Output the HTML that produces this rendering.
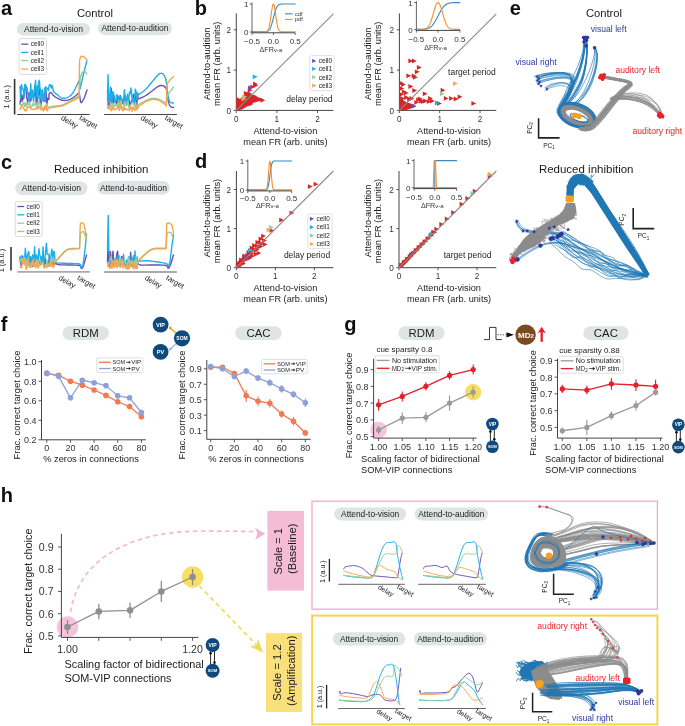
<!DOCTYPE html>
<html><head><meta charset="utf-8"><style>
html,body{margin:0;padding:0;background:#fff;}
svg{display:block;will-change:transform;font-family:"Liberation Sans", sans-serif;}
</style></head><body>
<svg width="685" height="726" viewBox="0 0 685 726">
<text x="0.9" y="14.7" font-size="20" text-anchor="start" fill="#111" font-weight="bold">a</text>
<text x="95" y="16.61" font-size="11.2" text-anchor="middle" fill="#1a1a1a">Control</text>
<rect x="17" y="23" width="73" height="12.4" rx="6.2" fill="#dfe4e4" stroke="none" stroke-width="1"/>
<text x="53.5" y="32.24" font-size="8.5" text-anchor="middle" fill="#222">Attend-to-vision</text>
<rect x="98" y="22.4" width="74" height="12.5" rx="6.25" fill="#dfe4e4" stroke="none" stroke-width="1"/>
<text x="135" y="31.14" font-size="8.5" text-anchor="middle" fill="#222">Attend-to-audition</text>
<rect x="19.2" y="38.6" width="27.3" height="35.8" rx="1.5" fill="white" stroke="#d8d8d8" stroke-width="0.9"/>
<line x1="21.2" y1="44.2" x2="28.3" y2="44.2" stroke="#6a4fb5" stroke-width="1.3"/>
<text x="30.8" y="46.49" font-size="6.4" text-anchor="start" fill="#222">cell0</text>
<line x1="21.2" y1="52.4" x2="28.3" y2="52.4" stroke="#1ab0ea" stroke-width="1.3"/>
<text x="30.8" y="54.69" font-size="6.4" text-anchor="start" fill="#222">cell1</text>
<line x1="21.2" y1="60.5" x2="28.3" y2="60.5" stroke="#90d0a0" stroke-width="1.3"/>
<text x="30.8" y="62.79" font-size="6.4" text-anchor="start" fill="#222">cell2</text>
<line x1="21.2" y1="69.1" x2="28.3" y2="69.1" stroke="#f8a54e" stroke-width="1.3"/>
<text x="30.8" y="71.39" font-size="6.4" text-anchor="start" fill="#222">cell3</text>
<line x1="14.6" y1="79" x2="14.6" y2="114.5" stroke="#333" stroke-width="1.6"/>
<text x="9.4" y="96.7" font-size="7.4" text-anchor="middle" fill="#1a1a1a" transform="rotate(-90 9.4 96.7)">1 (a.u.)</text>
<line x1="17.2" y1="114.5" x2="89.8" y2="114.5" stroke="#444" stroke-width="1"/>
<line x1="104.2" y1="114.5" x2="176.9" y2="114.5" stroke="#444" stroke-width="1"/>
<text x="60.4" y="119.3" font-size="7.6" text-anchor="start" fill="#1a1a1a" transform="rotate(30 60.4 119.3)">delay</text>
<text x="78.8" y="119.3" font-size="7.6" text-anchor="start" fill="#1a1a1a" transform="rotate(30 78.8 119.3)">target</text>
<text x="140" y="119.3" font-size="7.6" text-anchor="start" fill="#1a1a1a" transform="rotate(30 140 119.3)">delay</text>
<text x="164.3" y="119.3" font-size="7.6" text-anchor="start" fill="#1a1a1a" transform="rotate(30 164.3 119.3)">target</text>
<polyline points="20,104.25 20.97,94.21 22.12,101.56 23,94.94 23.64,98.79 24.72,86.5 25.68,85.39 26.56,96.68 27.77,102.36 28.98,92.94 29.68,92.53 30.43,101.33 31.4,98.92 32.6,94.44 33.26,93.43 34.21,96.3 35.16,85.51 36.42,105.1 37.07,101.73 37.64,86.91 38.42,94.65 39.67,88.14 40.24,103.61 40.89,105.66 42.12,94.53 43.03,98.51 44.02,93.81 45.08,101.82 45.99,90.05 46.95,104.45 47.54,98.28 48.33,99.65 48.91,99.23 49,94 49.26,93.72 49.63,93.29 50.07,92.85 50.54,92.54 51,92.5 51.44,92.81 51.87,93.38 52.33,94.08 52.86,94.83 53.5,95.5 54.25,96.12 55.08,96.75 56,97.37 56.97,97.96 58,98.5 59.1,99.02 60.29,99.53 61.53,99.98 62.78,100.32 64,100.5 65.22,100.49 66.45,100.34 67.67,100.06 68.86,99.71 70,99.3 71.08,98.83 72.11,98.27 73.11,97.64 74.07,96.98 75,96.3 75.96,95.53 76.94,94.66 77.86,93.78 78.64,93.03 79.2,92.5 80.5,101.5 80.61,101.72 80.76,102.07 80.94,102.41 81.19,102.6 81.5,102.5 81.9,102.09 82.37,101.48 82.89,100.66 83.44,99.67 84,98.5 84.62,96.95 85.31,95.02 85.99,93 86.58,91.23 87,90" fill="none" stroke="#6a4fb5" stroke-width="1.4" stroke-linejoin="round" stroke-linecap="round"/>
<polyline points="20,86.25 20.58,98.24 21.57,84.8 22.23,88.13 23.3,89.63 23.91,97.4 24.93,84.08 25.84,85.45 26.38,88.91 27.05,87.73 28.07,95.72 28.83,98.25 29.34,101.51 30.16,94.22 30.77,83.8 31.42,98.98 32.26,89.71 32.89,93.57 33.58,101.99 34.5,88.72 35.6,80.35 36.58,96.85 37.58,85.75 38.15,98.63 38.63,82.24 39.34,80.19 40.1,89.78 40.68,89.93 41.48,101.02 42.3,89.67 43.08,101.51 43.83,97.48 44.63,87.84 45.24,101.07 45.76,86.82 46.49,88.34 47.45,88.17 48.49,90.63 49,86 49.16,85.72 49.4,85.27 49.67,84.81 49.95,84.5 50.2,84.5 50.43,84.98 50.66,85.83 50.88,86.79 51.09,87.6 51.3,88 51.51,87.84 51.72,87.31 51.91,86.61 52.08,85.94 52.2,85.5 53.5,91.5 53.97,91.91 54.62,92.48 55.4,93.16 56.21,93.85 57,94.5 57.78,95.14 58.61,95.81 59.45,96.46 60.26,97.04 61,97.5 61.65,97.83 62.22,98.07 62.78,98.22 63.35,98.3 64,98.3 64.74,98.24 65.53,98.1 66.35,97.88 67.18,97.58 68,97.2 68.8,96.76 69.6,96.25 70.4,95.65 71.2,94.92 72,94 72.81,92.84 73.64,91.47 74.46,89.98 75.25,88.46 76,87 76.74,85.49 77.49,83.86 78.19,82.3 78.78,80.95 79.2,80 80.2,88.5 83,76 86.8,61" fill="none" stroke="#1ab0ea" stroke-width="1.4" stroke-linejoin="round" stroke-linecap="round"/>
<polyline points="20,104.47 20.6,103.57 21.36,105.41 22.02,105.97 23.27,103.36 24.01,102.29 24.78,106.81 25.72,102.89 26.36,105.7 27.03,102.93 28.22,105.05 29.47,102.33 30.52,106.51 31.73,106.71 32.9,103.38 34.11,105.72 34.88,103.83 35.61,102.12 36.66,105.8 37.63,107.15 38.84,100.77 39.9,102.79 40.48,106.18 41.65,106.79 42.37,107.8 43.43,108.96 44.45,109.33 45.52,107.05 46.17,108 46.74,104.25 47.53,106.76 48.31,107.18 49,107 49.8,106.86 50.92,106.67 52.24,106.45 53.64,106.22 55,106 56.32,105.85 57.68,105.74 59.08,105.62 60.52,105.39 62,105 63.52,104.41 65.08,103.66 66.68,102.82 68.32,101.91 70,101 71.88,99.98 73.96,98.83 76,97.69 77.76,96.7 79,96 80.2,78 80.43,77.27 80.76,76.22 81.14,75.02 81.57,73.89 82,73 82.46,72.33 82.96,71.74 83.48,71.3 84,71.03 84.5,71 85.01,71.33 85.54,71.98 86.06,72.78 86.49,73.51 86.8,74" fill="none" stroke="#90d0a0" stroke-width="1.4" stroke-linejoin="round" stroke-linecap="round"/>
<polyline points="20,109.42 20.72,108.53 21.83,104.55 22.68,105.87 23.74,108.86 24.3,109.14 25.12,111.07 25.82,109.82 26.52,110.41 27.08,106.79 27.75,107.12 28.53,106.71 29.38,107.68 30.34,106.86 31.3,109.49 32.14,109.49 33.17,109.37 34.27,108.82 34.83,109.01 35.8,109.32 37.04,106.63 37.75,108.63 38.62,108.6 39.17,106.49 40.24,107.16 41.09,110.03 41.77,109.23 42.56,108.44 43.43,111.04 44.39,106.26 45.52,109.35 46.12,104.82 46.84,110.52 47.43,110.86 48.16,108.3 49,108 49.8,107.86 50.92,107.67 52.24,107.45 53.64,107.22 55,107 56.32,106.85 57.68,106.74 59.08,106.62 60.52,106.39 62,106 63.52,105.4 65.08,104.64 66.68,103.78 68.32,102.88 70,102 71.88,101.06 73.96,100.02 76,99 77.76,98.12 79,97.5 79.6,60 79.76,59.46 79.98,58.66 80.26,57.78 80.6,57 81,56.5 81.5,56.3 82.09,56.29 82.74,56.43 83.39,56.68 84,57 84.62,57.49 85.27,58.16 85.89,58.9 86.42,59.55 86.8,60" fill="none" stroke="#f8a54e" stroke-width="1.4" stroke-linejoin="round" stroke-linecap="round"/>
<polyline points="107.5,90.14 108.09,102.71 109,106.66 109.6,103.71 110.3,99.47 111.13,88.27 111.88,93.22 113.01,103.73 113.81,95.46 114.5,99.8 115.46,100.72 116.51,103.75 117.68,96.44 118.3,103.67 119.19,103.88 120.15,95.33 121.11,99.04 122.33,103.42 123.38,98.23 124.12,104.51 125,95.47 126.09,105.02 127.26,104.61 128.43,97.89 129.27,101.04 129.92,105.38 130.81,102.27 131.65,100.95 132.69,100.49 133.27,94.22 134.38,104.12 135.38,94.12 136.04,96 136.68,106.62 137.85,93.73 138,99 138.95,98.62 140.3,98.11 141.86,97.49 143.49,96.78 145,96 146.42,95.12 147.85,94.12 149.27,93.06 150.66,92 152,91 153.3,90.01 154.57,89 155.79,88.02 156.94,87.17 158,86.5 158.94,86.04 159.79,85.73 160.57,85.55 161.3,85.48 162,85.5 162.68,85.62 163.33,85.85 163.93,86.17 164.49,86.56 165,87 165.47,87.55 165.89,88.24 166.27,88.94 166.57,89.57 166.8,90 168,100 168.25,100.89 168.58,102.18 169,103.64 169.47,104.99 170,106 170.66,106.61 171.46,107 172.28,107.22 173,107.37 173.5,107.5" fill="none" stroke="#6a4fb5" stroke-width="1.4" stroke-linejoin="round" stroke-linecap="round"/>
<polyline points="107.5,100 108,74.5 108.6,95 109.5,102.97 110.43,87.01 111.05,97.5 111.84,103.36 112.47,91.66 113.53,92.84 114.64,102.5 115.55,100.31 116.44,95.64 116.96,94.72 118.05,96.08 118.71,101.98 119.68,100.76 120.77,96.18 121.35,100.67 122.4,100.15 123.04,103.16 123.79,98.02 124.38,89.65 125.49,102.26 125.97,97.39 126.73,101.34 127.48,94.13 128.02,102.43 129.01,96.37 129.53,91.83 130.38,93.68 130.86,87.98 131.36,90.45 132.21,101.69 132.75,97.82 133.33,101.9 133.89,98.34 134.67,101.21 135.28,89.16 136.21,92.01 136.97,100.51 137.77,93.07 138,95 138.95,94.37 140.3,93.5 141.86,92.46 143.49,91.27 145,90 146.43,88.56 147.9,86.92 149.34,85.2 150.73,83.52 152,82 153.16,80.62 154.24,79.29 155.24,78.05 156.16,76.94 157,76 157.73,75.23 158.34,74.6 158.9,74.12 159.43,73.75 160,73.5 160.61,73.35 161.22,73.32 161.84,73.4 162.43,73.63 163,74 163.57,74.64 164.16,75.54 164.7,76.52 165.17,77.4 165.5,78 167,86 168,96 168.25,96.9 168.58,98.21 169,99.67 169.47,101.02 170,102 170.66,102.54 171.46,102.81 172.28,102.91 173,102.94 173.5,103" fill="none" stroke="#1ab0ea" stroke-width="1.4" stroke-linejoin="round" stroke-linecap="round"/>
<polyline points="107.5,104.44 108.23,108.09 109.32,107.6 110.43,104.73 111.46,106.71 112.2,103.29 112.98,106.97 113.84,107.48 114.59,104.07 115.6,105.75 116.51,104.5 117.75,107.68 118.51,100.51 119.43,108.39 120.11,103.38 121.27,100.95 121.83,106.74 122.59,108.02 123.85,107.21 124.67,101.5 125.86,105.4 126.99,104.46 128.04,101.08 128.77,107.33 129.33,108.23 130.05,107.27 130.89,104.44 131.77,102.66 132.53,103.83 133.77,103.09 134.54,105.92 135.76,102.35 136.34,109.14 137.39,105.91 137.98,107.29 138,105 138.95,104.43 140.3,103.62 141.86,102.68 143.49,101.77 145,101 146.42,100.36 147.85,99.75 149.27,99.21 150.66,98.78 152,98.5 153.28,98.38 154.52,98.39 155.72,98.51 156.88,98.72 158,99 159.09,99.38 160.15,99.88 161.17,100.44 162.12,101 163,101.5 163.82,101.96 164.6,102.43 165.3,102.87 165.88,103.24 166.3,103.5 167.5,95 167.82,94.62 168.27,94.11 168.81,93.49 169.4,92.78 170,92 170.69,91.05 171.5,89.9 172.3,88.74 173.01,87.71 173.5,87" fill="none" stroke="#90d0a0" stroke-width="1.4" stroke-linejoin="round" stroke-linecap="round"/>
<polyline points="107.5,107.58 108.72,108.88 109.59,105.49 110.22,108.91 111.17,110.8 112.37,106.82 113.01,109.59 114.18,108.71 115.34,109.58 116.37,109.45 117.61,107.15 118.27,106.36 119.24,110.65 120,107.72 120.89,104.08 121.45,108.85 122.55,110.65 123.13,110.74 124.21,106.97 125.01,109.76 126.09,108.54 127.31,109.88 128.51,109.4 129.27,110.65 129.92,108.82 130.5,106.45 131.21,108.57 132.05,111.38 132.95,106.56 134.17,109.26 135.02,110.57 135.89,104.94 136.76,108.99 137.5,109.59 138,107 138.95,106.28 140.3,105.24 141.86,104.06 143.49,102.92 145,102 146.42,101.29 147.85,100.68 149.27,100.16 150.66,99.77 152,99.5 153.28,99.37 154.52,99.36 155.72,99.48 156.88,99.69 158,100 159.09,100.44 160.15,101.02 161.17,101.68 162.12,102.36 163,103 163.82,103.65 164.6,104.34 165.3,105.02 165.88,105.59 166.3,106 167,84 167.4,83.45 167.96,82.66 168.62,81.76 169.32,80.83 170,80 170.72,79.21 171.53,78.4 172.33,77.62 173.02,76.97 173.5,76.5" fill="none" stroke="#f8a54e" stroke-width="1.4" stroke-linejoin="round" stroke-linecap="round"/>
<text x="0.95" y="168.5" font-size="20" text-anchor="start" fill="#111" font-weight="bold">c</text>
<text x="101.2" y="172.72" font-size="11.5" text-anchor="middle" fill="#1a1a1a">Reduced inhibition</text>
<rect x="15.3" y="181.6" width="72.1" height="13.3" rx="6.65" fill="#dfe4e4" stroke="none" stroke-width="1"/>
<text x="51.35" y="191.29" font-size="8.5" text-anchor="middle" fill="#222">Attend-to-vision</text>
<rect x="97.1" y="181" width="72.7" height="13.4" rx="6.7" fill="#dfe4e4" stroke="none" stroke-width="1"/>
<text x="133.45" y="190.74" font-size="8.5" text-anchor="middle" fill="#222">Attend-to-audition</text>
<rect x="15.3" y="201.6" width="26.9" height="34.9" rx="1.5" fill="white" stroke="#d8d8d8" stroke-width="0.9"/>
<line x1="17.4" y1="206.5" x2="24.2" y2="206.5" stroke="#6a4fb5" stroke-width="1.3"/>
<text x="26.6" y="208.79" font-size="6.4" text-anchor="start" fill="#222">cell0</text>
<line x1="17.4" y1="214.8" x2="24.2" y2="214.8" stroke="#1ab0ea" stroke-width="1.3"/>
<text x="26.6" y="217.09" font-size="6.4" text-anchor="start" fill="#222">cell1</text>
<line x1="17.4" y1="223.2" x2="24.2" y2="223.2" stroke="#90d0a0" stroke-width="1.3"/>
<text x="26.6" y="225.49" font-size="6.4" text-anchor="start" fill="#222">cell2</text>
<line x1="17.4" y1="231.5" x2="24.2" y2="231.5" stroke="#f8a54e" stroke-width="1.3"/>
<text x="26.6" y="233.79" font-size="6.4" text-anchor="start" fill="#222">cell3</text>
<line x1="11" y1="247" x2="11" y2="270.4" stroke="#333" stroke-width="1.6"/>
<text x="4.3" y="260.6" font-size="7.4" text-anchor="middle" fill="#1a1a1a" transform="rotate(-90 4.3 260.6)">1 (a.u.)</text>
<line x1="17.2" y1="271.9" x2="89.8" y2="271.9" stroke="#aaa" stroke-width="1.8"/>
<line x1="104.2" y1="272" x2="176.9" y2="272" stroke="#aaa" stroke-width="1.8"/>
<text x="58" y="279.3" font-size="7.6" text-anchor="start" fill="#1a1a1a" transform="rotate(30 58 279.3)">delay</text>
<text x="76.8" y="279.3" font-size="7.6" text-anchor="start" fill="#1a1a1a" transform="rotate(30 76.8 279.3)">target</text>
<text x="144.2" y="279.3" font-size="7.6" text-anchor="start" fill="#1a1a1a" transform="rotate(30 144.2 279.3)">delay</text>
<text x="165.6" y="279.3" font-size="7.6" text-anchor="start" fill="#1a1a1a" transform="rotate(30 165.6 279.3)">target</text>
<polyline points="20,258.01 20.6,262.32 21.23,265.83 22.1,255.7 22.94,263.47 23.53,260.19 24.51,257.9 25.32,263.13 25.92,263.06 26.78,258.81 27.56,259.18 28.17,265.24 29.3,264.92 30.06,261.44 30.67,259.67 31.39,262.51 32.61,266.42 33.45,264.92 34.69,260.33 35.94,259.57 36.75,257.12 37.43,259.95 38.05,256.67 39.17,263.5 40.03,263.27 41.22,260.99 42.35,262.62 43.19,260.63 44.32,265.8 45.27,258.78 45.86,263.45 46.81,262.7 47.35,265.07 48.51,265.92 49.38,255.76 50.26,261.39 51.18,265.71 52.35,259.02 53.38,262.84 54.17,264.92 54.99,263.79 55,262 55.26,262.37 55.55,262.92 56.01,263.52 56.78,264.09 58,264.5 59.86,264.73 62.27,264.84 64.95,264.9 67.62,264.93 70,265 72.19,265.07 74.36,265.1 76.4,265.16 78.15,265.27 79.5,265.5 80.3,265.93 80.65,266.52 80.75,267.16 80.8,267.69 81,268 81.34,268.2 81.69,268.38 82.07,268.36 82.5,267.96 83,267 83.66,265.11 84.46,262.42 85.28,259.46 86,256.81 86.5,255" fill="none" stroke="#6a4fb5" stroke-width="1.4" stroke-linejoin="round" stroke-linecap="round"/>
<polyline points="20,256.26 21.12,263.19 22.08,260.97 23.05,257.06 23.61,257.05 24.37,262.23 25.34,248.12 26.01,256.07 27.09,262.17 27.63,254.49 28.74,251.38 29.81,263.59 30.39,256.62 30.95,257.1 31.77,262.12 32.66,254.85 33.4,259.65 34,255.68 34.64,246.81 35.32,260.76 36.43,254.85 37.28,260.52 37.96,259.05 38.95,248.8 39.77,254.8 40.83,259.89 41.52,256.76 42.29,260.94 43.11,246.86 43.7,264.19 44.78,259.24 45.84,249.64 46.41,243.13 47.21,254.51 47.98,254.08 49,254.09 49.58,262.87 50.62,262.25 51.3,252.6 51.93,249.31 53.03,257.97 54,251.09 54.59,254.24 55,262 55.26,262.14 55.55,262.35 56.01,262.59 56.78,262.82 58,263 59.86,263.13 62.27,263.24 64.95,263.32 67.62,263.41 70,263.5 72.19,263.56 74.36,263.58 76.4,263.62 78.15,263.74 79.5,264 80.3,264.52 80.65,265.26 80.75,266.04 80.8,266.68 81,267 81.4,266.89 81.86,266.46 82.32,265.9 82.72,265.35 83,265 85,250 86.5,234" fill="none" stroke="#1ab0ea" stroke-width="1.4" stroke-linejoin="round" stroke-linecap="round"/>
<polyline points="20,261.83 21.26,258.73 22.05,260.1 22.82,263.26 24.02,257.59 24.99,257.74 25.95,259.66 26.89,263.82 28.12,264.2 29.13,265.73 29.81,267.85 31.01,264.74 32.03,261.62 32.99,265.5 33.84,264.52 35.1,265.63 36.31,261.2 36.92,259.24 37.71,266.41 38.27,263.83 38.96,259.92 40.09,260.16 40.99,262.88 42.07,264.24 42.86,262.07 44.08,266.09 44.87,266.34 45.6,266.91 46.23,264.88 46.9,259.62 47.59,264.13 48.73,265.42 49.29,266.38 50.37,263.69 51.08,258.65 51.73,262.81 52.63,259.54 53.19,258.82 54.44,261.76 55,262 55.39,261.56 55.94,260.94 56.58,260.21 57.29,259.41 58,258.6 58.74,257.74 59.53,256.8 60.35,255.83 61.18,254.88 62,254 62.8,253.17 63.6,252.35 64.4,251.59 65.2,250.89 66,250.3 66.71,249.83 67.34,249.45 68,249.15 68.85,248.91 70,248.7 71.7,248.54 73.86,248.43 76.12,248.37 78.12,248.34 79.5,248.3 80.5,233 80.7,232.84 80.97,232.6 81.29,232.34 81.64,232.12 82,232 82.36,231.89 82.74,231.76 83.14,231.72 83.56,231.93 84,232.5 84.51,233.67 85.08,235.36 85.66,237.2 86.15,238.87 86.5,240" fill="none" stroke="#90d0a0" stroke-width="1.4" stroke-linejoin="round" stroke-linecap="round"/>
<polyline points="20,267.73 20.88,267.01 21.79,267.78 22.6,259.11 23.31,258.01 24.38,264.57 25.16,258.26 25.96,269.29 27.17,267.11 28.06,258.72 28.77,262.66 29.95,264.05 31.02,267.29 31.7,262.96 32.51,265.17 33.32,259.52 34.58,266.2 35.66,267.74 36.65,261.52 37.85,267.87 38.47,267.58 39.28,263.71 40.51,265.55 41.47,263.46 42.19,263.03 43.31,263.11 43.89,267.99 44.55,267.21 45.8,265.11 47.03,267.56 47.72,262.38 48.69,265.77 49.46,265.27 50,266.32 50.97,264.98 51.7,265.73 52.33,263.26 53.19,267.75 53.83,266.07 54.52,261.36 55,262 55.39,261.62 55.94,261.09 56.58,260.45 57.29,259.74 58,259 58.74,258.18 59.53,257.27 60.35,256.31 61.18,255.37 62,254.5 62.8,253.68 63.6,252.86 64.4,252.09 65.2,251.39 66,250.8 66.71,250.33 67.34,249.95 68,249.65 68.85,249.41 70,249.2 71.7,249.04 73.86,248.93 76.12,248.87 78.12,248.84 79.5,248.8 80.3,223.5 80.53,223.37 80.84,223.18 81.22,222.98 81.61,222.83 82,222.8 82.41,222.94 82.87,223.2 83.33,223.52 83.72,223.81 84,224 86.5,237" fill="none" stroke="#f8a54e" stroke-width="1.4" stroke-linejoin="round" stroke-linecap="round"/>
<polyline points="107.5,262 108,245 109,261.18 109.68,267.87 110.49,251.73 111.38,267.14 111.98,259.31 112.99,251.21 114,266.89 115,263.05 115.83,264.75 116.92,253.37 117.66,251.26 118.21,260.63 119.05,265.05 119.84,266.53 120.64,265.05 121.73,256.36 122.31,257.04 123.25,262.15 124.16,264.14 125.26,263.09 125.8,268.01 126.78,267.53 127.65,266.47 128.73,263.81 129.87,264.69 130.66,252.2 131.41,266.11 132.02,264.6 132.92,264.97 133.77,265.08 134.42,261.13 135.61,266.82 136.21,266.02 137.03,268.3 137.5,263 137.81,263.3 138.14,263.75 138.68,264.25 139.57,264.7 141,265 143.18,265.12 145.99,265.12 149.11,265.06 152.22,265 155,265 157.54,265.04 160.05,265.07 162.39,265.13 164.42,265.26 166,265.5 166.98,265.94 167.45,266.57 167.63,267.23 167.74,267.76 168,268 168.38,268.03 168.73,267.96 169.09,267.66 169.5,267.05 170,266 170.66,264.2 171.46,261.72 172.28,259.04 173,256.64 173.5,255" fill="none" stroke="#6a4fb5" stroke-width="1.4" stroke-linejoin="round" stroke-linecap="round"/>
<polyline points="107.5,250 108.2,215.5 108.8,250 109.5,252.99 110.09,264.89 110.71,264.08 111.31,266.19 112.42,264.69 113.48,261.46 114.13,265.23 114.62,259.73 115.43,258.33 116.18,265.88 117.15,258.93 117.79,256.1 118.39,265.39 119.31,255.96 120.37,262.73 121.11,261.33 121.92,261.79 122.83,264.67 123.46,254.4 124.29,262.04 125.09,265.4 125.8,265.39 126.37,260.16 127.27,265.78 128.26,258.04 129.07,256.68 129.8,263.41 130.79,263.31 131.6,257.27 132.5,263.05 133.52,255.62 134.04,263.27 134.53,259.34 135.03,250.92 135.77,264.95 136.47,264.36 137.46,257.33 137.5,262 137.89,261.85 138.38,261.62 139.04,261.38 139.89,261.15 141,261 142.34,260.9 143.87,260.81 145.63,260.77 147.66,260.82 150,261 152.98,261.33 156.57,261.79 160.27,262.34 163.58,262.92 166,263.5 167.3,264.2 167.81,265.07 167.87,265.89 167.82,266.46 168,266.6 168.43,266.1 168.9,265.09 169.34,263.88 169.73,262.75 170,262 172,245 173.5,235" fill="none" stroke="#1ab0ea" stroke-width="1.4" stroke-linejoin="round" stroke-linecap="round"/>
<polyline points="107.5,263.24 108.47,265.64 109.04,262.5 110.27,259.01 111.38,256.34 112.08,265.23 113.3,266.6 114.54,266.7 115.11,266.31 116.24,260.36 116.93,259.79 117.74,266.13 118.34,265.37 119.17,263.68 119.77,257.17 120.99,264.09 121.6,260.68 122.83,264.5 123.93,261.25 124.81,261.16 125.76,263.8 126.89,263.54 127.45,267.11 128.3,260.87 129.28,257.72 130.12,266.51 131.34,263.51 131.95,260.84 132.59,263.91 133.72,262.31 134.78,260.62 135.5,266.61 136.19,256.46 137.25,265.55 137.5,262 137.95,261.47 138.58,260.74 139.32,259.86 140.15,258.93 141,258 141.9,257.04 142.89,256 143.93,254.94 144.98,253.92 146,253 147,252.17 148,251.38 149,250.66 150,250.03 151,249.5 151.92,249.1 152.76,248.8 153.64,248.59 154.68,248.43 156,248.3 157.84,248.21 160.12,248.18 162.48,248.18 164.56,248.2 166,248.2 167,232.6 167.26,232.54 167.63,232.43 168.07,232.33 168.54,232.27 169,232.3 169.48,232.36 169.99,232.42 170.51,232.57 171.02,232.9 171.5,233.5 171.96,234.56 172.43,236.03 172.87,237.61 173.24,239.03 173.5,240" fill="none" stroke="#90d0a0" stroke-width="1.4" stroke-linejoin="round" stroke-linecap="round"/>
<polyline points="107.5,266.08 108.19,264.57 109.42,267.98 110.38,267.27 111.29,262.96 111.96,268.41 113.2,260.25 114.04,260.91 114.63,266.99 115.8,258.99 116.5,267.02 117.4,267.62 118.53,261.2 119.65,265.42 120.35,266.75 120.98,267.21 122.07,258.27 122.88,267.77 123.81,266.66 124.68,265.36 125.93,268.55 127.05,264.37 127.75,269.21 128.37,265.18 129.28,268.82 130.5,261.19 131.74,261.41 132.47,267.77 133.17,264.77 133.83,268.92 134.49,263.24 135.53,268.21 136.65,266.55 137.39,268.24 137.5,262 137.95,261.55 138.58,260.92 139.32,260.18 140.15,259.35 141,258.5 141.9,257.57 142.89,256.54 143.93,255.46 144.98,254.43 146,253.5 147,252.67 148,251.88 149,251.16 150,250.53 151,250 151.92,249.6 152.76,249.3 153.64,249.09 154.68,248.93 156,248.8 157.84,248.71 160.12,248.68 162.48,248.68 164.56,248.7 166,248.7 166.8,223.3 167.09,223.22 167.48,223.09 167.96,222.97 168.47,222.92 169,223 169.6,223.28 170.29,223.73 170.98,224.23 171.58,224.69 172,225 173.5,233.5" fill="none" stroke="#f8a54e" stroke-width="1.4" stroke-linejoin="round" stroke-linecap="round"/>
<text x="194.8" y="14.7" font-size="20" text-anchor="start" fill="#111" font-weight="bold">b</text>
<line x1="236.3" y1="13.4" x2="236.3" y2="110.4" stroke="#444" stroke-width="1"/>
<line x1="236.3" y1="110.4" x2="333.4" y2="110.4" stroke="#444" stroke-width="1"/>
<line x1="233.7" y1="110.4" x2="236.3" y2="110.4" stroke="#444" stroke-width="0.9"/>
<text x="231" y="113.64" font-size="8.2" text-anchor="end" fill="#333">0</text>
<line x1="236.3" y1="110.4" x2="236.3" y2="113" stroke="#444" stroke-width="0.9"/>
<text x="236.3" y="122.04" font-size="8.2" text-anchor="middle" fill="#333">0</text>
<line x1="233.7" y1="70.1" x2="236.3" y2="70.1" stroke="#444" stroke-width="0.9"/>
<text x="231" y="73.34" font-size="8.2" text-anchor="end" fill="#333">1</text>
<line x1="276.9" y1="110.4" x2="276.9" y2="113" stroke="#444" stroke-width="0.9"/>
<text x="276.9" y="122.04" font-size="8.2" text-anchor="middle" fill="#333">1</text>
<line x1="233.7" y1="29.8" x2="236.3" y2="29.8" stroke="#444" stroke-width="0.9"/>
<text x="231" y="33.04" font-size="8.2" text-anchor="end" fill="#333">2</text>
<line x1="317.5" y1="110.4" x2="317.5" y2="113" stroke="#444" stroke-width="0.9"/>
<text x="317.5" y="122.04" font-size="8.2" text-anchor="middle" fill="#333">2</text>
<text x="285.4" y="134.29" font-size="9.2" text-anchor="middle" fill="#222">Attend-to-vision</text>
<text x="285.4" y="145.09" font-size="9.2" text-anchor="middle" fill="#222">mean FR (arb. units)</text>
<text x="209.8" y="63.8" font-size="9.2" text-anchor="middle" fill="#1a1a1a" transform="rotate(-90 209.8 63.8)">Attend-to-audition</text>
<text x="219.7" y="63.8" font-size="9.2" text-anchor="middle" fill="#1a1a1a" transform="rotate(-90 219.7 63.8)">mean FR (arb. units)</text>
<polyline points="252,31.8 252.36,31.8 252.72,31.8 253.08,31.8 253.44,31.8 253.8,31.8 254.16,31.8 254.52,31.8 254.88,31.8 255.24,31.8 255.6,31.8 255.96,31.8 256.32,31.8 256.68,31.8 257.04,31.8 257.4,31.8 257.76,31.8 258.12,31.8 258.48,31.8 258.84,31.8 259.2,31.8 259.56,31.8 259.92,31.8 260.28,31.8 260.64,31.8 261,31.8 261.36,31.8 261.72,31.8 262.08,31.8 262.44,31.8 262.8,31.8 263.16,31.8 263.52,31.79 263.88,31.79 264.24,31.79 264.6,31.78 264.96,31.76 265.32,31.75 265.68,31.72 266.04,31.68 266.4,31.63 266.76,31.55 267.12,31.45 267.48,31.32 267.84,31.15 268.2,30.92 268.56,30.63 268.92,30.28 269.28,29.84 269.64,29.31 270,28.68 270.36,27.94 270.72,27.09 271.08,26.14 271.44,25.07 271.8,23.91 272.16,22.66 272.52,21.33 272.88,19.95 273.24,18.53 273.6,17.11 273.96,15.7 274.32,14.32 274.68,13 275.04,11.76 275.4,10.6 275.76,9.55 276.12,8.61 276.48,7.77 276.84,7.05 277.2,6.43 277.56,5.91 277.92,5.48 278.28,5.13 278.64,4.85 279,4.63 279.36,4.46 279.72,4.33 280.08,4.24 280.44,4.17 280.8,4.11 281.16,4.08 281.52,4.05 281.88,4.03 282.24,4.02 282.6,4.01 282.96,4.01 283.32,4.01 283.68,4 284.04,4 284.4,4 284.76,4 285.12,4 285.48,4 285.84,4 286.2,4 286.56,4 286.92,4 287.28,4 287.64,4 288,4 288.36,4 288.72,4 289.08,4 289.44,4 289.8,4 290.16,4 290.52,4 290.88,4 291.24,4 291.6,4 291.96,4 292.32,4 292.68,4 293.04,4 293.4,4 293.76,4 294.12,4 294.48,4 294.84,4 295.2,4" fill="none" stroke="#3a87c4" stroke-width="1.1" stroke-linejoin="round" stroke-linecap="round"/>
<polyline points="252,31.8 252.36,31.8 252.72,31.8 253.08,31.8 253.44,31.8 253.8,31.8 254.16,31.8 254.52,31.8 254.88,31.8 255.24,31.8 255.6,31.8 255.96,31.8 256.32,31.8 256.68,31.8 257.04,31.8 257.4,31.8 257.76,31.8 258.12,31.8 258.48,31.8 258.84,31.8 259.2,31.8 259.56,31.8 259.92,31.8 260.28,31.8 260.64,31.8 261,31.8 261.36,31.8 261.72,31.8 262.08,31.8 262.44,31.8 262.8,31.8 263.16,31.8 263.52,31.8 263.88,31.79 264.24,31.79 264.6,31.78 264.96,31.77 265.32,31.74 265.68,31.7 266.04,31.63 266.4,31.53 266.76,31.37 267.12,31.13 267.48,30.79 267.84,30.3 268.2,29.64 268.56,28.76 268.92,27.63 269.28,26.21 269.64,24.49 270,22.48 270.36,20.19 270.72,17.7 271.08,15.09 271.44,12.46 271.8,9.97 272.16,7.76 272.52,5.96 272.88,4.7 273.24,4.07 273.6,4.1 273.96,4.81 274.32,6.14 274.68,7.99 275.04,10.24 275.4,12.75 275.76,15.38 276.12,17.99 276.48,20.46 276.84,22.72 277.2,24.7 277.56,26.38 277.92,27.77 278.28,28.87 278.64,29.73 279,30.37 279.36,30.83 279.72,31.16 280.08,31.39 280.44,31.54 280.8,31.64 281.16,31.71 281.52,31.75 281.88,31.77 282.24,31.78 282.6,31.79 282.96,31.8 283.32,31.8 283.68,31.8 284.04,31.8 284.4,31.8 284.76,31.8 285.12,31.8 285.48,31.8 285.84,31.8 286.2,31.8 286.56,31.8 286.92,31.8 287.28,31.8 287.64,31.8 288,31.8 288.36,31.8 288.72,31.8 289.08,31.8 289.44,31.8 289.8,31.8 290.16,31.8 290.52,31.8 290.88,31.8 291.24,31.8 291.6,31.8 291.96,31.8 292.32,31.8 292.68,31.8 293.04,31.8 293.4,31.8 293.76,31.8 294.12,31.8 294.48,31.8 294.84,31.8 295.2,31.8" fill="none" stroke="#f78d2c" stroke-width="1.1" stroke-linejoin="round" stroke-linecap="round"/>
<line x1="252" y1="2.5" x2="252" y2="32.8" stroke="#666" stroke-width="1"/>
<line x1="252" y1="32.8" x2="295.2" y2="32.8" stroke="#444" stroke-width="1"/>
<line x1="249.8" y1="4" x2="252" y2="4" stroke="#444" stroke-width="0.8"/>
<text x="248.4" y="7.16" font-size="8" text-anchor="end" fill="#333">1</text>
<line x1="249.8" y1="32" x2="252" y2="32" stroke="#444" stroke-width="0.8"/>
<text x="248.4" y="35.16" font-size="8" text-anchor="end" fill="#333">0</text>
<line x1="252" y1="32.8" x2="252" y2="35" stroke="#444" stroke-width="0.8"/>
<text x="252" y="44.26" font-size="8" text-anchor="middle" fill="#333">−0.5</text>
<line x1="273.4" y1="32.8" x2="273.4" y2="35" stroke="#444" stroke-width="0.8"/>
<text x="273.4" y="44.26" font-size="8" text-anchor="middle" fill="#333">0.0</text>
<line x1="295.2" y1="32.8" x2="295.2" y2="35" stroke="#444" stroke-width="0.8"/>
<text x="295.2" y="44.26" font-size="8" text-anchor="middle" fill="#333">0.5</text>
<text x="270.9" y="51.88" font-size="7.2" text-anchor="middle" fill="#333">ΔFR<tspan font-size="6">v-a</tspan></text>
<line x1="285" y1="13.8" x2="292.6" y2="13.8" stroke="#3a87c4" stroke-width="1.1"/>
<line x1="285" y1="19.4" x2="292.6" y2="19.4" stroke="#f78d2c" stroke-width="1.1"/>
<text x="294.9" y="15.68" font-size="5.8" text-anchor="start" fill="#333">cdf</text>
<text x="294.9" y="21.28" font-size="5.8" text-anchor="start" fill="#333">pdf</text>
<rect x="309.8" y="55.6" width="24.3" height="35" rx="1.5" fill="white" stroke="#dcdcdc" stroke-width="0.9"/>
<path d="M312.1 58.8L316.3 60.9L312.1 63Z" fill="#6a4fb5"/>
<text x="318.7" y="63.26" font-size="6.6" text-anchor="start" fill="#222">cell0</text>
<path d="M312.1 66.7L316.3 68.8L312.1 70.9Z" fill="#1ab0ea"/>
<text x="318.7" y="71.16" font-size="6.6" text-anchor="start" fill="#222">cell1</text>
<path d="M312.1 75.1L316.3 77.2L312.1 79.3Z" fill="#90d0a0"/>
<text x="318.7" y="79.56" font-size="6.6" text-anchor="start" fill="#222">cell2</text>
<path d="M312.1 83.5L316.3 85.6L312.1 87.7Z" fill="#f8a54e"/>
<text x="318.7" y="87.96" font-size="6.6" text-anchor="start" fill="#222">cell3</text>
<text x="332.6" y="101.64" font-size="8.5" text-anchor="end" fill="#222">delay period</text>
<path d="M236.3 110.4 L236.3 101.5 L240 99 L244.4 94.5 L245.5 92.2 L248.8 94 L252.4 94.5 L256.5 95.8 L257 97.4 L261.4 98.2 L264.2 100.2 L260 100.9 L254 102.6 L248.8 105.6 L242 109.4 Z" fill="#d62728" stroke="none" stroke-width="1"/>
<path d="M243.8 90.9L248.6 93.3L243.8 95.7Z" fill="#d62728"/>
<path d="M247.1 91.2L251.9 93.6L247.1 96Z" fill="#d62728"/>
<path d="M253.1 94.8L257.9 97.2L253.1 99.6Z" fill="#d62728"/>
<path d="M257.4 96.8L262.2 99.2L257.4 101.6Z" fill="#d62728"/>
<path d="M260.4 97.9L265.2 100.3L260.4 102.7Z" fill="#d62728"/>
<path d="M239.4 100L244.2 102.4L239.4 104.8Z" fill="#d62728"/>
<path d="M236.9 103.2L241.7 105.6L236.9 108Z" fill="#d62728"/>
<path d="M236.2 97L241 99.4L236.2 101.8Z" fill="#d62728"/>
<path d="M250.2 84.5L255 86.9L250.2 89.3Z" fill="#d62728"/>
<path d="M253.1 81.6L257.9 84L253.1 86.4Z" fill="#d62728"/>
<path d="M253.4 83.1L258.2 85.5L253.4 87.9Z" fill="#d62728"/>
<path d="M247.8 87.8L252.6 90.2L247.8 92.6Z" fill="#d62728"/>
<path d="M241.6 99L246.4 101.4L241.6 103.8Z" fill="#d62728"/>
<path d="M245.2 100.4L250 102.8L245.2 105.2Z" fill="#d62728"/>
<path d="M248.6 101.6L253.4 104L248.6 106.4Z" fill="#d62728"/>
<path d="M252.7 74.4L257.5 76.8L252.7 79.2Z" fill="#1ab0ea"/>
<path d="M248 85.5L252.8 87.9L248 90.3Z" fill="#6a4fb5"/>
<path d="M242.4 94.4L247.2 96.8L242.4 99.2Z" fill="#90d0a0"/>
<path d="M241.5 96.6L246.3 99L241.5 101.4Z" fill="#f8a54e"/>
<line x1="236.3" y1="110.4" x2="333.4" y2="13.8" stroke="#8a8a8a" stroke-width="1.1"/>
<line x1="399.4" y1="13.4" x2="399.4" y2="110.4" stroke="#444" stroke-width="1"/>
<line x1="399.4" y1="110.4" x2="496.3" y2="110.4" stroke="#444" stroke-width="1"/>
<line x1="396.8" y1="110.4" x2="399.4" y2="110.4" stroke="#444" stroke-width="0.9"/>
<text x="394.1" y="113.64" font-size="8.2" text-anchor="end" fill="#333">0</text>
<line x1="399.4" y1="110.4" x2="399.4" y2="113" stroke="#444" stroke-width="0.9"/>
<text x="399.4" y="122.04" font-size="8.2" text-anchor="middle" fill="#333">0</text>
<line x1="396.8" y1="70.1" x2="399.4" y2="70.1" stroke="#444" stroke-width="0.9"/>
<text x="394.1" y="73.34" font-size="8.2" text-anchor="end" fill="#333">1</text>
<line x1="439.7" y1="110.4" x2="439.7" y2="113" stroke="#444" stroke-width="0.9"/>
<text x="439.7" y="122.04" font-size="8.2" text-anchor="middle" fill="#333">1</text>
<line x1="396.8" y1="29.8" x2="399.4" y2="29.8" stroke="#444" stroke-width="0.9"/>
<text x="394.1" y="33.04" font-size="8.2" text-anchor="end" fill="#333">2</text>
<line x1="480" y1="110.4" x2="480" y2="113" stroke="#444" stroke-width="0.9"/>
<text x="480" y="122.04" font-size="8.2" text-anchor="middle" fill="#333">2</text>
<text x="449" y="134.29" font-size="9.2" text-anchor="middle" fill="#222">Attend-to-vision</text>
<text x="449" y="145.09" font-size="9.2" text-anchor="middle" fill="#222">mean FR (arb. units)</text>
<text x="370.8" y="63.8" font-size="9.2" text-anchor="middle" fill="#1a1a1a" transform="rotate(-90 370.8 63.8)">Attend-to-audition</text>
<text x="380.7" y="63.8" font-size="9.2" text-anchor="middle" fill="#1a1a1a" transform="rotate(-90 380.7 63.8)">mean FR (arb. units)</text>
<polyline points="416.4,29.4 416.76,29.4 417.12,29.4 417.49,29.4 417.85,29.4 418.21,29.4 418.57,29.39 418.94,29.39 419.3,29.39 419.66,29.39 420.02,29.39 420.39,29.38 420.75,29.38 421.11,29.37 421.47,29.36 421.84,29.36 422.2,29.35 422.56,29.33 422.92,29.32 423.29,29.3 423.65,29.28 424.01,29.25 424.38,29.22 424.74,29.19 425.1,29.15 425.46,29.1 425.82,29.04 426.19,28.97 426.55,28.9 426.91,28.81 427.27,28.71 427.64,28.6 428,28.47 428.36,28.33 428.72,28.17 429.09,27.99 429.45,27.79 429.81,27.57 430.17,27.33 430.54,27.06 430.9,26.76 431.26,26.44 431.62,26.1 431.99,25.72 432.35,25.32 432.71,24.89 433.07,24.43 433.44,23.95 433.8,23.44 434.16,22.9 434.52,22.33 434.89,21.74 435.25,21.13 435.61,20.5 435.97,19.85 436.34,19.18 436.7,18.5 437.06,17.81 437.42,17.12 437.79,16.41 438.15,15.71 438.51,15.01 438.88,14.31 439.24,13.61 439.6,12.93 439.96,12.26 440.32,11.61 440.69,10.98 441.05,10.36 441.41,9.77 441.77,9.2 442.14,8.66 442.5,8.14 442.86,7.65 443.22,7.18 443.59,6.75 443.95,6.34 444.31,5.96 444.67,5.61 445.04,5.29 445.4,4.99 445.76,4.72 446.12,4.47 446.49,4.25 446.85,4.04 447.21,3.86 447.57,3.69 447.94,3.55 448.3,3.42 448.66,3.3 449.02,3.2 449.39,3.11 449.75,3.04 450.11,2.97 450.47,2.91 450.84,2.86 451.2,2.82 451.56,2.78 451.92,2.75 452.29,2.73 452.65,2.7 453.01,2.68 453.38,2.67 453.74,2.66 454.1,2.65 454.46,2.64 454.82,2.63 455.19,2.62 455.55,2.62 455.91,2.62 456.27,2.61 456.64,2.61 457,2.61 457.36,2.61 457.72,2.6 458.09,2.6 458.45,2.6 458.81,2.6 459.17,2.6 459.54,2.6 459.9,2.6" fill="none" stroke="#3a87c4" stroke-width="1.1" stroke-linejoin="round" stroke-linecap="round"/>
<polyline points="416.4,29.4 416.76,29.4 417.12,29.4 417.49,29.4 417.85,29.4 418.21,29.4 418.57,29.4 418.94,29.39 419.3,29.39 419.66,29.39 420.02,29.39 420.39,29.38 420.75,29.38 421.11,29.37 421.47,29.36 421.84,29.34 422.2,29.33 422.56,29.3 422.92,29.28 423.29,29.24 423.65,29.19 424.01,29.14 424.38,29.07 424.74,28.98 425.1,28.87 425.46,28.75 425.82,28.59 426.19,28.41 426.55,28.19 426.91,27.93 427.27,27.63 427.64,27.28 428,26.88 428.36,26.41 428.72,25.89 429.09,25.3 429.45,24.64 429.81,23.9 430.17,23.09 430.54,22.21 430.9,21.26 431.26,20.23 431.62,19.14 431.99,17.99 432.35,16.8 432.71,15.56 433.07,14.29 433.44,13.01 433.8,11.74 434.16,10.48 434.52,9.25 434.89,8.08 435.25,6.99 435.61,5.98 435.97,5.07 436.34,4.29 436.7,3.65 437.06,3.15 437.42,2.81 437.79,2.63 438.15,2.61 438.51,2.77 438.88,3.08 439.24,3.55 439.6,4.17 439.96,4.93 440.32,5.81 440.69,6.8 441.05,7.89 441.41,9.05 441.77,10.26 442.14,11.52 442.5,12.79 442.86,14.07 443.22,15.34 443.59,16.58 443.95,17.79 444.31,18.95 444.67,20.05 445.04,21.08 445.4,22.05 445.76,22.95 446.12,23.77 446.49,24.51 446.85,25.19 447.21,25.79 447.57,26.33 447.94,26.8 448.3,27.22 448.66,27.57 449.02,27.88 449.39,28.15 449.75,28.37 450.11,28.56 450.47,28.72 450.84,28.85 451.2,28.96 451.56,29.05 451.92,29.13 452.29,29.18 452.65,29.23 453.01,29.27 453.38,29.3 453.74,29.32 454.1,29.34 454.46,29.36 454.82,29.37 455.19,29.38 455.55,29.38 455.91,29.39 456.27,29.39 456.64,29.39 457,29.39 457.36,29.4 457.72,29.4 458.09,29.4 458.45,29.4 458.81,29.4 459.17,29.4 459.54,29.4 459.9,29.4" fill="none" stroke="#f78d2c" stroke-width="1.1" stroke-linejoin="round" stroke-linecap="round"/>
<line x1="416.4" y1="1.1" x2="416.4" y2="30.4" stroke="#666" stroke-width="1"/>
<line x1="416.4" y1="30.4" x2="459.9" y2="30.4" stroke="#444" stroke-width="1"/>
<line x1="414.2" y1="2.6" x2="416.4" y2="2.6" stroke="#444" stroke-width="0.8"/>
<text x="412.8" y="5.76" font-size="8" text-anchor="end" fill="#333">1</text>
<line x1="414.2" y1="29.6" x2="416.4" y2="29.6" stroke="#444" stroke-width="0.8"/>
<text x="412.8" y="32.76" font-size="8" text-anchor="end" fill="#333">0</text>
<line x1="416.4" y1="30.4" x2="416.4" y2="32.6" stroke="#444" stroke-width="0.8"/>
<text x="416.4" y="42.06" font-size="8" text-anchor="middle" fill="#333">−0.5</text>
<line x1="438" y1="30.4" x2="438" y2="32.6" stroke="#444" stroke-width="0.8"/>
<text x="438" y="42.06" font-size="8" text-anchor="middle" fill="#333">0.0</text>
<line x1="459.9" y1="30.4" x2="459.9" y2="32.6" stroke="#444" stroke-width="0.8"/>
<text x="459.9" y="42.06" font-size="8" text-anchor="middle" fill="#333">0.5</text>
<text x="435.5" y="49.68" font-size="7.2" text-anchor="middle" fill="#333">ΔFR<tspan font-size="6">v-a</tspan></text>
<text x="495.8" y="75.04" font-size="8.5" text-anchor="end" fill="#222">target period</text>
<path d="M399.4 110.4 L399.4 99 L402 98 L404 101 L409 103 L414 104.5 L416 106.5 L411 108.6 L405 110.4 Z" fill="#d62728" stroke="none" stroke-width="1"/>
<path d="M408.4 58.5L413.2 60.9L408.4 63.3Z" fill="#d62728"/>
<path d="M412 58.5L416.8 60.9L412 63.3Z" fill="#d62728"/>
<path d="M416.9 65.1L421.7 67.5L416.9 69.9Z" fill="#d62728"/>
<path d="M414.9 69.4L419.7 71.8L414.9 74.2Z" fill="#d62728"/>
<path d="M406.4 73.4L411.2 75.8L406.4 78.2Z" fill="#d62728"/>
<path d="M411.6 73.4L416.4 75.8L411.6 78.2Z" fill="#d62728"/>
<path d="M413 74.9L417.8 77.3L413 79.7Z" fill="#d62728"/>
<path d="M399.2 80.8L404 83.2L399.2 85.6Z" fill="#d62728"/>
<path d="M401.1 82.2L405.9 84.6L401.1 87Z" fill="#d62728"/>
<path d="M408.4 84.1L413.2 86.5L408.4 88.9Z" fill="#d62728"/>
<path d="M412.3 88.1L417.1 90.5L412.3 92.9Z" fill="#d62728"/>
<path d="M401.8 89.4L406.6 91.8L401.8 94.2Z" fill="#d62728"/>
<path d="M403.8 90.7L408.6 93.1L403.8 95.5Z" fill="#d62728"/>
<path d="M399.2 92L404 94.4L399.2 96.8Z" fill="#d62728"/>
<path d="M422.8 91.4L427.6 93.8L422.8 96.2Z" fill="#d62728"/>
<path d="M440.6 87.8L445.4 90.2L440.6 92.6Z" fill="#d62728"/>
<path d="M443.8 96L448.6 98.4L443.8 100.8Z" fill="#d62728"/>
<path d="M449.1 96L453.9 98.4L449.1 100.8Z" fill="#d62728"/>
<path d="M453.7 96.6L458.5 99L453.7 101.4Z" fill="#d62728"/>
<path d="M457.6 94.4L462.4 96.8L457.6 99.2Z" fill="#d62728"/>
<path d="M471.4 101L476.2 103.4L471.4 105.8Z" fill="#d62728"/>
<path d="M437 101L441.8 103.4L437 105.8Z" fill="#d62728"/>
<path d="M428.1 96L432.9 98.4L428.1 100.8Z" fill="#d62728"/>
<path d="M430 98.6L434.8 101L430 103.4Z" fill="#d62728"/>
<path d="M426.8 99.2L431.6 101.6L426.8 104Z" fill="#d62728"/>
<path d="M416.2 97.3L421 99.7L416.2 102.1Z" fill="#d62728"/>
<path d="M418.9 98.6L423.7 101L418.9 103.4Z" fill="#d62728"/>
<path d="M420.8 99.2L425.6 101.6L420.8 104Z" fill="#d62728"/>
<path d="M414.3 99.9L419.1 102.3L414.3 104.7Z" fill="#d62728"/>
<path d="M399.4 86.1L404.2 88.5L399.4 90.9Z" fill="#d62728"/>
<path d="M400.1 96.1L404.9 98.5L400.1 100.9Z" fill="#d62728"/>
<path d="M404.1 95.1L408.9 97.5L404.1 99.9Z" fill="#d62728"/>
<path d="M407.1 96.6L411.9 99L407.1 101.4Z" fill="#d62728"/>
<path d="M409.6 96.1L414.4 98.5L409.6 100.9Z" fill="#d62728"/>
<path d="M418.1 96.6L422.9 99L418.1 101.4Z" fill="#d62728"/>
<path d="M423.1 98.6L427.9 101L423.1 103.4Z" fill="#d62728"/>
<path d="M400.6 100.6L405.4 103L400.6 105.4Z" fill="#d62728"/>
<path d="M405.6 102.1L410.4 104.5L405.6 106.9Z" fill="#d62728"/>
<path d="M453 81.2L457.8 83.6L453 86Z" fill="#f8a54e"/>
<path d="M439.9 91.4L444.7 93.8L439.9 96.2Z" fill="#90d0a0"/>
<path d="M434.9 100.6L439.7 103L434.9 105.4Z" fill="#1ab0ea"/>
<path d="M411.6 103.8L416.4 106.2L411.6 108.6Z" fill="#6a4fb5"/>
<line x1="399.4" y1="110.4" x2="496.3" y2="13.8" stroke="#8a8a8a" stroke-width="1.1"/>
<text x="194.9" y="168.4" font-size="20" text-anchor="start" fill="#111" font-weight="bold">d</text>
<line x1="236.4" y1="171" x2="236.4" y2="267.7" stroke="#444" stroke-width="1"/>
<line x1="236.4" y1="267.7" x2="333.4" y2="267.7" stroke="#444" stroke-width="1"/>
<line x1="233.8" y1="267.7" x2="236.4" y2="267.7" stroke="#444" stroke-width="0.9"/>
<text x="231.1" y="270.94" font-size="8.2" text-anchor="end" fill="#333">0</text>
<line x1="236.4" y1="267.7" x2="236.4" y2="270.3" stroke="#444" stroke-width="0.9"/>
<text x="236.4" y="279.34" font-size="8.2" text-anchor="middle" fill="#333">0</text>
<line x1="233.8" y1="228.6" x2="236.4" y2="228.6" stroke="#444" stroke-width="0.9"/>
<text x="231.1" y="231.84" font-size="8.2" text-anchor="end" fill="#333">1</text>
<line x1="275.4" y1="267.7" x2="275.4" y2="270.3" stroke="#444" stroke-width="0.9"/>
<text x="275.4" y="279.34" font-size="8.2" text-anchor="middle" fill="#333">1</text>
<line x1="233.8" y1="189.5" x2="236.4" y2="189.5" stroke="#444" stroke-width="0.9"/>
<text x="231.1" y="192.74" font-size="8.2" text-anchor="end" fill="#333">2</text>
<line x1="314.4" y1="267.7" x2="314.4" y2="270.3" stroke="#444" stroke-width="0.9"/>
<text x="314.4" y="279.34" font-size="8.2" text-anchor="middle" fill="#333">2</text>
<text x="285.4" y="290.79" font-size="9.2" text-anchor="middle" fill="#222">Attend-to-vision</text>
<text x="285.4" y="301.59" font-size="9.2" text-anchor="middle" fill="#222">mean FR (arb. units)</text>
<text x="209.8" y="221" font-size="9.2" text-anchor="middle" fill="#1a1a1a" transform="rotate(-90 209.8 221)">Attend-to-audition</text>
<text x="219.7" y="221" font-size="9.2" text-anchor="middle" fill="#1a1a1a" transform="rotate(-90 219.7 221)">mean FR (arb. units)</text>
<polyline points="247.8,189.9 248.17,189.9 248.53,189.9 248.9,189.9 249.26,189.9 249.63,189.9 250,189.9 250.36,189.9 250.73,189.9 251.09,189.9 251.46,189.9 251.82,189.9 252.19,189.9 252.56,189.9 252.92,189.9 253.29,189.9 253.65,189.9 254.02,189.9 254.39,189.9 254.75,189.9 255.12,189.9 255.48,189.9 255.85,189.9 256.21,189.9 256.58,189.9 256.95,189.9 257.31,189.9 257.68,189.9 258.04,189.9 258.41,189.9 258.77,189.9 259.14,189.9 259.51,189.9 259.87,189.9 260.24,189.9 260.6,189.9 260.97,189.9 261.34,189.9 261.7,189.9 262.07,189.9 262.43,189.9 262.8,189.9 263.17,189.9 263.53,189.9 263.9,189.9 264.26,189.9 264.63,189.89 264.99,189.88 265.36,189.86 265.73,189.82 266.09,189.74 266.46,189.59 266.82,189.32 267.19,188.88 267.56,188.2 267.92,187.2 268.29,185.82 268.65,184.04 269.02,181.86 269.38,179.34 269.75,176.6 270.12,173.8 270.48,171.09 270.85,168.62 271.21,166.51 271.58,164.8 271.94,163.5 272.31,162.56 272.68,161.93 273.04,161.52 273.41,161.28 273.77,161.14 274.14,161.07 274.51,161.03 274.87,161.01 275.24,161.01 275.6,161 275.97,161 276.33,161 276.7,161 277.07,161 277.43,161 277.8,161 278.16,161 278.53,161 278.9,161 279.26,161 279.63,161 279.99,161 280.36,161 280.73,161 281.09,161 281.46,161 281.82,161 282.19,161 282.55,161 282.92,161 283.29,161 283.65,161 284.02,161 284.38,161 284.75,161 285.12,161 285.48,161 285.85,161 286.21,161 286.58,161 286.94,161 287.31,161 287.68,161 288.04,161 288.41,161 288.77,161 289.14,161 289.5,161 289.87,161 290.24,161 290.6,161 290.97,161 291.33,161 291.7,161" fill="none" stroke="#3a87c4" stroke-width="1.1" stroke-linejoin="round" stroke-linecap="round"/>
<polyline points="247.8,189.9 248.17,189.9 248.53,189.9 248.9,189.9 249.26,189.9 249.63,189.9 250,189.9 250.36,189.9 250.73,189.9 251.09,189.9 251.46,189.9 251.82,189.9 252.19,189.9 252.56,189.9 252.92,189.9 253.29,189.9 253.65,189.9 254.02,189.9 254.39,189.9 254.75,189.9 255.12,189.9 255.48,189.9 255.85,189.9 256.21,189.9 256.58,189.9 256.95,189.9 257.31,189.9 257.68,189.9 258.04,189.9 258.41,189.9 258.77,189.9 259.14,189.9 259.51,189.9 259.87,189.9 260.24,189.9 260.6,189.9 260.97,189.9 261.34,189.9 261.7,189.9 262.07,189.9 262.43,189.9 262.8,189.9 263.17,189.9 263.53,189.9 263.9,189.9 264.26,189.9 264.63,189.89 264.99,189.88 265.36,189.84 265.73,189.73 266.09,189.5 266.46,189.03 266.82,188.14 267.19,186.61 267.56,184.22 267.92,180.83 268.29,176.52 268.65,171.66 269.02,166.94 269.38,163.19 269.75,161.19 270.12,161.4 270.48,163.75 270.85,167.74 271.21,172.55 271.58,177.35 271.94,181.51 272.31,184.72 272.68,186.95 273.04,188.34 273.41,189.14 273.77,189.56 274.14,189.76 274.51,189.85 274.87,189.88 275.24,189.89 275.6,189.9 275.97,189.9 276.33,189.9 276.7,189.9 277.07,189.9 277.43,189.9 277.8,189.9 278.16,189.9 278.53,189.9 278.9,189.9 279.26,189.9 279.63,189.9 279.99,189.9 280.36,189.9 280.73,189.9 281.09,189.9 281.46,189.9 281.82,189.9 282.19,189.9 282.55,189.9 282.92,189.9 283.29,189.9 283.65,189.9 284.02,189.9 284.38,189.9 284.75,189.9 285.12,189.9 285.48,189.9 285.85,189.9 286.21,189.9 286.58,189.9 286.94,189.9 287.31,189.9 287.68,189.9 288.04,189.9 288.41,189.9 288.77,189.9 289.14,189.9 289.5,189.9 289.87,189.9 290.24,189.9 290.6,189.9 290.97,189.9 291.33,189.9 291.7,189.9" fill="none" stroke="#f78d2c" stroke-width="1.1" stroke-linejoin="round" stroke-linecap="round"/>
<line x1="247.8" y1="159.5" x2="247.8" y2="190.9" stroke="#666" stroke-width="1"/>
<line x1="247.8" y1="190.9" x2="291.7" y2="190.9" stroke="#444" stroke-width="1"/>
<line x1="245.6" y1="161" x2="247.8" y2="161" stroke="#444" stroke-width="0.8"/>
<text x="244.2" y="164.16" font-size="8" text-anchor="end" fill="#333">1</text>
<line x1="245.6" y1="190.1" x2="247.8" y2="190.1" stroke="#444" stroke-width="0.8"/>
<text x="244.2" y="193.26" font-size="8" text-anchor="end" fill="#333">0</text>
<line x1="247.8" y1="190.9" x2="247.8" y2="193.1" stroke="#444" stroke-width="0.8"/>
<text x="247.8" y="201.16" font-size="8" text-anchor="middle" fill="#333">−0.5</text>
<line x1="269.9" y1="190.9" x2="269.9" y2="193.1" stroke="#444" stroke-width="0.8"/>
<text x="269.9" y="201.16" font-size="8" text-anchor="middle" fill="#333">0.0</text>
<line x1="291.7" y1="190.9" x2="291.7" y2="193.1" stroke="#444" stroke-width="0.8"/>
<text x="291.7" y="201.16" font-size="8" text-anchor="middle" fill="#333">0.5</text>
<text x="267.4" y="208.38" font-size="7.2" text-anchor="middle" fill="#333">ΔFR<tspan font-size="6">v-a</tspan></text>
<rect x="307.9" y="214" width="24.1" height="34.4" rx="1.5" fill="white" stroke="#dcdcdc" stroke-width="0.9"/>
<path d="M309.9 216.7L314.1 218.8L309.9 220.9Z" fill="#6a4fb5"/>
<text x="316.6" y="221.09" font-size="6.4" text-anchor="start" fill="#222">cell0</text>
<path d="M309.9 225.1L314.1 227.2L309.9 229.3Z" fill="#1ab0ea"/>
<text x="316.6" y="229.49" font-size="6.4" text-anchor="start" fill="#222">cell1</text>
<path d="M309.9 233.5L314.1 235.6L309.9 237.7Z" fill="#90d0a0"/>
<text x="316.6" y="237.89" font-size="6.4" text-anchor="start" fill="#222">cell2</text>
<path d="M309.9 241.9L314.1 244L309.9 246.1Z" fill="#f8a54e"/>
<text x="316.6" y="246.29" font-size="6.4" text-anchor="start" fill="#222">cell3</text>
<text x="330.2" y="258.44" font-size="8.5" text-anchor="end" fill="#222">delay period</text>
<path d="M236.4 267.7 L236.4 262.5 L246 254.5 L250 249.8 L253 250.5 L249 255.5 L246 259.5 L241 265 L238.5 267.7 Z" fill="#d62728" stroke="none" stroke-width="1"/>
<path d="M289.5 210.5L294.3 212.9L289.5 215.3Z" fill="#d62728"/>
<path d="M279.2 217.7L284 220.1L279.2 222.5Z" fill="#d62728"/>
<path d="M269.4 228L274.2 230.4L269.4 232.8Z" fill="#d62728"/>
<path d="M261.1 233.7L265.9 236.1L261.1 238.5Z" fill="#d62728"/>
<path d="M258.6 236.6L263.4 239L258.6 241.4Z" fill="#d62728"/>
<path d="M255.5 239.9L260.3 242.3L255.5 244.7Z" fill="#d62728"/>
<path d="M262.7 242L267.5 244.4L262.7 246.8Z" fill="#d62728"/>
<path d="M256.5 250.7L261.3 253.1L256.5 255.5Z" fill="#d62728"/>
<path d="M253.9 251.8L258.7 254.2L253.9 256.6Z" fill="#d62728"/>
<path d="M244.6 256.4L249.4 258.8L244.6 261.2Z" fill="#d62728"/>
<path d="M307.9 184.2L312.7 186.6L307.9 189Z" fill="#d62728"/>
<path d="M313.6 181.8L318.4 184.2L313.6 186.6Z" fill="#d62728"/>
<path d="M252.1 243.1L256.9 245.5L252.1 247.9Z" fill="#d62728"/>
<path d="M249.6 245.6L254.4 248L249.6 250.4Z" fill="#d62728"/>
<path d="M246.6 250.1L251.4 252.5L246.6 254.9Z" fill="#d62728"/>
<path d="M242.1 254.1L246.9 256.5L242.1 258.9Z" fill="#d62728"/>
<path d="M239.1 257.6L243.9 260L239.1 262.4Z" fill="#d62728"/>
<path d="M241.1 261.1L245.9 263.5L241.1 265.9Z" fill="#d62728"/>
<path d="M236.6 262.4L241.4 264.8L236.6 267.2Z" fill="#d62728"/>
<path d="M250.1 253.6L254.9 256L250.1 258.4Z" fill="#d62728"/>
<path d="M247.6 255.6L252.4 258L247.6 260.4Z" fill="#d62728"/>
<path d="M258.4 244.1L263.2 246.5L258.4 248.9Z" fill="#d62728"/>
<path d="M254.6 247.1L259.4 249.5L254.6 251.9Z" fill="#d62728"/>
<path d="M262.1 238.1L266.9 240.5L262.1 242.9Z" fill="#d62728"/>
<path d="M235.8 262.7L240.2 264.9L235.8 267.1Z" fill="#d62728"/>
<path d="M237.4 264.09L241.8 266.29L237.4 268.49Z" fill="#d62728"/>
<path d="M239 259.49L243.4 261.69L239 263.89Z" fill="#d62728"/>
<path d="M240.6 260.88L245 263.08L240.6 265.28Z" fill="#d62728"/>
<path d="M242.2 256.28L246.6 258.48L242.2 260.68Z" fill="#d62728"/>
<path d="M243.8 257.68L248.2 259.88L243.8 262.08Z" fill="#d62728"/>
<path d="M245.4 253.07L249.8 255.27L245.4 257.47Z" fill="#d62728"/>
<path d="M247 254.47L251.4 256.67L247 258.87Z" fill="#d62728"/>
<path d="M248.6 249.86L253 252.06L248.6 254.26Z" fill="#d62728"/>
<path d="M250.2 251.26L254.6 253.46L250.2 255.66Z" fill="#d62728"/>
<path d="M251.8 246.65L256.2 248.85L251.8 251.05Z" fill="#d62728"/>
<path d="M253.4 248.05L257.8 250.25L253.4 252.45Z" fill="#d62728"/>
<path d="M255 243.45L259.4 245.65L255 247.85Z" fill="#d62728"/>
<path d="M256.6 244.84L261 247.04L256.6 249.24Z" fill="#d62728"/>
<path d="M258.2 240.24L262.6 242.44L258.2 244.64Z" fill="#d62728"/>
<path d="M259.8 241.63L264.2 243.83L259.8 246.03Z" fill="#d62728"/>
<path d="M268.9 224.9L273.7 227.3L268.9 229.7Z" fill="#90d0a0"/>
<path d="M266.6 227.5L271.4 229.9L266.6 232.3Z" fill="#f8a54e"/>
<path d="M248 248L252.8 250.4L248 252.8Z" fill="#1ab0ea"/>
<path d="M243.1 253.8L247.9 256.2L243.1 258.6Z" fill="#6a4fb5"/>
<line x1="236.4" y1="267.7" x2="333.4" y2="171" stroke="#8a8a8a" stroke-width="1.1"/>
<line x1="399" y1="171" x2="399" y2="267.7" stroke="#444" stroke-width="1"/>
<line x1="399" y1="267.7" x2="496.3" y2="267.7" stroke="#444" stroke-width="1"/>
<line x1="396.4" y1="267.7" x2="399" y2="267.7" stroke="#444" stroke-width="0.9"/>
<text x="393.7" y="270.94" font-size="8.2" text-anchor="end" fill="#333">0</text>
<line x1="399" y1="267.7" x2="399" y2="270.3" stroke="#444" stroke-width="0.9"/>
<text x="399" y="279.34" font-size="8.2" text-anchor="middle" fill="#333">0</text>
<line x1="396.4" y1="228.6" x2="399" y2="228.6" stroke="#444" stroke-width="0.9"/>
<text x="393.7" y="231.84" font-size="8.2" text-anchor="end" fill="#333">1</text>
<line x1="438" y1="267.7" x2="438" y2="270.3" stroke="#444" stroke-width="0.9"/>
<text x="438" y="279.34" font-size="8.2" text-anchor="middle" fill="#333">1</text>
<line x1="396.4" y1="189.5" x2="399" y2="189.5" stroke="#444" stroke-width="0.9"/>
<text x="393.7" y="192.74" font-size="8.2" text-anchor="end" fill="#333">2</text>
<line x1="477" y1="267.7" x2="477" y2="270.3" stroke="#444" stroke-width="0.9"/>
<text x="477" y="279.34" font-size="8.2" text-anchor="middle" fill="#333">2</text>
<text x="449" y="290.79" font-size="9.2" text-anchor="middle" fill="#222">Attend-to-vision</text>
<text x="449" y="301.59" font-size="9.2" text-anchor="middle" fill="#222">mean FR (arb. units)</text>
<text x="370.8" y="221" font-size="9.2" text-anchor="middle" fill="#1a1a1a" transform="rotate(-90 370.8 221)">Attend-to-audition</text>
<text x="380.7" y="221" font-size="9.2" text-anchor="middle" fill="#1a1a1a" transform="rotate(-90 380.7 221)">mean FR (arb. units)</text>
<polyline points="414,187.6 434.8,187.6 434.8,160.6 456.6,160.6" fill="none" stroke="#3a87c4" stroke-width="1.1" stroke-linejoin="round" stroke-linecap="round"/>
<polyline points="414,187.6 433.2,187.6 434.2,160.6 435.4,160.6 436.4,187.6 456.6,187.6" fill="none" stroke="#f78d2c" stroke-width="1.1" stroke-linejoin="round" stroke-linecap="round"/>
<line x1="414" y1="159.1" x2="414" y2="188.6" stroke="#666" stroke-width="1"/>
<line x1="414" y1="188.6" x2="456.6" y2="188.6" stroke="#444" stroke-width="1"/>
<line x1="411.8" y1="160.6" x2="414" y2="160.6" stroke="#444" stroke-width="0.8"/>
<text x="410.4" y="163.76" font-size="8" text-anchor="end" fill="#333">1</text>
<line x1="411.8" y1="187.8" x2="414" y2="187.8" stroke="#444" stroke-width="0.8"/>
<text x="410.4" y="190.96" font-size="8" text-anchor="end" fill="#333">0</text>
<line x1="414" y1="188.6" x2="414" y2="190.8" stroke="#444" stroke-width="0.8"/>
<text x="414" y="200.46" font-size="8" text-anchor="middle" fill="#333">−0.5</text>
<line x1="434.8" y1="188.6" x2="434.8" y2="190.8" stroke="#444" stroke-width="0.8"/>
<text x="434.8" y="200.46" font-size="8" text-anchor="middle" fill="#333">0.0</text>
<line x1="456.6" y1="188.6" x2="456.6" y2="190.8" stroke="#444" stroke-width="0.8"/>
<text x="456.6" y="200.46" font-size="8" text-anchor="middle" fill="#333">0.5</text>
<text x="432.3" y="208.38" font-size="7.2" text-anchor="middle" fill="#333">ΔFR<tspan font-size="6">v-a</tspan></text>
<text x="491.4" y="257.94" font-size="8.5" text-anchor="end" fill="#222">target period</text>
<path d="M399 267.7 L399 265 L425 239.5 L427 241 L402 267.7 Z" fill="#d62728" stroke="none" stroke-width="1"/>
<path d="M472.8 188.66L477.6 191.06L472.8 193.46Z" fill="#d62728"/>
<path d="M465.4 196.01L470.2 198.41L465.4 200.81Z" fill="#d62728"/>
<path d="M459.6 201.78L464.4 204.18L459.6 206.58Z" fill="#d62728"/>
<path d="M451.2 210.13L456 212.53L451.2 214.93Z" fill="#d62728"/>
<path d="M444.8 216.49L449.6 218.89L444.8 221.29Z" fill="#d62728"/>
<path d="M439.3 221.96L444.1 224.36L439.3 226.76Z" fill="#d62728"/>
<path d="M434.4 226.83L439.2 229.23L434.4 231.63Z" fill="#d62728"/>
<path d="M431.4 229.81L436.2 232.21L431.4 234.61Z" fill="#d62728"/>
<path d="M487.7 173.85L492.5 176.25L487.7 178.65Z" fill="#d62728"/>
<path d="M398.9 262.71L403.1 264.81L398.9 266.91Z" fill="#d62728"/>
<path d="M400.38 262.74L404.58 264.84L400.38 266.94Z" fill="#d62728"/>
<path d="M401.86 259.77L406.06 261.87L401.86 263.97Z" fill="#d62728"/>
<path d="M403.33 259.8L407.53 261.9L403.33 264Z" fill="#d62728"/>
<path d="M404.81 256.83L409.01 258.93L404.81 261.03Z" fill="#d62728"/>
<path d="M406.29 256.87L410.49 258.97L406.29 261.07Z" fill="#d62728"/>
<path d="M407.77 253.9L411.97 256L407.77 258.1Z" fill="#d62728"/>
<path d="M409.25 253.93L413.45 256.03L409.25 258.13Z" fill="#d62728"/>
<path d="M410.73 250.96L414.93 253.06L410.73 255.16Z" fill="#d62728"/>
<path d="M412.2 250.99L416.4 253.09L412.2 255.19Z" fill="#d62728"/>
<path d="M413.68 248.02L417.88 250.12L413.68 252.22Z" fill="#d62728"/>
<path d="M415.16 248.05L419.36 250.15L415.16 252.25Z" fill="#d62728"/>
<path d="M416.64 245.08L420.84 247.18L416.64 249.28Z" fill="#d62728"/>
<path d="M418.12 245.11L422.32 247.21L418.12 249.31Z" fill="#d62728"/>
<path d="M419.6 242.14L423.8 244.24L419.6 246.34Z" fill="#d62728"/>
<path d="M421.07 242.17L425.27 244.27L421.07 246.37Z" fill="#d62728"/>
<path d="M422.55 239.2L426.75 241.3L422.55 243.4Z" fill="#d62728"/>
<path d="M424.03 239.23L428.23 241.33L424.03 243.43Z" fill="#d62728"/>
<path d="M425.51 236.26L429.71 238.36L425.51 240.46Z" fill="#d62728"/>
<path d="M426.99 236.29L431.19 238.39L426.99 240.49Z" fill="#d62728"/>
<path d="M428.47 233.32L432.67 235.42L428.47 237.52Z" fill="#d62728"/>
<path d="M429.94 233.35L434.14 235.45L429.94 237.55Z" fill="#d62728"/>
<path d="M431.42 230.39L435.62 232.49L431.42 234.59Z" fill="#d62728"/>
<path d="M432.9 230.42L437.1 232.52L432.9 234.62Z" fill="#d62728"/>
<path d="M487.7 171.8L492.5 174.2L487.7 176.6Z" fill="#f8a54e"/>
<path d="M470.4 191.1L475.2 193.5L470.4 195.9Z" fill="#90d0a0"/>
<path d="M429.4 231.8L434.2 234.2L429.4 236.6Z" fill="#1ab0ea"/>
<path d="M409.1 252.2L413.9 254.6L409.1 257Z" fill="#6a4fb5"/>
<line x1="399" y1="267.7" x2="496.3" y2="171" stroke="#8a8a8a" stroke-width="1.1"/>
<text x="509.7" y="14.8" font-size="20" text-anchor="start" fill="#111" font-weight="bold">e</text>
<text x="604" y="17.11" font-size="11.2" text-anchor="middle" fill="#1a1a1a">Control</text>
<text x="608.7" y="31.98" font-size="8.6" text-anchor="middle" fill="#2b3a9c">visual left</text>
<text x="536.1" y="64.78" font-size="8.6" text-anchor="middle" fill="#2b3a9c">visual right</text>
<text x="637.7" y="72.58" font-size="8.6" text-anchor="middle" fill="#e8222a">auditory left</text>
<text x="657.4" y="133.58" font-size="8.6" text-anchor="middle" fill="#e8222a">auditory right</text>
<path d="M538.6 118.2 L538.6 137.9 L559.6 137.9" fill="none" stroke="#222" stroke-width="1.6" stroke-linejoin="miter"/>
<text x="531.5" y="128" font-size="6.6" text-anchor="middle" fill="#222" transform="rotate(-90 531.5 128)">PC<tspan font-size="4.5" dy="1.5">2</tspan></text>
<text x="549" y="147.5" font-size="6.6" text-anchor="middle" fill="#222">PC<tspan font-size="4.5" dy="1.5">1</tspan></text>
<polyline points="584.4,39.04 584.35,40.41 584.3,42.28 584.23,44.51 584.12,46.94 583.94,49.4 583.67,51.74 583.32,53.98 582.91,56.24 582.43,58.55 581.88,60.9 581.26,63.31 580.57,65.78 579.8,68.36 578.95,71.05 578.02,73.8 577.04,76.55 576.02,79.24 574.98,81.82 573.87,84.33 572.67,86.83 571.43,89.26 570.21,91.6 569.04,93.8 567.98,95.82 567.02,97.65 566.13,99.32 565.29,100.84 564.51,102.25 563.77,103.56 563.07,104.78 562.4,105.94 561.74,107.01 561.13,107.99 560.59,108.84 560.14,109.55 559.81,110.08" fill="none" stroke="#1f77b4" stroke-width="0.65" stroke-linejoin="round" stroke-linecap="round"/>
<polyline points="584.69,39.34 584.65,40.72 584.63,42.62 584.59,44.89 584.51,47.35 584.37,49.85 584.14,52.23 583.84,54.51 583.47,56.82 583.04,59.18 582.54,61.58 581.97,64.04 581.33,66.56 580.61,69.2 579.81,71.95 578.93,74.75 578.01,77.55 577.03,80.29 576.02,82.9 574.93,85.43 573.74,87.94 572.51,90.38 571.28,92.71 570.1,94.9 569.02,96.9 568.03,98.69 567.09,100.31 566.2,101.79 565.36,103.14 564.57,104.39 563.83,105.56 563.11,106.68 562.42,107.72 561.78,108.66 561.2,109.48 560.73,110.16 560.37,110.67" fill="none" stroke="#1f77b4" stroke-width="0.65" stroke-linejoin="round" stroke-linecap="round"/>
<polyline points="584.66,37.88 584.62,39.16 584.6,40.93 584.55,43.03 584.47,45.31 584.33,47.62 584.09,49.8 583.78,51.87 583.41,53.95 582.97,56.05 582.47,58.2 581.9,60.4 581.25,62.68 580.52,65.05 579.72,67.52 578.84,70.05 577.9,72.59 576.92,75.1 575.91,77.56 574.81,79.98 573.63,82.43 572.39,84.85 571.16,87.21 569.99,89.46 568.91,91.56 567.92,93.51 566.99,95.37 566.11,97.11 565.27,98.75 564.49,100.27 563.75,101.68 563.04,102.99 562.35,104.23 561.71,105.35 561.14,106.33 560.67,107.14 560.31,107.76" fill="none" stroke="#1f77b4" stroke-width="0.65" stroke-linejoin="round" stroke-linecap="round"/>
<polyline points="586.49,38.51 586.58,39.84 586.72,41.67 586.88,43.84 587.03,46.19 587.13,48.58 587.15,50.85 587.11,53.01 587.03,55.19 586.91,57.41 586.72,59.67 586.47,61.98 586.14,64.36 585.74,66.85 585.28,69.44 584.76,72.09 584.15,74.74 583.45,77.35 582.63,79.87 581.67,82.35 580.56,84.82 579.35,87.25 578.09,89.6 576.84,91.82 575.63,93.87 574.44,95.76 573.21,97.51 571.99,99.14 570.8,100.65 569.67,102.05 568.64,103.36 567.67,104.59 566.74,105.74 565.87,106.79 565.1,107.7 564.46,108.45 563.98,109.02" fill="none" stroke="#1f77b4" stroke-width="0.65" stroke-linejoin="round" stroke-linecap="round"/>
<polyline points="585.12,37.82 585.12,39.1 585.14,40.86 585.15,42.95 585.12,45.23 585.04,47.52 584.87,49.69 584.63,51.75 584.33,53.82 583.97,55.92 583.55,58.06 583.06,60.25 582.5,62.51 581.85,64.87 581.14,67.33 580.35,69.85 579.5,72.38 578.59,74.88 577.62,77.33 576.56,79.75 575.39,82.2 574.17,84.62 572.93,86.97 571.73,89.23 570.62,91.33 569.58,93.29 568.58,95.16 567.61,96.91 566.68,98.56 565.81,100.09 565,101.51 564.22,102.84 563.47,104.08 562.77,105.21 562.15,106.2 561.63,107.01 561.25,107.63" fill="none" stroke="#1f77b4" stroke-width="0.65" stroke-linejoin="round" stroke-linecap="round"/>
<polyline points="586.31,38.12 586.39,39.42 586.52,41.21 586.66,43.34 586.78,45.65 586.86,47.98 586.85,50.2 586.78,52.3 586.68,54.42 586.52,56.57 586.31,58.76 586.03,61 585.66,63.32 585.23,65.73 584.74,68.25 584.18,70.82 583.54,73.4 582.81,75.96 581.98,78.44 581,80.88 579.88,83.34 578.67,85.76 577.42,88.12 576.17,90.35 574.98,92.44 573.8,94.37 572.61,96.18 571.42,97.88 570.26,99.47 569.17,100.95 568.16,102.32 567.22,103.6 566.31,104.8 565.47,105.89 564.72,106.85 564.09,107.64 563.62,108.24" fill="none" stroke="#1f77b4" stroke-width="0.65" stroke-linejoin="round" stroke-linecap="round"/>
<polyline points="586.43,38.06 586.51,39.35 586.65,41.14 586.8,43.26 586.94,45.56 587.03,47.89 587.05,50.09 586.99,52.19 586.91,54.3 586.77,56.43 586.58,58.61 586.32,60.85 585.97,63.15 585.56,65.56 585.09,68.06 584.56,70.62 583.94,73.19 583.22,75.73 582.4,78.21 581.43,80.65 580.32,83.1 579.11,85.52 577.86,87.88 576.6,90.12 575.4,92.21 574.22,94.14 573,95.97 571.79,97.68 570.61,99.28 569.49,100.77 568.47,102.15 567.52,103.44 566.59,104.65 565.73,105.75 564.97,106.71 564.33,107.51 563.85,108.11" fill="none" stroke="#1f77b4" stroke-width="0.65" stroke-linejoin="round" stroke-linecap="round"/>
<polyline points="584.08,37.19 584.01,38.43 583.93,40.13 583.83,42.16 583.67,44.35 583.45,46.56 583.14,48.65 582.74,50.61 582.28,52.58 581.74,54.57 581.14,56.6 580.47,58.68 579.72,60.84 578.9,63.09 577.98,65.43 576.99,67.82 575.95,70.24 574.89,72.65 573.81,75.03 572.68,77.41 571.47,79.82 570.22,82.24 569,84.6 567.85,86.88 566.81,89.03 565.89,91.06 565.04,93.02 564.27,94.9 563.55,96.67 562.87,98.32 562.22,99.84 561.59,101.25 560.98,102.58 560.41,103.78 559.9,104.84 559.48,105.72 559.17,106.38" fill="none" stroke="#1f77b4" stroke-width="0.65" stroke-linejoin="round" stroke-linecap="round"/>
<polyline points="584.33,38.37 584.27,39.69 584.21,41.51 584.14,43.66 584.01,46 583.82,48.38 583.55,50.62 583.19,52.76 582.76,54.92 582.27,57.12 581.71,59.35 581.08,61.64 580.38,64 579.59,66.46 578.72,69.03 577.78,71.65 576.79,74.28 575.76,76.87 574.7,79.37 573.59,81.84 572.39,84.3 571.15,86.73 569.93,89.08 568.76,91.31 567.7,93.37 566.76,95.28 565.87,97.05 565.05,98.7 564.29,100.24 563.56,101.67 562.88,103 562.21,104.25 561.56,105.42 560.96,106.48 560.43,107.4 559.99,108.17 559.66,108.75" fill="none" stroke="#1f77b4" stroke-width="0.65" stroke-linejoin="round" stroke-linecap="round"/>
<polyline points="584.33,39.2 584.27,40.58 584.21,42.47 584.13,44.71 584.01,47.15 583.82,49.64 583.54,52 583.18,54.26 582.76,56.55 582.26,58.89 581.7,61.27 581.07,63.7 580.37,66.2 579.58,68.81 578.71,71.53 577.77,74.31 576.78,77.09 575.75,79.8 574.7,82.4 573.58,84.92 572.38,87.42 571.14,89.86 569.92,92.2 568.75,94.39 567.7,96.4 566.75,98.21 565.87,99.85 565.05,101.35 564.28,102.72 563.56,104 562.87,105.2 562.2,106.33 561.56,107.39 560.96,108.35 560.43,109.18 559.98,109.87 559.65,110.4" fill="none" stroke="#1f77b4" stroke-width="0.65" stroke-linejoin="round" stroke-linecap="round"/>
<polyline points="586.39,38.05 586.48,39.35 586.61,41.13 586.76,43.25 586.89,45.55 586.98,47.88 586.99,50.08 586.93,52.18 586.84,54.28 586.7,56.42 586.5,58.6 586.23,60.83 585.88,63.13 585.47,65.54 584.99,68.04 584.45,70.6 583.82,73.17 583.1,75.71 582.28,78.18 581.3,80.62 580.19,83.08 578.98,85.5 577.73,87.85 576.48,90.1 575.28,92.18 574.09,94.12 572.89,95.95 571.68,97.66 570.51,99.26 569.4,100.75 568.38,102.13 567.43,103.43 566.51,104.64 565.65,105.74 564.89,106.7 564.26,107.5 563.79,108.1" fill="none" stroke="#1f77b4" stroke-width="0.65" stroke-linejoin="round" stroke-linecap="round"/>
<polyline points="586.23,37.75 586.3,39.03 586.42,40.78 586.55,42.87 586.67,45.13 586.73,47.42 586.72,49.58 586.64,51.63 586.52,53.69 586.35,55.77 586.12,57.9 585.83,60.08 585.45,62.33 585,64.68 584.5,67.13 583.92,69.63 583.27,72.14 582.53,74.64 581.68,77.08 580.7,79.5 579.58,81.94 578.37,84.36 577.12,86.72 575.87,88.97 574.68,91.08 573.52,93.05 572.34,94.92 571.16,96.69 570.02,98.35 568.94,99.9 567.95,101.33 567.02,102.67 566.12,103.92 565.29,105.05 564.54,106.05 563.93,106.87 563.46,107.5" fill="none" stroke="#1f77b4" stroke-width="0.65" stroke-linejoin="round" stroke-linecap="round"/>
<polyline points="584.62,38.52 584.58,39.85 584.55,41.68 584.5,43.85 584.42,46.21 584.27,48.6 584.03,50.87 583.71,53.03 583.33,55.22 582.89,57.43 582.38,59.69 581.8,62.01 581.15,64.39 580.41,66.88 579.6,69.48 578.71,72.12 577.77,74.78 576.78,77.39 575.76,79.92 574.67,82.39 573.48,84.86 572.25,87.29 571.02,89.64 569.84,91.86 568.76,93.92 567.78,95.8 566.85,97.55 565.98,99.18 565.16,100.68 564.38,102.09 563.65,103.39 562.94,104.62 562.26,105.77 561.62,106.81 561.06,107.72 560.59,108.47 560.23,109.04" fill="none" stroke="#1f77b4" stroke-width="0.65" stroke-linejoin="round" stroke-linecap="round"/>
<polyline points="585.02,37.14 585.01,38.37 585.01,40.07 585.01,42.09 584.97,44.28 584.88,46.49 584.7,48.57 584.44,50.52 584.12,52.48 583.75,54.47 583.31,56.48 582.8,58.56 582.21,60.7 581.55,62.95 580.81,65.27 580,67.66 579.13,70.07 578.21,72.47 577.23,74.84 576.16,77.22 574.99,79.64 573.76,82.05 572.53,84.41 571.33,86.69 570.23,88.84 569.2,90.88 568.21,92.85 567.26,94.74 566.36,96.52 565.51,98.18 564.71,99.7 563.95,101.12 563.21,102.46 562.53,103.67 561.92,104.73 561.41,105.61 561.03,106.28" fill="none" stroke="#1f77b4" stroke-width="0.65" stroke-linejoin="round" stroke-linecap="round"/>
<polyline points="586.28,38.3 586.35,39.62 586.48,41.42 586.61,43.57 586.73,45.9 586.8,48.26 586.8,50.5 586.72,52.63 586.61,54.78 586.45,56.96 586.23,59.18 585.94,61.46 585.57,63.8 585.14,66.25 584.64,68.8 584.07,71.41 583.43,74.02 582.69,76.6 581.85,79.1 580.87,81.56 579.75,84.02 578.54,86.45 577.29,88.8 576.04,91.03 574.85,93.1 573.68,95.01 572.49,96.8 571.31,98.46 570.16,100.02 569.07,101.46 568.07,102.8 567.14,104.06 566.23,105.24 565.39,106.31 564.64,107.24 564.02,108.02 563.55,108.6" fill="none" stroke="#1f77b4" stroke-width="0.65" stroke-linejoin="round" stroke-linecap="round"/>
<polyline points="586.36,38.99 586.45,40.35 586.58,42.22 586.72,44.44 586.85,46.86 586.94,49.31 586.94,51.64 586.88,53.87 586.78,56.13 586.64,58.43 586.43,60.77 586.16,63.17 585.8,65.63 585.38,68.2 584.9,70.88 584.35,73.62 583.72,76.36 583,79.04 582.17,81.61 581.2,84.12 580.08,86.61 578.87,89.05 577.62,91.39 576.37,93.59 575.17,95.61 573.99,97.45 572.79,99.12 571.59,100.66 570.42,102.08 569.32,103.4 568.3,104.63 567.36,105.79 566.44,106.88 565.59,107.86 564.83,108.72 564.2,109.43 563.73,109.97" fill="none" stroke="#1f77b4" stroke-width="0.65" stroke-linejoin="round" stroke-linecap="round"/>
<polyline points="595.51,48.7 595.75,49.51 596.11,50.58 596.52,51.88 596.9,53.36 597.2,55.01 597.32,56.79 597.3,58.74 597.19,60.9 596.99,63.22 596.68,65.65 596.27,68.16 595.74,70.69 595.07,73.33 594.29,76.12 593.39,78.99 592.4,81.85 591.33,84.59 590.19,87.13 588.96,89.53 587.61,91.85 586.17,94.06 584.7,96.12 583.21,98.01 581.74,99.69 580.17,101.15 578.47,102.43 576.75,103.52 575.15,104.45 573.8,105.2 572.82,105.79" fill="none" stroke="#1f77b4" stroke-width="0.65" stroke-linejoin="round" stroke-linecap="round"/>
<polyline points="595.05,48.79 595.23,49.61 595.52,50.7 595.85,52.01 596.15,53.52 596.35,55.18 596.39,56.98 596.29,58.95 596.1,61.12 595.81,63.46 595.42,65.91 594.94,68.43 594.34,70.97 593.62,73.62 592.78,76.43 591.84,79.31 590.81,82.17 589.71,84.92 588.56,87.46 587.33,89.85 586.01,92.17 584.62,94.37 583.19,96.43 581.75,98.31 580.34,99.97 578.85,101.42 577.23,102.68 575.6,103.76 574.09,104.66 572.81,105.4 571.89,105.98" fill="none" stroke="#1f77b4" stroke-width="0.65" stroke-linejoin="round" stroke-linecap="round"/>
<polyline points="594.07,46.85 594.15,47.46 594.29,48.25 594.45,49.22 594.56,50.35 594.57,51.65 594.44,53.1 594.17,54.73 593.81,56.55 593.35,58.54 592.79,60.65 592.15,62.87 591.42,65.14 590.58,67.55 589.62,70.14 588.58,72.82 587.47,75.52 586.32,78.16 585.15,80.67 583.95,83.1 582.67,85.52 581.36,87.88 580.03,90.14 578.71,92.24 577.42,94.14 576.07,95.88 574.63,97.5 573.2,98.96 571.87,100.24 570.75,101.29 569.94,102.1" fill="none" stroke="#1f77b4" stroke-width="0.65" stroke-linejoin="round" stroke-linecap="round"/>
<polyline points="594.31,48.76 594.41,49.58 594.59,50.66 594.79,51.97 594.94,53.47 595,55.13 594.92,56.92 594.69,58.89 594.36,61.05 593.94,63.38 593.43,65.83 592.82,68.35 592.12,70.89 591.31,73.53 590.39,76.34 589.37,79.22 588.28,82.07 587.14,84.82 585.98,87.37 584.76,89.76 583.48,92.07 582.15,94.28 580.79,96.34 579.44,98.22 578.12,99.89 576.74,101.34 575.26,102.6 573.78,103.69 572.41,104.6 571.25,105.34 570.42,105.92" fill="none" stroke="#1f77b4" stroke-width="0.65" stroke-linejoin="round" stroke-linecap="round"/>
<polyline points="595.4,47.72 595.62,48.43 595.97,49.35 596.36,50.48 596.72,51.78 596.99,53.24 597.1,54.84 597.06,56.63 596.93,58.61 596.7,60.75 596.38,63.02 595.95,65.37 595.4,67.77 594.72,70.28 593.92,72.97 593.02,75.74 592.02,78.51 590.94,81.2 589.8,83.73 588.56,86.14 587.22,88.51 585.8,90.8 584.33,92.97 582.85,94.97 581.4,96.77 579.85,98.37 578.17,99.83 576.47,101.12 574.89,102.23 573.56,103.14 572.6,103.84" fill="none" stroke="#1f77b4" stroke-width="0.65" stroke-linejoin="round" stroke-linecap="round"/>
<polyline points="595.51,48.21 595.75,48.97 596.11,49.97 596.52,51.18 596.91,52.58 597.2,54.13 597.33,55.82 597.31,57.69 597.2,59.76 597,61.99 596.69,64.34 596.28,66.77 595.74,69.24 595.08,71.82 594.3,74.56 593.4,77.38 592.41,80.19 591.34,82.91 590.2,85.44 588.97,87.85 587.62,90.19 586.18,92.44 584.71,94.56 583.21,96.5 581.74,98.24 580.18,99.77 578.48,101.14 576.76,102.33 575.16,103.35 573.8,104.18 572.83,104.82" fill="none" stroke="#1f77b4" stroke-width="0.65" stroke-linejoin="round" stroke-linecap="round"/>
<polyline points="535.9,80.35 536.72,80.08 537.82,79.69 539.14,79.23 540.63,78.75 542.23,78.27 543.9,77.85 545.72,77.46 547.75,77.05 549.89,76.65 552.07,76.29 554.19,76 556.17,75.81 558.05,75.7 559.92,75.65 561.73,75.66 563.45,75.76 565.03,75.96 566.43,76.27 567.68,76.65 568.82,77.1 569.83,77.65 570.66,78.33 571.29,79.17 571.69,80.22 571.81,81.54 571.68,83.11 571.35,84.84 570.87,86.66 570.3,88.48 569.69,90.22 569,91.92 568.17,93.64 567.25,95.37 566.28,97.07 565.33,98.71 564.43,100.27 563.52,101.81 562.56,103.38 561.6,104.89 560.71,106.27 559.97,107.42 559.43,108.27" fill="none" stroke="#1f77b4" stroke-width="0.55" stroke-linejoin="round" stroke-linecap="round"/>
<polyline points="538.19,81.93 539.01,81.66 540.11,81.27 541.44,80.82 542.93,80.34 544.53,79.86 546.19,79.43 547.97,79.01 549.96,78.57 552.05,78.14 554.17,77.74 556.24,77.41 558.16,77.19 560,77.05 561.82,76.96 563.59,76.94 565.26,77.01 566.79,77.17 568.14,77.45 569.34,77.8 570.43,78.21 571.38,78.72 572.16,79.36 572.75,80.18 573.12,81.21 573.22,82.51 573.08,84.07 572.74,85.8 572.26,87.62 571.7,89.45 571.12,91.21 570.46,92.93 569.68,94.69 568.81,96.45 567.91,98.19 567,99.87 566.14,101.45 565.25,103 564.29,104.58 563.33,106.09 562.44,107.46 561.68,108.6 561.14,109.45" fill="none" stroke="#1f77b4" stroke-width="0.55" stroke-linejoin="round" stroke-linecap="round"/>
<polyline points="541.03,76.78 541.86,76.5 542.97,76.1 544.3,75.63 545.8,75.14 547.4,74.67 549.03,74.28 550.78,73.93 552.71,73.59 554.74,73.27 556.79,73 558.79,72.79 560.65,72.68 562.43,72.65 564.19,72.67 565.9,72.76 567.51,72.93 568.98,73.2 570.27,73.58 571.41,74.05 572.43,74.59 573.31,75.22 574.03,75.98 574.57,76.89 574.89,77.99 574.97,79.33 574.82,80.92 574.47,82.66 574,84.48 573.46,86.28 572.89,87.99 572.28,89.63 571.56,91.28 570.77,92.91 569.94,94.52 569.1,96.08 568.27,97.58 567.4,99.1 566.45,100.67 565.48,102.18 564.58,103.57 563.82,104.73 563.27,105.58" fill="none" stroke="#1f77b4" stroke-width="0.55" stroke-linejoin="round" stroke-linecap="round"/>
<polyline points="539.37,77.3 540.2,77.02 541.3,76.63 542.63,76.16 544.12,75.67 545.72,75.2 547.37,74.8 549.14,74.45 551.1,74.1 553.17,73.76 555.26,73.48 557.3,73.26 559.2,73.14 561.01,73.1 562.81,73.11 564.55,73.19 566.2,73.35 567.7,73.61 569.03,73.98 570.2,74.43 571.26,74.96 572.18,75.57 572.94,76.32 573.5,77.22 573.86,78.32 573.95,79.66 573.8,81.24 573.46,82.98 572.99,84.8 572.43,86.6 571.86,88.32 571.22,89.96 570.46,91.62 569.63,93.27 568.75,94.89 567.88,96.47 567.03,97.98 566.15,99.5 565.19,101.06 564.23,102.58 563.33,103.97 562.57,105.13 562.03,105.98" fill="none" stroke="#1f77b4" stroke-width="0.55" stroke-linejoin="round" stroke-linecap="round"/>
<polyline points="536.35,82.15 537.17,81.88 538.27,81.49 539.59,81.04 541.08,80.56 542.68,80.08 544.35,79.65 546.17,79.23 548.18,78.78 550.32,78.35 552.48,77.94 554.59,77.61 556.56,77.38 558.43,77.23 560.29,77.14 562.1,77.12 563.81,77.18 565.37,77.34 566.76,77.61 568,77.96 569.14,78.37 570.13,78.87 570.95,79.51 571.58,80.32 571.97,81.34 572.09,82.64 571.96,84.2 571.62,85.94 571.14,87.76 570.57,89.59 569.97,91.34 569.28,93.07 568.46,94.83 567.55,96.6 566.6,98.35 565.66,100.03 564.76,101.61 563.86,103.17 562.9,104.74 561.94,106.25 561.05,107.62 560.3,108.77 559.76,109.61" fill="none" stroke="#1f77b4" stroke-width="0.55" stroke-linejoin="round" stroke-linecap="round"/>
<polyline points="538.88,77.25 539.71,76.97 540.81,76.57 542.14,76.1 543.63,75.61 545.23,75.15 546.88,74.75 548.66,74.4 550.63,74.04 552.71,73.71 554.81,73.43 556.86,73.21 558.77,73.09 560.6,73.05 562.4,73.06 564.16,73.14 565.81,73.3 567.33,73.57 568.66,73.94 569.85,74.39 570.92,74.92 571.85,75.54 572.62,76.28 573.19,77.19 573.55,78.28 573.65,79.62 573.5,81.21 573.16,82.95 572.69,84.76 572.13,86.57 571.55,88.28 570.91,89.93 570.14,91.59 569.3,93.23 568.41,94.85 567.52,96.43 566.66,97.94 565.78,99.46 564.82,101.02 563.86,102.54 562.96,103.92 562.21,105.09 561.66,105.94" fill="none" stroke="#1f77b4" stroke-width="0.55" stroke-linejoin="round" stroke-linecap="round"/>
<polyline points="535.9,78.41 536.72,78.13 537.82,77.73 539.13,77.27 540.62,76.78 542.23,76.31 543.9,75.91 545.72,75.54 547.75,75.16 549.89,74.81 552.07,74.5 554.19,74.26 556.16,74.11 558.05,74.04 559.92,74.03 561.73,74.08 563.45,74.22 565.03,74.46 566.43,74.81 567.68,75.24 568.82,75.73 569.82,76.32 570.66,77.05 571.29,77.93 571.69,79.01 571.81,80.34 571.68,81.92 571.35,83.66 570.87,85.47 570.29,87.28 569.69,89.01 569,90.67 568.17,92.35 567.24,94.03 566.28,95.68 565.33,97.28 564.43,98.81 563.52,100.34 562.55,101.9 561.6,103.42 560.71,104.8 559.97,105.96 559.43,106.81" fill="none" stroke="#1f77b4" stroke-width="0.55" stroke-linejoin="round" stroke-linecap="round"/>
<polyline points="534.18,76.48 535,76.2 536.09,75.8 537.4,75.33 538.88,74.84 540.49,74.38 542.18,73.98 544.02,73.64 546.08,73.3 548.26,72.99 550.48,72.72 552.64,72.53 554.66,72.42 556.58,72.4 558.48,72.42 560.33,72.52 562.08,72.7 563.7,72.98 565.13,73.36 566.42,73.84 567.61,74.38 568.65,75.02 569.52,75.78 570.19,76.7 570.61,77.8 570.75,79.15 570.63,80.74 570.3,82.48 569.81,84.3 569.23,86.1 568.61,87.8 567.89,89.44 567.02,91.08 566.06,92.71 565.05,94.31 564.06,95.87 563.13,97.36 562.21,98.88 561.25,100.44 560.29,101.96 559.41,103.35 558.67,104.51 558.13,105.36" fill="none" stroke="#1f77b4" stroke-width="0.55" stroke-linejoin="round" stroke-linecap="round"/>
<polyline points="536.48,77.78 537.3,77.5 538.4,77.1 539.72,76.64 541.21,76.15 542.81,75.68 544.48,75.28 546.29,74.92 548.31,74.56 550.44,74.21 552.6,73.92 554.71,73.69 556.67,73.56 558.54,73.5 560.4,73.5 562.2,73.57 563.91,73.72 565.47,73.97 566.86,74.34 568.1,74.78 569.23,75.29 570.22,75.9 571.04,76.63 571.66,77.53 572.05,78.61 572.17,79.95 572.03,81.53 571.7,83.27 571.22,85.09 570.65,86.9 570.05,88.61 569.37,90.27 568.55,91.94 567.64,93.6 566.69,95.23 565.75,96.82 564.86,98.34 563.96,99.86 562.99,101.43 562.04,102.94 561.15,104.32 560.4,105.48 559.86,106.34" fill="none" stroke="#1f77b4" stroke-width="0.55" stroke-linejoin="round" stroke-linecap="round"/>
<polyline points="535.8,76.97 536.62,76.69 537.72,76.29 539.03,75.82 540.52,75.33 542.13,74.86 543.8,74.47 545.62,74.12 547.65,73.77 549.8,73.45 551.97,73.17 554.1,72.96 556.08,72.85 557.96,72.81 559.83,72.82 561.65,72.91 563.37,73.08 564.95,73.35 566.35,73.73 567.6,74.19 568.75,74.72 569.75,75.34 570.59,76.1 571.22,77.01 571.63,78.1 571.75,79.45 571.62,81.04 571.28,82.78 570.8,84.59 570.23,86.39 569.63,88.1 568.93,89.75 568.1,91.4 567.18,93.04 566.21,94.65 565.25,96.22 564.35,97.73 563.44,99.25 562.48,100.81 561.52,102.33 560.64,103.71 559.89,104.87 559.35,105.73" fill="none" stroke="#1f77b4" stroke-width="0.55" stroke-linejoin="round" stroke-linecap="round"/>
<polyline points="537.36,79.28 538.18,79 539.28,78.61 540.6,78.15 542.09,77.66 543.7,77.19 545.36,76.78 547.16,76.39 549.16,76 551.27,75.63 553.41,75.3 555.49,75.03 557.44,74.87 559.29,74.78 561.13,74.75 562.92,74.79 564.6,74.91 566.15,75.13 567.52,75.46 568.74,75.87 569.84,76.34 570.81,76.91 571.62,77.62 572.22,78.48 572.6,79.55 572.71,80.87 572.57,82.45 572.23,84.18 571.76,86 571.19,87.82 570.6,89.55 569.93,91.23 569.13,92.93 568.25,94.63 567.32,96.3 566.4,97.92 565.52,99.46 564.62,100.99 563.66,102.56 562.7,104.08 561.81,105.45 561.06,106.61 560.52,107.46" fill="none" stroke="#1f77b4" stroke-width="0.55" stroke-linejoin="round" stroke-linecap="round"/>
<polyline points="535.82,76.54 536.64,76.26 537.74,75.86 539.05,75.39 540.54,74.9 542.15,74.44 543.82,74.04 545.64,73.7 547.67,73.36 549.81,73.05 551.99,72.78 554.11,72.58 556.09,72.48 557.98,72.45 559.85,72.47 561.67,72.57 563.39,72.75 564.97,73.02 566.36,73.41 567.62,73.88 568.76,74.42 569.77,75.06 570.6,75.82 571.24,76.74 571.64,77.84 571.76,79.19 571.63,80.78 571.3,82.52 570.82,84.33 570.24,86.13 569.64,87.84 568.94,89.48 568.11,91.12 567.19,92.75 566.22,94.35 565.27,95.91 564.36,97.41 563.46,98.93 562.49,100.49 561.54,102.01 560.65,103.39 559.91,104.56 559.36,105.41" fill="none" stroke="#1f77b4" stroke-width="0.55" stroke-linejoin="round" stroke-linecap="round"/>
<polyline points="537.31,83.51 538.13,83.24 539.23,82.86 540.55,82.41 542.04,81.93 543.65,81.45 545.31,81.01 547.11,80.57 549.11,80.1 551.22,79.63 553.36,79.2 555.45,78.83 557.4,78.57 559.25,78.4 561.09,78.28 562.88,78.23 564.56,78.26 566.11,78.39 567.48,78.63 568.7,78.95 569.81,79.32 570.78,79.79 571.58,80.4 572.19,81.19 572.57,82.2 572.68,83.48 572.54,85.04 572.2,86.77 571.73,88.59 571.16,90.43 570.57,92.2 569.9,93.94 569.1,95.73 568.21,97.54 567.29,99.32 566.36,101.03 565.48,102.63 564.59,104.2 563.62,105.78 562.66,107.29 561.78,108.65 561.03,109.79 560.48,110.63" fill="none" stroke="#1f77b4" stroke-width="0.55" stroke-linejoin="round" stroke-linecap="round"/>
<polyline points="539.03,82.9 539.85,82.63 540.96,82.25 542.29,81.8 543.78,81.32 545.38,80.84 547.03,80.4 548.81,79.97 550.77,79.51 552.85,79.05 554.95,78.64 556.99,78.29 558.9,78.04 560.72,77.88 562.52,77.77 564.27,77.73 565.93,77.78 567.44,77.92 568.77,78.18 569.95,78.51 571.02,78.89 571.95,79.38 572.71,80 573.29,80.8 573.64,81.81 573.74,83.11 573.59,84.66 573.25,86.39 572.78,88.22 572.22,90.05 571.64,91.81 571,93.55 570.24,95.33 569.39,97.12 568.51,98.88 567.62,100.58 566.77,102.18 565.89,103.74 564.93,105.31 563.97,106.82 563.07,108.19 562.32,109.33 561.77,110.18" fill="none" stroke="#1f77b4" stroke-width="0.55" stroke-linejoin="round" stroke-linecap="round"/>
<polyline points="544.94,87.41 545.55,87.07 546.35,86.6 547.32,86.04 548.43,85.45 549.64,84.89 550.94,84.41 552.4,83.96 554.06,83.49 555.82,83.04 557.61,82.67 559.35,82.45 560.94,82.41 562.52,82.53 564.17,82.75 565.76,83.1 567.17,83.63 568.27,84.39 568.94,85.41 569.1,86.82 568.83,88.6 568.26,90.6 567.5,92.67 566.69,94.66 565.94,96.41 565.17,98.01 564.24,99.6 563.26,101.1 562.31,102.45 561.51,103.58 560.94,104.41" fill="none" stroke="#1f77b4" stroke-width="0.55" stroke-linejoin="round" stroke-linecap="round"/>
<polyline points="544.86,90.71 545.46,90.37 546.27,89.9 547.23,89.33 548.34,88.75 549.56,88.19 550.86,87.71 552.32,87.26 553.97,86.78 555.73,86.33 557.52,85.97 559.26,85.74 560.86,85.71 562.43,85.83 564.08,86.04 565.67,86.4 567.08,86.93 568.18,87.69 568.86,88.71 569.02,90.11 568.75,91.9 568.17,93.9 567.41,95.97 566.6,97.96 565.86,99.71 565.08,101.31 564.15,102.9 563.17,104.4 562.23,105.75 561.42,106.87 560.86,107.71" fill="none" stroke="#1f77b4" stroke-width="0.55" stroke-linejoin="round" stroke-linecap="round"/>
<polyline points="546.02,87.71 546.63,87.37 547.43,86.9 548.4,86.34 549.51,85.75 550.72,85.19 552.02,84.71 553.48,84.26 555.13,83.79 556.9,83.34 558.69,82.97 560.43,82.74 562.02,82.71 563.6,82.83 565.25,83.04 566.84,83.4 568.25,83.93 569.35,84.69 570.02,85.71 570.18,87.12 569.91,88.9 569.34,90.9 568.58,92.97 567.77,94.96 567.02,96.71 566.25,98.31 565.32,99.9 564.34,101.4 563.39,102.75 562.59,103.88 562.02,104.71" fill="none" stroke="#1f77b4" stroke-width="0.55" stroke-linejoin="round" stroke-linecap="round"/>
<polyline points="546.4,88.72 547,88.39 547.8,87.91 548.77,87.35 549.88,86.76 551.09,86.2 552.4,85.72 553.85,85.28 555.51,84.8 557.27,84.35 559.06,83.98 560.8,83.76 562.4,83.72 563.97,83.84 565.62,84.06 567.21,84.41 568.62,84.95 569.72,85.7 570.4,86.72 570.56,88.13 570.28,89.91 569.71,91.91 568.95,93.98 568.14,95.97 567.4,97.72 566.62,99.32 565.69,100.91 564.71,102.41 563.77,103.76 562.96,104.89 562.4,105.72" fill="none" stroke="#1f77b4" stroke-width="0.55" stroke-linejoin="round" stroke-linecap="round"/>
<ellipse cx="576.6" cy="115.4" rx="19.2" ry="11.2" transform="rotate(20 576.6 115.4)" fill="none" stroke="#1f77b4" stroke-width="1.8"/>
<ellipse cx="577" cy="115.6" rx="15.2" ry="8.0" transform="rotate(20 577 115.6)" fill="none" stroke="#8c8c8c" stroke-width="6.8"/>
<ellipse cx="579" cy="118" rx="9.5" ry="3.2" transform="rotate(20 579 118)" fill="none" stroke="#1f77b4" stroke-width="1.0"/>
<ellipse cx="577.47" cy="114.86" rx="19.64" ry="11.4" transform="rotate(21.18 577 115.6)" fill="none" stroke="#1f77b4" stroke-width="0.6"/>
<ellipse cx="576.46" cy="114.99" rx="19.21" ry="10.71" transform="rotate(21.56 577 115.6)" fill="none" stroke="#1f77b4" stroke-width="0.6"/>
<ellipse cx="577.57" cy="115.69" rx="18.75" ry="9.91" transform="rotate(22.53 577 115.6)" fill="none" stroke="#1f77b4" stroke-width="0.6"/>
<ellipse cx="575.68" cy="115.71" rx="18.48" ry="10.21" transform="rotate(18.16 577 115.6)" fill="none" stroke="#1f77b4" stroke-width="0.6"/>
<ellipse cx="577.02" cy="116.21" rx="18.46" ry="10.74" transform="rotate(22.42 577 115.6)" fill="none" stroke="#1f77b4" stroke-width="0.6"/>
<ellipse cx="576.97" cy="115.09" rx="19.1" ry="11.3" transform="rotate(17.82 577 115.6)" fill="none" stroke="#1f77b4" stroke-width="0.6"/>
<ellipse cx="575.6" cy="116.39" rx="19.7" ry="9.94" transform="rotate(21.25 577 115.6)" fill="none" stroke="#1f77b4" stroke-width="0.6"/>
<ellipse cx="577" cy="114.51" rx="18.13" ry="10.46" transform="rotate(19.83 577 115.6)" fill="none" stroke="#1f77b4" stroke-width="0.6"/>
<circle cx="574.3" cy="115.4" r="2.8" fill="#f7a21b" stroke="none" stroke-width="1"/>
<circle cx="578.9" cy="116.3" r="2.8" fill="#f7a21b" stroke="none" stroke-width="1"/>
<polyline points="580.37,129.23 581.49,129.16 583.07,129.14 584.92,129.08 586.89,128.91 588.8,128.57 590.49,127.97 591.92,127.13 593.2,126.13 594.44,124.95 595.69,123.57 597.06,122 598.61,120.21 600.39,118.11 602.33,115.68 604.38,113.05 606.48,110.34 608.57,107.69 610.61,105.21 612.65,102.84 614.73,100.45 616.8,98.12 618.83,95.9 620.76,93.86 622.54,92.06 624.28,90.53 626.05,89.22 627.71,88.09 629.16,87.1 630.28,86.21 630.94,85.37 631.14,84.63 630.95,84.04 630.43,83.54 629.63,83.09 628.59,82.67 627.37,82.23 625.84,81.77 623.96,81.33 621.83,80.9 619.61,80.5 617.41,80.11 615.37,79.73 613.35,79.34 611.22,78.95 609.12,78.57 607.18,78.23 605.55,77.94 604.37,77.73" fill="none" stroke="#8c8c8c" stroke-width="0.6" stroke-linejoin="round" stroke-linecap="round"/>
<polyline points="580.8,127.48 581.94,127.35 583.53,127.24 585.41,127.08 587.41,126.8 589.35,126.34 591.06,125.64 592.51,124.7 593.83,123.59 595.09,122.29 596.37,120.81 597.76,119.15 599.33,117.3 601.11,115.16 603.06,112.71 605.11,110.08 607.2,107.38 609.29,104.75 611.33,102.3 613.35,99.96 615.42,97.63 617.48,95.35 619.49,93.2 621.4,91.23 623.17,89.5 624.89,88.04 626.64,86.81 628.28,85.76 629.71,84.85 630.81,84.04 631.46,83.27 631.63,82.61 631.43,82.08 630.89,81.64 630.08,81.26 629.03,80.89 627.8,80.48 626.27,80.04 624.38,79.61 622.26,79.18 620.03,78.76 617.84,78.36 615.8,77.98 613.78,77.59 611.65,77.2 609.55,76.82 607.61,76.48 605.98,76.19 604.8,75.98" fill="none" stroke="#8c8c8c" stroke-width="0.6" stroke-linejoin="round" stroke-linecap="round"/>
<polyline points="581.18,127.9 582.34,127.79 583.95,127.7 585.85,127.56 587.87,127.31 589.84,126.87 591.57,126.2 593.05,125.28 594.39,124.19 595.67,122.93 596.98,121.47 598.38,119.83 599.97,117.99 601.76,115.86 603.71,113.42 605.76,110.79 607.85,108.09 609.94,105.45 611.97,102.99 613.98,100.65 616.04,98.3 618.09,96.01 620.09,93.84 621.98,91.86 623.73,90.11 625.44,88.64 627.17,87.39 628.79,86.32 630.2,85.39 631.28,84.56 631.92,83.78 632.08,83.09 631.86,82.55 631.31,82.1 630.48,81.7 629.42,81.31 628.18,80.9 626.65,80.45 624.76,80.02 622.64,79.59 620.41,79.18 618.22,78.78 616.18,78.4 614.16,78.01 612.03,77.62 609.93,77.24 608,76.9 606.37,76.61 605.18,76.4" fill="none" stroke="#8c8c8c" stroke-width="0.6" stroke-linejoin="round" stroke-linecap="round"/>
<polyline points="580.75,129.53 581.89,129.48 583.48,129.48 585.36,129.44 587.35,129.29 589.29,128.96 591,128.38 592.45,127.56 593.76,126.58 595.01,125.42 596.3,124.06 597.68,122.5 599.25,120.72 601.03,118.63 602.98,116.2 605.02,113.57 607.12,110.86 609.21,108.21 611.25,105.72 613.27,103.35 615.34,100.95 617.41,98.61 619.42,96.38 621.33,94.33 623.1,92.52 624.83,90.97 626.57,89.65 628.22,88.5 629.65,87.5 630.75,86.59 631.4,85.74 631.58,84.99 631.38,84.38 630.84,83.87 630.03,83.42 628.98,82.99 627.75,82.53 626.22,82.07 624.33,81.63 622.21,81.21 619.98,80.8 617.79,80.41 615.75,80.03 613.73,79.65 611.6,79.26 609.5,78.88 607.56,78.53 605.93,78.25 604.75,78.03" fill="none" stroke="#8c8c8c" stroke-width="0.6" stroke-linejoin="round" stroke-linecap="round"/>
<polyline points="580.89,129.58 582.04,129.53 583.64,129.52 585.52,129.49 587.52,129.34 589.47,129.02 591.19,128.44 592.64,127.63 593.97,126.65 595.23,125.48 596.52,124.13 597.91,122.57 599.49,120.8 601.27,118.7 603.22,116.28 605.27,113.65 607.36,110.94 609.45,108.28 611.49,105.8 613.51,103.42 615.57,101.02 617.63,98.68 619.64,96.45 621.55,94.39 623.31,92.58 625.03,91.04 626.77,89.71 628.41,88.56 629.83,87.55 630.93,86.65 631.57,85.79 631.74,85.04 631.54,84.43 631,83.92 630.18,83.47 629.12,83.03 627.89,82.58 626.36,82.12 624.47,81.67 622.35,81.25 620.13,80.85 617.93,80.46 615.89,80.08 613.87,79.69 611.74,79.3 609.64,78.92 607.71,78.58 606.08,78.29 604.89,78.08" fill="none" stroke="#8c8c8c" stroke-width="0.6" stroke-linejoin="round" stroke-linecap="round"/>
<polyline points="581.46,128.6 582.62,128.52 584.25,128.46 586.17,128.37 588.21,128.16 590.19,127.77 591.95,127.13 593.44,126.26 594.79,125.22 596.1,124 597.42,122.58 598.84,120.98 600.43,119.17 602.23,117.05 604.18,114.62 606.23,111.98 608.33,109.28 610.41,106.63 612.43,104.17 614.44,101.81 616.49,99.44 618.53,97.13 620.52,94.93 622.4,92.92 624.14,91.15 625.84,89.64 627.55,88.36 629.17,87.26 630.56,86.3 631.63,85.43 632.25,84.62 632.4,83.91 632.17,83.33 631.61,82.86 630.77,82.44 629.7,82.03 628.46,81.6 626.92,81.15 625.03,80.71 622.91,80.29 620.69,79.88 618.5,79.48 616.46,79.1 614.44,78.72 612.31,78.32 610.21,77.94 608.27,77.6 606.65,77.31 605.46,77.1" fill="none" stroke="#8c8c8c" stroke-width="0.6" stroke-linejoin="round" stroke-linecap="round"/>
<polyline points="578.95,129.53 580.02,129.48 581.52,129.48 583.29,129.44 585.17,129.29 586.99,128.96 588.6,128.38 589.94,127.56 591.13,126.58 592.27,125.42 593.45,124.06 594.74,122.5 596.25,120.72 597.99,118.63 599.92,116.2 601.96,113.57 604.07,110.86 606.18,108.2 608.25,105.72 610.31,103.34 612.43,100.95 614.55,98.61 616.63,96.38 618.62,94.33 620.46,92.52 622.26,90.97 624.08,89.65 625.82,88.5 627.33,87.5 628.51,86.59 629.24,85.74 629.49,84.99 629.36,84.38 628.89,83.87 628.14,83.42 627.14,82.99 625.95,82.53 624.44,82.07 622.56,81.63 620.43,81.21 618.2,80.8 615.99,80.41 613.95,80.03 611.93,79.65 609.8,79.26 607.7,78.88 605.76,78.53 604.13,78.25 602.95,78.03" fill="none" stroke="#8c8c8c" stroke-width="0.6" stroke-linejoin="round" stroke-linecap="round"/>
<polyline points="578.77,127.82 579.83,127.7 581.33,127.61 583.09,127.47 584.95,127.21 586.76,126.77 588.36,126.09 589.69,125.17 590.87,124.08 592,122.8 593.16,121.35 594.45,119.7 595.95,117.86 597.69,115.73 599.61,113.28 601.65,110.65 603.76,107.95 605.88,105.32 607.95,102.86 610.01,100.52 612.14,98.17 614.27,95.89 616.35,93.72 618.35,91.74 620.19,90 622,88.53 623.84,87.28 625.58,86.21 627.1,85.29 628.29,84.46 629.02,83.68 629.28,83 629.16,82.46 628.7,82.01 627.95,81.62 626.96,81.23 625.77,80.82 624.26,80.37 622.38,79.94 620.25,79.51 618.02,79.1 615.81,78.7 613.77,78.32 611.75,77.93 609.62,77.54 607.52,77.16 605.58,76.82 603.95,76.53 602.77,76.32" fill="none" stroke="#8c8c8c" stroke-width="0.6" stroke-linejoin="round" stroke-linecap="round"/>
<polyline points="578.53,128.64 579.59,128.56 581.07,128.51 582.82,128.41 584.67,128.21 586.47,127.82 588.05,127.19 589.36,126.32 590.53,125.28 591.65,124.06 592.8,122.65 594.07,121.04 595.56,119.23 597.29,117.12 599.21,114.68 601.26,112.05 603.37,109.35 605.49,106.7 607.56,104.23 609.63,101.87 611.76,99.51 613.9,97.19 615.99,95 618,92.98 619.85,91.21 621.67,89.7 623.51,88.42 625.27,87.31 626.8,86.35 628,85.48 628.74,84.67 629.01,83.96 628.89,83.38 628.44,82.9 627.7,82.48 626.72,82.07 625.53,81.64 624.03,81.19 622.15,80.75 620.02,80.33 617.79,79.92 615.58,79.52 613.53,79.14 611.52,78.76 609.39,78.36 607.28,77.98 605.35,77.64 603.72,77.35 602.53,77.14" fill="none" stroke="#8c8c8c" stroke-width="0.6" stroke-linejoin="round" stroke-linecap="round"/>
<polyline points="579,129.51 580.07,129.46 581.58,129.45 583.35,129.41 585.23,129.26 587.06,128.93 588.66,128.35 590.01,127.53 591.21,126.55 592.35,125.38 593.53,124.02 594.83,122.46 596.33,120.68 598.08,118.59 600,116.16 602.05,113.53 604.16,110.82 606.27,108.16 608.33,105.68 610.39,103.3 612.51,100.91 614.63,98.57 616.71,96.34 618.69,94.29 620.53,92.48 622.33,90.94 624.15,89.62 625.88,88.47 627.4,87.47 628.58,86.56 629.3,85.71 629.55,84.96 629.41,84.35 628.95,83.84 628.19,83.39 627.19,82.96 626,82.51 624.49,82.05 622.61,81.61 620.48,81.18 618.25,80.78 616.04,80.39 614,80.01 611.98,79.62 609.85,79.23 607.75,78.85 605.81,78.51 604.18,78.22 603,78.01" fill="none" stroke="#8c8c8c" stroke-width="0.6" stroke-linejoin="round" stroke-linecap="round"/>
<polyline points="579.16,129.06 580.24,128.99 581.75,128.96 583.53,128.89 585.42,128.71 587.26,128.35 588.88,127.74 590.23,126.9 591.44,125.89 592.59,124.69 593.78,123.31 595.08,121.72 596.6,119.93 598.35,117.82 600.27,115.39 602.32,112.76 604.42,110.06 606.54,107.4 608.6,104.93 610.65,102.56 612.77,100.18 614.88,97.85 616.96,95.64 618.93,93.61 620.76,91.82 622.56,90.3 624.37,88.99 626.09,87.87 627.6,86.88 628.77,86 629.49,85.17 629.73,84.44 629.59,83.85 629.12,83.35 628.36,82.92 627.35,82.5 626.16,82.06 624.65,81.6 622.76,81.16 620.64,80.74 618.4,80.33 616.2,79.94 614.16,79.56 612.14,79.17 610.01,78.78 607.91,78.4 605.97,78.06 604.34,77.77 603.16,77.56" fill="none" stroke="#8c8c8c" stroke-width="0.6" stroke-linejoin="round" stroke-linecap="round"/>
<polyline points="579.34,128.23 580.42,128.13 581.94,128.06 583.74,127.94 585.64,127.71 587.49,127.3 589.11,126.64 590.48,125.75 591.7,124.68 592.86,123.43 594.06,122 595.38,120.37 596.89,118.55 598.65,116.43 600.58,113.99 602.62,111.35 604.73,108.65 606.84,106.01 608.89,103.55 610.95,101.2 613.06,98.84 615.17,96.54 617.23,94.36 619.2,92.36 621.03,90.6 622.81,89.12 624.62,87.85 626.33,86.77 627.83,85.82 628.99,84.97 629.7,84.18 629.94,83.48 629.79,82.92 629.31,82.46 628.54,82.05 627.54,81.66 626.34,81.23 624.82,80.78 622.94,80.35 620.81,79.92 618.58,79.51 616.38,79.11 614.34,78.73 612.32,78.34 610.19,77.95 608.09,77.57 606.15,77.23 604.52,76.94 603.34,76.73" fill="none" stroke="#8c8c8c" stroke-width="0.6" stroke-linejoin="round" stroke-linecap="round"/>
<polyline points="581.37,129.9 582.53,129.87 584.16,129.88 586.07,129.86 588.1,129.74 590.08,129.43 591.83,128.87 593.31,128.08 594.66,127.12 595.96,125.98 597.28,124.64 598.69,123.1 600.29,121.34 602.08,119.25 604.03,116.83 606.08,114.2 608.18,111.49 610.26,108.83 612.29,106.34 614.3,103.95 616.35,101.55 618.39,99.19 620.38,96.95 622.27,94.88 624.01,93.06 625.71,91.5 627.43,90.16 629.05,89 630.45,87.97 631.52,87.05 632.15,86.18 632.3,85.42 632.07,84.8 631.52,84.27 630.68,83.81 629.61,83.36 628.37,82.9 626.84,82.44 624.94,81.99 622.82,81.57 620.6,81.17 618.41,80.78 616.37,80.4 614.35,80.02 612.22,79.63 610.12,79.25 608.19,78.9 606.56,78.62 605.37,78.4" fill="none" stroke="#8c8c8c" stroke-width="0.6" stroke-linejoin="round" stroke-linecap="round"/>
<polyline points="580.29,127.78 581.41,127.67 582.98,127.57 584.83,127.42 586.79,127.17 588.7,126.73 590.38,126.04 591.8,125.12 593.09,124.02 594.31,122.75 595.57,121.29 596.93,119.64 598.48,117.8 600.25,115.67 602.19,113.22 604.24,110.59 606.34,107.89 608.44,105.25 610.48,102.8 612.51,100.46 614.59,98.11 616.67,95.83 618.7,93.66 620.64,91.68 622.42,89.94 624.17,88.47 625.93,87.23 627.6,86.16 629.05,85.24 630.18,84.41 630.84,83.64 631.04,82.96 630.86,82.41 630.34,81.97 629.54,81.58 628.51,81.19 627.29,80.78 625.76,80.34 623.88,79.9 621.75,79.48 619.53,79.06 617.33,78.66 615.29,78.28 613.27,77.89 611.14,77.5 609.04,77.12 607.1,76.78 605.47,76.49 604.29,76.28" fill="none" stroke="#8c8c8c" stroke-width="0.6" stroke-linejoin="round" stroke-linecap="round"/>
<polyline points="580.85,127.74 581.99,127.62 583.59,127.52 585.47,127.38 587.47,127.11 589.41,126.67 591.13,125.98 592.58,125.06 593.9,123.96 595.16,122.68 596.45,121.22 597.84,119.57 599.41,117.73 601.2,115.59 603.14,113.15 605.19,110.52 607.28,107.82 609.38,105.18 611.41,102.73 613.43,100.39 615.5,98.04 617.56,95.76 619.57,93.6 621.48,91.62 623.24,89.88 624.96,88.41 626.7,87.17 628.35,86.11 629.77,85.19 630.87,84.36 631.51,83.58 631.69,82.91 631.49,82.37 630.95,81.92 630.13,81.53 629.08,81.15 627.85,80.74 626.32,80.29 624.43,79.86 622.3,79.43 620.08,79.02 617.88,78.62 615.85,78.24 613.83,77.85 611.7,77.46 609.6,77.08 607.66,76.74 606.03,76.45 604.85,76.24" fill="none" stroke="#8c8c8c" stroke-width="0.6" stroke-linejoin="round" stroke-linecap="round"/>
<polyline points="580.74,128.77 581.87,128.69 583.47,128.65 585.34,128.56 587.33,128.37 589.27,127.99 590.98,127.36 592.43,126.5 593.74,125.47 594.99,124.26 596.27,122.86 597.66,121.26 599.23,119.45 601.01,117.34 602.95,114.91 605,112.28 607.1,109.57 609.19,106.92 611.23,104.45 613.25,102.09 615.32,99.72 617.38,97.4 619.4,95.2 621.31,93.18 623.08,91.4 624.81,89.89 626.55,88.6 628.2,87.49 629.63,86.52 630.73,85.64 631.38,84.83 631.56,84.11 631.36,83.53 630.83,83.05 630.01,82.62 628.96,82.21 627.74,81.77 626.21,81.32 624.32,80.88 622.19,80.46 619.97,80.05 617.77,79.65 615.74,79.27 613.72,78.89 611.59,78.49 609.49,78.12 607.55,77.77 605.92,77.48 604.74,77.27" fill="none" stroke="#8c8c8c" stroke-width="0.6" stroke-linejoin="round" stroke-linecap="round"/>
<polyline points="580.77,130.35 581.66,130.44 582.88,130.63 584.33,130.83 585.9,130.9 587.48,130.75 588.95,130.25 590.3,129.41 591.61,128.32 592.93,127 594.3,125.47 595.76,123.76 597.38,121.88 599.18,119.75 601.14,117.31 603.2,114.7 605.3,112.01 607.38,109.37 609.38,106.88 611.33,104.5 613.29,102.12 615.23,99.78 617.12,97.53 618.96,95.43 620.71,93.52 622.45,91.77 624.23,90.11 625.95,88.6 627.5,87.28 628.81,86.18 629.77,85.35" fill="none" stroke="#8c8c8c" stroke-width="0.9" stroke-linejoin="round" stroke-linecap="round"/>
<polyline points="582.66,128.79 583.69,128.75 585.11,128.79 586.79,128.78 588.61,128.66 590.42,128.31 592.1,127.64 593.62,126.66 595.11,125.42 596.59,123.96 598.11,122.31 599.7,120.5 601.4,118.54 603.26,116.36 605.25,113.91 607.31,111.29 609.39,108.61 611.44,105.99 613.4,103.54 615.31,101.2 617.22,98.85 619.1,96.56 620.91,94.39 622.63,92.38 624.23,90.6 625.75,89.03 627.23,87.62 628.62,86.39 629.86,85.33 630.89,84.46 631.66,83.79" fill="none" stroke="#8c8c8c" stroke-width="0.9" stroke-linejoin="round" stroke-linecap="round"/>
<polyline points="581.09,129.79 582,129.84 583.25,129.97 584.74,130.1 586.35,130.1 587.97,129.88 589.48,129.32 590.85,128.43 592.19,127.29 593.54,125.92 594.93,124.34 596.42,122.59 598.05,120.69 599.86,118.54 601.82,116.1 603.88,113.48 605.98,110.8 608.05,108.16 610.05,105.69 611.99,103.32 613.94,100.95 615.87,98.63 617.75,96.41 619.57,94.34 621.29,92.48 623,90.79 624.73,89.23 626.39,87.81 627.9,86.58 629.16,85.57 630.09,84.79" fill="none" stroke="#8c8c8c" stroke-width="0.9" stroke-linejoin="round" stroke-linecap="round"/>
<polyline points="581.82,128.41 582.79,128.34 584.12,128.34 585.7,128.29 587.41,128.11 589.12,127.71 590.7,127.01 592.15,125.98 593.56,124.71 594.96,123.22 596.42,121.54 597.95,119.7 599.62,117.73 601.45,115.54 603.42,113.08 605.48,110.45 607.57,107.78 609.64,105.17 611.62,102.73 613.55,100.39 615.48,98.06 617.38,95.78 619.23,93.62 621,91.64 622.67,89.89 624.29,88.37 625.9,87.02 627.43,85.84 628.81,84.85 629.97,84.04 630.82,83.41" fill="none" stroke="#8c8c8c" stroke-width="0.9" stroke-linejoin="round" stroke-linecap="round"/>
<polyline points="581.31,127.75 582.24,127.64 583.52,127.56 585.04,127.43 586.68,127.17 588.32,126.69 589.85,125.92 591.25,124.83 592.61,123.5 593.97,121.95 595.38,120.22 596.89,118.34 598.53,116.34 600.34,114.12 602.31,111.65 604.37,109.03 606.46,106.36 608.54,103.76 610.53,101.34 612.47,99.01 614.41,96.69 616.33,94.44 618.2,92.31 620.01,90.36 621.71,88.67 623.39,87.22 625.09,85.98 626.71,84.92 628.18,84.04 629.4,83.32 630.31,82.75" fill="none" stroke="#8c8c8c" stroke-width="0.9" stroke-linejoin="round" stroke-linecap="round"/>
<polyline points="582.9,129.68 583.94,129.72 585.39,129.84 587.11,129.95 588.95,129.94 590.79,129.7 592.5,129.13 594.05,128.23 595.55,127.08 597.05,125.7 598.59,124.12 600.2,122.36 601.91,120.45 603.78,118.3 605.77,115.85 607.83,113.23 609.91,110.55 611.96,107.92 613.91,105.45 615.82,103.09 617.72,100.72 619.59,98.4 621.4,96.18 623.1,94.12 624.67,92.27 626.17,90.59 627.61,89.05 628.96,87.65 630.16,86.44 631.15,85.44 631.9,84.68" fill="none" stroke="#8c8c8c" stroke-width="0.9" stroke-linejoin="round" stroke-linecap="round"/>
<polyline points="582.44,128.13 583.45,128.04 584.85,128.01 586.51,127.92 588.3,127.71 590.08,127.28 591.73,126.54 593.24,125.49 594.7,124.19 596.16,122.68 597.66,120.98 599.24,119.12 600.94,117.14 602.79,114.93 604.77,112.47 606.83,109.85 608.91,107.18 610.97,104.57 612.94,102.14 614.85,99.8 616.77,97.47 618.65,95.2 620.47,93.06 622.21,91.09 623.82,89.37 625.37,87.88 626.88,86.57 628.31,85.45 629.58,84.5 630.65,83.73 631.44,83.13" fill="none" stroke="#8c8c8c" stroke-width="0.9" stroke-linejoin="round" stroke-linecap="round"/>
<polyline points="581.94,129.43 582.91,129.44 584.26,129.54 585.86,129.62 587.58,129.58 589.3,129.31 590.9,128.71 592.36,127.79 593.78,126.61 595.2,125.21 596.66,123.6 598.2,121.83 599.87,119.91 601.71,117.75 603.68,115.3 605.74,112.68 607.83,110 609.89,107.37 611.87,104.91 613.8,102.55 615.73,100.19 617.63,97.88 619.47,95.67 621.24,93.63 622.89,91.8 624.5,90.15 626.09,88.64 627.6,87.29 628.96,86.13 630.1,85.16 630.94,84.43" fill="none" stroke="#8c8c8c" stroke-width="0.9" stroke-linejoin="round" stroke-linecap="round"/>
<polyline points="581.78,128.59 582.74,128.54 584.07,128.55 585.65,128.52 587.35,128.37 589.05,128 590.63,127.31 592.07,126.31 593.47,125.05 594.88,123.57 596.33,121.91 597.86,120.08 599.52,118.12 601.35,115.93 603.33,113.47 605.39,110.85 607.48,108.18 609.54,105.57 611.52,103.12 613.45,100.78 615.38,98.44 617.29,96.15 619.14,93.99 620.92,91.99 622.58,90.23 624.21,88.68 625.83,87.31 627.37,86.1 628.76,85.08 629.92,84.24 630.78,83.59" fill="none" stroke="#8c8c8c" stroke-width="0.9" stroke-linejoin="round" stroke-linecap="round"/>
<polyline points="582.46,129.96 583.48,130.01 584.88,130.17 586.54,130.31 588.33,130.34 590.12,130.14 591.77,129.6 593.28,128.72 594.75,127.59 596.22,126.24 597.72,124.68 599.3,122.94 600.99,121.05 602.84,118.9 604.83,116.46 606.89,113.84 608.97,111.16 611.02,108.52 612.99,106.05 614.91,103.67 616.82,101.3 618.7,98.97 620.53,96.74 622.26,94.67 623.87,92.79 625.41,91.08 626.92,89.49 628.35,88.05 629.62,86.79 630.68,85.75 631.46,84.96" fill="none" stroke="#8c8c8c" stroke-width="0.9" stroke-linejoin="round" stroke-linecap="round"/>
<polyline points="582.54,127.54 583.56,127.42 584.97,127.32 586.64,127.16 588.44,126.87 590.24,126.37 591.9,125.57 593.42,124.46 594.89,123.11 596.36,121.54 597.87,119.8 599.46,117.9 601.16,115.89 603.01,113.67 604.99,111.19 607.05,108.57 609.14,105.91 611.19,103.31 613.16,100.89 615.07,98.57 616.98,96.25 618.86,94 620.68,91.88 622.41,89.95 624.01,88.28 625.55,86.86 627.05,85.64 628.45,84.62 629.71,83.77 630.76,83.09 631.54,82.54" fill="none" stroke="#8c8c8c" stroke-width="0.9" stroke-linejoin="round" stroke-linecap="round"/>
<polyline points="580.69,128.92 581.57,128.9 582.78,128.95 584.23,128.96 585.78,128.85 587.35,128.52 588.81,127.87 590.15,126.9 591.46,125.67 592.76,124.23 594.13,122.59 595.59,120.78 597.2,118.84 599,116.66 600.96,114.2 603.02,111.58 605.11,108.91 607.2,106.29 609.2,103.84 611.16,101.49 613.11,99.14 615.05,96.84 616.95,94.66 618.79,92.65 620.55,90.86 622.31,89.27 624.1,87.84 625.83,86.58 627.4,85.5 628.72,84.61 629.69,83.92" fill="none" stroke="#8c8c8c" stroke-width="0.9" stroke-linejoin="round" stroke-linecap="round"/>
<polyline points="580.78,130.25 581.67,130.32 582.89,130.51 584.34,130.69 585.91,130.75 587.49,130.59 588.96,130.08 590.31,129.23 591.62,128.13 592.94,126.8 594.31,125.26 595.78,123.54 597.39,121.66 599.19,119.52 601.15,117.09 603.21,114.47 605.31,111.78 607.39,109.14 609.39,106.66 611.35,104.28 613.3,101.9 615.24,99.56 617.14,97.32 618.97,95.23 620.72,93.33 622.46,91.58 624.24,89.95 625.96,88.45 627.51,87.15 628.82,86.07 629.78,85.25" fill="none" stroke="#8c8c8c" stroke-width="0.9" stroke-linejoin="round" stroke-linecap="round"/>
<polyline points="582.19,129.96 583.19,130.01 584.56,130.17 586.19,130.31 587.94,130.33 589.7,130.13 591.32,129.59 592.81,128.72 594.25,127.59 595.69,126.23 597.17,124.67 598.73,122.93 600.41,121.04 602.26,118.89 604.24,116.45 606.3,113.83 608.38,111.15 610.44,108.51 612.41,106.04 614.33,103.67 616.25,101.29 618.15,98.96 619.98,96.74 621.73,94.66 623.36,92.78 624.94,91.07 626.49,89.48 627.96,88.04 629.28,86.78 630.38,85.74 631.19,84.96" fill="none" stroke="#8c8c8c" stroke-width="0.9" stroke-linejoin="round" stroke-linecap="round"/>
<polyline points="612.88,99.47 614.04,99.33 615.63,99.12 617.52,98.89 619.58,98.67 621.71,98.5 623.76,98.43 625.8,98.45 627.93,98.52 630.11,98.64 632.32,98.83 634.5,99.08 636.64,99.4 638.78,99.8 640.96,100.27 643.13,100.82 645.22,101.41 647.17,102.05 648.93,102.72 650.49,103.44 651.89,104.22 653.15,105.04 654.3,105.89 655.36,106.74 656.35,107.58 657.26,108.43 658.09,109.33 658.83,110.24 659.47,111.11 660.02,111.91 660.47,112.61 660.78,113.21 660.96,113.73 661.03,114.19 661.06,114.58 661.06,114.9 661.09,115.14" fill="none" stroke="#8c8c8c" stroke-width="0.7" stroke-linejoin="round" stroke-linecap="round"/>
<polyline points="611.08,98.66 612.04,98.44 613.36,98.11 614.93,97.73 616.65,97.35 618.42,97.03 620.16,96.82 621.88,96.7 623.68,96.62 625.53,96.6 627.42,96.64 629.33,96.77 631.24,96.98 633.19,97.3 635.2,97.7 637.24,98.18 639.24,98.74 641.15,99.36 642.93,100.04 644.57,100.79 646.13,101.64 647.6,102.56 648.99,103.51 650.3,104.48 651.54,105.43 652.73,106.41 653.85,107.43 654.89,108.48 655.85,109.49 656.71,110.43 657.46,111.27 658.1,112.01 658.62,112.69 659.05,113.3 659.39,113.83 659.66,114.27 659.89,114.61" fill="none" stroke="#8c8c8c" stroke-width="0.7" stroke-linejoin="round" stroke-linecap="round"/>
<polyline points="613.35,98.77 614.57,98.55 616.22,98.24 618.2,97.88 620.35,97.53 622.57,97.22 624.71,97.03 626.83,96.93 629.04,96.87 631.32,96.86 633.6,96.93 635.87,97.07 638.06,97.3 640.25,97.62 642.48,98.03 644.68,98.53 646.79,99.09 648.76,99.71 650.51,100.39 652.05,101.14 653.4,101.98 654.61,102.88 655.7,103.82 656.69,104.77 657.61,105.71 658.46,106.67 659.21,107.68 659.87,108.71 660.43,109.7 660.89,110.63 661.26,111.44 661.49,112.16 661.57,112.83 661.56,113.42 661.49,113.93 661.43,114.35 661.4,114.68" fill="none" stroke="#8c8c8c" stroke-width="0.7" stroke-linejoin="round" stroke-linecap="round"/>
<polyline points="612.27,97.27 613.36,96.89 614.86,96.36 616.63,95.73 618.58,95.09 620.59,94.5 622.53,94.04 624.47,93.67 626.48,93.34 628.55,93.06 630.65,92.86 632.75,92.77 634.8,92.81 636.88,92.97 639,93.25 641.12,93.63 643.18,94.12 645.13,94.71 646.89,95.4 648.48,96.22 649.93,97.19 651.26,98.27 652.49,99.41 653.64,100.57 654.71,101.72 655.72,102.9 656.65,104.15 657.49,105.43 658.24,106.69 658.9,107.88 659.45,108.95 659.87,109.94 660.16,110.89 660.36,111.77 660.49,112.55 660.58,113.19 660.68,113.68" fill="none" stroke="#8c8c8c" stroke-width="0.7" stroke-linejoin="round" stroke-linecap="round"/>
<polyline points="611.5,99.71 612.51,99.6 613.89,99.44 615.53,99.24 617.33,99.07 619.19,98.95 621,98.93 622.79,98.99 624.67,99.1 626.6,99.27 628.56,99.5 630.54,99.79 632.5,100.14 634.49,100.57 636.55,101.06 638.61,101.62 640.63,102.23 642.56,102.88 644.33,103.54 645.95,104.25 647.47,105.01 648.89,105.8 650.22,106.62 651.48,107.43 652.66,108.24 653.78,109.06 654.84,109.92 655.81,110.78 656.69,111.61 657.48,112.37 658.16,113.02 658.72,113.57 659.17,114.05 659.51,114.46 659.78,114.81 659.99,115.09 660.17,115.31" fill="none" stroke="#8c8c8c" stroke-width="0.7" stroke-linejoin="round" stroke-linecap="round"/>
<polyline points="612.51,99.67 613.63,99.55 615.16,99.38 616.98,99.18 618.98,99 621.03,98.87 623.02,98.84 624.99,98.89 627.06,99 629.17,99.16 631.31,99.38 633.44,99.66 635.53,100.01 637.63,100.43 639.78,100.92 641.92,101.48 643.99,102.08 645.94,102.73 647.7,103.4 649.28,104.1 650.71,104.87 652.01,105.67 653.21,106.48 654.32,107.31 655.36,108.12 656.33,108.94 657.22,109.81 658.02,110.68 658.73,111.52 659.34,112.29 659.85,112.95 660.23,113.51 660.48,114 660.63,114.42 660.71,114.77 660.77,115.05 660.84,115.28" fill="none" stroke="#8c8c8c" stroke-width="0.7" stroke-linejoin="round" stroke-linecap="round"/>
<polyline points="610.87,98.77 611.81,98.56 613.1,98.25 614.63,97.89 616.31,97.53 618.04,97.23 619.74,97.04 621.43,96.93 623.19,96.87 625,96.87 626.86,96.93 628.73,97.07 630.61,97.3 632.54,97.63 634.54,98.04 636.56,98.53 638.55,99.09 640.46,99.72 642.23,100.39 643.89,101.15 645.46,101.99 646.95,102.89 648.37,103.83 649.71,104.78 650.99,105.72 652.2,106.68 653.36,107.69 654.44,108.71 655.43,109.71 656.33,110.63 657.12,111.45 657.79,112.17 658.35,112.83 658.82,113.42 659.19,113.93 659.5,114.36 659.75,114.68" fill="none" stroke="#8c8c8c" stroke-width="0.7" stroke-linejoin="round" stroke-linecap="round"/>
<polyline points="612.91,97.97 614.08,97.67 615.67,97.24 617.56,96.74 619.64,96.23 621.77,95.78 623.83,95.44 625.87,95.2 628.01,94.99 630.2,94.84 632.41,94.76 634.6,94.78 636.74,94.91 638.89,95.15 641.07,95.49 643.24,95.92 645.33,96.44 647.29,97.05 649.05,97.73 650.6,98.53 652,99.44 653.26,100.43 654.4,101.47 655.45,102.54 656.44,103.59 657.35,104.67 658.17,105.81 658.91,106.97 659.54,108.1 660.08,109.17 660.52,110.12 660.83,110.98 661,111.79 661.07,112.54 661.09,113.19 661.09,113.74 661.11,114.15" fill="none" stroke="#8c8c8c" stroke-width="0.7" stroke-linejoin="round" stroke-linecap="round"/>
<polyline points="610.59,99.32 611.5,99.17 612.74,98.94 614.22,98.68 615.85,98.43 617.53,98.24 619.18,98.14 620.82,98.13 622.53,98.18 624.29,98.27 626.1,98.43 627.93,98.66 629.77,98.96 631.67,99.35 633.64,99.81 635.64,100.34 637.61,100.93 639.52,101.56 641.3,102.24 642.97,102.96 644.57,103.75 646.09,104.59 647.54,105.46 648.93,106.33 650.24,107.19 651.5,108.07 652.69,108.99 653.82,109.92 654.87,110.82 655.81,111.65 656.65,112.37 657.37,112.99 657.99,113.55 658.51,114.03 658.94,114.45 659.28,114.78 659.56,115.05" fill="none" stroke="#8c8c8c" stroke-width="0.7" stroke-linejoin="round" stroke-linecap="round"/>
<polyline points="610.8,98.09 611.73,97.8 613.01,97.39 614.53,96.9 616.19,96.42 617.92,95.99 619.6,95.67 621.28,95.45 623.02,95.26 624.83,95.14 626.67,95.08 628.53,95.11 630.4,95.26 632.32,95.51 634.31,95.86 636.33,96.3 638.31,96.83 640.22,97.44 642,98.12 643.66,98.91 645.24,99.81 646.74,100.79 648.16,101.82 649.52,102.86 650.8,103.9 652.03,104.96 653.19,106.08 654.28,107.22 655.29,108.33 656.2,109.38 657,110.31 657.68,111.15 658.26,111.94 658.74,112.67 659.13,113.3 659.45,113.83 659.7,114.22" fill="none" stroke="#8c8c8c" stroke-width="0.7" stroke-linejoin="round" stroke-linecap="round"/>
<polyline points="610.75,98.85 611.68,98.65 612.95,98.35 614.45,98.01 616.11,97.67 617.83,97.39 619.5,97.21 621.17,97.12 622.91,97.08 624.7,97.09 626.53,97.17 628.39,97.32 630.25,97.56 632.17,97.9 634.15,98.32 636.16,98.82 638.15,99.38 640.05,100.01 641.84,100.68 643.5,101.43 645.08,102.26 646.59,103.16 648.02,104.08 649.38,105.02 650.67,105.94 651.9,106.89 653.07,107.89 654.17,108.9 655.19,109.88 656.11,110.79 656.92,111.59 657.61,112.3 658.2,112.94 658.68,113.52 659.08,114.01 659.41,114.42 659.67,114.74" fill="none" stroke="#8c8c8c" stroke-width="0.7" stroke-linejoin="round" stroke-linecap="round"/>
<polyline points="610.69,99.4 611.61,99.26 612.87,99.04 614.37,98.79 616.01,98.56 617.72,98.38 619.38,98.3 621.04,98.31 622.77,98.36 624.55,98.48 626.37,98.65 628.22,98.89 630.07,99.2 631.98,99.59 633.96,100.06 635.97,100.6 637.95,101.19 639.86,101.83 641.64,102.5 643.3,103.22 644.89,104.01 646.4,104.84 647.84,105.69 649.21,106.55 650.51,107.4 651.75,108.27 652.93,109.18 654.04,110.1 655.07,110.98 656,111.79 656.82,112.5 657.52,113.11 658.12,113.65 658.62,114.12 659.03,114.52 659.36,114.85 659.63,115.1" fill="none" stroke="#8c8c8c" stroke-width="0.7" stroke-linejoin="round" stroke-linecap="round"/>
<polyline points="610.6,97.52 611.51,97.17 612.75,96.67 614.23,96.09 615.86,95.5 617.55,94.96 619.2,94.54 620.84,94.22 622.55,93.93 624.31,93.7 626.12,93.54 627.95,93.49 629.79,93.56 631.69,93.75 633.67,94.05 635.66,94.45 637.64,94.95 639.54,95.54 641.33,96.23 643,97.05 644.59,98 646.12,99.04 647.57,100.15 648.95,101.27 650.26,102.39 651.52,103.53 652.71,104.74 653.84,105.98 654.88,107.19 655.83,108.34 656.66,109.37 657.38,110.31 658,111.21 658.51,112.04 658.94,112.78 659.29,113.39 659.57,113.85" fill="none" stroke="#8c8c8c" stroke-width="0.7" stroke-linejoin="round" stroke-linecap="round"/>
<polyline points="610.72,98.56 611.65,98.33 612.91,97.98 614.41,97.59 616.07,97.19 617.77,96.85 619.44,96.62 621.11,96.48 622.84,96.38 624.63,96.34 626.45,96.37 628.31,96.48 630.17,96.68 632.08,96.99 634.06,97.38 636.07,97.86 638.05,98.41 639.96,99.02 641.74,99.7 643.4,100.47 644.99,101.32 646.5,102.25 647.93,103.22 649.3,104.2 650.59,105.16 651.83,106.15 653,107.2 654.11,108.26 655.13,109.29 656.06,110.25 656.87,111.1 657.57,111.86 658.16,112.56 658.65,113.19 659.06,113.74 659.39,114.2 659.65,114.54" fill="none" stroke="#8c8c8c" stroke-width="0.7" stroke-linejoin="round" stroke-linecap="round"/>
<polyline points="611.22,98.72 612.2,98.5 613.54,98.18 615.13,97.81 616.88,97.45 618.68,97.14 620.44,96.93 622.19,96.82 624.01,96.75 625.9,96.74 627.81,96.79 629.74,96.93 631.66,97.15 633.63,97.47 635.66,97.88 637.7,98.37 639.71,98.92 641.63,99.55 643.4,100.22 645.04,100.98 646.58,101.82 648.04,102.73 649.41,103.68 650.7,104.64 651.92,105.58 653.08,106.55 654.18,107.57 655.2,108.6 656.14,109.6 656.97,110.54 657.7,111.36 658.31,112.09 658.81,112.76 659.2,113.36 659.52,113.89 659.77,114.32 659.98,114.64" fill="none" stroke="#8c8c8c" stroke-width="0.7" stroke-linejoin="round" stroke-linecap="round"/>
<polyline points="612.5,99.92 613.62,99.83 615.15,99.69 616.97,99.54 618.96,99.4 621.01,99.32 623,99.34 624.97,99.43 627.03,99.58 629.15,99.79 631.28,100.05 633.41,100.37 635.5,100.75 637.6,101.2 639.75,101.72 641.88,102.29 643.96,102.91 645.9,103.56 647.67,104.23 649.24,104.92 650.67,105.66 651.98,106.43 653.18,107.22 654.29,108.01 655.33,108.78 656.31,109.57 657.2,110.4 658,111.23 658.71,112.02 659.32,112.74 659.83,113.36 660.21,113.88 660.46,114.32 660.61,114.69 660.7,115 660.76,115.25 660.83,115.45" fill="none" stroke="#8c8c8c" stroke-width="0.7" stroke-linejoin="round" stroke-linecap="round"/>
<circle cx="601" cy="75.5" r="2" fill="#e8222a" stroke="none" stroke-width="1"/>
<circle cx="603.5" cy="77.5" r="2" fill="#e8222a" stroke="none" stroke-width="1"/>
<circle cx="600" cy="77.5" r="2" fill="#e8222a" stroke="none" stroke-width="1"/>
<circle cx="604" cy="75" r="2" fill="#e8222a" stroke="none" stroke-width="1"/>
<circle cx="602.5" cy="79" r="2" fill="#e8222a" stroke="none" stroke-width="1"/>
<circle cx="659.5" cy="113.5" r="1.9" fill="#e8222a" stroke="none" stroke-width="1"/>
<circle cx="661.5" cy="115" r="1.9" fill="#e8222a" stroke="none" stroke-width="1"/>
<circle cx="660" cy="116.8" r="1.9" fill="#e8222a" stroke="none" stroke-width="1"/>
<circle cx="662.5" cy="116.5" r="1.9" fill="#e8222a" stroke="none" stroke-width="1"/>
<circle cx="658.7" cy="115.5" r="1.9" fill="#e8222a" stroke="none" stroke-width="1"/>
<circle cx="583.6" cy="37.5" r="1.8" fill="#2b3a9c" stroke="none" stroke-width="1"/>
<circle cx="585.6" cy="37.3" r="1.8" fill="#2b3a9c" stroke="none" stroke-width="1"/>
<circle cx="587.5" cy="37.6" r="1.8" fill="#2b3a9c" stroke="none" stroke-width="1"/>
<circle cx="584.8" cy="39.8" r="1.8" fill="#2b3a9c" stroke="none" stroke-width="1"/>
<circle cx="586.5" cy="40.2" r="1.8" fill="#2b3a9c" stroke="none" stroke-width="1"/>
<circle cx="584" cy="42" r="1.8" fill="#2b3a9c" stroke="none" stroke-width="1"/>
<circle cx="586.2" cy="45.9" r="1.8" fill="#2b3a9c" stroke="none" stroke-width="1"/>
<circle cx="594.6" cy="47.8" r="1.8" fill="#2b3a9c" stroke="none" stroke-width="1"/>
<polygon points="537.3,74.5 537.8,75.71 539.11,75.81 538.11,76.66 538.42,77.94 537.3,77.26 536.18,77.94 536.49,76.66 535.49,75.81 536.8,75.71" fill="#2b3a9c"/>
<polygon points="539,76.6 539.5,77.81 540.81,77.91 539.81,78.76 540.12,80.04 539,79.36 537.88,80.04 538.19,78.76 537.19,77.91 538.5,77.81" fill="#2b3a9c"/>
<polygon points="537.5,78.6 538,79.81 539.31,79.91 538.31,80.76 538.62,82.04 537.5,81.36 536.38,82.04 536.69,80.76 535.69,79.91 537,79.81" fill="#2b3a9c"/>
<polygon points="539.5,80.1 540,81.31 541.31,81.41 540.31,82.26 540.62,83.54 539.5,82.86 538.38,83.54 538.69,82.26 537.69,81.41 539,81.31" fill="#2b3a9c"/>
<polygon points="538.5,82.1 539,83.31 540.31,83.41 539.31,84.26 539.62,85.54 538.5,84.86 537.38,85.54 537.69,84.26 536.69,83.41 538,83.31" fill="#2b3a9c"/>
<polygon points="541,84.1 541.5,85.31 542.81,85.41 541.81,86.26 542.12,87.54 541,86.86 539.88,87.54 540.19,86.26 539.19,85.41 540.5,85.31" fill="#2b3a9c"/>
<polygon points="546.9,87.3 547.4,88.51 548.71,88.61 547.71,89.46 548.02,90.74 546.9,90.06 545.78,90.74 546.09,89.46 545.09,88.61 546.4,88.51" fill="#2b3a9c"/>
<text x="586.2" y="173.32" font-size="11.5" text-anchor="middle" fill="#1a1a1a">Reduced inhibition</text>
<path d="M633.2 208.1 L633.2 228.6 L654.2 228.6" fill="none" stroke="#222" stroke-width="1.6" stroke-linejoin="miter"/>
<text x="624.2" y="219.9" font-size="6.6" text-anchor="middle" fill="#222" transform="rotate(-90 624.2 219.9)">PC<tspan font-size="4.5" dy="1.5">2</tspan></text>
<text x="643.5" y="238.3" font-size="6.6" text-anchor="middle" fill="#222">PC<tspan font-size="4.5" dy="1.5">1</tspan></text>
<polyline points="570.2,199.15 570.13,198.18 570.02,196.83 569.9,195.23 569.8,193.52 569.76,191.84 569.82,190.31 569.92,188.88 570.06,187.42 570.24,185.99 570.53,184.63 570.94,183.38 571.51,182.31 572.29,181.39 573.26,180.59 574.36,179.91 575.52,179.35 576.7,178.91 577.82,178.59 578.89,178.34 579.97,178.15 581.06,178.08 582.15,178.19 583.26,178.54 584.39,179.2 585.47,180.16 586.5,181.37 587.54,182.83 588.66,184.51 589.94,186.42 591.43,188.55 593.16,190.89 595.06,193.46 597.11,196.26 599.3,199.27 601.58,202.49 603.95,205.9 606.44,209.59 609.1,213.59 611.87,217.79 614.68,222.1 617.47,226.41 620.2,230.61 622.9,234.79 625.65,239.03 628.38,243.27 631.05,247.44 633.58,251.49 635.93,255.33 638.19,259.16 640.4,263.08 642.49,266.86 644.36,270.29 645.92,273.17 647.08,275.29" fill="none" stroke="#1f77b4" stroke-width="0.8" stroke-linejoin="round" stroke-linecap="round"/>
<polyline points="569.84,197.47 569.8,196.45 569.72,195.03 569.64,193.35 569.59,191.56 569.61,189.8 569.74,188.21 569.95,186.75 570.2,185.28 570.53,183.85 570.94,182.48 571.46,181.21 572.09,180.07 572.88,179.04 573.82,178.07 574.85,177.2 575.95,176.46 577.08,175.87 578.19,175.47 579.3,175.22 580.45,175.09 581.62,175.12 582.81,175.34 584,175.78 585.17,176.49 586.27,177.43 587.28,178.57 588.3,179.94 589.39,181.56 590.64,183.44 592.11,185.62 593.82,188.14 595.71,190.99 597.76,194.11 599.93,197.44 602.19,200.91 604.52,204.46 606.97,208.15 609.57,212.04 612.26,216.07 614.99,220.18 617.72,224.32 620.39,228.4 623.05,232.51 625.75,236.7 628.45,240.91 631.09,245.07 633.61,249.13 635.97,253.02 638.25,256.95 640.51,261.01 642.66,264.97 644.6,268.58 646.22,271.61 647.42,273.83" fill="none" stroke="#1f77b4" stroke-width="0.8" stroke-linejoin="round" stroke-linecap="round"/>
<polyline points="571.08,198.61 571.1,197.66 571.13,196.34 571.16,194.78 571.22,193.1 571.3,191.43 571.43,189.88 571.55,188.38 571.64,186.83 571.77,185.27 571.98,183.79 572.35,182.43 572.93,181.27 573.78,180.29 574.85,179.44 576.08,178.73 577.39,178.14 578.69,177.69 579.93,177.38 581.11,177.16 582.31,177.03 583.52,177.03 584.71,177.21 585.87,177.62 586.98,178.32 587.97,179.29 588.83,180.48 589.65,181.91 590.55,183.57 591.63,185.47 592.99,187.61 594.65,190 596.54,192.67 598.61,195.57 600.81,198.67 603.08,201.95 605.39,205.38 607.77,209.01 610.24,212.89 612.8,216.95 615.41,221.11 618.07,225.31 620.73,229.47 623.51,233.68 626.43,238.01 629.38,242.38 632.27,246.7 634.99,250.87 637.44,254.81 639.67,258.7 641.8,262.67 643.76,266.49 645.48,269.95 646.92,272.86 647.99,275" fill="none" stroke="#1f77b4" stroke-width="0.8" stroke-linejoin="round" stroke-linecap="round"/>
<polyline points="569.04,197.42 568.95,196.41 568.82,194.99 568.66,193.32 568.53,191.54 568.45,189.78 568.45,188.2 568.51,186.73 568.59,185.25 568.72,183.8 568.94,182.41 569.27,181.13 569.76,179.98 570.42,178.96 571.24,178.01 572.18,177.17 573.2,176.45 574.25,175.87 575.31,175.47 576.39,175.2 577.52,175.04 578.69,175.02 579.88,175.2 581.09,175.61 582.3,176.3 583.46,177.25 584.56,178.43 585.67,179.84 586.87,181.5 588.21,183.42 589.78,185.62 591.57,188.12 593.56,190.95 595.69,194.03 597.93,197.32 600.26,200.76 602.62,204.31 605.06,208.02 607.61,211.96 610.24,216.06 612.91,220.23 615.59,224.42 618.25,228.55 620.93,232.67 623.66,236.85 626.41,241.05 629.11,245.2 631.72,249.25 634.17,253.15 636.59,257.12 639.03,261.24 641.38,265.26 643.5,268.94 645.28,272.03 646.59,274.29" fill="none" stroke="#1f77b4" stroke-width="0.8" stroke-linejoin="round" stroke-linecap="round"/>
<polyline points="568.57,200.27 568.56,199.35 568.54,198.06 568.52,196.53 568.51,194.9 568.54,193.28 568.62,191.82 568.71,190.44 568.78,189.02 568.89,187.63 569.08,186.31 569.38,185.12 569.84,184.11 570.48,183.27 571.28,182.58 572.19,182.01 573.18,181.56 574.22,181.23 575.27,181 576.36,180.85 577.51,180.76 578.71,180.79 579.93,180.98 581.17,181.37 582.4,182.02 583.56,182.88 584.68,183.92 585.8,185.17 587,186.65 588.34,188.38 589.9,190.41 591.68,192.75 593.63,195.39 595.73,198.29 597.95,201.41 600.25,204.71 602.61,208.14 605.07,211.79 607.67,215.69 610.35,219.78 613.07,223.95 615.79,228.14 618.46,232.25 621.12,236.35 623.82,240.51 626.52,244.69 629.16,248.81 631.72,252.83 634.15,256.68 636.56,260.57 639.01,264.58 641.37,268.48 643.51,272.04 645.31,275.03 646.63,277.22" fill="none" stroke="#1f77b4" stroke-width="0.8" stroke-linejoin="round" stroke-linecap="round"/>
<polyline points="569.44,198.42 569.33,197.4 569.15,195.98 568.95,194.31 568.79,192.51 568.7,190.74 568.76,189.12 568.93,187.6 569.19,186.06 569.53,184.54 569.95,183.08 570.46,181.73 571.05,180.53 571.76,179.45 572.57,178.44 573.47,177.53 574.43,176.77 575.43,176.19 576.43,175.82 577.47,175.65 578.54,175.64 579.65,175.8 580.79,176.16 581.96,176.72 583.13,177.51 584.27,178.49 585.37,179.65 586.49,181.02 587.69,182.62 589.02,184.48 590.54,186.61 592.24,189.07 594.09,191.83 596.06,194.84 598.16,198.06 600.38,201.43 602.7,204.89 605.2,208.51 607.88,212.33 610.67,216.3 613.51,220.37 616.34,224.49 619.08,228.59 621.77,232.78 624.5,237.1 627.2,241.47 629.84,245.79 632.37,249.98 634.74,253.94 637.05,257.86 639.35,261.86 641.55,265.73 643.53,269.24 645.18,272.19 646.4,274.35" fill="none" stroke="#1f77b4" stroke-width="0.8" stroke-linejoin="round" stroke-linecap="round"/>
<polyline points="570.27,199.88 570.29,198.92 570.31,197.58 570.34,196 570.38,194.32 570.46,192.66 570.57,191.17 570.68,189.8 570.75,188.42 570.86,187.07 571.05,185.79 571.38,184.61 571.91,183.58 572.68,182.66 573.66,181.84 574.77,181.12 575.96,180.52 577.16,180.06 578.31,179.76 579.42,179.59 580.53,179.54 581.65,179.62 582.79,179.87 583.93,180.33 585.1,181.01 586.23,181.89 587.31,182.93 588.41,184.17 589.58,185.64 590.88,187.4 592.35,189.47 594,191.9 595.78,194.67 597.68,197.71 599.7,200.97 601.86,204.38 604.15,207.86 606.63,211.49 609.32,215.32 612.14,219.29 615.01,223.36 617.86,227.46 620.62,231.54 623.35,235.68 626.11,239.95 628.85,244.25 631.51,248.5 634.05,252.61 636.39,256.48 638.63,260.29 640.82,264.16 642.88,267.89 644.72,271.27 646.25,274.1 647.39,276.19" fill="none" stroke="#1f77b4" stroke-width="0.8" stroke-linejoin="round" stroke-linecap="round"/>
<polyline points="568.71,200.6 568.57,199.62 568.34,198.26 568.08,196.64 567.85,194.93 567.7,193.25 567.69,191.75 567.79,190.37 567.97,188.99 568.23,187.65 568.58,186.38 569.02,185.23 569.58,184.24 570.25,183.39 571.06,182.66 571.96,182.04 572.93,181.54 573.94,181.14 574.96,180.86 576,180.64 577.08,180.47 578.2,180.41 579.36,180.53 580.55,180.87 581.77,181.5 582.98,182.4 584.19,183.52 585.43,184.87 586.75,186.46 588.18,188.29 589.78,190.37 591.53,192.72 593.41,195.35 595.41,198.22 597.52,201.3 599.74,204.56 602.07,207.97 604.55,211.59 607.21,215.46 609.98,219.52 612.79,223.67 615.59,227.85 618.31,231.97 620.99,236.11 623.69,240.35 626.37,244.62 629,248.83 631.54,252.91 633.95,256.79 636.35,260.66 638.79,264.62 641.14,268.46 643.27,271.95 645.06,274.88 646.37,277.03" fill="none" stroke="#1f77b4" stroke-width="0.8" stroke-linejoin="round" stroke-linecap="round"/>
<polyline points="570.04,199.93 569.99,198.95 569.89,197.58 569.79,195.97 569.71,194.25 569.69,192.57 569.77,191.07 569.92,189.69 570.1,188.32 570.35,186.98 570.68,185.72 571.1,184.56 571.65,183.54 572.34,182.65 573.14,181.85 574.04,181.15 575.03,180.58 576.08,180.14 577.17,179.85 578.34,179.69 579.61,179.63 580.95,179.7 582.3,179.94 583.63,180.38 584.9,181.05 586.03,181.91 587.06,182.93 588.06,184.16 589.13,185.61 590.33,187.34 591.77,189.36 593.43,191.73 595.26,194.41 597.24,197.37 599.34,200.54 601.54,203.88 603.82,207.34 606.24,210.99 608.82,214.89 611.49,218.95 614.22,223.11 616.95,227.3 619.62,231.43 622.29,235.6 625.02,239.86 627.74,244.15 630.41,248.38 632.96,252.48 635.34,256.36 637.63,260.22 639.92,264.16 642.09,267.97 644.04,271.42 645.67,274.32 646.88,276.45" fill="none" stroke="#1f77b4" stroke-width="0.8" stroke-linejoin="round" stroke-linecap="round"/>
<polyline points="570.1,198.19 570.07,197.22 570.01,195.88 569.95,194.29 569.92,192.57 569.93,190.85 570.02,189.26 570.14,187.7 570.29,186.07 570.48,184.43 570.76,182.87 571.16,181.46 571.71,180.26 572.45,179.28 573.36,178.46 574.39,177.79 575.49,177.25 576.62,176.84 577.73,176.52 578.82,176.27 579.94,176.06 581.09,175.98 582.26,176.09 583.45,176.44 584.65,177.12 585.83,178.1 586.98,179.34 588.14,180.84 589.38,182.58 590.72,184.56 592.23,186.78 593.89,189.27 595.65,192.04 597.53,195.06 599.52,198.28 601.64,201.65 603.87,205.13 606.28,208.78 608.86,212.66 611.56,216.69 614.32,220.81 617.08,224.95 619.79,229.05 622.48,233.18 625.23,237.39 627.98,241.63 630.67,245.83 633.26,249.93 635.68,253.87 638.05,257.85 640.42,261.97 642.68,265.99 644.72,269.67 646.43,272.76 647.69,275.02" fill="none" stroke="#1f77b4" stroke-width="0.8" stroke-linejoin="round" stroke-linecap="round"/>
<polyline points="571.21,198.51 571.18,197.52 571.11,196.14 571.03,194.51 571.01,192.77 571.06,191.07 571.23,189.53 571.51,188.12 571.87,186.7 572.31,185.31 572.84,183.99 573.45,182.77 574.17,181.7 575.02,180.76 576,179.91 577.08,179.17 578.21,178.54 579.34,178.04 580.45,177.67 581.54,177.37 582.64,177.14 583.75,177.03 584.86,177.1 585.98,177.42 587.1,178.04 588.17,178.96 589.17,180.12 590.17,181.53 591.25,183.18 592.46,185.09 593.86,187.24 595.46,189.68 597.2,192.42 599.06,195.4 601.06,198.59 603.19,201.95 605.44,205.42 607.88,209.08 610.51,212.98 613.27,217.03 616.09,221.19 618.9,225.38 621.62,229.53 624.32,233.74 627.06,238.06 629.78,242.41 632.44,246.71 634.99,250.87 637.37,254.81 639.69,258.72 641.99,262.7 644.18,266.54 646.16,270.03 647.81,272.96 649.03,275.12" fill="none" stroke="#1f77b4" stroke-width="0.8" stroke-linejoin="round" stroke-linecap="round"/>
<polyline points="569.02,197.23 568.94,196.23 568.81,194.85 568.67,193.22 568.54,191.48 568.46,189.75 568.47,188.18 568.52,186.72 568.6,185.24 568.72,183.78 568.93,182.38 569.25,181.07 569.72,179.89 570.35,178.8 571.12,177.76 572.01,176.82 572.98,176 574.01,175.35 575.06,174.9 576.17,174.61 577.35,174.44 578.59,174.44 579.86,174.64 581.14,175.08 582.41,175.81 583.63,176.81 584.81,178.06 586,179.55 587.25,181.28 588.61,183.25 590.14,185.45 591.8,187.9 593.56,190.63 595.44,193.58 597.43,196.75 599.56,200.09 601.84,203.58 604.33,207.28 607.02,211.25 609.85,215.39 612.74,219.63 615.62,223.89 618.4,228.08 621.15,232.29 623.92,236.57 626.68,240.87 629.38,245.13 631.97,249.28 634.4,253.25 636.78,257.26 639.16,261.4 641.44,265.43 643.49,269.11 645.2,272.2 646.47,274.46" fill="none" stroke="#1f77b4" stroke-width="0.8" stroke-linejoin="round" stroke-linecap="round"/>
<polyline points="570.53,197.84 570.48,196.85 570.38,195.47 570.27,193.84 570.2,192.09 570.21,190.36 570.35,188.78 570.6,187.27 570.93,185.73 571.34,184.2 571.84,182.74 572.42,181.4 573.09,180.24 573.87,179.23 574.75,178.33 575.72,177.55 576.76,176.91 577.83,176.41 578.92,176.07 580.07,175.86 581.28,175.75 582.54,175.79 583.81,176.02 585.06,176.48 586.26,177.21 587.37,178.21 588.37,179.43 589.37,180.89 590.42,182.58 591.61,184.52 593.01,186.7 594.63,189.17 596.38,191.93 598.27,194.93 600.3,198.12 602.45,201.47 604.73,204.91 607.19,208.5 609.84,212.29 612.63,216.23 615.47,220.27 618.3,224.37 621.06,228.47 623.81,232.66 626.62,237.01 629.43,241.41 632.15,245.76 634.73,249.99 637.08,253.98 639.3,257.93 641.43,261.96 643.42,265.86 645.19,269.41 646.66,272.38 647.76,274.56" fill="none" stroke="#1f77b4" stroke-width="0.8" stroke-linejoin="round" stroke-linecap="round"/>
<polyline points="570.28,200.28 570.32,199.36 570.35,198.08 570.41,196.57 570.49,194.95 570.62,193.34 570.81,191.88 571.03,190.49 571.27,189.07 571.56,187.66 571.92,186.32 572.39,185.09 572.98,184.02 573.74,183.09 574.63,182.26 575.62,181.54 576.69,180.95 577.78,180.5 578.87,180.22 579.99,180.08 581.15,180.07 582.35,180.2 583.55,180.5 584.76,181 585.93,181.71 587.02,182.62 588.04,183.68 589.05,184.94 590.13,186.43 591.33,188.18 592.74,190.22 594.34,192.59 596.06,195.27 597.92,198.21 599.92,201.37 602.05,204.68 604.32,208.12 606.81,211.75 609.51,215.61 612.35,219.64 615.25,223.76 618.12,227.91 620.89,232.02 623.6,236.16 626.33,240.41 629.04,244.68 631.68,248.9 634.19,252.99 636.53,256.87 638.79,260.74 641.01,264.69 643.11,268.52 644.99,272 646.57,274.92 647.73,277.06" fill="none" stroke="#1f77b4" stroke-width="0.8" stroke-linejoin="round" stroke-linecap="round"/>
<polyline points="570.73,198.5 570.79,197.53 570.86,196.19 570.95,194.6 571.08,192.89 571.24,191.18 571.46,189.61 571.71,188.09 571.96,186.51 572.25,184.94 572.62,183.43 573.12,182.05 573.77,180.87 574.62,179.85 575.64,178.96 576.78,178.19 577.99,177.56 579.21,177.07 580.38,176.74 581.53,176.52 582.71,176.4 583.9,176.43 585.08,176.64 586.25,177.09 587.37,177.83 588.4,178.85 589.32,180.12 590.22,181.62 591.19,183.35 592.3,185.31 593.65,187.47 595.22,189.86 596.96,192.49 598.84,195.33 600.87,198.38 603.02,201.63 605.28,205.05 607.71,208.73 610.32,212.69 613.07,216.85 615.88,221.11 618.69,225.38 621.44,229.57 624.2,233.76 627.03,238.03 629.87,242.31 632.64,246.54 635.28,250.64 637.7,254.55 639.99,258.46 642.23,262.47 644.33,266.35 646.2,269.89 647.76,272.86 648.92,275.04" fill="none" stroke="#1f77b4" stroke-width="0.8" stroke-linejoin="round" stroke-linecap="round"/>
<polyline points="571.12,197.78 571.15,196.76 571.17,195.36 571.21,193.69 571.28,191.9 571.41,190.14 571.63,188.53 571.91,187.01 572.23,185.46 572.61,183.93 573.08,182.47 573.65,181.13 574.36,179.95 575.23,178.91 576.27,177.98 577.42,177.17 578.62,176.48 579.82,175.94 580.97,175.56 582.06,175.3 583.15,175.13 584.23,175.1 585.32,175.28 586.43,175.7 587.54,176.42 588.63,177.44 589.68,178.72 590.74,180.25 591.87,182.02 593.11,184.02 594.52,186.25 596.09,188.73 597.76,191.49 599.54,194.48 601.46,197.66 603.52,201 605.74,204.46 608.19,208.1 610.86,211.97 613.68,216 616.56,220.12 619.42,224.27 622.17,228.36 624.88,232.48 627.63,236.68 630.35,240.91 633,245.09 635.52,249.18 637.86,253.1 640.09,257.08 642.28,261.21 644.35,265.23 646.19,268.91 647.73,272 648.88,274.26" fill="none" stroke="#1f77b4" stroke-width="0.8" stroke-linejoin="round" stroke-linecap="round"/>
<polyline points="570.69,197.6 570.62,196.58 570.5,195.18 570.38,193.52 570.28,191.74 570.25,189.97 570.34,188.35 570.52,186.82 570.75,185.26 571.05,183.71 571.44,182.23 571.94,180.85 572.58,179.63 573.37,178.53 574.33,177.51 575.39,176.6 576.52,175.83 577.66,175.22 578.78,174.82 579.89,174.58 581.01,174.48 582.16,174.54 583.32,174.81 584.49,175.32 585.66,176.1 586.8,177.15 587.89,178.46 589,180 590.16,181.77 591.44,183.77 592.89,185.98 594.5,188.43 596.21,191.13 598.05,194.05 600,197.17 602.07,200.46 604.28,203.9 606.65,207.55 609.2,211.45 611.88,215.51 614.62,219.68 617.39,223.89 620.12,228.06 622.9,232.27 625.79,236.61 628.69,240.97 631.53,245.29 634.22,249.47 636.67,253.43 638.97,257.37 641.2,261.39 643.27,265.27 645.11,268.8 646.65,271.76 647.8,273.94" fill="none" stroke="#1f77b4" stroke-width="0.8" stroke-linejoin="round" stroke-linecap="round"/>
<polyline points="569.41,199.06 569.35,198.07 569.24,196.69 569.13,195.06 569.02,193.32 568.97,191.62 568.99,190.09 569.04,188.69 569.09,187.28 569.19,185.91 569.38,184.61 569.71,183.42 570.21,182.37 570.94,181.45 571.86,180.63 572.91,179.91 574.04,179.32 575.19,178.86 576.3,178.57 577.38,178.39 578.48,178.32 579.6,178.39 580.74,178.63 581.88,179.09 583.03,179.8 584.14,180.75 585.19,181.9 586.25,183.26 587.38,184.85 588.66,186.68 590.14,188.77 591.83,191.16 593.68,193.82 595.67,196.73 597.79,199.84 600.02,203.12 602.34,206.53 604.81,210.12 607.45,213.93 610.2,217.91 613.01,222 615.82,226.12 618.57,230.23 621.32,234.4 624.14,238.7 626.96,243.03 629.72,247.33 632.35,251.48 634.79,255.42 637.14,259.33 639.45,263.32 641.65,267.18 643.61,270.68 645.26,273.62 646.47,275.78" fill="none" stroke="#1f77b4" stroke-width="0.8" stroke-linejoin="round" stroke-linecap="round"/>
<polyline points="569.85,198.08 569.87,197.05 569.88,195.6 569.9,193.89 569.95,192.07 570.06,190.28 570.23,188.66 570.44,187.18 570.68,185.68 570.97,184.23 571.34,182.83 571.82,181.54 572.43,180.39 573.2,179.33 574.12,178.35 575.15,177.46 576.24,176.71 577.36,176.12 578.46,175.74 579.56,175.55 580.69,175.5 581.85,175.63 583.02,175.94 584.2,176.46 585.37,177.21 586.49,178.15 587.56,179.27 588.63,180.6 589.77,182.17 591.03,184.01 592.47,186.15 594.08,188.64 595.82,191.46 597.67,194.54 599.65,197.84 601.76,201.29 603.98,204.84 606.37,208.55 608.94,212.49 611.62,216.59 614.38,220.76 617.15,224.93 619.89,229.04 622.68,233.12 625.56,237.24 628.47,241.37 631.31,245.46 633.99,249.47 636.43,253.35 638.7,257.32 640.9,261.46 642.94,265.52 644.75,269.25 646.25,272.38 647.38,274.66" fill="none" stroke="#1f77b4" stroke-width="0.8" stroke-linejoin="round" stroke-linecap="round"/>
<polyline points="569.54,197.73 569.49,196.66 569.41,195.17 569.32,193.41 569.24,191.53 569.22,189.71 569.27,188.09 569.37,186.63 569.48,185.2 569.64,183.81 569.88,182.49 570.23,181.26 570.72,180.13 571.37,179.08 572.16,178.07 573.07,177.14 574.05,176.35 575.1,175.74 576.17,175.34 577.31,175.15 578.53,175.13 579.81,175.28 581.12,175.62 582.43,176.16 583.7,176.91 584.9,177.84 586.04,178.93 587.17,180.22 588.37,181.75 589.68,183.55 591.17,185.68 592.84,188.16 594.62,190.99 596.52,194.1 598.54,197.42 600.68,200.88 602.95,204.43 605.38,208.14 608,212.06 610.74,216.13 613.54,220.27 616.33,224.43 619.04,228.54 621.73,232.64 624.47,236.81 627.19,240.99 629.85,245.13 632.4,249.17 634.79,253.04 637.11,256.98 639.41,261.05 641.61,265.01 643.59,268.64 645.24,271.69 646.46,273.92" fill="none" stroke="#1f77b4" stroke-width="0.8" stroke-linejoin="round" stroke-linecap="round"/>
<polyline points="570.21,198.76 570.15,197.77 570.04,196.39 569.92,194.75 569.84,193.02 569.84,191.32 569.95,189.82 570.18,188.47 570.47,187.15 570.84,185.88 571.3,184.66 571.86,183.52 572.53,182.47 573.34,181.46 574.3,180.47 575.36,179.55 576.47,178.76 577.58,178.15 578.65,177.77 579.68,177.59 580.7,177.59 581.73,177.76 582.78,178.12 583.85,178.68 584.96,179.45 586.06,180.41 587.14,181.54 588.25,182.86 589.43,184.42 590.74,186.21 592.23,188.29 593.89,190.66 595.68,193.31 597.6,196.22 599.65,199.33 601.81,202.62 604.09,206.04 606.53,209.67 609.15,213.54 611.89,217.59 614.69,221.73 617.48,225.9 620.22,230 622.95,234.11 625.75,238.3 628.54,242.51 631.27,246.68 633.87,250.75 636.29,254.67 638.6,258.64 640.89,262.76 643.06,266.79 645,270.47 646.61,273.56 647.82,275.82" fill="none" stroke="#1f77b4" stroke-width="0.8" stroke-linejoin="round" stroke-linecap="round"/>
<polyline points="569.24,198.79 569.12,197.77 568.94,196.35 568.74,194.68 568.56,192.89 568.46,191.13 568.48,189.55 568.6,188.07 568.78,186.57 569.03,185.1 569.37,183.71 569.83,182.46 570.42,181.38 571.17,180.49 572.08,179.73 573.1,179.1 574.19,178.6 575.31,178.22 576.4,177.97 577.49,177.79 578.61,177.7 579.75,177.73 580.91,177.93 582.08,178.34 583.25,179.01 584.38,179.91 585.46,180.99 586.55,182.29 587.71,183.82 589.01,185.61 590.51,187.69 592.2,190.09 594.04,192.8 596.02,195.77 598.12,198.96 600.35,202.32 602.68,205.8 605.18,209.48 607.88,213.4 610.69,217.49 613.55,221.68 616.38,225.9 619.11,230.06 621.78,234.25 624.45,238.53 627.09,242.84 629.67,247.1 632.16,251.22 634.53,255.14 636.89,259.06 639.29,263.06 641.6,266.93 643.69,270.46 645.45,273.41 646.74,275.58" fill="none" stroke="#1f77b4" stroke-width="0.8" stroke-linejoin="round" stroke-linecap="round"/>
<path d="M566.5 199 L566.5 186 L572 177 L581 174 L589 177.5 L597 189 L630 242 L649.5 274 L646 277 L625 246 L591 193 L584 185 L578 184.5 L574 189 L573.5 199 Z" fill="#1f77b4" stroke="none" stroke-width="1"/>
<polyline points="580.63,182.02 578.15,181.36 578.62,182.13" fill="none" stroke="#1f77b4" stroke-width="0.7" stroke-linejoin="round" stroke-linecap="round"/>
<polyline points="582.96,177.85 581.07,179.29 581.75,177.79" fill="none" stroke="#1f77b4" stroke-width="0.7" stroke-linejoin="round" stroke-linecap="round"/>
<polyline points="574.74,180.09 574.58,182.07 573.41,180.89" fill="none" stroke="#1f77b4" stroke-width="0.7" stroke-linejoin="round" stroke-linecap="round"/>
<polyline points="591.24,181.17 592.53,183.22 589.28,183.21" fill="none" stroke="#1f77b4" stroke-width="0.7" stroke-linejoin="round" stroke-linecap="round"/>
<polyline points="590.68,181.43 593,181.25 589.66,180.25" fill="none" stroke="#1f77b4" stroke-width="0.7" stroke-linejoin="round" stroke-linecap="round"/>
<polyline points="569.37,182.57 568.98,183.02 571.22,181.84" fill="none" stroke="#1f77b4" stroke-width="0.7" stroke-linejoin="round" stroke-linecap="round"/>
<polyline points="582.56,175.17 580.91,174.18 582.42,173.5" fill="none" stroke="#1f77b4" stroke-width="0.7" stroke-linejoin="round" stroke-linecap="round"/>
<polyline points="587.3,183.62 586.63,183.25 588.25,181.38" fill="none" stroke="#1f77b4" stroke-width="0.7" stroke-linejoin="round" stroke-linecap="round"/>
<polyline points="575.96,175.62 577.44,176.52 577.87,175.59" fill="none" stroke="#1f77b4" stroke-width="0.7" stroke-linejoin="round" stroke-linecap="round"/>
<polyline points="588,177.83 586.64,177.94 588.15,178.1" fill="none" stroke="#1f77b4" stroke-width="0.7" stroke-linejoin="round" stroke-linecap="round"/>
<polyline points="584.68,180.71 582.29,182.49 583.68,180.77" fill="none" stroke="#1f77b4" stroke-width="0.7" stroke-linejoin="round" stroke-linecap="round"/>
<polyline points="568.94,191.81 571.21,189.71 566.59,193.47" fill="none" stroke="#1f77b4" stroke-width="0.7" stroke-linejoin="round" stroke-linecap="round"/>
<polyline points="583.15,183.01 583.36,185.46 581.78,185.06" fill="none" stroke="#1f77b4" stroke-width="0.7" stroke-linejoin="round" stroke-linecap="round"/>
<polyline points="591.39,179.07 592.23,181.38 590.73,180.74" fill="none" stroke="#1f77b4" stroke-width="0.7" stroke-linejoin="round" stroke-linecap="round"/>
<polyline points="581.28,183.9 580.85,185.22 582.44,182.55" fill="none" stroke="#1f77b4" stroke-width="0.7" stroke-linejoin="round" stroke-linecap="round"/>
<polyline points="580.43,181.89 579.26,181.56 582.64,183.63" fill="none" stroke="#1f77b4" stroke-width="0.7" stroke-linejoin="round" stroke-linecap="round"/>
<polyline points="568.48,193.54 566.37,193.22 570.17,191.11" fill="none" stroke="#1f77b4" stroke-width="0.7" stroke-linejoin="round" stroke-linecap="round"/>
<polyline points="579.01,176.16 581.04,174.11 580.6,176.2" fill="none" stroke="#1f77b4" stroke-width="0.7" stroke-linejoin="round" stroke-linecap="round"/>
<polyline points="578.14,179.41 579.19,179.58 579.42,181" fill="none" stroke="#1f77b4" stroke-width="0.7" stroke-linejoin="round" stroke-linecap="round"/>
<polyline points="591.35,174.87 591.11,176.15 590.51,176.2" fill="none" stroke="#1f77b4" stroke-width="0.7" stroke-linejoin="round" stroke-linecap="round"/>
<polyline points="570.28,192.14 571.28,189.74 568.74,189.72" fill="none" stroke="#1f77b4" stroke-width="0.7" stroke-linejoin="round" stroke-linecap="round"/>
<polyline points="581.76,176.78 580.73,178.29 580.27,177.71" fill="none" stroke="#1f77b4" stroke-width="0.7" stroke-linejoin="round" stroke-linecap="round"/>
<polyline points="578.43,177.96 577.55,175.84 580.17,178.2" fill="none" stroke="#1f77b4" stroke-width="0.7" stroke-linejoin="round" stroke-linecap="round"/>
<polyline points="581.73,174.53 583.88,174.78 580.18,175.89" fill="none" stroke="#1f77b4" stroke-width="0.7" stroke-linejoin="round" stroke-linecap="round"/>
<polyline points="580.58,184.47 579.64,185.21 582.59,183.3" fill="none" stroke="#1f77b4" stroke-width="0.7" stroke-linejoin="round" stroke-linecap="round"/>
<polyline points="592.1,176.25 590.84,178.38 594.19,174.57" fill="none" stroke="#1f77b4" stroke-width="0.7" stroke-linejoin="round" stroke-linecap="round"/>
<polyline points="593.41,181.62 592.11,182.51 591.95,182.41" fill="none" stroke="#1f77b4" stroke-width="0.7" stroke-linejoin="round" stroke-linecap="round"/>
<polyline points="570.15,183.85 570.66,185.13 567.88,181.87" fill="none" stroke="#1f77b4" stroke-width="0.7" stroke-linejoin="round" stroke-linecap="round"/>
<polyline points="570.09,184.04 570.71,185.23 571.91,183.69" fill="none" stroke="#1f77b4" stroke-width="0.7" stroke-linejoin="round" stroke-linecap="round"/>
<polyline points="575.38,178.93 577.01,180.32 576.59,176.83" fill="none" stroke="#1f77b4" stroke-width="0.7" stroke-linejoin="round" stroke-linecap="round"/>
<polyline points="647.5,275.5 645.65,274.76 642.98,273.68 640.21,272.41 637.53,270.9 634.75,269.21 632,267.65 629.43,266.43 626.9,265.35 624.11,264.2 620.79,262.81 617.2,261.36 613.85,260.12 610.86,259.4 608.1,258.9 605.66,257.98 603.82,256.16 602.29,253.92 600.26,252.08 597.2,251.18 593.64,250.69 590.25,249.79 587.31,248 584.56,245.81 581.83,243.92 579.05,242.59 576.29,241.56 573.69,240.7 571.42,240.12 569.31,239.71 566.9,239.05 563.9,238 560.61,236.7 557.56,235.22 554.73,233.34 552.13,231.28 550.33,229.82" fill="none" stroke="#1f77b4" stroke-width="0.6" stroke-linejoin="round" stroke-linecap="round"/>
<polyline points="647.5,275.5 646.02,275.05 643.86,274.36 641.38,273.4 638.56,272.08 635.42,270.49 632.37,268.82 629.52,267 626.75,265.11 624.09,263.57 621.61,262.66 619.23,262.1 616.8,261.47 614.26,260.72 611.67,259.9 609.05,258.66 606.4,256.58 603.73,254.09 601.11,252.11 598.56,251.26 596.06,250.94 593.65,250.27 591.4,248.79 589.24,246.96 586.97,245.31 584.48,244.15 581.88,243.17 579.33,241.95 576.88,240.21 574.47,238.23 572.04,236.46 569.57,235.09 567.08,233.91 564.61,232.77 561.89,231.48 559.19,230.23 557.3,229.35" fill="none" stroke="#1f77b4" stroke-width="0.6" stroke-linejoin="round" stroke-linecap="round"/>
<polyline points="647.5,275.5 645.06,274.95 641.61,274.14 638.41,273.1 636.03,271.71 633.91,270.09 631.64,268.65 629.11,267.65 626.44,266.83 623.57,265.91 620.3,264.78 616.83,263.56 613.75,262.33 611.41,261.12 609.45,259.9 607.39,258.76 605.11,257.85 602.72,257.02 600.07,255.9 597.01,254.13 593.7,252.07 590.47,250.42 587.38,249.67 584.37,249.33 581.63,248.68 579.4,247.36 577.45,245.73 575.22,244.12 572.45,242.65 569.41,241.2 566.38,239.8 563.4,238.48 560.43,237.2 557.63,235.89 554.83,234.33 552.2,232.73 550.37,231.61" fill="none" stroke="#1f77b4" stroke-width="0.6" stroke-linejoin="round" stroke-linecap="round"/>
<polyline points="647.5,275.5 645.94,275.09 643.68,274.45 641.17,273.43 638.4,271.79 635.39,269.77 632.67,268.01 630.6,266.72 628.83,265.68 626.85,264.92 624.36,264.72 621.66,264.79 619.2,264.25 617.35,262.49 615.73,260.12 613.69,258.07 610.68,256.82 607.25,255.89 604.33,254.83 602.55,253.42 601.29,251.87 599.58,250.42 596.89,249.13 593.75,247.93 590.79,246.86 588.23,246.01 585.84,245.29 583.51,244.34 581.14,242.94 578.83,241.33 576.69,239.86 574.89,238.8 573.25,237.9 571.35,236.76 568.68,234.98 565.74,232.97 563.66,231.54" fill="none" stroke="#1f77b4" stroke-width="0.6" stroke-linejoin="round" stroke-linecap="round"/>
<polyline points="647.5,275.5 645.93,274.53 643.66,273.19 641.18,272.1 638.49,271.74 635.58,271.63 632.97,271.04 631.04,269.38 629.4,267.23 627.38,265.69 624.59,265.44 621.42,265.79 618.45,265.69 615.91,264.61 613.56,263.08 611.3,261.62 609.08,260.44 606.94,259.34 604.92,258.19 603.15,256.99 601.5,255.75 599.5,254.41 596.84,252.86 593.84,251.22 591.08,249.78 588.87,248.77 586.89,247.97 584.76,246.96 582.27,245.57 579.63,243.98 577.11,242.36 574.84,240.7 572.69,239 570.48,237.44 567.88,235.99 565.22,234.68 563.36,233.77" fill="none" stroke="#1f77b4" stroke-width="0.6" stroke-linejoin="round" stroke-linecap="round"/>
<polyline points="647.5,275.5 645.97,275.41 643.74,275.23 641.25,274.77 638.51,273.91 635.52,272.76 632.69,271.42 630.23,269.72 627.94,267.84 625.64,266.4 623.31,265.85 620.97,265.75 618.56,265.36 615.99,264.4 613.35,263.16 610.84,261.74 608.59,260.04 606.48,258.16 604.33,256.53 602.07,255.35 599.76,254.42 597.44,253.58 595.06,252.95 592.67,252.41 590.41,251.4 588.45,249.45 586.63,247.03 584.67,245 582.46,243.79 580.13,242.96 577.75,242.04 575.42,240.92 573.06,239.71 570.55,238.26 567.5,236.2 564.3,233.89 562.05,232.25" fill="none" stroke="#1f77b4" stroke-width="0.6" stroke-linejoin="round" stroke-linecap="round"/>
<polyline points="647.5,275.5 645.08,275.62 641.68,275.71 638.71,275.23 636.87,273.6 635.46,271.41 633.77,269.83 631.56,269.54 629.07,269.85 626.39,269.91 623.37,269.45 620.14,268.74 617.19,267.74 614.73,266.23 612.53,264.44 610.37,262.91 608.21,262.03 606.09,261.4 603.9,260.5 601.62,259.02 599.29,257.25 596.83,255.56 594.19,254.04 591.44,252.6 588.7,251.33 586.03,250.37 583.38,249.59 580.73,248.58 577.97,247.17 575.22,245.54 572.78,243.87 570.98,242.17 569.5,240.43 567.66,238.83 564.82,237.33 561.64,235.97 559.37,235.03" fill="none" stroke="#1f77b4" stroke-width="0.6" stroke-linejoin="round" stroke-linecap="round"/>
<polyline points="647.5,275.5 645.91,275.31 643.59,275 640.95,274.43 638.01,273.35 634.74,272 631.52,271.03 628.38,270.97 625.29,271.27 622.52,270.99 620.36,269.46 618.51,267.34 616.41,265.65 613.72,265.02 610.76,264.83 607.97,264.26 605.62,262.89 603.43,261.13 600.94,259.48 597.8,258.01 594.35,256.65 591.2,255.57 588.64,255.16 586.38,255.03 584.07,254.28 581.64,252.32 579.17,249.73 576.54,247.4 573.62,245.64 570.53,244.12 567.49,242.77 564.53,241.66 561.62,240.71 558.89,239.54 556.19,237.76 553.68,235.75 551.94,234.33" fill="none" stroke="#1f77b4" stroke-width="0.6" stroke-linejoin="round" stroke-linecap="round"/>
<polyline points="647.5,275.5 645.8,275.11 643.33,274.53 640.52,273.86 637.39,273.07 633.92,272.17 630.59,271.33 627.57,270.52 624.68,269.76 621.89,269.2 619.25,269.16 616.71,269.33 614.14,268.95 611.36,267.43 608.55,265.37 605.98,263.82 604.02,263.47 602.31,263.62 600.08,263.22 596.7,261.67 592.81,259.56 589.48,257.67 587.42,256.32 585.93,255.18 584.02,254.11 581.19,253.18 577.95,252.31 574.82,251.04 572.05,248.92 569.4,246.4 566.76,244.39 564.16,243.52 561.56,243.16 558.87,242.3 555.69,240.23 552.4,237.67 550.09,235.83" fill="none" stroke="#1f77b4" stroke-width="0.6" stroke-linejoin="round" stroke-linecap="round"/>
<polyline points="647.5,275.5 645.49,274.73 642.62,273.69 639.72,273.05 637.05,273.37 634.34,274.1 631.67,274.28 629.05,273.39 626.46,271.96 623.93,270.63 621.56,269.62 619.25,268.71 616.69,267.93 613.66,267.41 610.38,267.03 607.23,266.47 604.3,265.65 601.51,264.65 598.99,263.46 597,262.03 595.29,260.42 593.22,258.7 590.45,256.75 587.32,254.7 584.2,253.08 581.11,252.31 578.03,251.97 575.25,251.26 573.09,249.77 571.24,247.9 569,246.1 565.92,244.59 562.45,243.13 559.3,241.47 556.56,239.2 554.14,236.73 552.47,234.98" fill="none" stroke="#1f77b4" stroke-width="0.6" stroke-linejoin="round" stroke-linecap="round"/>
<polyline points="647.5,275.5 646,275.07 643.82,274.45 641.42,273.85 638.83,273.39 636.03,272.95 633.35,272.38 631,271.54 628.77,270.57 626.49,269.73 624.08,269.13 621.62,268.65 619.07,268.24 616.26,268.04 613.37,267.89 610.89,267.25 609.26,265.64 608.05,263.53 606.46,261.78 604.08,260.85 601.32,260.28 598.57,259.54 595.95,258.46 593.36,257.22 590.91,255.78 588.76,254.03 586.75,252.09 584.57,250.32 581.94,248.88 579.13,247.61 576.63,246.37 574.83,245.27 573.34,244.2 571.47,242.71 568.57,240.23 565.28,237.34 562.95,235.27" fill="none" stroke="#1f77b4" stroke-width="0.6" stroke-linejoin="round" stroke-linecap="round"/>
<polyline points="647.5,275.5 646.09,275.37 644.03,275.19 641.64,274.96 638.88,274.76 635.8,274.51 632.82,274 630.07,273.02 627.42,271.79 624.94,270.69 622.69,269.89 620.6,269.23 618.51,268.57 616.42,267.95 614.33,267.33 612.07,266.54 609.49,265.39 606.73,264.07 604.02,262.92 601.34,262.24 598.7,261.73 596.34,260.86 594.53,259.3 592.99,257.38 591.2,255.54 588.87,253.97 586.28,252.48 583.71,250.93 581.28,249.23 578.86,247.47 576.39,245.76 573.82,244.19 571.21,242.67 568.63,241.02 565.86,238.92 563.14,236.7 561.23,235.14" fill="none" stroke="#1f77b4" stroke-width="0.6" stroke-linejoin="round" stroke-linecap="round"/>
<polyline points="647.5,275.5 645.59,275.72 642.87,276.01 640.21,276.13 638.02,276.06 635.88,275.82 633.41,275.3 630.23,274.3 626.71,273.02 623.54,271.96 621.03,271.35 618.86,270.97 616.76,270.6 614.79,270.3 612.88,270 610.64,269.37 607.79,268.12 604.6,266.53 601.51,265.13 598.55,264.27 595.69,263.6 593.13,262.6 591.2,260.94 589.58,258.96 587.57,257.17 584.74,255.84 581.52,254.7 578.51,253.4 576.05,251.74 573.81,249.92 571.33,248.24 568.28,246.98 565,245.86 562.05,244.4 559.48,242.08 557.24,239.42 555.7,237.52" fill="none" stroke="#1f77b4" stroke-width="0.6" stroke-linejoin="round" stroke-linecap="round"/>
<polyline points="647.5,275.5 645.58,275.09 642.81,274.53 639.92,274.12 637.02,274 634,274.04 631.15,274.17 628.72,274.55 626.46,275.02 623.89,275.09 620.68,274.51 617.16,273.53 613.9,272.47 611.2,271.37 608.76,270.19 606.23,269.12 603.46,268.21 600.61,267.42 597.79,266.74 595.03,266.41 592.3,266.21 589.65,265.37 587.18,263.22 584.79,260.43 582.18,258.31 579.11,257.68 575.82,257.72 572.8,257.19 570.34,255.48 568.14,253.21 565.77,251.06 563.03,249.35 560.11,247.76 557.18,245.95 553.97,243.48 550.75,240.8 548.49,238.9" fill="none" stroke="#1f77b4" stroke-width="0.6" stroke-linejoin="round" stroke-linecap="round"/>
<polyline points="647.5,275.5 645.59,275.38 642.84,275.2 640.03,274.96 637.33,274.59 634.56,274.15 631.93,273.9 629.66,274.12 627.52,274.52 625.03,274.42 621.78,273.26 618.19,271.6 615,270.44 612.73,270.52 610.87,271.09 608.66,270.97 605.61,269.34 602.21,267.01 599.19,265.23 597.05,264.83 595.29,264.97 593.14,264.44 590.14,262.41 586.75,259.7 583.62,257.57 581.16,256.84 578.96,256.68 576.52,255.9 573.47,253.77 570.16,251.02 567.2,248.58 564.99,247.01 563.12,245.76 560.93,244.14 557.78,241.52 554.31,238.52 551.85,236.39" fill="none" stroke="#1f77b4" stroke-width="0.6" stroke-linejoin="round" stroke-linecap="round"/>
<polyline points="647.5,275.5 645.25,275.23 642.07,274.88 639.24,274.84 637.33,275.48 635.77,276.43 634.07,276.96 632.1,276.67 629.99,275.96 627.68,275.25 625.08,274.74 622.27,274.25 619.53,273.63 616.99,272.87 614.5,271.98 611.96,270.89 609.18,269.34 606.34,267.59 603.85,266.25 602.04,265.82 600.59,265.82 598.93,265.42 596.85,264.33 594.56,262.85 592.12,261.1 589.41,258.94 586.54,256.51 583.89,254.38 581.69,252.88 579.71,251.69 577.64,250.38 575.37,248.91 573.01,247.32 570.53,245.4 567.58,242.65 564.5,239.56 562.33,237.36" fill="none" stroke="#1f77b4" stroke-width="0.6" stroke-linejoin="round" stroke-linecap="round"/>
<polyline points="647.5,275.5 645.84,275.24 643.45,274.91 640.97,274.92 638.57,275.65 636.07,276.72 633.55,277.34 631.01,277.09 628.44,276.39 625.85,275.69 623.17,275.1 620.47,274.51 617.95,274.06 615.8,273.97 613.84,274.02 611.77,273.65 609.46,272.49 607.04,270.91 604.54,269.54 601.91,268.81 599.2,268.28 596.57,267.29 594.09,265.32 591.71,262.89 589.39,260.84 587.17,259.68 585.03,258.89 582.9,257.83 580.81,256.2 578.73,254.3 576.52,252.32 574.07,250.35 571.49,248.3 568.89,246.2 566.03,243.77 563.15,241.29 561.14,239.54" fill="none" stroke="#1f77b4" stroke-width="0.6" stroke-linejoin="round" stroke-linecap="round"/>
<polyline points="647.5,275.5 645.34,275.54 642.27,275.59 639.23,275.6 636.54,275.52 633.89,275.41 631.28,275.41 628.75,275.67 626.26,276.04 623.67,276.27 620.91,276.23 618.06,276.05 615.16,275.76 612.14,275.49 609.07,275.12 606.24,274.29 603.87,272.62 601.75,270.5 599.47,268.71 596.91,267.66 594.19,266.95 591.36,266.17 588.28,265.24 585.1,264.23 582.25,263 580.07,261.39 578.23,259.54 576.17,257.79 573.67,256.38 570.96,255.07 568.19,253.42 565.4,251.19 562.55,248.63 559.76,246.04 556.79,243.22 553.88,240.37 551.84,238.37" fill="none" stroke="#1f77b4" stroke-width="0.6" stroke-linejoin="round" stroke-linecap="round"/>
<polyline points="647.5,275.5 645.17,275.84 641.88,276.3 638.95,276.63 637,276.69 635.4,276.62 633.62,276.61 631.46,276.81 629.13,277.08 626.63,277.15 623.86,276.91 620.93,276.49 618.15,275.94 615.64,275.26 613.29,274.47 610.99,273.7 608.81,273.13 606.68,272.58 604.38,271.62 601.75,269.89 598.94,267.74 596.14,265.83 593.28,264.37 590.41,263.15 587.88,262.11 586.01,261.48 584.47,261.05 582.54,260.14 579.83,258.35 576.73,256.09 573.69,253.87 570.81,251.97 567.99,250.11 565.41,247.93 563.01,244.85 560.86,241.44 559.38,239.02" fill="none" stroke="#1f77b4" stroke-width="0.6" stroke-linejoin="round" stroke-linecap="round"/>
<polyline points="647.5,275.5 645.9,276.09 643.61,276.91 641.3,277.55 639.24,277.91 637.15,278.1 634.82,278.01 632.03,277.38 628.99,276.48 626.13,276.02 623.59,276.63 621.23,277.69 619.06,278.05 617.22,277.03 615.58,275.3 613.69,273.75 611.33,272.72 608.72,271.86 606.09,271 603.54,270.15 600.96,269.3 598.35,268.29 595.61,267.03 592.83,265.62 590.31,264.21 588.36,262.99 586.67,261.76 584.69,260.15 582.13,257.74 579.28,254.95 576.45,252.59 573.67,251.3 570.91,250.44 568.42,248.95 566.16,245.91 564.18,242.22 562.82,239.58" fill="none" stroke="#1f77b4" stroke-width="0.6" stroke-linejoin="round" stroke-linecap="round"/>
<polyline points="647.5,275.5 645.97,276.24 643.75,277.27 641.25,278.2 638.55,278.93 635.58,279.55 632.56,279.91 629.49,279.94 626.37,279.71 623.46,279.24 620.92,278.36 618.59,277.24 616.25,276.44 613.76,276.33 611.26,276.53 608.94,276.44 607.05,275.86 605.33,274.98 603.19,273.8 600.24,272.15 596.88,270.2 593.71,268.42 590.99,267.02 588.46,265.79 586.02,264.55 583.71,263.34 581.49,262.12 579.06,260.59 576.15,258.46 573.03,256.02 570.3,253.8 568.4,252.2 566.88,250.82 564.98,249 562,246.03 558.63,242.62 556.24,240.18" fill="none" stroke="#1f77b4" stroke-width="0.6" stroke-linejoin="round" stroke-linecap="round"/>
<polyline points="647.5,275.5 645.27,276.73 642.09,278.42 639.02,279.61 636.43,279.83 633.94,279.55 631.49,279.24 629.11,279.02 626.77,278.78 624.29,278.58 621.58,278.47 618.72,278.42 615.84,278.43 612.93,278.69 609.99,279.01 607.15,278.88 604.5,278.04 601.96,276.76 599.37,275.28 596.71,273.51 594.01,271.55 591.19,270.05 588.09,269.56 584.87,269.52 581.88,268.91 579.42,267.17 577.19,264.86 574.68,262.58 571.54,260.59 568.12,258.62 564.94,256.52 562.26,254.15 559.83,251.64 557.36,249.18 554.44,246.61 551.48,244.09 549.4,242.34" fill="none" stroke="#1f77b4" stroke-width="0.6" stroke-linejoin="round" stroke-linecap="round"/>
<polyline points="645.04,276.74 643.36,276.24 641.11,275.59 638.41,274.8 635.41,273.89 632.24,272.86 629.04,271.74 625.67,270.48 622,269.07 618.16,267.55 614.3,265.96 610.54,264.35 607.04,262.74 603.78,261.09 600.67,259.33 597.66,257.55 594.74,255.82 591.87,254.19 589.04,252.74 586.23,251.49 583.48,250.37 580.79,249.37 578.15,248.44 575.56,247.58 573.04,246.74 570.6,245.9 568.26,245.07 565.97,244.3 563.7,243.63 561.4,243.1 559.04,242.74 556.59,242.55 554.11,242.48 551.6,242.55 549.07,242.78 546.55,243.17 544.04,243.74 541.51,244.54 538.96,245.56 536.41,246.74 533.89,248.04 531.42,249.39 529.04,250.74 526.6,252.23 524.07,253.93 521.6,255.68 519.33,257.33 517.43,258.74 516.04,259.74" fill="none" stroke="#1f77b4" stroke-width="0.55" stroke-linejoin="round" stroke-linecap="round"/>
<polyline points="647.24,277.22 645.57,276.73 643.31,276.08 640.61,275.29 637.61,274.37 634.44,273.35 631.24,272.22 627.87,270.97 624.2,269.56 620.36,268.04 616.5,266.45 612.74,264.83 609.24,263.22 605.98,261.57 602.87,259.82 599.86,258.04 596.94,256.3 594.08,254.67 591.24,253.22 588.43,251.97 585.68,250.85 582.99,249.85 580.35,248.93 577.77,248.06 575.24,247.22 572.8,246.38 570.46,245.56 568.18,244.79 565.91,244.11 563.61,243.58 561.24,243.22 558.8,243.03 556.31,242.96 553.8,243.04 551.28,243.26 548.75,243.65 546.24,244.22 543.72,245.02 541.16,246.04 538.61,247.22 536.09,248.52 533.62,249.87 531.24,251.22 528.81,252.71 526.28,254.41 523.8,256.16 521.54,257.82 519.63,259.22 518.24,260.22" fill="none" stroke="#1f77b4" stroke-width="0.55" stroke-linejoin="round" stroke-linecap="round"/>
<polyline points="646.22,276.99 644.55,276.5 642.29,275.85 639.59,275.06 636.59,274.14 633.42,273.12 630.22,271.99 626.85,270.74 623.18,269.33 619.34,267.81 615.48,266.22 611.72,264.6 608.22,262.99 604.96,261.34 601.85,259.59 598.84,257.81 595.92,256.07 593.05,254.44 590.22,252.99 587.41,251.74 584.66,250.62 581.97,249.62 579.33,248.7 576.74,247.83 574.22,246.99 571.78,246.15 569.44,245.33 567.15,244.56 564.88,243.88 562.58,243.35 560.22,242.99 557.77,242.8 555.29,242.73 552.78,242.81 550.25,243.03 547.73,243.42 545.22,243.99 542.69,244.79 540.14,245.81 537.59,246.99 535.07,248.29 532.6,249.64 530.22,250.99 527.78,252.48 525.25,254.18 522.78,255.93 520.51,257.59 518.61,258.99 517.22,259.99" fill="none" stroke="#1f77b4" stroke-width="0.55" stroke-linejoin="round" stroke-linecap="round"/>
<polyline points="558.82,234.61 557.17,234.5 554.86,234.35 552.13,234.17 549.23,233.98 546.38,233.79 543.82,233.61 541.5,233.46 539.23,233.35 537.01,233.23 534.86,233.09 532.79,232.89 530.82,232.61 528.92,232.27 527.08,231.9 525.32,231.48 523.67,230.98 522.16,230.36 520.82,229.61 519.64,228.59 518.6,227.31 517.7,225.92 516.93,224.57 516.31,223.42 515.82,222.61" fill="none" stroke="#1f77b4" stroke-width="0.55" stroke-linejoin="round" stroke-linecap="round"/>
<polyline points="558.86,233.17 557.2,233.06 554.89,232.91 552.17,232.73 549.26,232.54 546.41,232.35 543.86,232.17 541.54,232.03 539.26,231.91 537.04,231.79 534.89,231.65 532.83,231.45 530.86,231.17 528.96,230.83 527.11,230.47 525.36,230.04 523.71,229.54 522.2,228.92 520.86,228.17 519.67,227.15 518.63,225.87 517.73,224.48 516.97,223.13 516.34,221.98 515.86,221.17" fill="none" stroke="#1f77b4" stroke-width="0.55" stroke-linejoin="round" stroke-linecap="round"/>
<polyline points="558.87,233.51 557.21,233.4 554.91,233.25 552.18,233.07 549.28,232.88 546.43,232.69 543.87,232.51 541.55,232.37 539.28,232.25 537.06,232.14 534.91,231.99 532.84,231.79 530.87,231.51 528.97,231.17 527.13,230.81 525.37,230.39 523.72,229.88 522.21,229.27 520.87,228.51 519.69,227.49 518.65,226.21 517.74,224.82 516.98,223.47 516.36,222.32 515.87,221.51" fill="none" stroke="#1f77b4" stroke-width="0.55" stroke-linejoin="round" stroke-linecap="round"/>
<polyline points="560.27,234.4 558.61,234.29 556.3,234.14 553.58,233.96 550.67,233.77 547.83,233.58 545.27,233.4 542.95,233.26 540.67,233.14 538.45,233.03 536.3,232.88 534.24,232.68 532.27,232.4 530.37,232.06 528.53,231.7 526.77,231.28 525.12,230.77 523.61,230.16 522.27,229.4 521.09,228.38 520.05,227.1 519.14,225.71 518.38,224.36 517.75,223.21 517.27,222.4" fill="none" stroke="#1f77b4" stroke-width="0.55" stroke-linejoin="round" stroke-linecap="round"/>
<polyline points="560.95,232.77 559.3,232.66 556.99,232.51 554.27,232.33 551.36,232.14 548.51,231.95 545.95,231.77 543.64,231.63 541.36,231.51 539.14,231.39 536.99,231.25 534.92,231.05 532.95,230.77 531.06,230.43 529.21,230.06 527.45,229.64 525.81,229.14 524.3,228.52 522.95,227.77 521.77,226.75 520.73,225.47 519.83,224.08 519.07,222.73 518.44,221.58 517.95,220.77" fill="none" stroke="#1f77b4" stroke-width="0.55" stroke-linejoin="round" stroke-linecap="round"/>
<path d="M566 203 L575 203 L576.5 212 L574 218 L567 222 L559 225 L551 229 L546 235 L541 242 L535 246.5 L528 249.5 L521 253 L516 258 L513 260.5 L510.5 257.5 L515 251 L520 244 L524 238.5 L530 233 L537 228.5 L544 224 L551 220 L558 215.5 L563 210.5 L565 206 Z" fill="#8c8c8c" stroke="none" stroke-width="1"/>
<polyline points="515.1,253.14 516.46,258.08 510.9,254.54 518.12,260.21 513.78,253.5 510.94,257.73" fill="none" stroke="#8c8c8c" stroke-width="0.55" stroke-linejoin="round" stroke-linecap="round"/>
<polyline points="564.31,215.35 559.09,223.21 560.25,223.76 561.55,222.31 569.87,218.41 561.08,214.51" fill="none" stroke="#8c8c8c" stroke-width="0.55" stroke-linejoin="round" stroke-linecap="round"/>
<polyline points="557.37,227.91 564.39,228.49 550.08,218.73 566.23,219.51 561.4,216.4 556.82,226.3" fill="none" stroke="#8c8c8c" stroke-width="0.55" stroke-linejoin="round" stroke-linecap="round"/>
<polyline points="517.77,246.61 518.3,249.28 523.37,251.35 521.51,247.69 520.69,247.36 521.27,248.53" fill="none" stroke="#8c8c8c" stroke-width="0.55" stroke-linejoin="round" stroke-linecap="round"/>
<polyline points="550.07,222.2 547.32,219.19 550.09,221.85 555.89,222.42 559.39,232.97 544.28,230.26" fill="none" stroke="#8c8c8c" stroke-width="0.55" stroke-linejoin="round" stroke-linecap="round"/>
<polyline points="534.9,244.59 530.54,242.07 531.22,235.65 531.12,242.8 532.14,241.92 526.59,242.52" fill="none" stroke="#8c8c8c" stroke-width="0.55" stroke-linejoin="round" stroke-linecap="round"/>
<polyline points="555.68,219.53 561.1,223.13 550.15,218.97 564.57,227.76 563.78,215.37 552.85,228.58" fill="none" stroke="#8c8c8c" stroke-width="0.55" stroke-linejoin="round" stroke-linecap="round"/>
<polyline points="522.36,246.38 530.72,239.76 527.79,242.7 527.9,241.07 530.37,246.97 522.42,246.94" fill="none" stroke="#8c8c8c" stroke-width="0.55" stroke-linejoin="round" stroke-linecap="round"/>
<polyline points="572.47,211.02 569.59,212.19 575.57,207.54 575.7,211.56 573.89,206.06 565.73,210.84" fill="none" stroke="#8c8c8c" stroke-width="0.55" stroke-linejoin="round" stroke-linecap="round"/>
<polyline points="515,248.73 518.05,250.29 518.36,249.09 522.41,254.72 516.36,251.1 518.66,247.67" fill="none" stroke="#8c8c8c" stroke-width="0.55" stroke-linejoin="round" stroke-linecap="round"/>
<polyline points="570.2,205.68 564.56,214.18 574.54,205.91 572.49,213.55 568.88,211.41 571.6,208.8" fill="none" stroke="#8c8c8c" stroke-width="0.55" stroke-linejoin="round" stroke-linecap="round"/>
<polyline points="561.92,220.32 555.17,228.78 552.31,221.64 552.74,218.56 557.39,215.37 555.82,225" fill="none" stroke="#8c8c8c" stroke-width="0.55" stroke-linejoin="round" stroke-linecap="round"/>
<polyline points="520.23,246.1 521.26,250.19 522.37,248.37 520.52,247.33 525.97,243.96 521.26,246.63" fill="none" stroke="#8c8c8c" stroke-width="0.55" stroke-linejoin="round" stroke-linecap="round"/>
<polyline points="541.88,228.39 543.78,231.91 542.22,234.03 535.03,230.2 538.65,238 547.16,230.88" fill="none" stroke="#8c8c8c" stroke-width="0.55" stroke-linejoin="round" stroke-linecap="round"/>
<polyline points="513.85,254.89 513.88,257.55 513.72,258.47 513.18,261.24 514.7,258.53 511.88,262.35" fill="none" stroke="#8c8c8c" stroke-width="0.55" stroke-linejoin="round" stroke-linecap="round"/>
<polyline points="552.53,227.16 543.98,232.06 553.83,229.62 545.83,229.97 543.96,231.16 541.52,231.66" fill="none" stroke="#8c8c8c" stroke-width="0.55" stroke-linejoin="round" stroke-linecap="round"/>
<polyline points="533.71,228.29 541.76,228.11 536.09,240.2 543.14,235.67 545.78,233.75 536.49,232.88" fill="none" stroke="#8c8c8c" stroke-width="0.55" stroke-linejoin="round" stroke-linecap="round"/>
<polyline points="509.18,260.37 517.1,258.64 518.36,257.28 510.26,253.79 517.25,256.12 513.68,252.55" fill="none" stroke="#8c8c8c" stroke-width="0.55" stroke-linejoin="round" stroke-linecap="round"/>
<polyline points="533.95,228.41 533.3,237.39 535.24,233.64 538.34,240.12 532.39,236.36 541.34,241.33" fill="none" stroke="#8c8c8c" stroke-width="0.55" stroke-linejoin="round" stroke-linecap="round"/>
<polyline points="518.19,251.05 521.03,252.44 515.39,255.19 513.01,254.11 515.33,248.08 520.61,253.12" fill="none" stroke="#8c8c8c" stroke-width="0.55" stroke-linejoin="round" stroke-linecap="round"/>
<polyline points="563.59,213.63 556.52,225.56 566.83,217.74 562.62,224.52 562.52,218.85 562.92,215.5" fill="none" stroke="#8c8c8c" stroke-width="0.55" stroke-linejoin="round" stroke-linecap="round"/>
<polyline points="569.61,207.24 571.99,210.67 571.63,210.13 570.28,207.28 575.51,206.92 572.58,206.7" fill="none" stroke="#8c8c8c" stroke-width="0.55" stroke-linejoin="round" stroke-linecap="round"/>
<polyline points="536.83,237.97 530.96,240.4 538.02,233.99 534.29,235.36 544.39,242.14 541.92,230.69" fill="none" stroke="#8c8c8c" stroke-width="0.55" stroke-linejoin="round" stroke-linecap="round"/>
<polyline points="515.64,256.62 513.98,259.59 516.36,259.61 518.51,260.54 516.28,253.54 509.45,258.95" fill="none" stroke="#8c8c8c" stroke-width="0.55" stroke-linejoin="round" stroke-linecap="round"/>
<polyline points="573.1,211.1 574.38,211.68 573.08,206.87 572.83,206.89 572.23,217.17 569.24,217.21" fill="none" stroke="#8c8c8c" stroke-width="0.55" stroke-linejoin="round" stroke-linecap="round"/>
<polyline points="549.25,232.05 553.48,222.51 543.5,219.21 549.17,223.61 549,227.41 550.87,226.73" fill="none" stroke="#8c8c8c" stroke-width="0.55" stroke-linejoin="round" stroke-linecap="round"/>
<polyline points="541.02,226.39 546.26,229.51 547.23,226.09 548.98,226.91 546.35,231.98 537.49,235.69" fill="none" stroke="#8c8c8c" stroke-width="0.55" stroke-linejoin="round" stroke-linecap="round"/>
<polyline points="528.42,241.32 532.28,236.73 539.38,244 535.69,236.15 536.05,237.05 538.7,243.2" fill="none" stroke="#8c8c8c" stroke-width="0.55" stroke-linejoin="round" stroke-linecap="round"/>
<polyline points="565.52,212.67 573.28,216.55 563.91,218.93 572.11,208.39 568.78,208.24 567.73,210.13" fill="none" stroke="#8c8c8c" stroke-width="0.55" stroke-linejoin="round" stroke-linecap="round"/>
<polyline points="570.82,216.66 564.47,211.87 565.61,208.82 568.65,213.37 570.7,219.26 570.4,211.4" fill="none" stroke="#8c8c8c" stroke-width="0.55" stroke-linejoin="round" stroke-linecap="round"/>
<polyline points="545.95,235.38 533.52,238.15 540.74,234.88 539.65,231.48 536.61,232.87 540.66,234.36" fill="none" stroke="#8c8c8c" stroke-width="0.55" stroke-linejoin="round" stroke-linecap="round"/>
<polyline points="547.81,224.02 550.28,225.64 546.48,221.48 546.71,227.19 556.47,230.96 556.61,226.58" fill="none" stroke="#8c8c8c" stroke-width="0.55" stroke-linejoin="round" stroke-linecap="round"/>
<polyline points="540.47,242.61 532.34,231.17 544.12,240.27 537.64,232.04 530.46,232.51 539.28,240.94" fill="none" stroke="#8c8c8c" stroke-width="0.55" stroke-linejoin="round" stroke-linecap="round"/>
<polyline points="557.77,216.93 553.71,224.73 561.57,215.82 553.2,226.52 555.49,222.31 565.69,229.28" fill="none" stroke="#8c8c8c" stroke-width="0.55" stroke-linejoin="round" stroke-linecap="round"/>
<polyline points="512.82,252.92 517.52,261.31 514.23,258.9 509.25,259.75 510.78,253.13 516.3,255.97" fill="none" stroke="#8c8c8c" stroke-width="0.55" stroke-linejoin="round" stroke-linecap="round"/>
<polyline points="515.09,257.6 515.54,251.36 517.92,256.51 518.69,251.94 511.83,257.47 515.28,255.5" fill="none" stroke="#8c8c8c" stroke-width="0.55" stroke-linejoin="round" stroke-linecap="round"/>
<polyline points="544.44,238.71 547.98,234.28 540.92,235.1 546.2,238.99 541.99,227.79 533.45,233.81" fill="none" stroke="#8c8c8c" stroke-width="0.55" stroke-linejoin="round" stroke-linecap="round"/>
<polyline points="568.04,211.75 565.55,215.22 567.42,213.62 576.85,218.88 570.05,218.42 570.17,212.79" fill="none" stroke="#8c8c8c" stroke-width="0.55" stroke-linejoin="round" stroke-linecap="round"/>
<polyline points="567.67,212.55 573.12,203.71 575.37,206.15 572.14,210.05 570.31,205.02 572.43,210.94" fill="none" stroke="#8c8c8c" stroke-width="0.55" stroke-linejoin="round" stroke-linecap="round"/>
<polyline points="569.92,205.32 565.47,210.5 572.25,208.66 567.06,205.77 567.63,205.21 576.73,214.47" fill="none" stroke="#8c8c8c" stroke-width="0.55" stroke-linejoin="round" stroke-linecap="round"/>
<polyline points="530.33,240.68 532.44,239.36 529.28,236.21 533.13,245.79 536.89,243.2 533.76,244.75" fill="none" stroke="#8c8c8c" stroke-width="0.55" stroke-linejoin="round" stroke-linecap="round"/>
<polyline points="535.61,234.8 532.26,234.6 535.54,241.32 536.03,235.69 529.49,238.1 531.46,243.34" fill="none" stroke="#8c8c8c" stroke-width="0.55" stroke-linejoin="round" stroke-linecap="round"/>
<polyline points="568.17,214.78 565.59,210.14 572.15,211.77 566.18,214.39 571.17,213.08 571.56,210.56" fill="none" stroke="#8c8c8c" stroke-width="0.55" stroke-linejoin="round" stroke-linecap="round"/>
<polyline points="524.72,248.5 521.25,244.98 525.68,242.62 522.71,248.74 527.25,240.89 521.13,243.22" fill="none" stroke="#8c8c8c" stroke-width="0.55" stroke-linejoin="round" stroke-linecap="round"/>
<polyline points="568.32,214.12 560.49,218.44 561.16,226.14 559.73,217.05 569.29,215.28 553.64,223.25" fill="none" stroke="#8c8c8c" stroke-width="0.55" stroke-linejoin="round" stroke-linecap="round"/>
<polyline points="534.99,236.62 545.86,232.7 542.35,230.09 538.98,239 540.99,240.21 536.94,230.99" fill="none" stroke="#8c8c8c" stroke-width="0.55" stroke-linejoin="round" stroke-linecap="round"/>
<polyline points="568.77,219.1 565.47,220.76 569.97,216.88 572.82,211.91 568.17,217.23 573.68,214.39" fill="none" stroke="#8c8c8c" stroke-width="0.55" stroke-linejoin="round" stroke-linecap="round"/>
<polyline points="519.03,245.61 523.72,246.71 525.61,245.98 526.09,250.82 520.79,251.15 525.95,245.11" fill="none" stroke="#8c8c8c" stroke-width="0.55" stroke-linejoin="round" stroke-linecap="round"/>
<polyline points="544.67,243.38 538.58,234.6 542.3,240.23 542.58,234.77 539.69,231.16 544.97,241.15" fill="none" stroke="#8c8c8c" stroke-width="0.55" stroke-linejoin="round" stroke-linecap="round"/>
<polyline points="545.51,227.84 540.98,229.22 550.8,239 534.67,233.96 536.87,227.59 539,233.53" fill="none" stroke="#8c8c8c" stroke-width="0.55" stroke-linejoin="round" stroke-linecap="round"/>
<polyline points="571.62,212.16 567.14,219.01 573.49,211.93 571.74,219.46 575.69,210.29 571.6,219.56" fill="none" stroke="#8c8c8c" stroke-width="0.55" stroke-linejoin="round" stroke-linecap="round"/>
<polyline points="533.36,238.16 526.22,240.36 531.53,245.82 524.31,245.08 524.97,244.38 532.52,239.23" fill="none" stroke="#8c8c8c" stroke-width="0.55" stroke-linejoin="round" stroke-linecap="round"/>
<polyline points="520.29,247.71 524.3,251.14 517.97,247.42 520.15,246.28 519.11,247.2 524.37,247.6" fill="none" stroke="#8c8c8c" stroke-width="0.55" stroke-linejoin="round" stroke-linecap="round"/>
<polyline points="527.6,243.98 529.59,240.11 529.36,243.26 528.14,248.44 528.77,246.76 526.93,242.73" fill="none" stroke="#8c8c8c" stroke-width="0.55" stroke-linejoin="round" stroke-linecap="round"/>
<polyline points="543.57,228.57 545.6,235.69 541.83,221.05 549,223.08 554.18,224.96 554.71,228.75" fill="none" stroke="#8c8c8c" stroke-width="0.55" stroke-linejoin="round" stroke-linecap="round"/>
<polyline points="544.76,231.37 556.33,224.78 559.02,219.75 548.02,222.51 549.53,231.82 558.3,218.9" fill="none" stroke="#8c8c8c" stroke-width="0.55" stroke-linejoin="round" stroke-linecap="round"/>
<polyline points="533.76,234.63 546.13,238.77 536.28,233.5 533.01,237.2 542.84,240.82 545.63,240.04" fill="none" stroke="#8c8c8c" stroke-width="0.55" stroke-linejoin="round" stroke-linecap="round"/>
<polyline points="537.46,229.46 548.14,234.91 545.2,230.32 548.31,235.32 548.22,232.48 546.65,228.58" fill="none" stroke="#8c8c8c" stroke-width="0.55" stroke-linejoin="round" stroke-linecap="round"/>
<polyline points="576.54,214.18 574.57,210.24 576.45,215.77 567.65,213.43 563.89,217.39 565.75,219.79" fill="none" stroke="#8c8c8c" stroke-width="0.55" stroke-linejoin="round" stroke-linecap="round"/>
<polyline points="555.42,228.7 558.15,230.94 550.88,225.78 550.92,221.14 558.25,224.58 552.26,230.3" fill="none" stroke="#8c8c8c" stroke-width="0.55" stroke-linejoin="round" stroke-linecap="round"/>
<rect x="565.5" y="195.5" width="8.5" height="7" rx="2" fill="#f7a21b" stroke="none" stroke-width="1"/>
<circle cx="511.8" cy="260.6" r="2" fill="#e8222a" stroke="none" stroke-width="1"/>
<circle cx="513.5" cy="258.5" r="2" fill="#e8222a" stroke="none" stroke-width="1"/>
<circle cx="514.5" cy="260.5" r="2" fill="#e8222a" stroke="none" stroke-width="1"/>
<circle cx="512.5" cy="262.3" r="2" fill="#e8222a" stroke="none" stroke-width="1"/>
<polygon points="516.8,219.1 517.38,220.5 518.89,220.62 517.74,221.61 518.09,223.08 516.8,222.29 515.51,223.08 515.86,221.61 514.71,220.62 516.22,220.5" fill="#2b3a9c"/>
<polygon points="523,228.8 523.58,230.2 525.09,230.32 523.94,231.31 524.29,232.78 523,231.99 521.71,232.78 522.06,231.31 520.91,230.32 522.42,230.2" fill="#2b3a9c"/>
<polygon points="527.2,228.8 527.78,230.2 529.29,230.32 528.14,231.31 528.49,232.78 527.2,231.99 525.91,232.78 526.26,231.31 525.11,230.32 526.62,230.2" fill="#2b3a9c"/>
<polygon points="534.1,229.5 534.68,230.9 536.19,231.02 535.04,232.01 535.39,233.48 534.1,232.69 532.81,233.48 533.16,232.01 532.01,231.02 533.52,230.9" fill="#2b3a9c"/>
<polygon points="549.4,226.1 549.98,227.5 551.49,227.62 550.34,228.61 550.69,230.08 549.4,229.29 548.11,230.08 548.46,228.61 547.31,227.62 548.82,227.5" fill="#2b3a9c"/>
<polygon points="554.2,224.7 554.78,226.1 556.29,226.22 555.14,227.21 555.49,228.68 554.2,227.89 552.91,228.68 553.26,227.21 552.11,226.22 553.62,226.1" fill="#2b3a9c"/>
<polygon points="568.1,227.4 568.68,228.8 570.19,228.92 569.04,229.91 569.39,231.38 568.1,230.59 566.81,231.38 567.16,229.91 566.01,228.92 567.52,228.8" fill="#2b3a9c"/>
<circle cx="540.4" cy="245.6" r="2.2" fill="#2b3a9c" stroke="none" stroke-width="1"/>
<circle cx="517.5" cy="259.5" r="2.2" fill="#2b3a9c" stroke="none" stroke-width="1"/>
<circle cx="550.8" cy="238.7" r="2.2" fill="#2b3a9c" stroke="none" stroke-width="1"/>
<circle cx="552.8" cy="238.2" r="2.2" fill="#2b3a9c" stroke="none" stroke-width="1"/>
<circle cx="559.8" cy="235.2" r="2.2" fill="#2b3a9c" stroke="none" stroke-width="1"/>
<circle cx="557.5" cy="236.8" r="2.2" fill="#2b3a9c" stroke="none" stroke-width="1"/>
<circle cx="561.5" cy="234" r="2.2" fill="#2b3a9c" stroke="none" stroke-width="1"/>
<text x="0.8" y="330.7" font-size="20" text-anchor="start" fill="#111" font-weight="bold">f</text>
<rect x="62.5" y="326.3" width="46.5" height="13.7" rx="6.85" fill="#dfe4e4" stroke="none" stroke-width="1"/>
<text x="85.75" y="337.23" font-size="11.4" text-anchor="middle" fill="#222">RDM</text>
<rect x="235.2" y="326.3" width="46.5" height="13.7" rx="6.85" fill="#dfe4e4" stroke="none" stroke-width="1"/>
<text x="258.45" y="337.23" font-size="11.4" text-anchor="middle" fill="#222">CAC</text>
<line x1="41.5" y1="360" x2="41.5" y2="439.8" stroke="#444" stroke-width="1"/>
<line x1="38.5" y1="361.7" x2="41.5" y2="361.7" stroke="#444" stroke-width="0.9"/>
<text x="36.4" y="365.12" font-size="9" text-anchor="end" fill="#333">1.0</text>
<line x1="38.5" y1="381.22" x2="41.5" y2="381.22" stroke="#444" stroke-width="0.9"/>
<text x="36.4" y="384.65" font-size="9" text-anchor="end" fill="#333">0.8</text>
<line x1="38.5" y1="400.75" x2="41.5" y2="400.75" stroke="#444" stroke-width="0.9"/>
<text x="36.4" y="404.17" font-size="9" text-anchor="end" fill="#333">0.6</text>
<line x1="38.5" y1="420.27" x2="41.5" y2="420.27" stroke="#444" stroke-width="0.9"/>
<text x="36.4" y="423.7" font-size="9" text-anchor="end" fill="#333">0.4</text>
<line x1="38.5" y1="439.8" x2="41.5" y2="439.8" stroke="#444" stroke-width="0.9"/>
<text x="36.4" y="443.22" font-size="9" text-anchor="end" fill="#333">0.2</text>
<line x1="41.5" y1="439.8" x2="145.8" y2="439.8" stroke="#444" stroke-width="1"/>
<line x1="46.8" y1="439.8" x2="46.8" y2="442.8" stroke="#444" stroke-width="0.9"/>
<text x="46.8" y="451.02" font-size="9" text-anchor="middle" fill="#333">0</text>
<line x1="70.45" y1="439.8" x2="70.45" y2="442.8" stroke="#444" stroke-width="0.9"/>
<text x="70.45" y="451.02" font-size="9" text-anchor="middle" fill="#333">20</text>
<line x1="94.1" y1="439.8" x2="94.1" y2="442.8" stroke="#444" stroke-width="0.9"/>
<text x="94.1" y="451.02" font-size="9" text-anchor="middle" fill="#333">40</text>
<line x1="117.75" y1="439.8" x2="117.75" y2="442.8" stroke="#444" stroke-width="0.9"/>
<text x="117.75" y="451.02" font-size="9" text-anchor="middle" fill="#333">60</text>
<line x1="141.4" y1="439.8" x2="141.4" y2="442.8" stroke="#444" stroke-width="0.9"/>
<text x="141.4" y="451.02" font-size="9" text-anchor="middle" fill="#333">80</text>
<text x="19.8" y="405" font-size="9.4" text-anchor="middle" fill="#1a1a1a" transform="rotate(-90 19.8 405)">Frac. correct target choice</text>
<text x="91" y="462.13" font-size="9.3" text-anchor="middle" fill="#1a1a1a">% zeros in connections</text>
<polyline points="46.8,373.42 58.62,375.37 70.45,381.22 82.28,385.13 94.1,390.01 105.92,395.38 117.75,401.73 129.57,406.61 141.4,416.86" fill="none" stroke="#f07a52" stroke-width="1.3" stroke-linejoin="round" stroke-linecap="round"/>
<circle cx="46.8" cy="373.42" r="2.8" fill="#f07a52" stroke="none" stroke-width="1"/>
<circle cx="58.62" cy="375.37" r="2.8" fill="#f07a52" stroke="none" stroke-width="1"/>
<circle cx="70.45" cy="381.22" r="2.8" fill="#f07a52" stroke="none" stroke-width="1"/>
<circle cx="82.28" cy="385.13" r="2.8" fill="#f07a52" stroke="none" stroke-width="1"/>
<circle cx="94.1" cy="390.01" r="2.8" fill="#f07a52" stroke="none" stroke-width="1"/>
<circle cx="105.92" cy="395.38" r="2.8" fill="#f07a52" stroke="none" stroke-width="1"/>
<circle cx="117.75" cy="401.73" r="2.8" fill="#f07a52" stroke="none" stroke-width="1"/>
<circle cx="129.57" cy="406.61" r="2.8" fill="#f07a52" stroke="none" stroke-width="1"/>
<circle cx="141.4" cy="416.86" r="2.8" fill="#f07a52" stroke="none" stroke-width="1"/>
<polyline points="46.8,372.93 58.62,376.34 70.45,397.82 82.28,380.25 94.1,382.69 105.92,385.62 117.75,395.87 129.57,397.82 141.4,412.47" fill="none" stroke="#8ea0d8" stroke-width="1.3" stroke-linejoin="round" stroke-linecap="round"/>
<circle cx="46.8" cy="372.93" r="2.8" fill="#8ea0d8" stroke="none" stroke-width="1"/>
<circle cx="58.62" cy="376.34" r="2.8" fill="#8ea0d8" stroke="none" stroke-width="1"/>
<circle cx="70.45" cy="397.82" r="2.8" fill="#8ea0d8" stroke="none" stroke-width="1"/>
<circle cx="82.28" cy="380.25" r="2.8" fill="#8ea0d8" stroke="none" stroke-width="1"/>
<circle cx="94.1" cy="382.69" r="2.8" fill="#8ea0d8" stroke="none" stroke-width="1"/>
<circle cx="105.92" cy="385.62" r="2.8" fill="#8ea0d8" stroke="none" stroke-width="1"/>
<circle cx="117.75" cy="395.87" r="2.8" fill="#8ea0d8" stroke="none" stroke-width="1"/>
<circle cx="129.57" cy="397.82" r="2.8" fill="#8ea0d8" stroke="none" stroke-width="1"/>
<circle cx="141.4" cy="412.47" r="2.8" fill="#8ea0d8" stroke="none" stroke-width="1"/>
<rect x="96.8" y="357.9" width="46" height="14.6" rx="1.2" fill="white" stroke="#d6d6d6" stroke-width="0.8"/>
<line x1="99" y1="362.3" x2="110.7" y2="362.3" stroke="#f07a52" stroke-width="1.3"/>
<line x1="99" y1="368.5" x2="110.7" y2="368.5" stroke="#8ea0d8" stroke-width="1.3"/>
<text x="112.6" y="364.34" font-size="5.7" fill="#222" textLength="12.6" lengthAdjust="spacingAndGlyphs">SOM</text>
<line x1="126.1" y1="362.3" x2="129.1" y2="362.3" stroke="#222" stroke-width="0.8"/>
<path d="M128.8 360.8 L130.8 362.3 L128.8 363.8 Z" fill="#222" stroke="none" stroke-width="1"/>
<text x="131.2" y="364.34" font-size="5.7" fill="#222" textLength="10" lengthAdjust="spacingAndGlyphs">VIP</text>
<text x="112.6" y="370.54" font-size="5.7" fill="#222" textLength="12.6" lengthAdjust="spacingAndGlyphs">SOM</text>
<line x1="126.1" y1="368.5" x2="129.1" y2="368.5" stroke="#222" stroke-width="0.8"/>
<path d="M128.8 367 L130.8 368.5 L128.8 370 Z" fill="#222" stroke="none" stroke-width="1"/>
<text x="131.2" y="370.54" font-size="5.7" fill="#222" textLength="8.6" lengthAdjust="spacingAndGlyphs">PV</text>
<line x1="182" y1="338.3" x2="170.2" y2="328" stroke="#f39a23" stroke-width="1.2"/>
<line x1="182" y1="338.3" x2="170.2" y2="349.2" stroke="#a5b6e2" stroke-width="1.2"/>
<circle cx="160.6" cy="324.7" r="7.9" fill="#0f4a7e" stroke="none" stroke-width="1"/>
<text x="160.6" y="326.7" font-size="5.6" text-anchor="middle" fill="white" font-weight="bold">VIP</text>
<circle cx="160.6" cy="351.9" r="7.9" fill="#0f4a7e" stroke="none" stroke-width="1"/>
<text x="160.6" y="353.9" font-size="5.6" text-anchor="middle" fill="white" font-weight="bold">PV</text>
<circle cx="182" cy="338.3" r="8.1" fill="#0f4a7e" stroke="none" stroke-width="1"/>
<text x="182" y="340.09" font-size="5" text-anchor="middle" fill="white" font-weight="bold">SOM</text>
<circle cx="170.2" cy="328" r="1.4" fill="#f39a23" stroke="none" stroke-width="1"/>
<circle cx="170.2" cy="349.2" r="1.4" fill="#a5b6e2" stroke="none" stroke-width="1"/>
<line x1="206.8" y1="360" x2="206.8" y2="439.3" stroke="#444" stroke-width="1"/>
<line x1="203.8" y1="368.8" x2="206.8" y2="368.8" stroke="#444" stroke-width="0.9"/>
<text x="201.7" y="372.22" font-size="9" text-anchor="end" fill="#333">0.9</text>
<line x1="203.8" y1="384.25" x2="206.8" y2="384.25" stroke="#444" stroke-width="0.9"/>
<text x="201.7" y="387.67" font-size="9" text-anchor="end" fill="#333">0.7</text>
<line x1="203.8" y1="399.7" x2="206.8" y2="399.7" stroke="#444" stroke-width="0.9"/>
<text x="201.7" y="403.12" font-size="9" text-anchor="end" fill="#333">0.5</text>
<line x1="203.8" y1="415.15" x2="206.8" y2="415.15" stroke="#444" stroke-width="0.9"/>
<text x="201.7" y="418.57" font-size="9" text-anchor="end" fill="#333">0.3</text>
<line x1="203.8" y1="430.6" x2="206.8" y2="430.6" stroke="#444" stroke-width="0.9"/>
<text x="201.7" y="434.02" font-size="9" text-anchor="end" fill="#333">0.1</text>
<line x1="206.8" y1="439.3" x2="310.6" y2="439.3" stroke="#444" stroke-width="1"/>
<line x1="210.7" y1="439.3" x2="210.7" y2="442.3" stroke="#444" stroke-width="0.9"/>
<text x="210.7" y="450.52" font-size="9" text-anchor="middle" fill="#333">0</text>
<line x1="234.35" y1="439.3" x2="234.35" y2="442.3" stroke="#444" stroke-width="0.9"/>
<text x="234.35" y="450.52" font-size="9" text-anchor="middle" fill="#333">20</text>
<line x1="258" y1="439.3" x2="258" y2="442.3" stroke="#444" stroke-width="0.9"/>
<text x="258" y="450.52" font-size="9" text-anchor="middle" fill="#333">40</text>
<line x1="281.65" y1="439.3" x2="281.65" y2="442.3" stroke="#444" stroke-width="0.9"/>
<text x="281.65" y="450.52" font-size="9" text-anchor="middle" fill="#333">60</text>
<line x1="305.3" y1="439.3" x2="305.3" y2="442.3" stroke="#444" stroke-width="0.9"/>
<text x="305.3" y="450.52" font-size="9" text-anchor="middle" fill="#333">80</text>
<text x="184.9" y="405" font-size="9.4" text-anchor="middle" fill="#1a1a1a" transform="rotate(-90 184.9 405)">Frac. correct target choice</text>
<text x="256" y="462.13" font-size="9.3" text-anchor="middle" fill="#1a1a1a">% zeros in connections</text>
<polyline points="210.7,367.25 222.52,367.25 234.35,373.44 246.18,395.84 258,401.25 269.82,403.18 281.65,413.99 293.48,421.33 305.3,432.92" fill="none" stroke="#f07a52" stroke-width="1.3" stroke-linejoin="round" stroke-linecap="round"/>
<line x1="210.7" y1="365.71" x2="210.7" y2="368.8" stroke="#f07a52" stroke-width="1.1"/>
<circle cx="210.7" cy="367.25" r="2.8" fill="#f07a52" stroke="none" stroke-width="1"/>
<line x1="222.52" y1="365.71" x2="222.52" y2="368.8" stroke="#f07a52" stroke-width="1.1"/>
<circle cx="222.52" cy="367.25" r="2.8" fill="#f07a52" stroke="none" stroke-width="1"/>
<line x1="234.35" y1="370.73" x2="234.35" y2="376.14" stroke="#f07a52" stroke-width="1.1"/>
<circle cx="234.35" cy="373.44" r="2.8" fill="#f07a52" stroke="none" stroke-width="1"/>
<line x1="246.18" y1="389.66" x2="246.18" y2="402.02" stroke="#f07a52" stroke-width="1.1"/>
<circle cx="246.18" cy="395.84" r="2.8" fill="#f07a52" stroke="none" stroke-width="1"/>
<line x1="258" y1="396.61" x2="258" y2="405.88" stroke="#f07a52" stroke-width="1.1"/>
<circle cx="258" cy="401.25" r="2.8" fill="#f07a52" stroke="none" stroke-width="1"/>
<line x1="269.82" y1="398.93" x2="269.82" y2="407.43" stroke="#f07a52" stroke-width="1.1"/>
<circle cx="269.82" cy="403.18" r="2.8" fill="#f07a52" stroke="none" stroke-width="1"/>
<line x1="281.65" y1="410.13" x2="281.65" y2="417.85" stroke="#f07a52" stroke-width="1.1"/>
<circle cx="281.65" cy="413.99" r="2.8" fill="#f07a52" stroke="none" stroke-width="1"/>
<line x1="293.48" y1="417.08" x2="293.48" y2="425.58" stroke="#f07a52" stroke-width="1.1"/>
<circle cx="293.48" cy="421.33" r="2.8" fill="#f07a52" stroke="none" stroke-width="1"/>
<line x1="305.3" y1="430.6" x2="305.3" y2="435.24" stroke="#f07a52" stroke-width="1.1"/>
<circle cx="305.3" cy="432.92" r="2.8" fill="#f07a52" stroke="none" stroke-width="1"/>
<polyline points="210.7,366.48 222.52,368.8 234.35,376.53 246.18,371.12 258,378.07 269.82,382.71 281.65,388.88 293.48,394.29 305.3,402.79" fill="none" stroke="#8ea0d8" stroke-width="1.3" stroke-linejoin="round" stroke-linecap="round"/>
<line x1="210.7" y1="364.94" x2="210.7" y2="368.03" stroke="#8ea0d8" stroke-width="1.1"/>
<circle cx="210.7" cy="366.48" r="2.8" fill="#8ea0d8" stroke="none" stroke-width="1"/>
<line x1="222.52" y1="366.48" x2="222.52" y2="371.12" stroke="#8ea0d8" stroke-width="1.1"/>
<circle cx="222.52" cy="368.8" r="2.8" fill="#8ea0d8" stroke="none" stroke-width="1"/>
<line x1="234.35" y1="374.21" x2="234.35" y2="378.84" stroke="#8ea0d8" stroke-width="1.1"/>
<circle cx="234.35" cy="376.53" r="2.8" fill="#8ea0d8" stroke="none" stroke-width="1"/>
<line x1="246.18" y1="368.03" x2="246.18" y2="374.21" stroke="#8ea0d8" stroke-width="1.1"/>
<circle cx="246.18" cy="371.12" r="2.8" fill="#8ea0d8" stroke="none" stroke-width="1"/>
<line x1="258" y1="374.98" x2="258" y2="381.16" stroke="#8ea0d8" stroke-width="1.1"/>
<circle cx="258" cy="378.07" r="2.8" fill="#8ea0d8" stroke="none" stroke-width="1"/>
<line x1="269.82" y1="379.23" x2="269.82" y2="386.18" stroke="#8ea0d8" stroke-width="1.1"/>
<circle cx="269.82" cy="382.71" r="2.8" fill="#8ea0d8" stroke="none" stroke-width="1"/>
<line x1="281.65" y1="385.02" x2="281.65" y2="392.75" stroke="#8ea0d8" stroke-width="1.1"/>
<circle cx="281.65" cy="388.88" r="2.8" fill="#8ea0d8" stroke="none" stroke-width="1"/>
<line x1="293.48" y1="390.82" x2="293.48" y2="397.77" stroke="#8ea0d8" stroke-width="1.1"/>
<circle cx="293.48" cy="394.29" r="2.8" fill="#8ea0d8" stroke="none" stroke-width="1"/>
<line x1="305.3" y1="398.54" x2="305.3" y2="407.04" stroke="#8ea0d8" stroke-width="1.1"/>
<circle cx="305.3" cy="402.79" r="2.8" fill="#8ea0d8" stroke="none" stroke-width="1"/>
<rect x="261.4" y="359.6" width="45.8" height="14.2" rx="1.2" fill="white" stroke="#d6d6d6" stroke-width="0.8"/>
<line x1="263.6" y1="363.8" x2="275.3" y2="363.8" stroke="#f07a52" stroke-width="1.3"/>
<line x1="263.6" y1="370" x2="275.3" y2="370" stroke="#8ea0d8" stroke-width="1.3"/>
<text x="277.2" y="365.84" font-size="5.7" fill="#222" textLength="12.6" lengthAdjust="spacingAndGlyphs">SOM</text>
<line x1="290.7" y1="363.8" x2="293.7" y2="363.8" stroke="#222" stroke-width="0.8"/>
<path d="M293.4 362.3 L295.4 363.8 L293.4 365.3 Z" fill="#222" stroke="none" stroke-width="1"/>
<text x="295.8" y="365.84" font-size="5.7" fill="#222" textLength="10" lengthAdjust="spacingAndGlyphs">VIP</text>
<text x="277.2" y="372.04" font-size="5.7" fill="#222" textLength="12.6" lengthAdjust="spacingAndGlyphs">SOM</text>
<line x1="290.7" y1="370" x2="293.7" y2="370" stroke="#222" stroke-width="0.8"/>
<path d="M293.4 368.5 L295.4 370 L293.4 371.5 Z" fill="#222" stroke="none" stroke-width="1"/>
<text x="295.8" y="372.04" font-size="5.7" fill="#222" textLength="8.6" lengthAdjust="spacingAndGlyphs">PV</text>
<text x="344.2" y="330.5" font-size="20" text-anchor="start" fill="#111" font-weight="bold">g</text>
<rect x="398.3" y="326.3" width="46.3" height="13.7" rx="6.85" fill="#dfe4e4" stroke="none" stroke-width="1"/>
<text x="421.45" y="337.23" font-size="11.4" text-anchor="middle" fill="#222">RDM</text>
<rect x="583.3" y="326.3" width="45.2" height="13.7" rx="6.85" fill="#dfe4e4" stroke="none" stroke-width="1"/>
<text x="605.9" y="337.23" font-size="11.4" text-anchor="middle" fill="#222">CAC</text>
<text x="404.4" y="351.96" font-size="8" text-anchor="middle" fill="#1a1a1a">cue sparsity 0.8</text>
<text x="589.4" y="352.86" font-size="8" text-anchor="middle" fill="#1a1a1a">cue sparsity 0.88</text>
<path d="M484 339.6 L489.5 339.6 L489.5 327.4 L496 327.4 L496 339.6 L501.8 339.6" fill="none" stroke="#222" stroke-width="0.9" stroke-linejoin="miter"/>
<line x1="497.5" y1="334.8" x2="507" y2="334.8" stroke="#555" stroke-width="1" stroke-dasharray="1.3 1.3"/>
<path d="M506.5 332.2 L514 334.8 L506.5 337.4 Z" fill="#111" stroke="none" stroke-width="1"/>
<circle cx="525.6" cy="334.8" r="10.2" fill="#7a4a1f" stroke="none" stroke-width="1"/>
<text x="526.0" y="337.66" font-size="8.0" font-weight="bold" text-anchor="middle" fill="white">MD<tspan font-size="6" dy="0.6">2</tspan></text>
<line x1="541.7" y1="341.8" x2="541.7" y2="331" stroke="#e8202a" stroke-width="2.3"/>
<path d="M537.6 333.2 L541.7 326.8 L545.8 333.2 L541.7 331.6 Z" fill="#e8202a" stroke="none" stroke-width="1"/>
<circle cx="378.6" cy="429.9" r="8.2" fill="#f6c2dc" stroke="none" stroke-width="1"/>
<circle cx="473.2" cy="392.21" r="8.2" fill="#f6de66" stroke="none" stroke-width="1"/>
<line x1="373.6" y1="358.8" x2="373.6" y2="438.1" stroke="#444" stroke-width="1"/>
<line x1="370.6" y1="369.6" x2="373.6" y2="369.6" stroke="#444" stroke-width="0.9"/>
<text x="368.5" y="373.02" font-size="9" text-anchor="end" fill="#333">0.9</text>
<line x1="370.6" y1="386.35" x2="373.6" y2="386.35" stroke="#444" stroke-width="0.9"/>
<text x="368.5" y="389.77" font-size="9" text-anchor="end" fill="#333">0.8</text>
<line x1="370.6" y1="403.1" x2="373.6" y2="403.1" stroke="#444" stroke-width="0.9"/>
<text x="368.5" y="406.52" font-size="9" text-anchor="end" fill="#333">0.7</text>
<line x1="370.6" y1="419.85" x2="373.6" y2="419.85" stroke="#444" stroke-width="0.9"/>
<text x="368.5" y="423.27" font-size="9" text-anchor="end" fill="#333">0.6</text>
<line x1="370.6" y1="436.6" x2="373.6" y2="436.6" stroke="#444" stroke-width="0.9"/>
<text x="368.5" y="440.02" font-size="9" text-anchor="end" fill="#333">0.5</text>
<line x1="373.6" y1="438.1" x2="476.6" y2="438.1" stroke="#444" stroke-width="1"/>
<line x1="378.6" y1="438.1" x2="378.6" y2="441.1" stroke="#444" stroke-width="0.9"/>
<text x="378.6" y="450.32" font-size="9" text-anchor="middle" fill="#333">1.00</text>
<line x1="402.25" y1="438.1" x2="402.25" y2="441.1" stroke="#444" stroke-width="0.9"/>
<text x="402.25" y="450.32" font-size="9" text-anchor="middle" fill="#333">1.05</text>
<line x1="425.9" y1="438.1" x2="425.9" y2="441.1" stroke="#444" stroke-width="0.9"/>
<text x="425.9" y="450.32" font-size="9" text-anchor="middle" fill="#333">1.10</text>
<line x1="449.55" y1="438.1" x2="449.55" y2="441.1" stroke="#444" stroke-width="0.9"/>
<text x="449.55" y="450.32" font-size="9" text-anchor="middle" fill="#333">1.15</text>
<line x1="473.2" y1="438.1" x2="473.2" y2="441.1" stroke="#444" stroke-width="0.9"/>
<text x="473.2" y="450.32" font-size="9" text-anchor="middle" fill="#333">1.20</text>
<text x="352.2" y="405.4" font-size="9.1" text-anchor="middle" fill="#1a1a1a" transform="rotate(-90 352.2 405.4)">Frac. correct target choice</text>
<text x="361" y="461.63" font-size="9.3" text-anchor="start" fill="#1a1a1a">Scaling factor of bidirectional</text>
<text x="361" y="472.93" font-size="9.3" text-anchor="start" fill="#1a1a1a">SOM-VIP connections</text>
<polyline points="378.6,404.78 402.25,396.4 425.9,386.35 449.55,375.46 473.2,369.6" fill="none" stroke="#e3202b" stroke-width="1.3" stroke-linejoin="round" stroke-linecap="round"/>
<line x1="378.6" y1="398.91" x2="378.6" y2="410.64" stroke="#e3202b" stroke-width="1.1"/>
<circle cx="378.6" cy="404.78" r="2.6" fill="#e3202b" stroke="none" stroke-width="1"/>
<line x1="402.25" y1="391.38" x2="402.25" y2="401.43" stroke="#e3202b" stroke-width="1.1"/>
<circle cx="402.25" cy="396.4" r="2.6" fill="#e3202b" stroke="none" stroke-width="1"/>
<line x1="425.9" y1="382.16" x2="425.9" y2="390.54" stroke="#e3202b" stroke-width="1.1"/>
<circle cx="425.9" cy="386.35" r="2.6" fill="#e3202b" stroke="none" stroke-width="1"/>
<line x1="449.55" y1="371.28" x2="449.55" y2="379.65" stroke="#e3202b" stroke-width="1.1"/>
<circle cx="449.55" cy="375.46" r="2.6" fill="#e3202b" stroke="none" stroke-width="1"/>
<line x1="473.2" y1="364.58" x2="473.2" y2="374.62" stroke="#e3202b" stroke-width="1.1"/>
<circle cx="473.2" cy="369.6" r="2.6" fill="#e3202b" stroke="none" stroke-width="1"/>
<polyline points="378.6,429.9 402.25,418.18 425.9,417.34 449.55,403.1 473.2,392.21" fill="none" stroke="#9a9a9a" stroke-width="1.3" stroke-linejoin="round" stroke-linecap="round"/>
<line x1="378.6" y1="425.71" x2="378.6" y2="434.09" stroke="#9a9a9a" stroke-width="1.1"/>
<circle cx="378.6" cy="429.9" r="2.6" fill="#9a9a9a" stroke="none" stroke-width="1"/>
<line x1="402.25" y1="412.31" x2="402.25" y2="424.04" stroke="#9a9a9a" stroke-width="1.1"/>
<circle cx="402.25" cy="418.18" r="2.6" fill="#9a9a9a" stroke="none" stroke-width="1"/>
<line x1="425.9" y1="412.31" x2="425.9" y2="422.36" stroke="#9a9a9a" stroke-width="1.1"/>
<circle cx="425.9" cy="417.34" r="2.6" fill="#9a9a9a" stroke="none" stroke-width="1"/>
<line x1="449.55" y1="395.56" x2="449.55" y2="410.64" stroke="#9a9a9a" stroke-width="1.1"/>
<circle cx="449.55" cy="403.1" r="2.6" fill="#9a9a9a" stroke="none" stroke-width="1"/>
<line x1="473.2" y1="386.35" x2="473.2" y2="398.08" stroke="#9a9a9a" stroke-width="1.1"/>
<circle cx="473.2" cy="392.21" r="2.6" fill="#9a9a9a" stroke="none" stroke-width="1"/>
<rect x="375" y="355.7" width="64.3" height="17.1" rx="1.2" fill="white" stroke="#d6d6d6" stroke-width="0.8"/>
<line x1="376.8" y1="360.4" x2="389.5" y2="360.4" stroke="#9a9a9a" stroke-width="1.3"/>
<line x1="376.8" y1="368.3" x2="389.5" y2="368.3" stroke="#e3202b" stroke-width="1.3"/>
<text x="391.9" y="362.91" font-size="7" fill="#222" textLength="45" lengthAdjust="spacingAndGlyphs">No stimulation</text>
<text x="391.9" y="370.81" font-size="7" fill="#222" textLength="9.2" lengthAdjust="spacingAndGlyphs">MD</text>
<text x="401.4" y="371.41" font-size="4.6" fill="#222">2</text>
<line x1="405.2" y1="368.3" x2="409.2" y2="368.3" stroke="#222" stroke-width="0.8"/>
<path d="M408.9 366.5 L411.3 368.3 L408.9 370.1 Z" fill="#222" stroke="none" stroke-width="1"/>
<text x="411.6" y="370.81" font-size="7" fill="#222" textLength="25.8" lengthAdjust="spacingAndGlyphs">VIP stim.</text>
<line x1="490.4" y1="429.3" x2="490.4" y2="441.5" stroke="#111" stroke-width="0.9"/>
<line x1="494.3" y1="429.3" x2="494.3" y2="441.5" stroke="#111" stroke-width="0.9"/>
<circle cx="490.4" cy="431.5" r="1.3" fill="#111" stroke="none" stroke-width="1"/>
<circle cx="494.3" cy="439.3" r="1.3" fill="#111" stroke="none" stroke-width="1"/>
<circle cx="492.4" cy="424" r="6.3" fill="#0f4a7e" stroke="none" stroke-width="1"/>
<text x="492.4" y="425.65" font-size="4.6" text-anchor="middle" fill="white" font-weight="bold">VIP</text>
<circle cx="492.4" cy="446.8" r="6.3" fill="#0f4a7e" stroke="none" stroke-width="1"/>
<text x="492.4" y="448.2" font-size="3.9" text-anchor="middle" fill="white" font-weight="bold">SOM</text>
<line x1="557.5" y1="358.8" x2="557.5" y2="438.1" stroke="#444" stroke-width="1"/>
<line x1="554.5" y1="360.4" x2="557.5" y2="360.4" stroke="#444" stroke-width="0.9"/>
<text x="552.4" y="363.82" font-size="9" text-anchor="end" fill="#333">0.9</text>
<line x1="554.5" y1="377.15" x2="557.5" y2="377.15" stroke="#444" stroke-width="0.9"/>
<text x="552.4" y="380.57" font-size="9" text-anchor="end" fill="#333">0.8</text>
<line x1="554.5" y1="393.9" x2="557.5" y2="393.9" stroke="#444" stroke-width="0.9"/>
<text x="552.4" y="397.32" font-size="9" text-anchor="end" fill="#333">0.7</text>
<line x1="554.5" y1="410.65" x2="557.5" y2="410.65" stroke="#444" stroke-width="0.9"/>
<text x="552.4" y="414.07" font-size="9" text-anchor="end" fill="#333">0.6</text>
<line x1="554.5" y1="427.4" x2="557.5" y2="427.4" stroke="#444" stroke-width="0.9"/>
<text x="552.4" y="430.82" font-size="9" text-anchor="end" fill="#333">0.5</text>
<line x1="557.5" y1="438.1" x2="662.5" y2="438.1" stroke="#444" stroke-width="1"/>
<line x1="562.3" y1="438.1" x2="562.3" y2="441.1" stroke="#444" stroke-width="0.9"/>
<text x="562.3" y="450.32" font-size="9" text-anchor="middle" fill="#333">1.00</text>
<line x1="586.85" y1="438.1" x2="586.85" y2="441.1" stroke="#444" stroke-width="0.9"/>
<text x="586.85" y="450.32" font-size="9" text-anchor="middle" fill="#333">1.05</text>
<line x1="611.4" y1="438.1" x2="611.4" y2="441.1" stroke="#444" stroke-width="0.9"/>
<text x="611.4" y="450.32" font-size="9" text-anchor="middle" fill="#333">1.10</text>
<line x1="635.95" y1="438.1" x2="635.95" y2="441.1" stroke="#444" stroke-width="0.9"/>
<text x="635.95" y="450.32" font-size="9" text-anchor="middle" fill="#333">1.15</text>
<line x1="660.5" y1="438.1" x2="660.5" y2="441.1" stroke="#444" stroke-width="0.9"/>
<text x="660.5" y="450.32" font-size="9" text-anchor="middle" fill="#333">1.20</text>
<text x="536.1" y="402.9" font-size="9.1" text-anchor="middle" fill="#1a1a1a" transform="rotate(-90 536.1 402.9)">Frac. correct target choice</text>
<text x="545" y="461.63" font-size="9.3" text-anchor="start" fill="#1a1a1a">Scaling factor of bidirectional</text>
<text x="545" y="472.93" font-size="9.3" text-anchor="start" fill="#1a1a1a">SOM-VIP connections</text>
<polyline points="562.3,388.88 586.85,390.05 611.4,383.85 635.95,385.02 655.59,386.36" fill="none" stroke="#e3202b" stroke-width="1.3" stroke-linejoin="round" stroke-linecap="round"/>
<line x1="562.3" y1="384.69" x2="562.3" y2="393.06" stroke="#e3202b" stroke-width="1.1"/>
<circle cx="562.3" cy="388.88" r="2.6" fill="#e3202b" stroke="none" stroke-width="1"/>
<line x1="586.85" y1="385.86" x2="586.85" y2="394.24" stroke="#e3202b" stroke-width="1.1"/>
<circle cx="586.85" cy="390.05" r="2.6" fill="#e3202b" stroke="none" stroke-width="1"/>
<line x1="611.4" y1="377.99" x2="611.4" y2="389.71" stroke="#e3202b" stroke-width="1.1"/>
<circle cx="611.4" cy="383.85" r="2.6" fill="#e3202b" stroke="none" stroke-width="1"/>
<line x1="635.95" y1="379.16" x2="635.95" y2="390.88" stroke="#e3202b" stroke-width="1.1"/>
<circle cx="635.95" cy="385.02" r="2.6" fill="#e3202b" stroke="none" stroke-width="1"/>
<line x1="655.59" y1="379.66" x2="655.59" y2="393.06" stroke="#e3202b" stroke-width="1.1"/>
<circle cx="655.59" cy="386.36" r="2.6" fill="#e3202b" stroke="none" stroke-width="1"/>
<polyline points="562.3,430.75 586.85,427.4 611.4,415.68 635.95,405.62 655.59,392.22" fill="none" stroke="#9a9a9a" stroke-width="1.3" stroke-linejoin="round" stroke-linecap="round"/>
<line x1="562.3" y1="427.4" x2="562.3" y2="434.1" stroke="#9a9a9a" stroke-width="1.1"/>
<circle cx="562.3" cy="430.75" r="2.6" fill="#9a9a9a" stroke="none" stroke-width="1"/>
<line x1="586.85" y1="419.86" x2="586.85" y2="434.94" stroke="#9a9a9a" stroke-width="1.1"/>
<circle cx="586.85" cy="427.4" r="2.6" fill="#9a9a9a" stroke="none" stroke-width="1"/>
<line x1="611.4" y1="411.49" x2="611.4" y2="419.86" stroke="#9a9a9a" stroke-width="1.1"/>
<circle cx="611.4" cy="415.68" r="2.6" fill="#9a9a9a" stroke="none" stroke-width="1"/>
<line x1="635.95" y1="400.6" x2="635.95" y2="410.65" stroke="#9a9a9a" stroke-width="1.1"/>
<circle cx="635.95" cy="405.62" r="2.6" fill="#9a9a9a" stroke="none" stroke-width="1"/>
<line x1="655.59" y1="388.87" x2="655.59" y2="395.57" stroke="#9a9a9a" stroke-width="1.1"/>
<circle cx="655.59" cy="392.22" r="2.6" fill="#9a9a9a" stroke="none" stroke-width="1"/>
<rect x="558.9" y="356.3" width="64.3" height="16.8" rx="1.2" fill="white" stroke="#d6d6d6" stroke-width="0.8"/>
<line x1="560.7" y1="360.8" x2="573.4" y2="360.8" stroke="#9a9a9a" stroke-width="1.3"/>
<line x1="560.7" y1="368.6" x2="573.4" y2="368.6" stroke="#e3202b" stroke-width="1.3"/>
<text x="575.8" y="363.31" font-size="7" fill="#222" textLength="45" lengthAdjust="spacingAndGlyphs">No stimulation</text>
<text x="575.8" y="371.11" font-size="7" fill="#222" textLength="9.2" lengthAdjust="spacingAndGlyphs">MD</text>
<text x="585.3" y="371.71" font-size="4.6" fill="#222">2</text>
<line x1="589.1" y1="368.6" x2="593.1" y2="368.6" stroke="#222" stroke-width="0.8"/>
<path d="M592.8 366.8 L595.2 368.6 L592.8 370.4 Z" fill="#222" stroke="none" stroke-width="1"/>
<text x="595.5" y="371.11" font-size="7" fill="#222" textLength="25.8" lengthAdjust="spacingAndGlyphs">VIP stim.</text>
<line x1="676.4" y1="430.1" x2="676.4" y2="441.8" stroke="#111" stroke-width="0.9"/>
<line x1="680.3" y1="430.1" x2="680.3" y2="441.8" stroke="#111" stroke-width="0.9"/>
<circle cx="676.4" cy="432.3" r="1.3" fill="#111" stroke="none" stroke-width="1"/>
<circle cx="680.3" cy="439.6" r="1.3" fill="#111" stroke="none" stroke-width="1"/>
<circle cx="678.4" cy="424.8" r="6.3" fill="#0f4a7e" stroke="none" stroke-width="1"/>
<text x="678.4" y="426.45" font-size="4.6" text-anchor="middle" fill="white" font-weight="bold">VIP</text>
<circle cx="678.4" cy="447.1" r="6.3" fill="#0f4a7e" stroke="none" stroke-width="1"/>
<text x="678.4" y="448.5" font-size="3.9" text-anchor="middle" fill="white" font-weight="bold">SOM</text>
<text x="0.8" y="501.7" font-size="20" text-anchor="start" fill="#111" font-weight="bold">h</text>
<path d="M70.6 612 C 78 565, 120 532, 200 531 L 257 531.5" fill="none" stroke="#f4b3d0" stroke-width="1.6" stroke-dasharray="4.5 3.5"/>
<path d="M255 527.8 L265.2 533.8 L255 539.8 L257.5 533.8 Z" fill="#f4b3d0" stroke="none" stroke-width="1"/>
<line x1="199.3" y1="585.9" x2="258" y2="646.5" stroke="#f3d95a" stroke-width="1.6" stroke-dasharray="4.5 3.5"/>
<path d="M250 646.6 L263.1 652.5 L257.8 638.7 L256.6 645.2 Z" fill="#f3d95a" stroke="none" stroke-width="1"/>
<circle cx="67.5" cy="627.01" r="10.7" fill="#f6c3dc" stroke="none" stroke-width="1"/>
<circle cx="192.6" cy="577" r="10.7" fill="#f7de64" stroke="none" stroke-width="1"/>
<line x1="61.4" y1="533.8" x2="61.4" y2="637.4" stroke="#444" stroke-width="1"/>
<line x1="58" y1="547" x2="61.4" y2="547" stroke="#444" stroke-width="0.9"/>
<text x="53.6" y="550.99" font-size="10.6" text-anchor="end" fill="#333">0.9</text>
<line x1="58" y1="569.23" x2="61.4" y2="569.23" stroke="#444" stroke-width="0.9"/>
<text x="53.6" y="573.22" font-size="10.6" text-anchor="end" fill="#333">0.8</text>
<line x1="58" y1="591.45" x2="61.4" y2="591.45" stroke="#444" stroke-width="0.9"/>
<text x="53.6" y="595.44" font-size="10.6" text-anchor="end" fill="#333">0.7</text>
<line x1="58" y1="613.67" x2="61.4" y2="613.67" stroke="#444" stroke-width="0.9"/>
<text x="53.6" y="617.67" font-size="10.6" text-anchor="end" fill="#333">0.6</text>
<line x1="58" y1="635.9" x2="61.4" y2="635.9" stroke="#444" stroke-width="0.9"/>
<text x="53.6" y="639.89" font-size="10.6" text-anchor="end" fill="#333">0.5</text>
<line x1="61.4" y1="637.4" x2="198.4" y2="637.4" stroke="#444" stroke-width="1"/>
<line x1="98.78" y1="637.4" x2="98.78" y2="640.8" stroke="#444" stroke-width="0.9"/>
<line x1="130.05" y1="637.4" x2="130.05" y2="640.8" stroke="#444" stroke-width="0.9"/>
<line x1="161.32" y1="637.4" x2="161.32" y2="640.8" stroke="#444" stroke-width="0.9"/>
<line x1="67.5" y1="637.4" x2="67.5" y2="640.8" stroke="#444" stroke-width="0.9"/>
<text x="67.5" y="653.19" font-size="10.6" text-anchor="middle" fill="#333">1.00</text>
<line x1="192.6" y1="637.4" x2="192.6" y2="640.8" stroke="#444" stroke-width="0.9"/>
<text x="192.6" y="653.19" font-size="10.6" text-anchor="middle" fill="#333">1.20</text>
<text x="31.9" y="591.3" font-size="10.8" text-anchor="middle" fill="#1a1a1a" transform="rotate(-90 31.9 591.3)">Frac. correct target choice</text>
<text x="64.5" y="668" font-size="10.9" text-anchor="start" fill="#1a1a1a">Scaling factor of bidirectional</text>
<text x="64.5" y="681.8" font-size="10.9" text-anchor="start" fill="#1a1a1a">SOM-VIP connections</text>
<polyline points="67.5,627.01 98.78,611.45 130.05,610.34 161.32,591.45 192.6,577" fill="none" stroke="#8f8f8f" stroke-width="1.3" stroke-linejoin="round" stroke-linecap="round"/>
<line x1="67.5" y1="619.9" x2="67.5" y2="634.12" stroke="#8f8f8f" stroke-width="1.3"/>
<circle cx="67.5" cy="627.01" r="3.3" fill="#8f8f8f" stroke="none" stroke-width="1"/>
<line x1="98.78" y1="603.67" x2="98.78" y2="619.23" stroke="#8f8f8f" stroke-width="1.3"/>
<circle cx="98.78" cy="611.45" r="3.3" fill="#8f8f8f" stroke="none" stroke-width="1"/>
<line x1="130.05" y1="602.56" x2="130.05" y2="618.12" stroke="#8f8f8f" stroke-width="1.3"/>
<circle cx="130.05" cy="610.34" r="3.3" fill="#8f8f8f" stroke="none" stroke-width="1"/>
<line x1="161.32" y1="580.78" x2="161.32" y2="602.12" stroke="#8f8f8f" stroke-width="1.3"/>
<circle cx="161.32" cy="591.45" r="3.3" fill="#8f8f8f" stroke="none" stroke-width="1"/>
<line x1="192.6" y1="569" x2="192.6" y2="585" stroke="#8f8f8f" stroke-width="1.3"/>
<circle cx="192.6" cy="577" r="3.3" fill="#8f8f8f" stroke="none" stroke-width="1"/>
<line x1="210.6" y1="651" x2="210.6" y2="664.7" stroke="#111" stroke-width="0.9"/>
<line x1="214.5" y1="651" x2="214.5" y2="664.7" stroke="#111" stroke-width="0.9"/>
<circle cx="210.6" cy="653.2" r="1.3" fill="#111" stroke="none" stroke-width="1"/>
<circle cx="214.5" cy="662.5" r="1.3" fill="#111" stroke="none" stroke-width="1"/>
<circle cx="212.6" cy="645" r="7" fill="#0f4a7e" stroke="none" stroke-width="1"/>
<text x="212.6" y="646.79" font-size="5" text-anchor="middle" fill="white" font-weight="bold">VIP</text>
<circle cx="212.6" cy="670.7" r="7" fill="#0f4a7e" stroke="none" stroke-width="1"/>
<text x="212.6" y="672.2" font-size="4.2" text-anchor="middle" fill="white" font-weight="bold">SOM</text>
<rect x="267.4" y="510.9" width="36.6" height="79.7" rx="0" fill="#f5bcd8" stroke="none" stroke-width="1"/>
<text x="282.3" y="551.3" font-size="11" text-anchor="middle" fill="#1a1a1a" transform="rotate(-90 282.3 551.3)">Scale = 1</text>
<text x="296.3" y="548.8" font-size="11.2" text-anchor="middle" fill="#1a1a1a" transform="rotate(-90 296.3 548.8)">(Baseline)</text>
<rect x="266" y="633.1" width="36.1" height="78.9" rx="0" fill="#f9e07a" stroke="none" stroke-width="1"/>
<text x="281.1" y="672.5" font-size="11.2" text-anchor="middle" fill="#1a1a1a" transform="rotate(-90 281.1 672.5)">Scale = 1.2</text>
<text x="295.1" y="670.8" font-size="11.1" text-anchor="middle" fill="#1a1a1a" transform="rotate(-90 295.1 670.8)">(Amplification)</text>
<rect x="312" y="501.2" width="345.4" height="108" rx="0" fill="none" stroke="#f2aacb" stroke-width="1.3"/>
<rect x="312.2" y="615.6" width="345.2" height="108.8" rx="0" fill="none" stroke="#f5d54e" stroke-width="2"/>
<rect x="334.1" y="507.5" width="72.1" height="13" rx="6.5" fill="#dfe4e4" stroke="none" stroke-width="1"/>
<text x="370.15" y="517.01" font-size="8.4" text-anchor="middle" fill="#222">Attend-to-vision</text>
<rect x="414.6" y="507.5" width="73.5" height="13" rx="6.5" fill="#dfe4e4" stroke="none" stroke-width="1"/>
<text x="451.35" y="517.01" font-size="8.4" text-anchor="middle" fill="#222">Attend-to-audition</text>
<line x1="329.4" y1="558.8" x2="329.4" y2="581.5" stroke="#222" stroke-width="1.3"/>
<text x="325.2" y="571.6" font-size="7.2" text-anchor="middle" fill="#1a1a1a" transform="rotate(-90 325.2 571.6)">1 (a.u.)</text>
<line x1="338.3" y1="584.3" x2="404.9" y2="584.3" stroke="#555" stroke-width="0.9"/>
<line x1="418.2" y1="584.3" x2="485.9" y2="584.3" stroke="#555" stroke-width="0.9"/>
<text x="377.5" y="588.5" font-size="7" text-anchor="start" fill="#1a1a1a" transform="rotate(30 377.5 588.5)">delay</text>
<text x="396.5" y="588" font-size="7" text-anchor="start" fill="#1a1a1a" transform="rotate(30 396.5 588)">target</text>
<text x="457.5" y="588.5" font-size="7" text-anchor="start" fill="#1a1a1a" transform="rotate(30 457.5 588.5)">delay</text>
<text x="476.5" y="588" font-size="7" text-anchor="start" fill="#1a1a1a" transform="rotate(30 476.5 588)">target</text>
<polyline points="343.8,569 343.93,568.62 344.09,568.06 344.4,567.48 345,567 345.98,566.66 347.26,566.39 348.66,566.18 350,566 351.2,565.81 352.38,565.64 353.61,565.58 355,565.7 356.63,566.03 358.44,566.52 360.27,567.17 362,568 363.62,569.12 365.19,570.49 366.66,571.87 368,573 368.93,573.81 369.56,574.43 370.41,574.93 372,575.4 374.65,575.83 378.03,576.19 381.64,576.51 385,576.8 388.21,577.14 391.47,577.51 394.36,577.74 396.5,577.7 397.55,577.57 397.81,577.34 397.79,576.62 398,575 398.58,571.92 399.25,567.75 399.92,563.45 400.5,560 400.98,557.58 401.41,555.71 401.75,554.31 402,553.3" fill="none" stroke="#6a4fb5" stroke-width="0.95" stroke-linejoin="round" stroke-linecap="round"/>
<polyline points="343.8,575.4 344.82,575.6 346.28,575.89 348.04,576.21 350,576.5 352.2,576.78 354.66,577.07 357.3,577.32 360,577.5 362.96,577.79 366.15,578.16 369.17,578.19 371.6,577.5 373.19,575.95 374.21,573.75 375.03,571.05 376,568 377.22,564.28 378.5,559.94 379.78,555.62 381,552 382.14,549.17 383.23,546.81 384.3,544.92 385.4,543.5 386.51,542.69 387.63,542.46 388.78,542.49 390,542.5 391.41,542.25 392.94,541.96 394.39,541.98 395.5,542.7 396.12,544.23 396.41,546.36 396.61,548.99 397,552 397.65,555.65 398.43,559.89 399.24,564.19 400,568 400.74,571.36 401.49,574.5 402.14,577.14 402.6,579" fill="none" stroke="#1ab0ea" stroke-width="0.95" stroke-linejoin="round" stroke-linecap="round"/>
<polyline points="343.8,575.4 344.82,575.5 346.28,575.64 348.04,575.81 350,576 352.2,576.22 354.66,576.48 357.3,576.74 360,577 362.96,577.44 366.15,578 369.17,578.31 371.6,578 373.19,576.91 374.21,575.25 375.03,573.22 376,571 377.22,568.41 378.5,565.44 379.78,562.49 381,560 382,558.01 382.85,556.32 383.88,554.98 385.4,554 387.83,553.72 390.88,554.01 393.84,554.25 396,553.8 396.99,552.18 397.26,549.82 397.27,547.51 397.5,546 398.05,545.51 398.68,545.64 399.34,546.19 400,547 400.7,548.29 401.46,550.06 402.13,551.8 402.6,553" fill="none" stroke="#90d0a0" stroke-width="0.95" stroke-linejoin="round" stroke-linecap="round"/>
<polyline points="343.8,571 344.82,571.35 346.28,571.84 348.04,572.42 350,573 352.2,573.62 354.66,574.29 357.3,574.95 360,575.5 362.96,576.1 366.15,576.73 369.17,577.07 371.6,576.8 373.24,575.63 374.34,573.79 375.17,571.76 376,570 376.85,568.47 377.59,566.98 378.28,565.75 379,565 379.68,564.88 380.31,565.25 381.04,565.87 382,566.5 383.27,567.16 384.75,567.94 386.36,568.75 388,569.5 389.77,570.1 391.69,570.62 393.51,571.21 395,572 395.99,573.12 396.65,574.47 397.23,575.83 398,577 399.15,577.96 400.49,578.81 401.74,579.51 402.6,580" fill="none" stroke="#f8a54e" stroke-width="0.95" stroke-linejoin="round" stroke-linecap="round"/>
<polyline points="423.5,568.5 423.69,568.11 423.94,567.53 424.34,566.94 425,566.5 425.98,566.27 427.22,566.16 428.6,566.09 430,566 431.43,565.82 432.94,565.59 434.48,565.45 436,565.5 437.52,565.91 439.06,566.56 440.57,567.19 442,567.5 443.37,567.22 444.69,566.56 445.91,566 447,566 447.84,566.84 448.5,568.22 449.16,569.74 450,571 450.99,571.91 452.06,572.69 453.35,573.37 455,574 457.12,574.58 459.62,575.08 462.31,575.54 465,576 467.89,576.55 471,577.14 473.86,577.59 476,577.7 477.12,577.62 477.53,577.39 477.68,576.64 478,575 478.61,571.92 479.28,567.75 479.93,563.45 480.5,560 480.98,557.58 481.41,555.71 481.75,554.31 482,553.3" fill="none" stroke="#6a4fb5" stroke-width="0.95" stroke-linejoin="round" stroke-linecap="round"/>
<polyline points="423.5,575.4 424.59,575.6 426.12,575.89 427.98,576.21 430,576.5 432.23,576.79 434.72,577.08 437.35,577.34 440,577.5 442.82,577.75 445.81,578.04 448.65,578.02 451,577.3 452.67,575.77 453.88,573.64 454.89,571.01 456,568 457.27,564.3 458.56,559.95 459.82,555.63 461,552 462.05,549.17 463,546.81 463.95,544.92 465,543.5 466.17,542.69 467.41,542.46 468.69,542.49 470,542.5 471.43,542.25 472.97,541.96 474.39,541.98 475.5,542.7 476.12,544.23 476.41,546.36 476.61,548.99 477,552 477.65,555.65 478.43,559.89 479.24,564.19 480,568 480.74,571.36 481.49,574.5 482.14,577.14 482.6,579" fill="none" stroke="#1ab0ea" stroke-width="0.95" stroke-linejoin="round" stroke-linecap="round"/>
<polyline points="423.5,575.4 424.59,575.5 426.12,575.64 427.98,575.81 430,576 432.23,576.23 434.72,576.51 437.35,576.78 440,577 442.82,577.32 445.81,577.72 448.65,577.88 451,577.5 452.67,576.47 453.88,574.97 454.89,573.11 456,571 457.27,568.45 458.56,565.47 459.82,562.5 461,560 461.91,558.01 462.62,556.32 463.53,554.98 465,554 467.48,553.72 470.66,554.01 473.75,554.25 476,553.8 477.02,552.18 477.28,549.82 477.28,547.51 477.5,546 478.05,545.51 478.68,545.64 479.34,546.19 480,547 480.7,548.29 481.46,550.06 482.13,551.8 482.6,553" fill="none" stroke="#90d0a0" stroke-width="0.95" stroke-linejoin="round" stroke-linecap="round"/>
<polyline points="423.5,571 424.59,571.35 426.12,571.84 427.98,572.42 430,573 432.23,573.63 434.72,574.33 437.35,574.99 440,575.5 442.82,575.94 445.81,576.33 448.65,576.48 451,576.2 452.7,575.28 453.94,573.86 454.96,572.32 456,571 457.02,569.89 457.94,568.83 458.88,567.98 460,567.5 461.36,567.51 462.88,567.91 464.45,568.47 466,569 467.55,569.46 469.12,569.97 470.64,570.49 472,571 473.16,571.45 474.19,571.88 475.12,572.36 476,573 476.81,573.88 477.53,574.94 478.23,576.02 479,577 479.94,577.89 480.99,578.75 481.94,579.48 482.6,580" fill="none" stroke="#f8a54e" stroke-width="0.95" stroke-linejoin="round" stroke-linecap="round"/>
<rect x="332.7" y="632.2" width="72.7" height="13.3" rx="6.65" fill="#dfe4e4" stroke="none" stroke-width="1"/>
<text x="369.05" y="641.86" font-size="8.4" text-anchor="middle" fill="#222">Attend-to-vision</text>
<rect x="413.7" y="632.2" width="73" height="13.3" rx="6.65" fill="#dfe4e4" stroke="none" stroke-width="1"/>
<text x="450.2" y="641.86" font-size="8.4" text-anchor="middle" fill="#222">Attend-to-audition</text>
<line x1="326.6" y1="684.9" x2="326.6" y2="708.5" stroke="#222" stroke-width="1.3"/>
<text x="322.4" y="696.9" font-size="7.2" text-anchor="middle" fill="#1a1a1a" transform="rotate(-90 322.4 696.9)">1 (a.u.)</text>
<line x1="338.3" y1="708.5" x2="404.9" y2="708.5" stroke="#555" stroke-width="0.9"/>
<line x1="418.2" y1="708.5" x2="485.9" y2="708.5" stroke="#555" stroke-width="0.9"/>
<text x="376" y="712.8" font-size="7" text-anchor="start" fill="#1a1a1a" transform="rotate(30 376 712.8)">delay</text>
<text x="394.5" y="712.3" font-size="7" text-anchor="start" fill="#1a1a1a" transform="rotate(30 394.5 712.3)">target</text>
<text x="456.5" y="712.8" font-size="7" text-anchor="start" fill="#1a1a1a" transform="rotate(30 456.5 712.8)">delay</text>
<text x="475" y="712.3" font-size="7" text-anchor="start" fill="#1a1a1a" transform="rotate(30 475 712.3)">target</text>
<polyline points="339.3,693 339.42,692.52 339.59,691.81 339.79,691.2 340,691 340.16,691.5 340.29,692.46 340.53,693.44 341,694 341.65,693.92 342.44,693.46 343.51,692.94 345,692.7 347.02,692.81 349.47,693.11 352.19,693.53 355,694 358.11,694.63 361.54,695.42 364.79,696.13 367.4,696.5 369.05,696.38 370.07,695.94 370.9,695.4 372,695 373.56,694.75 375.32,694.53 377.04,694.43 378.5,694.5 379.59,694.78 380.44,695.24 381.2,695.82 382,696.5 382.71,697.4 383.31,698.49 384.1,699.51 385.4,700.2 387.56,700.65 390.34,700.96 393.09,700.83 395.2,700 396.39,698.46 397.04,696.34 397.47,693.55 398,690 398.75,684.89 399.52,678.52 400.22,672.47 400.7,668.3" fill="none" stroke="#6a4fb5" stroke-width="0.95" stroke-linejoin="round" stroke-linecap="round"/>
<polyline points="339.3,700 340.22,700.19 341.53,700.47 343.14,700.76 345,701 347.15,701.18 349.61,701.34 352.26,701.46 355,701.5 357.98,701.6 361.19,701.72 364.3,701.61 367,701 369.12,699.96 370.88,698.59 372.44,696.68 374,694 375.58,690.09 377.1,685.19 378.57,680.2 380,676 381.41,672.73 382.79,669.94 384.12,667.68 385.4,666 386.64,665.1 387.84,664.88 388.97,664.98 390,665 390.91,664.6 391.71,664.07 392.46,663.98 393.2,664.9 393.92,666.94 394.59,669.8 395.27,673.49 396,678 396.87,684.26 397.82,691.97 398.7,699.26 399.3,704.3" fill="none" stroke="#1ab0ea" stroke-width="0.95" stroke-linejoin="round" stroke-linecap="round"/>
<polyline points="339.3,700 340.22,700.09 341.53,700.22 343.14,700.36 345,700.5 347.15,700.64 349.61,700.78 352.26,700.91 355,701 357.98,701.13 361.19,701.28 364.3,701.29 367,701 369.12,700.47 370.88,699.75 372.44,698.66 374,697 375.58,694.49 377.1,691.29 378.57,687.96 380,685 381.34,682.4 382.59,679.92 383.9,677.81 385.4,676.3 387.35,675.86 389.59,676.23 391.69,676.56 393.2,676 393.82,673.9 393.84,670.86 393.74,667.88 394,666 394.78,665.52 395.8,665.88 396.93,666.8 398,668 399.09,669.77 400.25,672.12 401.28,674.42 402,676" fill="none" stroke="#90d0a0" stroke-width="0.95" stroke-linejoin="round" stroke-linecap="round"/>
<polyline points="339.3,695 340.22,695.28 341.53,695.69 343.14,696.12 345,696.5 347.15,696.8 349.61,697.06 352.26,697.3 355,697.5 358.07,697.81 361.44,698.19 364.59,698.34 367,698 368.36,697.02 369,695.56 369.39,693.83 370,692 370.96,689.9 372.03,687.49 373.07,685.22 374,683.5 374.75,682.46 375.4,681.87 376,681.62 376.6,681.6 377.18,681.72 377.71,682.06 378.29,682.76 379,684 379.93,686.1 381,688.89 382.07,691.73 383,694 383.54,695.51 383.85,696.61 384.33,697.45 385.4,698.2 387.4,698.74 390.04,699.05 392.75,699.38 395,700 396.69,701.14 398.1,702.61 399.21,704.03 400,705" fill="none" stroke="#f8a54e" stroke-width="0.95" stroke-linejoin="round" stroke-linecap="round"/>
<polyline points="419.3,692 419.42,691.5 419.59,690.75 419.79,690.12 420,690 420.16,690.7 420.29,691.94 420.53,693.21 421,694 421.65,694.08 422.44,693.75 423.51,693.3 425,693 427.01,692.95 429.44,693 432.16,693.05 435,693 438.23,692.89 441.82,692.75 445.23,692.48 447.9,692 449.54,691.16 450.49,690.06 451.17,688.93 452,688 453.01,687.48 453.99,687.19 455.04,686.8 456.2,686 457.52,684.57 458.94,682.74 460.45,680.78 462,679 463.67,677.22 465.44,675.36 467.17,673.88 468.7,673.2 469.95,673.44 471.02,674.38 472,675.92 473,678 474.04,681.23 475.08,685.44 476.08,689.38 477,691.8 477.83,692.12 478.59,691.09 479.31,689.47 480,688 480.72,686.66 481.44,685.11 482.06,683.69 482.5,682.7" fill="none" stroke="#6a4fb5" stroke-width="0.95" stroke-linejoin="round" stroke-linecap="round"/>
<polyline points="419.3,700 421.02,700.11 423.45,700.28 426.48,700.43 430,700.5 434.52,700.55 439.91,700.59 445.14,700.46 449.2,700 451.54,699.25 452.79,698.27 453.7,696.91 455,695 456.94,691.96 459.11,688.06 461.25,684.4 463.1,682.1 464.52,681.66 465.67,682.41 466.76,683.73 468,685 469.51,686.12 471.17,687.41 472.79,688.84 474.2,690.4 475.3,692.16 476.21,694.1 477.06,696.09 478,698 479.18,699.96 480.49,701.98 481.68,703.76 482.5,705" fill="none" stroke="#1ab0ea" stroke-width="0.95" stroke-linejoin="round" stroke-linecap="round"/>
<polyline points="419.3,700 421.02,700.11 423.45,700.28 426.48,700.43 430,700.5 434.52,700.6 439.91,700.72 445.14,700.61 449.2,700 451.54,698.89 452.79,697.41 453.7,695.46 455,693 456.94,689.44 459.11,685 461.25,680.81 463.1,678 464.45,677.01 465.49,677.19 466.56,678.03 468,679 470.04,680.34 472.46,682.19 474.9,683.93 477,684.9 478.75,684.73 480.31,683.82 481.59,682.73 482.5,682" fill="none" stroke="#90d0a0" stroke-width="0.95" stroke-linejoin="round" stroke-linecap="round"/>
<polyline points="419.3,694 421.05,694.14 423.53,694.34 426.57,694.5 430,694.5 434.29,694.37 439.36,694.16 444.23,693.74 447.9,693 449.89,691.72 450.81,690.04 451.29,688.33 452,687 452.98,686.09 453.93,685.4 454.96,684.99 456.2,684.9 457.78,685.17 459.61,685.78 461.45,686.64 463.1,687.7 464.44,689.03 465.59,690.64 466.73,692.35 468,694 469.41,695.75 470.89,697.63 472.47,699.24 474.2,700.2 476.32,700.19 478.74,699.49 480.96,698.59 482.5,698" fill="none" stroke="#f8a54e" stroke-width="0.95" stroke-linejoin="round" stroke-linecap="round"/>
<path d="M553.6 573.8 L553.6 594.3 L573.8 594.3" fill="none" stroke="#222" stroke-width="1.5" stroke-linejoin="miter"/>
<text x="547" y="586.8" font-size="6.6" text-anchor="middle" fill="#222" transform="rotate(-90 547 586.8)">PC<tspan font-size="4.5" dy="1.5">2</tspan></text>
<text x="564.5" y="603" font-size="6.6" text-anchor="middle" fill="#222">PC<tspan font-size="4.5" dy="1.5">1</tspan></text>
<polyline points="549.07,537.67 550.54,537.09 552.53,536.3 554.91,535.36 557.55,534.31 560.33,533.22 563.12,532.12 565.99,530.93 569.04,529.57 572.22,528.16 575.51,526.82 578.85,525.66 582.2,524.8 585.58,524.22 589.03,523.82 592.53,523.61 596.07,523.57 599.64,523.71 603.22,524.02 606.88,524.56 610.64,525.32 614.42,526.27 618.16,527.33 621.77,528.45 625.17,529.57 628.43,530.77 631.63,532.1 634.69,533.49 637.58,534.87 640.23,536.16 642.59,537.29 644.67,538.28 646.53,539.21 648.15,540.04 649.53,540.77 650.66,541.38 651.54,541.84" fill="none" stroke="#8c8c8c" stroke-width="0.7" stroke-linejoin="round" stroke-linecap="round"/>
<polyline points="549.56,537.12 551.06,536.5 553.09,535.66 555.52,534.66 558.22,533.54 561.07,532.37 563.93,531.2 566.87,529.92 570.01,528.47 573.28,526.95 576.66,525.51 580.08,524.26 583.49,523.33 586.92,522.69 590.41,522.24 593.95,521.98 597.52,521.92 601.1,522.05 604.68,522.37 608.31,522.93 612.03,523.74 615.76,524.74 619.43,525.88 622.97,527.08 626.3,528.29 629.48,529.58 632.58,531.02 635.54,532.53 638.32,534.02 640.87,535.42 643.15,536.64 645.17,537.72 646.96,538.72 648.52,539.62 649.85,540.41 650.94,541.07 651.78,541.56" fill="none" stroke="#8c8c8c" stroke-width="0.7" stroke-linejoin="round" stroke-linecap="round"/>
<polyline points="554.02,542.93 555.83,542.71 558.27,542.4 561.19,542.04 564.45,541.65 567.89,541.26 571.36,540.89 575,540.51 578.93,540.09 583.04,539.67 587.23,539.29 591.38,538.99 595.38,538.82 599.29,538.8 603.19,538.88 607.05,539.06 610.85,539.28 614.52,539.54 618.06,539.8 621.48,540.09 624.83,540.42 628.07,540.79 631.16,541.16 634.05,541.52 636.71,541.85 639.13,542.14 641.33,542.43 643.34,542.7 645.18,542.95 646.84,543.2 648.35,543.42 649.71,543.64 650.89,543.85 651.91,544.04 652.77,544.22 653.46,544.36 654.01,544.47" fill="none" stroke="#8c8c8c" stroke-width="0.7" stroke-linejoin="round" stroke-linecap="round"/>
<polyline points="552.88,542.02 554.61,541.73 556.95,541.34 559.74,540.88 562.86,540.37 566.15,539.85 569.47,539.36 572.92,538.84 576.65,538.26 580.55,537.66 584.53,537.11 588.5,536.67 592.35,536.38 596.13,536.26 599.93,536.26 603.71,536.36 607.45,536.54 611.1,536.78 614.64,537.05 618.12,537.38 621.56,537.79 624.93,538.26 628.17,538.75 631.23,539.24 634.05,539.71 636.67,540.16 639.1,540.63 641.35,541.09 643.43,541.54 645.32,541.97 647.03,542.35 648.55,542.71 649.89,543.04 651.04,543.35 652.02,543.62 652.82,543.84 653.44,544.01" fill="none" stroke="#8c8c8c" stroke-width="0.7" stroke-linejoin="round" stroke-linecap="round"/>
<polyline points="549.57,539.4 551.08,538.93 553.11,538.3 555.54,537.54 558.25,536.71 561.09,535.85 563.96,534.99 566.9,534.06 570.04,533.01 573.32,531.93 576.69,530.9 580.11,530.02 583.53,529.39 586.96,528.99 590.46,528.75 594,528.66 597.57,528.71 601.15,528.89 604.72,529.19 608.36,529.64 612.07,530.26 615.8,531.02 619.47,531.85 623.01,532.73 626.34,533.59 629.52,534.49 632.61,535.48 635.57,536.5 638.35,537.51 640.9,538.46 643.17,539.29 645.18,540.03 646.97,540.73 648.53,541.35 649.86,541.9 650.94,542.35 651.79,542.7" fill="none" stroke="#8c8c8c" stroke-width="0.7" stroke-linejoin="round" stroke-linecap="round"/>
<polyline points="551.01,541.28 552.61,540.95 554.78,540.49 557.37,539.94 560.25,539.34 563.29,538.73 566.35,538.13 569.52,537.5 572.91,536.78 576.46,536.05 580.1,535.37 583.76,534.8 587.36,534.42 590.95,534.22 594.58,534.15 598.22,534.2 601.86,534.34 605.47,534.57 609.03,534.84 612.6,535.21 616.2,535.68 619.77,536.22 623.25,536.81 626.58,537.41 629.69,537.99 632.62,538.57 635.43,539.18 638.08,539.8 640.55,540.41 642.82,540.98 644.85,541.49 646.65,541.96 648.24,542.39 649.62,542.79 650.8,543.13 651.76,543.42 652.51,543.64" fill="none" stroke="#8c8c8c" stroke-width="0.7" stroke-linejoin="round" stroke-linecap="round"/>
<polyline points="553.61,538.53 555.39,538 557.79,537.29 560.67,536.44 563.87,535.5 567.25,534.52 570.68,533.55 574.24,532.49 578.1,531.28 582.14,530.03 586.25,528.85 590.33,527.83 594.28,527.08 598.14,526.58 602.01,526.27 605.84,526.12 609.61,526.12 613.28,526.28 616.82,526.59 620.26,527.08 623.64,527.78 626.93,528.63 630.07,529.58 633.03,530.57 635.75,531.57 638.23,532.62 640.52,533.78 642.62,534.99 644.54,536.18 646.29,537.3 647.87,538.28 649.29,539.15 650.53,539.96 651.6,540.69 652.49,541.33 653.23,541.86 653.8,542.26" fill="none" stroke="#8c8c8c" stroke-width="0.7" stroke-linejoin="round" stroke-linecap="round"/>
<polyline points="553.92,538.79 555.73,538.29 558.16,537.6 561.07,536.78 564.31,535.87 567.74,534.92 571.21,533.99 574.83,532.97 578.74,531.81 582.83,530.61 587.01,529.47 591.14,528.49 595.13,527.78 599.02,527.32 602.92,527.02 606.78,526.89 610.56,526.91 614.24,527.08 617.77,527.38 621.2,527.86 624.56,528.53 627.81,529.35 630.91,530.27 633.82,531.23 636.49,532.18 638.92,533.19 641.15,534.3 643.18,535.45 645.03,536.59 646.72,537.66 648.25,538.59 649.61,539.42 650.81,540.19 651.84,540.89 652.7,541.51 653.41,542.01 653.96,542.4" fill="none" stroke="#8c8c8c" stroke-width="0.7" stroke-linejoin="round" stroke-linecap="round"/>
<polyline points="553.47,542.66 555.24,542.42 557.63,542.08 560.49,541.69 563.68,541.26 567.05,540.83 570.45,540.43 574,540.01 577.83,539.54 581.84,539.06 585.93,538.63 589.99,538.29 593.92,538.08 597.76,538.03 601.62,538.09 605.44,538.24 609.2,538.46 612.87,538.71 616.41,538.97 619.86,539.27 623.25,539.63 626.56,540.02 629.71,540.43 632.69,540.83 635.43,541.2 637.94,541.54 640.25,541.88 642.38,542.21 644.33,542.53 646.11,542.83 647.71,543.1 649.15,543.36 650.41,543.6 651.49,543.83 652.41,544.03 653.15,544.2 653.73,544.33" fill="none" stroke="#8c8c8c" stroke-width="0.7" stroke-linejoin="round" stroke-linecap="round"/>
<polyline points="553.41,541.96 555.18,541.67 557.56,541.28 560.42,540.81 563.6,540.29 566.96,539.77 570.35,539.27 573.89,538.74 577.71,538.15 581.71,537.54 585.79,536.99 589.84,536.53 593.76,536.24 597.6,536.11 601.45,536.1 605.27,536.2 609.03,536.38 612.7,536.62 616.23,536.89 619.68,537.22 623.09,537.64 626.39,538.11 629.56,538.61 632.54,539.11 635.29,539.58 637.81,540.04 640.14,540.52 642.28,541 644.24,541.46 646.03,541.9 647.65,542.29 649.09,542.65 650.36,542.99 651.45,543.31 652.37,543.58 653.12,543.81 653.71,543.98" fill="none" stroke="#8c8c8c" stroke-width="0.7" stroke-linejoin="round" stroke-linecap="round"/>
<polyline points="551.21,541.63 552.83,541.31 555.01,540.89 557.62,540.38 560.53,539.82 563.59,539.26 566.68,538.71 569.88,538.13 573.31,537.47 576.9,536.81 580.57,536.19 584.26,535.68 587.89,535.34 591.5,535.17 595.14,535.14 598.8,535.21 602.45,535.38 606.07,535.61 609.63,535.88 613.18,536.23 616.77,536.67 620.32,537.18 623.77,537.72 627.07,538.27 630.16,538.79 633.05,539.31 635.82,539.86 638.43,540.41 640.86,540.94 643.08,541.45 645.08,541.9 646.85,542.31 648.41,542.69 649.77,543.05 650.93,543.36 651.87,543.62 652.6,543.81" fill="none" stroke="#8c8c8c" stroke-width="0.7" stroke-linejoin="round" stroke-linecap="round"/>
<polyline points="551.28,541.55 552.9,541.23 555.09,540.79 557.71,540.28 560.62,539.71 563.7,539.13 566.8,538.58 570,537.98 573.45,537.31 577.05,536.63 580.73,536 584.43,535.47 588.07,535.12 591.69,534.95 595.34,534.91 599,534.98 602.66,535.14 606.28,535.36 609.83,535.64 613.39,535.99 616.96,536.44 620.51,536.95 623.95,537.51 627.24,538.07 630.32,538.61 633.2,539.14 635.95,539.7 638.55,540.27 640.96,540.82 643.18,541.34 645.16,541.8 646.92,542.23 648.47,542.62 649.83,542.99 650.97,543.31 651.91,543.57 652.64,543.77" fill="none" stroke="#8c8c8c" stroke-width="0.7" stroke-linejoin="round" stroke-linecap="round"/>
<polyline points="552.25,542.65 553.94,542.4 556.22,542.07 558.95,541.68 561.98,541.25 565.19,540.82 568.42,540.41 571.78,539.99 575.4,539.52 579.18,539.04 583.05,538.61 586.91,538.26 590.68,538.06 594.4,538 598.14,538.06 601.87,538.21 605.58,538.43 609.22,538.68 612.76,538.94 616.27,539.24 619.77,539.6 623.2,539.99 626.52,540.4 629.67,540.81 632.59,541.18 635.31,541.52 637.87,541.86 640.26,542.19 642.47,542.51 644.48,542.81 646.3,543.09 647.91,543.35 649.34,543.6 650.57,543.83 651.61,544.03 652.46,544.2 653.13,544.32" fill="none" stroke="#8c8c8c" stroke-width="0.7" stroke-linejoin="round" stroke-linecap="round"/>
<polyline points="553.1,538.94 554.85,538.45 557.21,537.77 560.03,536.97 563.17,536.08 566.49,535.15 569.84,534.24 573.33,533.24 577.1,532.11 581.04,530.94 585.06,529.83 589.06,528.87 592.95,528.18 596.75,527.73 600.57,527.45 604.37,527.33 608.11,527.36 611.77,527.53 615.31,527.83 618.78,528.3 622.21,528.96 625.55,529.77 628.76,530.66 631.78,531.6 634.58,532.53 637.15,533.51 639.54,534.59 641.75,535.71 643.77,536.82 645.62,537.86 647.29,538.77 648.78,539.57 650.09,540.33 651.21,541.01 652.17,541.6 652.95,542.1 653.55,542.47" fill="none" stroke="#8c8c8c" stroke-width="0.7" stroke-linejoin="round" stroke-linecap="round"/>
<polyline points="549.14,541.82 550.61,541.52 552.61,541.11 554.99,540.62 557.64,540.09 560.43,539.55 563.23,539.03 566.11,538.48 569.17,537.86 572.37,537.23 575.66,536.64 579.01,536.16 582.37,535.85 585.76,535.7 589.21,535.69 592.72,535.78 596.27,535.95 599.84,536.18 603.42,536.45 607.07,536.79 610.82,537.22 614.6,537.7 618.33,538.22 621.93,538.74 625.32,539.24 628.58,539.73 631.75,540.23 634.81,540.74 637.68,541.24 640.31,541.7 642.66,542.12 644.74,542.5 646.59,542.86 648.2,543.19 649.57,543.49 650.7,543.73 651.57,543.91" fill="none" stroke="#8c8c8c" stroke-width="0.7" stroke-linejoin="round" stroke-linecap="round"/>
<polyline points="550.93,539.33 552.53,538.87 554.69,538.23 557.27,537.47 560.14,536.63 563.17,535.75 566.22,534.89 569.38,533.95 572.76,532.89 576.29,531.8 579.92,530.76 583.56,529.87 587.16,529.23 590.73,528.82 594.35,528.58 597.99,528.48 601.63,528.53 605.24,528.71 608.8,529 612.37,529.46 615.98,530.09 619.56,530.85 623.05,531.7 626.39,532.58 629.51,533.45 632.46,534.36 635.28,535.36 637.95,536.4 640.43,537.42 642.71,538.38 644.76,539.22 646.57,539.97 648.17,540.67 649.56,541.31 650.75,541.86 651.72,542.32 652.47,542.67" fill="none" stroke="#8c8c8c" stroke-width="0.7" stroke-linejoin="round" stroke-linecap="round"/>
<polyline points="552.34,541.71 554.03,541.4 556.32,540.98 559.05,540.48 562.1,539.94 565.32,539.38 568.56,538.85 571.93,538.28 575.56,537.64 579.36,536.99 583.24,536.38 587.12,535.89 590.9,535.56 594.62,535.4 598.37,535.38 602.11,535.46 605.82,535.62 609.46,535.85 613.01,536.13 616.51,536.47 620,536.9 623.43,537.4 626.74,537.94 629.87,538.47 632.79,538.99 635.49,539.49 638.03,540.02 640.4,540.55 642.59,541.07 644.59,541.56 646.39,541.99 648,542.39 649.41,542.77 650.63,543.11 651.66,543.41 652.51,543.67 653.17,543.85" fill="none" stroke="#8c8c8c" stroke-width="0.7" stroke-linejoin="round" stroke-linecap="round"/>
<polyline points="553.02,539.06 554.76,538.57 557.11,537.9 559.92,537.11 563.05,536.24 566.36,535.33 569.7,534.43 573.17,533.45 576.93,532.33 580.85,531.18 584.86,530.09 588.84,529.16 592.72,528.48 596.51,528.05 600.32,527.78 604.12,527.66 607.86,527.7 611.51,527.87 615.05,528.17 618.52,528.63 621.96,529.29 625.31,530.08 628.53,530.96 631.57,531.88 634.38,532.8 636.96,533.76 639.37,534.81 641.59,535.91 643.64,536.99 645.5,538.01 647.19,538.9 648.69,539.69 650.01,540.43 651.15,541.09 652.11,541.68 652.9,542.16 653.51,542.53" fill="none" stroke="#8c8c8c" stroke-width="0.7" stroke-linejoin="round" stroke-linecap="round"/>
<polyline points="552.25,539.92 553.94,539.49 556.22,538.9 558.94,538.21 561.98,537.44 565.19,536.64 568.42,535.86 571.78,535.01 575.39,534.05 579.18,533.07 583.04,532.13 586.9,531.34 590.67,530.78 594.39,530.43 598.13,530.24 601.86,530.19 605.57,530.27 609.21,530.46 612.76,530.75 616.26,531.18 619.76,531.76 623.2,532.46 626.51,533.22 629.66,534.02 632.59,534.8 635.31,535.62 637.86,536.5 640.25,537.42 642.46,538.32 644.48,539.16 646.29,539.9 647.91,540.56 649.33,541.19 650.57,541.75 651.61,542.24 652.46,542.65 653.13,542.96" fill="none" stroke="#8c8c8c" stroke-width="0.7" stroke-linejoin="round" stroke-linecap="round"/>
<polyline points="552.31,540.55 554,540.17 556.28,539.64 559.02,539.01 562.06,538.33 565.27,537.62 568.51,536.92 571.88,536.17 575.51,535.33 579.3,534.46 583.18,533.64 587.05,532.96 590.82,532.47 594.55,532.2 598.29,532.06 602.03,532.06 605.74,532.17 609.38,532.37 612.93,532.66 616.43,533.06 619.92,533.59 623.35,534.21 626.66,534.9 629.8,535.6 632.72,536.29 635.43,536.99 637.98,537.75 640.35,538.53 642.55,539.29 644.55,540.01 646.36,540.64 647.97,541.21 649.38,541.75 650.61,542.23 651.65,542.66 652.49,543.01 653.15,543.28" fill="none" stroke="#8c8c8c" stroke-width="0.7" stroke-linejoin="round" stroke-linecap="round"/>
<polyline points="552.2,541.9 553.89,541.61 556.16,541.21 558.89,540.73 561.92,540.21 565.11,539.68 568.34,539.17 571.69,538.64 575.3,538.03 579.07,537.42 582.93,536.85 586.78,536.38 590.55,536.08 594.26,535.94 597.99,535.94 601.73,536.03 605.43,536.21 609.07,536.44 612.61,536.71 616.12,537.05 619.62,537.47 623.07,537.94 626.39,538.45 629.55,538.96 632.48,539.44 635.2,539.92 637.77,540.4 640.17,540.89 642.39,541.37 644.42,541.82 646.24,542.22 647.86,542.59 649.29,542.94 650.53,543.26 651.58,543.54 652.44,543.78 653.1,543.95" fill="none" stroke="#8c8c8c" stroke-width="0.7" stroke-linejoin="round" stroke-linecap="round"/>
<polyline points="550.13,537.82 551.67,537.24 553.75,536.47 556.24,535.54 559.02,534.51 561.94,533.43 564.88,532.36 567.91,531.19 571.14,529.86 574.53,528.47 578,527.16 581.52,526.02 585.01,525.18 588.5,524.61 592.04,524.23 595.62,524.03 599.22,524 602.81,524.14 606.38,524.45 609.99,524.98 613.66,525.73 617.33,526.66 620.93,527.7 624.38,528.8 627.63,529.91 630.71,531.08 633.69,532.38 636.53,533.74 639.2,535.09 641.64,536.35 643.81,537.45 645.74,538.43 647.46,539.33 648.95,540.15 650.22,540.87 651.26,541.46 652.06,541.91" fill="none" stroke="#8c8c8c" stroke-width="0.7" stroke-linejoin="round" stroke-linecap="round"/>
<polyline points="553.87,542.09 555.67,541.81 558.09,541.42 561,540.97 564.24,540.47 567.66,539.96 571.11,539.48 574.72,538.97 578.63,538.4 582.71,537.82 586.87,537.28 591,536.85 594.98,536.57 598.87,536.45 602.76,536.46 606.61,536.57 610.4,536.75 614.07,536.99 617.6,537.26 621.03,537.59 624.4,537.99 627.66,538.45 630.76,538.93 633.68,539.42 636.36,539.87 638.8,540.31 641.04,540.76 643.08,541.22 644.95,541.65 646.64,542.06 648.18,542.44 649.56,542.78 650.76,543.1 651.8,543.4 652.67,543.66 653.38,543.88 653.93,544.04" fill="none" stroke="#8c8c8c" stroke-width="0.7" stroke-linejoin="round" stroke-linecap="round"/>
<polyline points="549.86,542.85 551.39,542.62 553.45,542.3 555.91,541.93 558.65,541.53 561.53,541.12 564.44,540.74 567.43,540.35 570.61,539.92 573.95,539.48 577.38,539.08 580.85,538.77 584.3,538.59 587.77,538.56 591.29,538.63 594.85,538.8 598.43,539.02 602.02,539.28 605.59,539.54 609.21,539.83 612.9,540.17 616.6,540.55 620.23,540.93 623.73,541.3 627.01,541.64 630.14,541.95 633.18,542.25 636.07,542.54 638.79,542.82 641.28,543.08 643.51,543.32 645.48,543.55 647.22,543.77 648.75,543.98 650.05,544.16 651.11,544.31 651.93,544.42" fill="none" stroke="#8c8c8c" stroke-width="0.7" stroke-linejoin="round" stroke-linecap="round"/>
<polyline points="549.08,540.36 550.55,539.96 552.54,539.42 554.92,538.77 557.56,538.05 560.34,537.32 563.14,536.6 566,535.82 569.05,534.94 572.24,534.03 575.53,533.18 578.87,532.46 582.22,531.95 585.6,531.66 589.05,531.51 592.55,531.49 596.1,531.59 599.67,531.79 603.25,532.07 606.9,532.48 610.66,533.03 614.45,533.67 618.18,534.38 621.79,535.12 625.19,535.83 628.45,536.57 631.64,537.37 634.71,538.19 637.59,538.99 640.24,539.75 642.6,540.42 644.68,541.01 646.54,541.57 648.16,542.08 649.54,542.53 650.67,542.9 651.54,543.18" fill="none" stroke="#8c8c8c" stroke-width="0.7" stroke-linejoin="round" stroke-linecap="round"/>
<polyline points="552.88,540.97 554.61,540.61 556.95,540.13 559.74,539.55 562.86,538.91 566.14,538.25 569.46,537.62 572.92,536.94 576.65,536.16 580.55,535.37 584.53,534.63 588.49,534.02 592.34,533.59 596.12,533.36 599.92,533.26 603.71,533.29 607.44,533.42 611.09,533.63 614.64,533.91 618.11,534.29 621.56,534.79 624.92,535.37 628.16,536 631.22,536.64 634.05,537.27 636.66,537.9 639.09,538.57 641.35,539.26 643.42,539.94 645.32,540.57 647.02,541.13 648.55,541.64 649.89,542.12 651.04,542.55 652.02,542.93 652.82,543.25 653.44,543.49" fill="none" stroke="#8c8c8c" stroke-width="0.7" stroke-linejoin="round" stroke-linecap="round"/>
<polyline points="556.62,549.71 558.44,549.11 560.92,548.3 563.87,547.33 567.12,546.27 570.49,545.19 573.77,544.14 577.01,543.03 580.36,541.79 583.81,540.53 587.38,539.34 591.09,538.31 594.93,537.56 599.01,537.1 603.35,536.85 607.82,536.77 612.29,536.82 616.65,536.96 620.77,537.14 624.77,537.4 628.76,537.79 632.63,538.27 636.28,538.79 639.59,539.31 642.46,539.78 644.89,540.25 646.94,540.76 648.67,541.27 650.09,541.74 651.24,542.14 652.15,542.43" fill="none" stroke="#8c8c8c" stroke-width="0.7" stroke-linejoin="round" stroke-linecap="round"/>
<polyline points="562.04,549.01 564.01,548.4 566.69,547.56 569.89,546.56 573.4,545.47 577.02,544.35 580.55,543.26 584.05,542.12 587.69,540.85 591.43,539.55 595.26,538.32 599.15,537.28 603.06,536.52 607.09,536.06 611.28,535.83 615.53,535.78 619.72,535.87 623.77,536.04 627.55,536.26 631.17,536.58 634.73,537.02 638.14,537.56 641.3,538.14 644.13,538.72 646.53,539.26 648.47,539.79 650.01,540.37 651.21,540.94 652.15,541.48 652.89,541.93 653.51,542.25" fill="none" stroke="#8c8c8c" stroke-width="0.7" stroke-linejoin="round" stroke-linecap="round"/>
<polyline points="556.39,548.31 558.21,547.67 560.68,546.81 563.63,545.78 566.86,544.65 570.21,543.5 573.49,542.38 576.72,541.21 580.05,539.9 583.49,538.56 587.06,537.3 590.75,536.23 594.59,535.46 598.68,535.01 603.02,534.8 607.5,534.78 611.99,534.9 616.36,535.12 620.49,535.38 624.5,535.74 628.51,536.24 632.4,536.84 636.07,537.49 639.4,538.13 642.3,538.73 644.74,539.33 646.82,539.97 648.56,540.61 650,541.21 651.17,541.71 652.1,542.08" fill="none" stroke="#8c8c8c" stroke-width="0.7" stroke-linejoin="round" stroke-linecap="round"/>
<polyline points="558.64,549.95 560.51,549.36 563.07,548.56 566.11,547.6 569.46,546.56 572.92,545.48 576.29,544.44 579.63,543.34 583.08,542.12 586.64,540.87 590.31,539.69 594.08,538.68 597.95,537.93 602.02,537.46 606.3,537.21 610.69,537.12 615.06,537.16 619.3,537.28 623.29,537.44 627.15,537.69 630.98,538.06 634.68,538.51 638.14,539.01 641.28,539.51 643.98,539.96 646.22,540.41 648.08,540.9 649.61,541.38 650.85,541.83 651.85,542.21 652.66,542.49" fill="none" stroke="#8c8c8c" stroke-width="0.7" stroke-linejoin="round" stroke-linecap="round"/>
<polyline points="558.42,551.08 560.29,550.52 562.83,549.76 565.87,548.85 569.2,547.86 572.65,546.84 576.02,545.85 579.35,544.8 582.78,543.64 586.34,542.45 589.99,541.32 593.76,540.35 597.62,539.62 601.69,539.14 605.98,538.85 610.37,538.72 614.76,538.7 619.01,538.75 623.02,538.85 626.89,539.02 630.74,539.3 634.45,539.66 637.94,540.05 641.09,540.45 643.81,540.81 646.07,541.16 647.96,541.53 649.51,541.91 650.77,542.26 651.79,542.56 652.6,542.77" fill="none" stroke="#8c8c8c" stroke-width="0.7" stroke-linejoin="round" stroke-linecap="round"/>
<polyline points="557.8,551.01 559.66,550.45 562.18,549.69 565.19,548.78 568.5,547.78 571.91,546.76 575.25,545.76 578.55,544.72 581.96,543.55 585.47,542.36 589.1,541.23 592.85,540.25 596.71,539.51 600.78,539.04 605.08,538.75 609.5,538.62 613.92,538.61 618.21,538.66 622.25,538.76 626.17,538.94 630.06,539.22 633.83,539.59 637.37,539.99 640.58,540.39 643.35,540.76 645.67,541.11 647.61,541.5 649.22,541.88 650.54,542.24 651.6,542.54 652.45,542.75" fill="none" stroke="#8c8c8c" stroke-width="0.7" stroke-linejoin="round" stroke-linecap="round"/>
<polyline points="560.74,555.75 562.68,555.32 565.31,554.73 568.45,554.04 571.9,553.27 575.46,552.47 578.93,551.69 582.37,550.87 585.93,549.96 589.61,549.02 593.38,548.12 597.22,547.3 601.12,546.63 605.16,546.1 609.38,545.69 613.68,545.36 617.95,545.1 622.06,544.88 625.93,544.69 629.64,544.53 633.3,544.45 636.82,544.4 640.1,544.38 643.04,544.36 645.56,544.31 647.61,544.25 649.27,544.17 650.6,544.1 651.65,544.03 652.49,543.98 653.19,543.94" fill="none" stroke="#8c8c8c" stroke-width="0.7" stroke-linejoin="round" stroke-linecap="round"/>
<polyline points="557.69,554.24 559.54,553.77 562.05,553.13 565.06,552.36 568.36,551.52 571.77,550.65 575.11,549.8 578.4,548.91 581.8,547.92 585.31,546.9 588.93,545.92 592.67,545.05 596.53,544.36 600.6,543.85 604.91,543.48 609.33,543.22 613.76,543.03 618.05,542.9 622.11,542.8 626.03,542.75 629.93,542.78 633.71,542.87 637.26,542.98 640.48,543.09 643.26,543.18 645.59,543.25 647.54,543.32 649.17,543.39 650.49,543.46 651.56,543.52 652.42,543.56" fill="none" stroke="#8c8c8c" stroke-width="0.7" stroke-linejoin="round" stroke-linecap="round"/>
<polyline points="562.13,551.02 564.1,550.46 566.78,549.7 569.99,548.79 573.5,547.79 577.12,546.77 580.66,545.77 584.16,544.73 587.8,543.56 591.55,542.37 595.39,541.24 599.28,540.26 603.19,539.53 607.22,539.05 611.41,538.77 615.65,538.64 619.84,538.62 623.88,538.68 627.66,538.77 631.27,538.95 634.83,539.23 638.22,539.6 641.38,540 644.2,540.4 646.6,540.76 648.53,541.12 650.05,541.5 651.25,541.88 652.18,542.24 652.92,542.54 653.53,542.75" fill="none" stroke="#8c8c8c" stroke-width="0.7" stroke-linejoin="round" stroke-linecap="round"/>
<polyline points="557.03,548.67 558.86,548.05 561.36,547.2 564.33,546.18 567.6,545.07 570.98,543.94 574.29,542.84 577.55,541.68 580.91,540.39 584.39,539.07 587.98,537.83 591.7,536.77 595.55,536.01 599.63,535.56 603.96,535.34 608.41,535.3 612.86,535.4 617.2,535.6 621.29,535.84 625.26,536.18 629.21,536.65 633.05,537.21 636.66,537.83 639.94,538.44 642.77,539 645.16,539.57 647.18,540.18 648.86,540.78 650.24,541.35 651.37,541.82 652.26,542.17" fill="none" stroke="#8c8c8c" stroke-width="0.7" stroke-linejoin="round" stroke-linecap="round"/>
<polyline points="563.81,549.98 565.83,549.39 568.58,548.59 571.86,547.63 575.45,546.58 579.16,545.51 582.77,544.47 586.35,543.37 590.08,542.15 593.93,540.9 597.84,539.72 601.79,538.71 605.72,537.96 609.74,537.5 613.88,537.24 618.05,537.15 622.15,537.19 626.09,537.31 629.77,537.47 633.27,537.72 636.68,538.09 639.94,538.54 642.94,539.03 645.61,539.53 647.86,539.98 649.64,540.43 651.01,540.91 652.04,541.4 652.82,541.84 653.43,542.22 653.95,542.49" fill="none" stroke="#8c8c8c" stroke-width="0.7" stroke-linejoin="round" stroke-linecap="round"/>
<polyline points="561.79,555.36 563.75,554.92 566.43,554.32 569.61,553.61 573.11,552.82 576.72,552 580.24,551.2 583.73,550.36 587.35,549.44 591.08,548.48 594.9,547.56 598.78,546.72 602.69,546.04 606.72,545.53 610.92,545.12 615.17,544.81 619.38,544.57 623.44,544.38 627.24,544.2 630.88,544.08 634.46,544.02 637.88,544.01 641.07,544.02 643.92,544.03 646.34,544.02 648.31,543.99 649.86,543.96 651.09,543.92 652.05,543.89 652.81,543.86 653.45,543.84" fill="none" stroke="#8c8c8c" stroke-width="0.7" stroke-linejoin="round" stroke-linecap="round"/>
<polyline points="558.58,555.71 560.45,555.27 563,554.69 566.05,553.99 569.39,553.21 572.84,552.42 576.22,551.63 579.55,550.81 583,549.9 586.56,548.96 590.23,548.05 594,547.23 597.86,546.56 601.93,546.04 606.21,545.62 610.6,545.3 614.97,545.04 619.22,544.83 623.22,544.63 627.08,544.48 630.91,544.4 634.62,544.36 638.09,544.34 641.23,544.32 643.93,544.28 646.18,544.22 648.05,544.15 649.58,544.08 650.83,544.02 651.84,543.96 652.64,543.93" fill="none" stroke="#8c8c8c" stroke-width="0.7" stroke-linejoin="round" stroke-linecap="round"/>
<polyline points="558.37,555.96 560.24,555.54 562.78,554.96 565.82,554.27 569.15,553.51 572.59,552.73 575.96,551.95 579.28,551.14 582.72,550.25 586.27,549.32 589.92,548.43 593.69,547.62 597.55,546.94 601.62,546.42 605.91,546 610.31,545.67 614.69,545.39 618.95,545.16 622.96,544.95 626.83,544.79 630.68,544.68 634.41,544.62 637.9,544.58 641.05,544.53 643.78,544.47 646.04,544.39 647.93,544.29 649.49,544.2 650.75,544.12 651.77,544.04 652.59,543.99" fill="none" stroke="#8c8c8c" stroke-width="0.7" stroke-linejoin="round" stroke-linecap="round"/>
<polyline points="566,549 567.6,547.51 569.83,545.4 572.46,542.94 575.26,540.39 578,538 580.8,535.54 583.82,532.82 586.87,530.22 589.76,528.1 592.3,526.8 594.31,526.56 595.93,527.13 597.41,528.18 599.01,529.38 601,530.4 603.36,531.27 605.93,532.2 608.71,533.16 611.73,534.1 615,535 618.7,535.85 622.81,536.67 627.07,537.46 631.22,538.24 635,539 638.56,539.79 642.08,540.6 645.32,541.38 648.04,542.03 650,542.5" fill="none" stroke="#1f77b4" stroke-width="0.7" stroke-linejoin="round" stroke-linecap="round"/>
<polyline points="562.17,562.51 564.65,561.86 568.06,560.96 572.11,559.89 576.51,558.74 580.96,557.58 585.17,556.51 589.26,555.49 593.47,554.44 597.74,553.39 601.99,552.37 606.16,551.4 610.17,550.51 614.08,549.71 617.95,548.98 621.74,548.3 625.4,547.66 628.89,547.07 632.17,546.51 635.37,545.98 638.54,545.48 641.55,545.01 644.25,544.61 646.5,544.27 648.17,544.01" fill="none" stroke="#1f77b4" stroke-width="0.55" stroke-linejoin="round" stroke-linecap="round"/>
<polyline points="560.65,562.66 563.12,562.01 566.53,561.11 570.58,560.04 574.98,558.89 579.43,557.73 583.65,556.66 587.73,555.64 591.94,554.59 596.21,553.54 600.46,552.52 604.63,551.55 608.65,550.66 612.56,549.86 616.42,549.13 620.21,548.44 623.87,547.81 627.36,547.22 630.65,546.66 633.84,546.13 637.02,545.63 640.02,545.16 642.72,544.76 644.97,544.42 646.65,544.16" fill="none" stroke="#1f77b4" stroke-width="0.55" stroke-linejoin="round" stroke-linecap="round"/>
<polyline points="562.82,560.75 565.3,560.1 568.71,559.2 572.76,558.13 577.15,556.97 581.6,555.82 585.82,554.75 589.91,553.73 594.12,552.68 598.38,551.63 602.63,550.6 606.8,549.64 610.82,548.75 614.73,547.95 618.6,547.21 622.38,546.53 626.04,545.9 629.54,545.31 632.82,544.75 636.02,544.22 639.19,543.71 642.2,543.25 644.89,542.84 647.15,542.51 648.82,542.25" fill="none" stroke="#1f77b4" stroke-width="0.55" stroke-linejoin="round" stroke-linecap="round"/>
<polyline points="563.49,563.87 565.97,563.22 569.38,562.31 573.43,561.24 577.83,560.09 582.28,558.94 586.49,557.87 590.58,556.85 594.79,555.8 599.05,554.74 603.31,553.72 607.48,552.75 611.49,551.87 615.4,551.07 619.27,550.33 623.05,549.65 626.71,549.02 630.21,548.43 633.49,547.87 636.69,547.34 639.86,546.83 642.87,546.37 645.57,545.96 647.82,545.62 649.49,545.37" fill="none" stroke="#1f77b4" stroke-width="0.55" stroke-linejoin="round" stroke-linecap="round"/>
<polyline points="563.45,564.88 565.92,564.23 569.33,563.33 573.38,562.26 577.78,561.1 582.23,559.95 586.45,558.88 590.53,557.86 594.74,556.81 599.01,555.76 603.26,554.73 607.43,553.77 611.45,552.88 615.36,552.08 619.22,551.35 623.01,550.66 626.67,550.03 630.16,549.44 633.45,548.88 636.64,548.35 639.82,547.85 642.82,547.38 645.52,546.97 647.77,546.64 649.45,546.38" fill="none" stroke="#1f77b4" stroke-width="0.55" stroke-linejoin="round" stroke-linecap="round"/>
<polyline points="561.44,560.36 563.92,559.71 567.33,558.81 571.38,557.74 575.77,556.59 580.22,555.43 584.44,554.36 588.52,553.34 592.73,552.29 597,551.24 601.25,550.22 605.42,549.25 609.44,548.36 613.35,547.56 617.22,546.83 621,546.15 624.66,545.51 628.15,544.92 631.44,544.36 634.64,543.83 637.81,543.33 640.81,542.86 643.51,542.46 645.77,542.12 647.44,541.86" fill="none" stroke="#1f77b4" stroke-width="0.55" stroke-linejoin="round" stroke-linecap="round"/>
<polyline points="561.02,560.93 563.5,560.27 566.91,559.37 570.95,558.3 575.35,557.15 579.8,555.99 584.02,554.93 588.1,553.9 592.31,552.85 596.58,551.8 600.83,550.78 605,549.81 609.02,548.93 612.93,548.13 616.79,547.39 620.58,546.71 624.24,546.07 627.73,545.48 631.02,544.93 634.22,544.39 637.39,543.89 640.39,543.43 643.09,543.02 645.35,542.68 647.02,542.43" fill="none" stroke="#1f77b4" stroke-width="0.55" stroke-linejoin="round" stroke-linecap="round"/>
<polyline points="560.62,562.01 563.1,561.36 566.51,560.45 570.55,559.38 574.95,558.23 579.4,557.08 583.62,556.01 587.7,554.99 591.91,553.93 596.18,552.88 600.43,551.86 604.6,550.89 608.62,550.01 612.53,549.21 616.4,548.47 620.18,547.79 623.84,547.16 627.33,546.57 630.62,546.01 633.82,545.48 636.99,544.97 639.99,544.51 642.69,544.1 644.95,543.76 646.62,543.51" fill="none" stroke="#1f77b4" stroke-width="0.55" stroke-linejoin="round" stroke-linecap="round"/>
<polyline points="555.29,568.5 557.18,568.57 559.79,568.63 562.88,568.72 566.2,568.88 569.49,569.12 572.49,569.51 575.32,570.03 578.2,570.67 581.05,571.41 583.79,572.23 586.33,573.1 588.58,574.01 590.57,574.94 592.34,575.91 593.92,576.94 595.3,578.04 596.49,579.23 597.49,580.51 598.29,581.93 598.9,583.5 599.32,585.15 599.54,586.82 599.56,588.46 599.39,590 598.88,591.55 598.01,593.15 596.94,594.72 595.84,596.16 594.88,597.37 594.24,598.25" fill="none" stroke="#1f77b4" stroke-width="0.6" stroke-linejoin="round" stroke-linecap="round"/>
<polyline points="556.5,566.19 558.48,566.08 561.22,565.89 564.47,565.68 567.95,565.53 571.38,565.49 574.5,565.64 577.43,565.98 580.41,566.44 583.35,567.02 586.15,567.71 588.73,568.5 591,569.37 592.97,570.34 594.69,571.42 596.19,572.6 597.49,573.87 598.58,575.22 599.5,576.64 600.24,578.19 600.79,579.88 601.14,581.65 601.3,583.44 601.25,585.22 601,586.91 600.4,588.64 599.41,590.46 598.22,592.26 597.01,593.91 595.96,595.31 595.25,596.32" fill="none" stroke="#1f77b4" stroke-width="0.6" stroke-linejoin="round" stroke-linecap="round"/>
<polyline points="557.08,564.5 559.1,564.26 561.91,563.89 565.23,563.47 568.78,563.09 572.28,562.85 575.46,562.83 578.44,563.02 581.46,563.36 584.44,563.82 587.27,564.42 589.88,565.14 592.15,566 594.1,567 595.8,568.15 597.27,569.43 598.52,570.82 599.58,572.3 600.46,573.83 601.17,575.47 601.69,577.24 602.01,579.1 602.14,580.99 602.06,582.86 601.77,584.66 601.12,586.53 600.08,588.5 598.83,590.47 597.57,592.28 596.47,593.81 595.73,594.92" fill="none" stroke="#1f77b4" stroke-width="0.6" stroke-linejoin="round" stroke-linecap="round"/>
<polyline points="555.02,568.54 556.88,568.61 559.47,568.68 562.53,568.77 565.81,568.93 569.06,569.18 572.03,569.57 574.84,570.09 577.7,570.74 580.54,571.48 583.26,572.3 585.79,573.17 588.04,574.08 590.03,575.01 591.82,575.98 593.41,577.01 594.81,578.11 596.02,579.29 597.03,580.57 597.85,581.99 598.48,583.55 598.91,585.2 599.14,586.87 599.18,588.51 599.03,590.05 598.54,591.59 597.69,593.19 596.65,594.76 595.58,596.2 594.64,597.4 594.02,598.28" fill="none" stroke="#1f77b4" stroke-width="0.6" stroke-linejoin="round" stroke-linecap="round"/>
<polyline points="556.72,568.88 558.71,568.98 561.48,569.08 564.75,569.22 568.26,569.42 571.72,569.72 574.86,570.13 577.81,570.69 580.8,571.36 583.75,572.13 586.57,572.96 589.16,573.85 591.43,574.76 593.39,575.69 595.1,576.65 596.59,577.65 597.87,578.72 598.95,579.88 599.86,581.13 600.59,582.54 601.12,584.09 601.47,585.72 601.61,587.37 601.55,588.99 601.29,590.51 600.66,592.02 599.66,593.59 598.45,595.12 597.22,596.53 596.15,597.71 595.43,598.57" fill="none" stroke="#1f77b4" stroke-width="0.6" stroke-linejoin="round" stroke-linecap="round"/>
<polyline points="556.52,565.75 558.49,565.61 561.24,565.37 564.49,565.11 567.97,564.9 571.4,564.81 574.53,564.92 577.46,565.22 580.44,565.65 583.37,566.2 586.18,566.86 588.76,567.64 591.03,568.51 592.99,569.49 594.72,570.58 596.22,571.79 597.51,573.09 598.61,574.47 599.53,575.92 600.26,577.49 600.81,579.2 601.16,580.99 601.32,582.81 601.27,584.61 601.02,586.34 600.41,588.1 599.43,589.96 598.24,591.8 597.02,593.5 595.97,594.92 595.26,595.96" fill="none" stroke="#1f77b4" stroke-width="0.6" stroke-linejoin="round" stroke-linecap="round"/>
<polyline points="556.66,564.51 558.65,564.28 561.41,563.9 564.68,563.49 568.18,563.11 571.63,562.87 574.77,562.85 577.71,563.05 580.7,563.38 583.65,563.85 586.46,564.44 589.05,565.17 591.32,566.02 593.28,567.03 594.99,568.18 596.49,569.46 597.77,570.85 598.86,572.32 599.77,573.85 600.5,575.49 601.04,577.26 601.38,579.12 601.53,581.01 601.47,582.88 601.21,584.68 600.59,586.54 599.59,588.52 598.39,590.48 597.16,592.29 596.1,593.82 595.38,594.93" fill="none" stroke="#1f77b4" stroke-width="0.6" stroke-linejoin="round" stroke-linecap="round"/>
<polyline points="557.27,564.97 559.3,564.77 562.13,564.45 565.48,564.09 569.06,563.78 572.58,563.59 575.78,563.62 578.78,563.85 581.81,564.22 584.8,564.72 587.65,565.34 590.26,566.09 592.54,566.95 594.49,567.94 596.18,569.07 597.63,570.32 598.87,571.68 599.91,573.12 600.78,574.62 601.48,576.23 601.99,577.98 602.3,579.81 602.42,581.68 602.33,583.52 602.03,585.3 601.36,587.12 600.3,589.05 599.04,590.97 597.76,592.74 596.64,594.23 595.89,595.31" fill="none" stroke="#1f77b4" stroke-width="0.6" stroke-linejoin="round" stroke-linecap="round"/>
<polyline points="554.96,568.79 556.82,568.88 559.4,568.98 562.45,569.1 565.72,569.29 568.97,569.58 571.93,569.99 574.74,570.53 577.59,571.2 580.42,571.96 583.14,572.79 585.67,573.67 587.92,574.58 589.91,575.51 591.7,576.47 593.3,577.48 594.71,578.56 595.92,579.72 596.93,580.99 597.76,582.39 598.38,583.95 598.82,585.58 599.05,587.24 599.1,588.86 598.95,590.39 598.46,591.91 597.62,593.49 596.58,595.03 595.52,596.44 594.59,597.63 593.97,598.49" fill="none" stroke="#1f77b4" stroke-width="0.6" stroke-linejoin="round" stroke-linecap="round"/>
<polyline points="553.38,567.26 555.11,567.24 557.52,567.16 560.37,567.1 563.43,567.08 566.48,567.18 569.29,567.44 571.97,567.86 574.7,568.41 577.42,569.06 580.06,569.81 582.52,570.64 584.75,571.53 586.77,572.48 588.63,573.51 590.33,574.62 591.85,575.81 593.18,577.08 594.29,578.44 595.2,579.93 595.91,581.56 596.42,583.27 596.75,585.01 596.88,586.72 596.84,588.35 596.48,589.99 595.78,591.71 594.9,593.4 593.98,594.96 593.18,596.27 592.65,597.22" fill="none" stroke="#1f77b4" stroke-width="0.6" stroke-linejoin="round" stroke-linecap="round"/>
<polyline points="554.52,567.43 556.34,567.42 558.87,567.36 561.87,567.31 565.08,567.32 568.27,567.44 571.2,567.72 573.96,568.15 576.79,568.71 579.59,569.38 582.28,570.13 584.79,570.97 587.04,571.86 589.03,572.81 590.85,573.83 592.47,574.93 593.91,576.11 595.15,577.37 596.2,578.72 597.04,580.2 597.69,581.82 598.15,583.52 598.41,585.26 598.48,586.96 598.36,588.57 597.91,590.2 597.11,591.91 596.11,593.58 595.09,595.12 594.2,596.41 593.6,597.36" fill="none" stroke="#1f77b4" stroke-width="0.6" stroke-linejoin="round" stroke-linecap="round"/>
<polyline points="555.71,569.08 557.62,569.2 560.28,569.32 563.43,569.49 566.8,569.71 570.14,570.03 573.18,570.47 576.04,571.05 578.96,571.73 581.84,572.51 584.6,573.36 587.16,574.25 589.41,575.17 591.39,576.09 593.15,577.04 594.7,578.03 596.05,579.09 597.21,580.23 598.18,581.47 598.96,582.87 599.55,584.4 599.94,586.02 600.14,587.67 600.14,589.27 599.94,590.78 599.4,592.27 598.49,593.83 597.38,595.34 596.24,596.72 595.25,597.89 594.59,598.74" fill="none" stroke="#1f77b4" stroke-width="0.6" stroke-linejoin="round" stroke-linecap="round"/>
<polyline points="552.54,566.1 554.21,565.98 556.53,565.78 559.27,565.57 562.22,565.4 565.17,565.35 567.9,565.5 570.5,565.82 573.17,566.28 575.83,566.85 578.42,567.54 580.86,568.32 583.07,569.2 585.1,570.17 587,571.25 588.76,572.43 590.34,573.71 591.73,575.06 592.9,576.5 593.85,578.05 594.6,579.74 595.16,581.51 595.52,583.31 595.71,585.09 595.72,586.8 595.43,588.53 594.81,590.36 594.01,592.17 593.17,593.83 592.43,595.23 591.95,596.25" fill="none" stroke="#1f77b4" stroke-width="0.6" stroke-linejoin="round" stroke-linecap="round"/>
<polyline points="554.17,564.27 555.97,564.02 558.46,563.62 561.41,563.17 564.58,562.76 567.73,562.49 570.62,562.45 573.36,562.63 576.16,562.94 578.93,563.39 581.61,563.97 584.11,564.69 586.35,565.54 588.35,566.55 590.17,567.71 591.82,569.01 593.29,570.41 594.56,571.9 595.62,573.45 596.49,575.1 597.15,576.89 597.63,578.75 597.91,580.65 598,582.54 597.9,584.36 597.48,586.24 596.71,588.24 595.75,590.23 594.75,592.06 593.89,593.6 593.31,594.73" fill="none" stroke="#1f77b4" stroke-width="0.6" stroke-linejoin="round" stroke-linecap="round"/>
<polyline points="554.64,564.43 556.48,564.18 559.02,563.8 562.03,563.37 565.26,562.99 568.47,562.74 571.41,562.71 574.18,562.9 577.02,563.22 579.83,563.68 582.53,564.28 585.04,565 587.29,565.85 589.28,566.86 591.09,568.01 592.71,569.3 594.14,570.7 595.37,572.17 596.41,573.71 597.25,575.35 597.89,577.13 598.34,578.99 598.59,580.88 598.66,582.76 598.53,584.57 598.07,586.44 597.25,588.42 596.25,590.39 595.21,592.21 594.31,593.74 593.7,594.86" fill="none" stroke="#1f77b4" stroke-width="0.6" stroke-linejoin="round" stroke-linecap="round"/>
<polyline points="553.11,569.57 554.83,569.72 557.2,569.9 560.02,570.12 563.05,570.42 566.07,570.8 568.85,571.28 571.5,571.9 574.21,572.62 576.92,573.44 579.54,574.31 582,575.22 584.22,576.14 586.24,577.06 588.11,577.98 589.83,578.94 591.37,579.97 592.72,581.07 593.85,582.28 594.77,583.65 595.49,585.16 596.02,586.76 596.36,588.37 596.51,589.95 596.48,591.43 596.14,592.89 595.47,594.39 594.62,595.86 593.72,597.19 592.94,598.32 592.43,599.14" fill="none" stroke="#1f77b4" stroke-width="0.6" stroke-linejoin="round" stroke-linecap="round"/>
<polyline points="554.23,569.15 556.03,569.27 558.53,569.4 561.48,569.57 564.66,569.81 567.82,570.14 570.71,570.59 573.45,571.17 576.25,571.86 579.03,572.64 581.71,573.49 584.21,574.39 586.45,575.3 588.45,576.23 590.28,577.17 591.92,578.16 593.38,579.21 594.65,580.35 595.71,581.59 596.57,582.98 597.24,584.51 597.71,586.13 597.98,587.76 598.07,589.37 597.97,590.87 597.54,592.36 596.77,593.91 595.8,595.41 594.81,596.79 593.94,597.95 593.36,598.79" fill="none" stroke="#1f77b4" stroke-width="0.6" stroke-linejoin="round" stroke-linecap="round"/>
<polyline points="554.71,564.83 556.55,564.61 559.1,564.28 562.12,563.9 565.36,563.56 568.58,563.36 571.52,563.38 574.3,563.6 577.14,563.95 579.96,564.44 582.66,565.06 585.18,565.79 587.43,566.65 589.42,567.65 591.22,568.79 592.84,570.05 594.26,571.42 595.49,572.86 596.52,574.38 597.36,576 598,577.75 598.44,579.59 598.69,581.46 598.75,583.32 598.62,585.1 598.15,586.94 597.33,588.88 596.32,590.82 595.28,592.6 594.37,594.1 593.76,595.19" fill="none" stroke="#1f77b4" stroke-width="0.6" stroke-linejoin="round" stroke-linecap="round"/>
<polyline points="551.5,533.79 549.23,533.64 545.96,533.38 542.41,533.47 539.31,534.41 536.73,536.52 534.32,539.47 532.18,542.79 530.42,545.99 529.02,549.14 527.94,552.43 527.24,555.58 526.98,558.32 527.14,560.57 527.7,562.47 528.71,564.12 530.21,565.63 532.31,567.09 534.93,568.43 537.93,569.49 541.14,570.12 544.75,570.21 548.75,569.85 552.74,569.24 556.3,568.56 559.48,567.69 562.46,566.6 564.96,565.56 566.73,564.84" fill="none" stroke="#1f77b4" stroke-width="0.75" stroke-linejoin="round" stroke-linecap="round"/>
<polyline points="551.69,535.33 549.06,535.21 545.26,534.97 541.2,535.12 537.77,536.17 535.15,538.48 532.87,541.71 530.92,545.29 529.3,548.65 527.97,551.81 526.95,555.01 526.3,558.03 526.09,560.64 526.29,562.73 526.88,564.45 527.94,565.93 529.55,567.31 531.82,568.7 534.7,570.01 537.93,571.04 541.28,571.62 544.92,571.58 548.89,571.07 552.8,570.33 556.25,569.59 559.26,568.82 562.01,567.91 564.3,567.06 565.91,566.47" fill="none" stroke="#1f77b4" stroke-width="0.75" stroke-linejoin="round" stroke-linecap="round"/>
<polyline points="553.48,534.58 550.81,534.24 546.95,533.68 542.83,533.52 539.4,534.38 536.81,536.68 534.6,540 532.74,543.7 531.23,547.12 530.04,550.24 529.17,553.34 528.69,556.27 528.64,558.86 529.02,561.06 529.82,562.95 531.03,564.59 532.65,566 534.74,567.2 537.29,568.18 540.14,568.91 543.15,569.36 546.43,569.5 550,569.35 553.6,568.99 556.95,568.52 560.2,567.83 563.42,566.91 566.21,566.02 568.16,565.4" fill="none" stroke="#1f77b4" stroke-width="0.75" stroke-linejoin="round" stroke-linecap="round"/>
<polyline points="550.11,536.7 547.82,536.27 544.53,535.59 540.95,535.3 537.81,536.02 535.16,538.16 532.66,541.3 530.44,544.86 528.62,548.24 527.19,551.51 526.09,554.91 525.41,558.12 525.25,560.87 525.65,563.01 526.57,564.72 527.91,566.17 529.62,567.52 531.73,568.88 534.25,570.14 537.1,571.14 540.17,571.7 543.64,571.69 547.51,571.23 551.35,570.52 554.75,569.8 557.74,568.98 560.49,567.98 562.8,567.04 564.42,566.4" fill="none" stroke="#1f77b4" stroke-width="0.75" stroke-linejoin="round" stroke-linecap="round"/>
<polyline points="551.47,534.2 548.72,534.1 544.74,533.89 540.51,534.04 536.97,535.05 534.33,537.23 532.08,540.27 530.19,543.66 528.59,546.92 527.25,550.08 526.19,553.37 525.51,556.5 525.27,559.19 525.44,561.35 525.99,563.14 527.04,564.64 528.68,565.94 531.12,567.08 534.25,568.01 537.69,568.69 541.09,569.12 544.5,569.25 548.06,569.11 551.54,568.76 554.73,568.28 557.71,567.53 560.57,566.53 563,565.55 564.71,564.88" fill="none" stroke="#1f77b4" stroke-width="0.75" stroke-linejoin="round" stroke-linecap="round"/>
<polyline points="551.26,534.35 548.55,534.36 544.63,534.31 540.46,534.6 537.02,535.64 534.52,537.68 532.45,540.45 530.71,543.58 529.23,546.7 527.93,549.89 526.86,553.31 526.16,556.62 525.95,559.51 526.25,561.9 526.99,563.96 528.2,565.72 529.87,567.22 532.12,568.46 534.91,569.42 538.02,570.1 541.27,570.49 544.82,570.54 548.7,570.25 552.5,569.76 555.81,569.19 558.63,568.42 561.14,567.45 563.21,566.52 564.66,565.88" fill="none" stroke="#1f77b4" stroke-width="0.75" stroke-linejoin="round" stroke-linecap="round"/>
<polyline points="551.29,535 548.75,534.81 545.07,534.47 541.14,534.51 537.82,535.43 535.27,537.63 533.03,540.73 531.13,544.17 529.6,547.35 528.4,550.24 527.56,553.12 527.09,555.85 527.04,558.33 527.41,560.55 528.18,562.56 529.37,564.34 531,565.87 533.16,567.12 535.81,568.11 538.79,568.87 541.93,569.39 545.41,569.69 549.24,569.76 553.02,569.59 556.37,569.2 559.33,568.4 562.06,567.25 564.34,566.11 565.95,565.33" fill="none" stroke="#1f77b4" stroke-width="0.75" stroke-linejoin="round" stroke-linecap="round"/>
<polyline points="552.72,533.93 550.09,533.57 546.29,532.97 542.23,532.78 538.8,533.63 536.16,535.98 533.86,539.38 531.89,543.15 530.23,546.6 528.84,549.67 527.72,552.68 526.99,555.54 526.75,558.15 526.97,560.54 527.64,562.73 528.78,564.67 530.44,566.31 532.77,567.64 535.68,568.7 538.94,569.47 542.31,569.93 545.91,570.06 549.81,569.87 553.65,569.42 557.07,568.74 560.12,567.62 562.96,566.13 565.33,564.67 567,563.67" fill="none" stroke="#1f77b4" stroke-width="0.75" stroke-linejoin="round" stroke-linecap="round"/>
<polyline points="550.83,536.38 548.24,536.07 544.48,535.54 540.49,535.42 537.19,536.3 534.77,538.62 532.76,541.97 531.08,545.68 529.64,549.06 528.41,552.06 527.43,554.99 526.77,557.77 526.48,560.29 526.53,562.58 526.89,564.68 527.68,566.51 529.04,568 531.08,569.09 533.71,569.83 536.72,570.33 539.9,570.69 543.41,570.96 547.29,571.08 551.17,570.98 554.66,570.6 557.87,569.73 560.93,568.48 563.53,567.22 565.36,566.36" fill="none" stroke="#1f77b4" stroke-width="0.75" stroke-linejoin="round" stroke-linecap="round"/>
<polyline points="550.21,533.63 547.64,533.41 543.94,533.02 539.99,533 536.72,533.87 534.32,535.95 532.33,538.91 530.63,542.26 529.11,545.5 527.62,548.69 526.26,552.04 525.29,555.24 524.98,557.99 525.46,560.19 526.56,562.01 528.12,563.54 529.95,564.85 532.05,565.96 534.5,566.81 537.25,567.45 540.26,567.89 543.76,568.15 547.7,568.21 551.59,568.06 554.97,567.69 557.82,566.91 560.37,565.8 562.45,564.69 563.93,563.93" fill="none" stroke="#1f77b4" stroke-width="0.75" stroke-linejoin="round" stroke-linecap="round"/>
<polyline points="551.77,533.23 549.34,533.24 545.82,533.2 542.03,533.53 538.79,534.66 536.22,536.9 533.9,539.97 531.89,543.35 530.19,546.53 528.77,549.49 527.61,552.47 526.87,555.33 526.66,557.94 527.06,560.35 528,562.58 529.36,564.55 531.04,566.12 533.06,567.26 535.45,568.02 538.15,568.49 541.11,568.75 544.5,568.8 548.3,568.6 552.12,568.19 555.58,567.61 558.79,566.7 561.88,565.5 564.52,564.33 566.38,563.53" fill="none" stroke="#1f77b4" stroke-width="0.75" stroke-linejoin="round" stroke-linecap="round"/>
<polyline points="552.27,533.67 550.04,533.38 546.82,532.91 543.31,532.82 540.21,533.72 537.59,536.01 535.11,539.3 532.89,542.95 531.05,546.32 529.55,549.39 528.37,552.43 527.6,555.34 527.32,557.99 527.57,560.38 528.29,562.58 529.48,564.53 531.15,566.16 533.42,567.48 536.23,568.52 539.38,569.24 542.65,569.64 546.19,569.62 550.04,569.23 553.86,568.61 557.28,567.93 560.39,567.09 563.32,566.06 565.79,565.07 567.52,564.39" fill="none" stroke="#1f77b4" stroke-width="0.75" stroke-linejoin="round" stroke-linecap="round"/>
<path d="M530 558 C530 545, 538 536, 548 536 C560 537, 567 548, 566 558 C565 566, 556 568, 544 568 C535 568, 530 564, 530 558 Z" fill="#8c8c8c" stroke="none" stroke-width="1"/>
<path d="M540 552 C540.5 548, 544 546.5, 548 547 C552.5 548.5, 554 552, 552.5 555.5 C550 558, 545 558, 542 556.5 C540.5 555.5, 540 554, 540 552 Z" fill="white" stroke="none" stroke-width="1"/>
<polyline points="539.52,553.06 539.96,552.08 540.57,550.65 541.4,549.19 542.47,548.1 543.94,547.48 545.73,547.1 547.6,546.95 549.29,547 550.86,547.23 552.41,547.65 553.73,548.3 554.61,549.2 554.97,550.52 554.91,552.18 554.57,553.88 554.04,555.32 553.32,556.49 552.37,557.53 551.23,558.33 549.96,558.78 548.43,558.78 546.66,558.43 544.9,557.84 543.39,557.14 542.15,556.2 541.05,555 540.16,553.85 539.52,553.06" fill="none" stroke="#8c8c8c" stroke-width="0.7" stroke-linejoin="round" stroke-linecap="round"/>
<polyline points="540.14,553.34 540.51,552.35 541.03,550.91 541.73,549.44 542.65,548.38 543.9,547.84 545.4,547.59 547.02,547.54 548.58,547.62 550.18,547.77 551.85,548.05 553.37,548.53 554.5,549.31 555.25,550.55 555.74,552.15 555.83,553.81 555.43,555.24 554.3,556.44 552.57,557.54 550.65,558.43 548.93,558.99 547.47,559.19 546.08,559.1 544.77,558.73 543.6,558.13 542.52,557.1 541.54,555.68 540.72,554.29 540.14,553.34" fill="none" stroke="#8c8c8c" stroke-width="0.7" stroke-linejoin="round" stroke-linecap="round"/>
<polyline points="540.21,552.47 540.68,551.39 541.33,549.81 542.19,548.24 543.27,547.17 544.7,546.77 546.44,546.76 548.22,546.99 549.78,547.31 551.09,547.71 552.27,548.25 553.29,548.93 554.1,549.75 554.76,550.77 555.27,551.98 555.49,553.23 555.28,554.4 554.5,555.56 553.25,556.74 551.77,557.74 550.3,558.38 548.81,558.59 547.19,558.48 545.6,558.09 544.2,557.46 542.96,556.38 541.82,554.91 540.88,553.46 540.21,552.47" fill="none" stroke="#8c8c8c" stroke-width="0.7" stroke-linejoin="round" stroke-linecap="round"/>
<polyline points="539.96,553.5 540.39,552.3 540.98,550.53 541.77,548.76 542.81,547.56 544.24,547.11 545.98,547.09 547.78,547.32 549.4,547.65 550.86,548.03 552.25,548.55 553.46,549.22 554.36,550.03 554.95,551.04 555.3,552.23 555.33,553.48 554.95,554.68 554.03,555.93 552.64,557.25 551.05,558.4 549.48,559.15 547.9,559.45 546.21,559.42 544.59,559.1 543.21,558.51 542.11,557.45 541.2,555.97 540.47,554.51 539.96,553.5" fill="none" stroke="#8c8c8c" stroke-width="0.7" stroke-linejoin="round" stroke-linecap="round"/>
<polyline points="539.23,553 539.75,551.97 540.49,550.48 541.39,548.99 542.41,547.99 543.58,547.65 544.91,547.7 546.31,547.96 547.7,548.25 549.19,548.53 550.79,548.88 552.23,549.35 553.25,550 553.81,550.89 554.02,551.97 553.92,553.14 553.52,554.25 552.75,555.42 551.62,556.68 550.28,557.75 548.9,558.4 547.39,558.5 545.7,558.22 544.05,557.67 542.65,557.01 541.52,556.1 540.55,554.92 539.78,553.78 539.23,553" fill="none" stroke="#8c8c8c" stroke-width="0.7" stroke-linejoin="round" stroke-linecap="round"/>
<polyline points="539.61,554.22 540.04,553.14 540.65,551.58 541.42,549.98 542.36,548.82 543.51,548.21 544.86,547.89 546.31,547.81 547.75,547.92 549.32,548.2 551.03,548.68 552.56,549.36 553.62,550.22 554.15,551.36 554.29,552.76 554.08,554.21 553.55,555.5 552.57,556.69 551.17,557.83 549.61,558.79 548.14,559.39 546.74,559.59 545.31,559.47 543.96,559.09 542.77,558.52 541.75,557.59 540.86,556.31 540.13,555.07 539.61,554.22" fill="none" stroke="#8c8c8c" stroke-width="0.7" stroke-linejoin="round" stroke-linecap="round"/>
<polyline points="534.18,554.61 535.06,552.63 536.3,549.74 537.84,546.8 539.6,544.69 541.69,543.6 544.1,543.08 546.6,543.02 548.96,543.3 551.26,543.96 553.58,545.04 555.65,546.43 557.22,548.01 558.29,549.88 558.99,552.06 559.19,554.32 558.77,556.43 557.59,558.49 555.75,560.58 553.51,562.39 551.1,563.62 548.35,564.23 545.19,564.37 542.11,564.02 539.57,563.15 537.66,561.38 536.15,558.85 535,556.33 534.18,554.61" fill="none" stroke="#1f77b4" stroke-width="0.5" stroke-linejoin="round" stroke-linecap="round"/>
<polyline points="534.06,551.67 534.92,550.03 536.14,547.65 537.62,545.2 539.28,543.34 541.14,542.18 543.24,541.37 545.49,540.96 547.81,540.99 550.47,541.5 553.41,542.46 556.08,543.79 557.94,545.44 558.81,547.56 558.99,550.15 558.66,552.81 557.97,555.18 556.92,557.31 555.44,559.36 553.6,561.06 551.47,562.13 548.8,562.5 545.65,562.32 542.52,561.64 539.92,560.53 537.92,558.62 536.27,556 534.98,553.43 534.06,551.67" fill="none" stroke="#1f77b4" stroke-width="0.5" stroke-linejoin="round" stroke-linecap="round"/>
<polyline points="535.08,553.05 535.89,551.15 537.04,548.37 538.45,545.58 540.08,543.61 541.98,542.7 544.15,542.38 546.47,542.51 548.79,542.93 551.31,543.64 554.02,544.73 556.49,546.1 558.27,547.7 559.28,549.66 559.73,551.96 559.68,554.31 559.18,556.4 558.19,558.29 556.7,560.09 554.79,561.6 552.55,562.59 549.68,563.05 546.25,563.09 542.87,562.66 540.15,561.73 538.25,559.91 536.84,557.34 535.82,554.79 535.08,553.05" fill="none" stroke="#1f77b4" stroke-width="0.5" stroke-linejoin="round" stroke-linecap="round"/>
<polyline points="535.07,553.38 535.83,551.45 536.91,548.64 538.26,545.78 539.85,543.72 541.76,542.63 543.99,542.09 546.33,542.01 548.58,542.3 550.84,542.99 553.19,544.13 555.32,545.59 556.95,547.28 558.11,549.36 558.89,551.82 559.21,554.3 558.96,556.45 558.01,558.28 556.46,559.95 554.49,561.3 552.3,562.17 549.67,562.51 546.6,562.42 543.55,561.92 541,561.01 539,559.38 537.33,557.12 536.01,554.9 535.07,553.38" fill="none" stroke="#1f77b4" stroke-width="0.5" stroke-linejoin="round" stroke-linecap="round"/>
<circle cx="548.9" cy="555.7" r="3.2" fill="#f7a21b" stroke="none" stroke-width="1"/>
<polyline points="545,535 556,532 564,530 571,525 573.5,518.1 570,515 563.4,513 555,510 547.5,507.2 539.5,506.5" fill="none" stroke="#8c8c8c" stroke-width="0.8" stroke-linejoin="round" stroke-linecap="round"/>
<polyline points="548,535.5 560,533 568,528 572,521 571,516 562,512.5 549,508" fill="none" stroke="#8c8c8c" stroke-width="0.6" stroke-linejoin="round" stroke-linecap="round"/>
<polygon points="539.6,504.5 540.13,505.77 541.5,505.88 540.46,506.78 540.78,508.12 539.6,507.4 538.42,508.12 538.74,506.78 537.7,505.88 539.07,505.77" fill="#e8222a"/>
<polygon points="546.8,505.2 547.33,506.47 548.7,506.58 547.66,507.48 547.98,508.82 546.8,508.1 545.62,508.82 545.94,507.48 544.9,506.58 546.27,506.47" fill="#e8222a"/>
<polygon points="611,536.1 611.5,537.31 612.81,537.41 611.81,538.26 612.12,539.54 611,538.86 609.88,539.54 610.19,538.26 609.19,537.41 610.5,537.31" fill="#e8222a"/>
<polygon points="620,535.6 620.5,536.81 621.81,536.91 620.81,537.76 621.12,539.04 620,538.36 618.88,539.04 619.19,537.76 618.19,536.91 619.5,536.81" fill="#e8222a"/>
<polygon points="628,537.6 628.5,538.81 629.81,538.91 628.81,539.76 629.12,541.04 628,540.36 626.88,541.04 627.19,539.76 626.19,538.91 627.5,538.81" fill="#e8222a"/>
<polygon points="636,537.1 636.5,538.31 637.81,538.41 636.81,539.26 637.12,540.54 636,539.86 634.88,540.54 635.19,539.26 634.19,538.41 635.5,538.31" fill="#e8222a"/>
<polygon points="642,539.1 642.5,540.31 643.81,540.41 642.81,541.26 643.12,542.54 642,541.86 640.88,542.54 641.19,541.26 640.19,540.41 641.5,540.31" fill="#e8222a"/>
<polygon points="650,539.6 650.5,540.81 651.81,540.91 650.81,541.76 651.12,543.04 650,542.36 648.88,543.04 649.19,541.76 648.19,540.91 649.5,540.81" fill="#e8222a"/>
<polygon points="621,538.6 621.5,539.81 622.81,539.91 621.81,540.76 622.12,542.04 621,541.36 619.88,542.04 620.19,540.76 619.19,539.91 620.5,539.81" fill="#e8222a"/>
<polygon points="631,534.1 631.5,535.31 632.81,535.41 631.81,536.26 632.12,537.54 631,536.86 629.88,537.54 630.19,536.26 629.19,535.41 630.5,535.31" fill="#e8222a"/>
<polygon points="645,536.1 645.5,537.31 646.81,537.41 645.81,538.26 646.12,539.54 645,538.86 643.88,539.54 644.19,538.26 643.19,537.41 644.5,537.31" fill="#e8222a"/>
<circle cx="603" cy="537" r="1.8" fill="#2b3a9c" stroke="none" stroke-width="1"/>
<circle cx="637" cy="542.5" r="1.8" fill="#2b3a9c" stroke="none" stroke-width="1"/>
<circle cx="645" cy="543" r="1.8" fill="#2b3a9c" stroke="none" stroke-width="1"/>
<circle cx="651" cy="543.5" r="1.8" fill="#2b3a9c" stroke="none" stroke-width="1"/>
<circle cx="654" cy="543" r="1.8" fill="#2b3a9c" stroke="none" stroke-width="1"/>
<circle cx="643" cy="544.5" r="1.8" fill="#2b3a9c" stroke="none" stroke-width="1"/>
<circle cx="596.5" cy="554" r="1.8" fill="#2b3a9c" stroke="none" stroke-width="1"/>
<polygon points="591,597.2 591.48,598.34 592.71,598.44 591.77,599.25 592.06,600.46 591,599.81 589.94,600.46 590.23,599.25 589.29,598.44 590.52,598.34" fill="#2b3a9c"/>
<polygon points="593.8,596.2 594.28,597.34 595.51,597.44 594.57,598.25 594.86,599.46 593.8,598.81 592.74,599.46 593.03,598.25 592.09,597.44 593.32,597.34" fill="#2b3a9c"/>
<polygon points="596.5,595.7 596.98,596.84 598.21,596.94 597.27,597.75 597.56,598.96 596.5,598.31 595.44,598.96 595.73,597.75 594.79,596.94 596.02,596.84" fill="#2b3a9c"/>
<polygon points="595,589.7 595.48,590.84 596.71,590.94 595.77,591.75 596.06,592.96 595,592.31 593.94,592.96 594.23,591.75 593.29,590.94 594.52,590.84" fill="#2b3a9c"/>
<polygon points="598,585.7 598.48,586.84 599.71,586.94 598.77,587.75 599.06,588.96 598,588.31 596.94,588.96 597.23,587.75 596.29,586.94 597.52,586.84" fill="#2b3a9c"/>
<text x="562.2" y="628.88" font-size="8.6" text-anchor="middle" fill="#e8222a">auditory right</text>
<text x="597.7" y="681.38" font-size="8.6" text-anchor="middle" fill="#e8222a">auditory left</text>
<text x="636.2" y="705.08" font-size="8.6" text-anchor="middle" fill="#2b3a9c">visual left</text>
<text x="592.5" y="721.28" font-size="8.6" text-anchor="middle" fill="#2b3a9c">visual right</text>
<path d="M532.6 692.8 L532.6 711.8 L552.3 711.8" fill="none" stroke="#222" stroke-width="1.5" stroke-linejoin="miter"/>
<text x="525.5" y="703.3" font-size="6.6" text-anchor="middle" fill="#222" transform="rotate(-90 525.5 703.3)">PC<tspan font-size="4.5" dy="1.5">2</tspan></text>
<text x="543.5" y="721" font-size="6.6" text-anchor="middle" fill="#222">PC<tspan font-size="4.5" dy="1.5">1</tspan></text>
<polyline points="521.7,676.67 523.28,677.38 525.04,677.56 526.75,676.64 529.14,674.42 530.84,675.94 532.48,678.03 533.78,676.14 535.44,674.89 536.82,677.91 538.57,678.04 540.33,675.69 541.81,674.67 543.02,677.42 545.55,678.12 547.84,677.88" fill="none" stroke="#1f77b4" stroke-width="0.8" stroke-linejoin="round" stroke-linecap="round"/>
<polyline points="519.77,672.47 522.18,672.86 523.93,674.38 525.66,675.3 527.54,673 528.77,674.54 530.3,673.34 532.51,673.38 535.14,673.09 536.87,671.92 538.12,671.98 540.17,671.97 542.12,672.11 544.51,671.65 546.88,675.25" fill="none" stroke="#1f77b4" stroke-width="0.8" stroke-linejoin="round" stroke-linecap="round"/>
<polyline points="517.01,670.51 519.42,671.89 520.88,672.64 523.37,669.26 525.53,670.62 526.85,670.38 529.02,669.53 530.7,671.85 532.25,672.6 534.31,671.62 535.57,669.38 537.69,669.79 539.67,672.69 541.76,670.87 543.11,669.6 544.68,672.92 547.02,669.78" fill="none" stroke="#1f77b4" stroke-width="0.8" stroke-linejoin="round" stroke-linecap="round"/>
<polyline points="518.12,663.85 519.79,666.65 521.02,666.23 523.27,663.19 524.52,665.31 527.07,664.76 529.36,666.41 532.04,665.65 533.8,666.09 535.9,664.97 538.35,664.76 540.52,665.92 543.03,663.62 545.47,666.73 546.79,663.96" fill="none" stroke="#1f77b4" stroke-width="0.8" stroke-linejoin="round" stroke-linecap="round"/>
<polyline points="519.43,671.56 521.75,669.1 523.18,671.32 525.41,670.79 528.08,670.52 529.73,669.65 530.98,671.56 532.79,670.39 534.21,672.02 536.04,668.56 538.33,671.38 539.65,671.02 541.1,669.17 543.68,672.1 544.99,668.73 546.79,669.02" fill="none" stroke="#1f77b4" stroke-width="0.8" stroke-linejoin="round" stroke-linecap="round"/>
<polyline points="521.07,663.81 523.32,663.87 525.71,665.27 527,666.53 529.47,664.31 531.47,665.58 533.79,666.06 536.44,666.42 538.02,662.77 539.64,663.55 541.98,665.78 544.65,666.12 547.01,666.66" fill="none" stroke="#1f77b4" stroke-width="0.8" stroke-linejoin="round" stroke-linecap="round"/>
<polyline points="518.94,675.17 520.76,674.71 522.32,675.73 524.57,676.81 526.41,677.46 527.82,677.62 530.22,677.06 531.61,676.12 533.89,677.06 536.22,673.75 538.3,674.08 540.83,676.87 542.72,677.28 544.07,675.62 545.44,676.7 547.94,675.72" fill="none" stroke="#1f77b4" stroke-width="0.8" stroke-linejoin="round" stroke-linecap="round"/>
<polyline points="519.71,672.46 521.63,669.65 523.37,672.43 525.55,672.23 527.31,671.47 529.9,669.17 532.31,672.3 534.96,669.23 536.45,672.34 538.26,669.8 540.45,669.99 542.19,670.24 543.71,672.02 545.94,669.21 547.41,668.78" fill="none" stroke="#1f77b4" stroke-width="0.8" stroke-linejoin="round" stroke-linecap="round"/>
<polyline points="519.98,671.73 521.33,671.22 522.65,672.3 524.41,673.42 526.45,672.69 528.18,672.03 530.69,671.24 533.2,673.57 534.89,672.63 536.34,673.54 538.69,669.82 540.87,670.62 543.26,671.96 545.28,670.96 546.88,672.45" fill="none" stroke="#1f77b4" stroke-width="0.8" stroke-linejoin="round" stroke-linecap="round"/>
<polyline points="521.5,673.53 522.94,673.22 525.02,674.93 527.26,675.33 528.92,673.92 531.46,675.06 532.69,673.94 534.23,674.38 535.84,672.81 537.28,674.68 539.23,674.5 541.17,675.16 543.51,676.68 545.02,674.9 546.47,672.87 547.93,673.94" fill="none" stroke="#1f77b4" stroke-width="0.8" stroke-linejoin="round" stroke-linecap="round"/>
<polyline points="519.31,675.38 521.12,675.45 522.55,675.76 525.1,674.86 527.14,672.95 529.42,675.82 532.09,674 533.65,675.54 535.62,674.07 537.7,672.7 540.09,675.74 541.9,674.49 544.1,675.45 546.63,674.9" fill="none" stroke="#1f77b4" stroke-width="0.8" stroke-linejoin="round" stroke-linecap="round"/>
<polyline points="516.73,662.93 519.05,662.8 520.66,665.33 522.05,664.19 524.47,663.17 525.79,662.25 528.2,663.6 529.55,662.09 532.07,665.04 534.75,664.41 537.14,664.35 538.91,662.3 540.21,662.25 541.84,663.5 543.41,664.16 545.4,664.82" fill="none" stroke="#1f77b4" stroke-width="0.8" stroke-linejoin="round" stroke-linecap="round"/>
<polyline points="518.64,661.66 520.45,664.05 522.26,661.02 523.82,660.36 526.15,662.34 527.96,662.43 530.23,663.92 531.83,663.69 533.17,663.75 535.37,660.43 536.67,661.17 538.94,662.14 540.88,662.74 542.12,663.69 544.58,663.43 546.46,663.36" fill="none" stroke="#1f77b4" stroke-width="0.8" stroke-linejoin="round" stroke-linecap="round"/>
<polyline points="516.79,662.77 518.99,662.66 520.62,664.13 521.82,663.13 524.18,663.06 526.79,662.49 528.76,664.14 530.5,663.66 532.71,660.88 533.99,660.56 535.52,660.55 537.08,662.65 539.08,663.13 540.49,663.71 542.28,662.19 543.85,664.07 545.63,663.62 546.86,661.88" fill="none" stroke="#1f77b4" stroke-width="0.8" stroke-linejoin="round" stroke-linecap="round"/>
<polyline points="519.79,667.28 521.61,669.03 523.46,668.73 525.13,667.74 527.61,666.49 529.82,666.9 532.27,667.91 534.04,667.26 535.85,668 538.43,670.38 540.68,668.52 543.2,667.16 544.77,668.34 547.44,667.18" fill="none" stroke="#1f77b4" stroke-width="0.8" stroke-linejoin="round" stroke-linecap="round"/>
<polyline points="521.74,666.64 523.08,666.7 524.98,664.06 527.37,666.34 528.64,663.63 530.19,664.29 532.1,665.68 534.26,666.91 536.08,663.88 538.52,666.9 540.47,665.65 543.17,664.07 545.56,665.52 546.91,665.14" fill="none" stroke="#1f77b4" stroke-width="0.8" stroke-linejoin="round" stroke-linecap="round"/>
<polyline points="521.1,676.83 523.45,678.34 525.61,674.73 527.34,675.77 529.84,677.91 531.8,676.74 533.4,677.64 535.04,675.22 536.46,678.26 538.29,678.23 540.6,675.88 541.93,676.63 544.23,678.44 546.76,674.73" fill="none" stroke="#1f77b4" stroke-width="0.8" stroke-linejoin="round" stroke-linecap="round"/>
<polyline points="521.76,678.56 523.57,675.41 525.41,675.31 527.87,675.84 529.26,675.22 531.79,676.24 534.23,678.3 536.79,675.88 539.39,677.21 541.9,677.16 544.08,677.41 545.65,674.69 547.84,678.08" fill="none" stroke="#1f77b4" stroke-width="0.8" stroke-linejoin="round" stroke-linecap="round"/>
<polyline points="520.95,678.99 522.53,677.93 524.92,680.49 527.21,680.1 529.62,676.97 531.49,680.69 533.21,677.45 534.69,679.05 536.55,679.93 538.7,680.81 540.09,677.67 542.01,677.55 544.28,680.38 545.66,680.65 547.11,678.48" fill="none" stroke="#1f77b4" stroke-width="0.8" stroke-linejoin="round" stroke-linecap="round"/>
<polyline points="516.17,672.18 517.56,674.74 519.6,673.28 521.72,673.46 523.14,673.83 525.6,670.94 528.13,672.5 529.79,673.12 532.03,674.57 533.38,672.41 535.07,671.93 536.83,672.08 538.24,672.07 540.29,672.49 541.93,674.2 543.55,671.21 544.95,673.48 546.22,672.89 547.65,672.75" fill="none" stroke="#1f77b4" stroke-width="0.8" stroke-linejoin="round" stroke-linecap="round"/>
<polyline points="516.36,681.14 518.17,678.23 520.02,680.72 522.55,678.67 524.37,680.09 527.05,681.62 528.42,678.99 529.94,679.21 531.42,679.68 534.04,680.39 535.41,680.47 537.77,678.72 540.25,681.61 541.66,679.36 544.08,680.45 546.76,680.22" fill="none" stroke="#1f77b4" stroke-width="0.8" stroke-linejoin="round" stroke-linecap="round"/>
<polyline points="521.15,662.8 523.54,664.89 526.21,665.04 528.71,665.68 531.15,663.08 532.82,662.31 534.65,662.49 536.85,662.11 538.64,664.95 540.94,661.81 542.26,663.15 543.55,664.01 544.82,664.13 547.25,665.15" fill="none" stroke="#1f77b4" stroke-width="0.8" stroke-linejoin="round" stroke-linecap="round"/>
<polyline points="518.32,664.8 520.43,661.46 522.73,663.51 525.23,664.62 526.71,661.93 527.98,663.51 529.84,663.67 531.79,665.24 533.36,664.19 535.27,661.42 537.08,664.49 538.98,663.2 540.4,662.94 542.61,665.24 544.84,664.96 546.59,663.38 547.83,664.42" fill="none" stroke="#1f77b4" stroke-width="0.8" stroke-linejoin="round" stroke-linecap="round"/>
<polyline points="520.09,678.73 522.08,678.21 523.53,680.87 525.59,679.73 526.81,680.52 529.36,680.67 531.11,681.01 533.02,679.59 535.43,678.59 537.68,678.4 540.07,678.62 541.51,678.77 543.03,678.57 545.13,681.29 547.39,680.03" fill="none" stroke="#1f77b4" stroke-width="0.8" stroke-linejoin="round" stroke-linecap="round"/>
<polyline points="516.07,665.14 517.77,667.92 519.43,664.71 520.76,667.2 522.07,667.58 523.64,667.14 525.69,664.06 527.34,668.04 528.73,665.75 530.7,666.32 532.16,666.42 534.25,666.19 536.28,664.33 538.05,665.47 540.61,666.64 542.56,664.91 543.96,664.84 545.24,665.38 546.7,665.36" fill="none" stroke="#1f77b4" stroke-width="0.8" stroke-linejoin="round" stroke-linecap="round"/>
<polyline points="521.84,676.78 524.25,677.6 526.35,675.46 527.97,676.64 529.98,675.02 531.5,678.31 533.86,678.63 535.34,676.66 536.73,675.98 538.78,674.91 540.83,678.52 543.13,675.24 544.78,677.13 547.26,678.57" fill="none" stroke="#1f77b4" stroke-width="0.8" stroke-linejoin="round" stroke-linecap="round"/>
<path d="M521 668 L530 662 L542 661 L548 666 L546 678 L536 681 L524 679 L519 673 Z" fill="#1f77b4" stroke="none" stroke-width="1"/>
<path d="M531 671 L538 667 L546 668 L552 676 L558 686 L562.5 697 L559 700 L550 699 L542 694 L536 687 L533 679 Z" fill="#8c8c8c" stroke="none" stroke-width="1"/>
<polyline points="536.76,673.44 546.76,689.66 561.72,695.34" fill="none" stroke="#8c8c8c" stroke-width="0.8" stroke-linejoin="round" stroke-linecap="round"/>
<polyline points="533.77,675.67 547.94,682.87 560.92,695.99" fill="none" stroke="#8c8c8c" stroke-width="0.8" stroke-linejoin="round" stroke-linecap="round"/>
<polyline points="534.61,673.35 547.94,685.7 560.41,695.28" fill="none" stroke="#8c8c8c" stroke-width="0.8" stroke-linejoin="round" stroke-linecap="round"/>
<polyline points="533.66,675.69 546.78,686.62 560.08,693.29" fill="none" stroke="#8c8c8c" stroke-width="0.8" stroke-linejoin="round" stroke-linecap="round"/>
<polyline points="533.26,679.11 548.08,684.94 560.75,696.44" fill="none" stroke="#8c8c8c" stroke-width="0.8" stroke-linejoin="round" stroke-linecap="round"/>
<polyline points="533.69,675.74 546.74,685.96 558.24,694.44" fill="none" stroke="#8c8c8c" stroke-width="0.8" stroke-linejoin="round" stroke-linecap="round"/>
<polyline points="535.94,670.56 547.67,687.28 558.53,695.85" fill="none" stroke="#8c8c8c" stroke-width="0.8" stroke-linejoin="round" stroke-linecap="round"/>
<polyline points="535.79,679.78 545.44,684.51 561.6,697.74" fill="none" stroke="#8c8c8c" stroke-width="0.8" stroke-linejoin="round" stroke-linecap="round"/>
<polyline points="533.53,678.85 547.83,685.88 561.68,698.58" fill="none" stroke="#8c8c8c" stroke-width="0.8" stroke-linejoin="round" stroke-linecap="round"/>
<polyline points="535.52,673.09 545.7,687.18 558.93,694.01" fill="none" stroke="#8c8c8c" stroke-width="0.8" stroke-linejoin="round" stroke-linecap="round"/>
<polyline points="536.57,666.77 538.27,666.2 540.53,665.39 543.26,664.45 546.33,663.45 549.65,662.5 553.1,661.69 556.8,660.99 560.85,660.32 565.16,659.7 569.58,659.14 574.01,658.64 578.33,658.23 582.71,657.9 587.26,657.64 591.82,657.46 596.22,657.34 600.27,657.29 603.81,657.31 606.81,657.37 609.39,657.49 611.63,657.67 613.61,657.95 615.39,658.33 617.05,658.85 618.54,659.5 619.79,660.28 620.85,661.18 621.76,662.17 622.56,663.24 623.29,664.38 623.92,665.66 624.41,667.09 624.79,668.61 625.08,670.13 625.32,671.6 625.52,672.92 625.67,674.17 625.73,675.41 625.72,676.59 625.69,677.65 625.65,678.54 625.64,679.19" fill="none" stroke="#8c8c8c" stroke-width="0.7" stroke-linejoin="round" stroke-linecap="round"/>
<polyline points="539.86,671.45 541.69,671.08 544.16,670.56 547.12,669.96 550.43,669.29 553.92,668.6 557.47,667.93 561.18,667.25 565.19,666.51 569.4,665.75 573.7,665 577.99,664.3 582.17,663.69 586.38,663.14 590.75,662.61 595.11,662.14 599.3,661.73 603.16,661.41 606.55,661.21 609.42,661.1 611.9,661.07 614.06,661.13 615.96,661.3 617.66,661.57 619.24,661.97 620.64,662.49 621.8,663.14 622.77,663.91 623.59,664.77 624.29,665.71 624.93,666.72 625.46,667.87 625.86,669.16 626.14,670.53 626.34,671.93 626.49,673.26 626.62,674.48 626.7,675.64 626.7,676.8 626.65,677.91 626.57,678.91 626.5,679.74 626.46,680.36" fill="none" stroke="#8c8c8c" stroke-width="0.7" stroke-linejoin="round" stroke-linecap="round"/>
<polyline points="539.44,671.3 541.26,670.92 543.7,670.4 546.63,669.78 549.91,669.1 553.38,668.4 556.92,667.73 560.63,667.05 564.64,666.31 568.86,665.55 573.17,664.81 577.48,664.12 581.68,663.51 585.92,662.97 590.31,662.45 594.69,661.99 598.91,661.59 602.8,661.28 606.2,661.08 609.09,660.98 611.58,660.96 613.75,661.02 615.66,661.19 617.37,661.47 618.96,661.87 620.37,662.4 621.55,663.05 622.53,663.82 623.35,664.68 624.07,665.63 624.72,666.65 625.27,667.79 625.67,669.09 625.97,670.47 626.18,671.87 626.34,673.21 626.48,674.43 626.57,675.59 626.57,676.76 626.53,677.87 626.46,678.87 626.39,679.71 626.36,680.32" fill="none" stroke="#8c8c8c" stroke-width="0.7" stroke-linejoin="round" stroke-linecap="round"/>
<polyline points="538.48,674.56 540.25,674.32 542.64,674.01 545.5,673.62 548.71,673.17 552.13,672.66 555.64,672.09 559.34,671.41 563.37,670.62 567.62,669.77 571.97,668.9 576.32,668.07 580.56,667.32 584.84,666.62 589.28,665.92 593.73,665.25 598,664.65 601.95,664.16 605.4,663.8 608.32,663.58 610.85,663.46 613.04,663.44 614.97,663.53 616.71,663.73 618.32,664.04 619.76,664.48 620.96,665.05 621.97,665.72 622.82,666.5 623.56,667.36 624.24,668.28 624.81,669.33 625.25,670.53 625.57,671.82 625.81,673.12 626,674.37 626.16,675.52 626.27,676.62 626.29,677.72 626.26,678.78 626.2,679.74 626.15,680.55 626.12,681.14" fill="none" stroke="#8c8c8c" stroke-width="0.7" stroke-linejoin="round" stroke-linecap="round"/>
<polyline points="542.18,675.54 544.11,675.34 546.73,675.08 549.86,674.77 553.32,674.39 556.95,673.93 560.57,673.39 564.29,672.71 568.26,671.91 572.4,671.03 576.61,670.13 580.8,669.25 584.88,668.46 588.98,667.71 593.22,666.96 597.43,666.23 601.48,665.57 605.21,665.02 608.48,664.62 611.27,664.36 613.68,664.2 615.78,664.16 617.62,664.23 619.27,664.4 620.79,664.69 622.12,665.11 623.22,665.64 624.13,666.29 624.88,667.04 625.52,667.87 626.09,668.77 626.56,669.79 626.88,670.96 627.1,672.22 627.23,673.49 627.32,674.72 627.39,675.85 627.43,676.92 627.39,678.01 627.3,679.06 627.2,680.01 627.1,680.8 627.05,681.39" fill="none" stroke="#8c8c8c" stroke-width="0.7" stroke-linejoin="round" stroke-linecap="round"/>
<polyline points="541.01,672.78 542.9,672.47 545.44,672.04 548.48,671.53 551.87,670.95 555.43,670.34 559.02,669.71 562.73,669.03 566.72,668.27 570.89,667.47 575.15,666.67 579.39,665.92 583.52,665.25 587.68,664.63 591.98,664.03 596.26,663.47 600.38,662.98 604.18,662.59 607.51,662.32 610.34,662.16 612.79,662.09 614.92,662.12 616.79,662.25 618.46,662.5 620.01,662.86 621.38,663.35 622.51,663.96 623.45,664.69 624.23,665.51 624.9,666.42 625.51,667.39 626.01,668.49 626.37,669.75 626.61,671.08 626.78,672.44 626.9,673.74 627,674.93 627.06,676.06 627.04,677.2 626.97,678.28 626.88,679.27 626.8,680.09 626.75,680.7" fill="none" stroke="#8c8c8c" stroke-width="0.7" stroke-linejoin="round" stroke-linecap="round"/>
<polyline points="538.63,669.97 540.41,669.54 542.81,668.93 545.68,668.22 548.9,667.45 552.33,666.68 555.84,665.97 559.55,665.28 563.57,664.56 567.81,663.84 572.16,663.15 576.5,662.52 580.74,661.97 585.01,661.49 589.45,661.05 593.88,660.66 598.15,660.35 602.08,660.11 605.53,659.98 608.44,659.93 610.96,659.94 613.15,660.04 615.08,660.24 616.81,660.55 618.42,660.98 619.85,661.55 621.05,662.24 622.06,663.05 622.91,663.95 623.65,664.93 624.32,665.99 624.89,667.17 625.32,668.51 625.63,669.93 625.87,671.36 626.05,672.74 626.21,673.99 626.31,675.18 626.34,676.36 626.3,677.49 626.24,678.51 626.19,679.36 626.16,679.99" fill="none" stroke="#8c8c8c" stroke-width="0.7" stroke-linejoin="round" stroke-linecap="round"/>
<polyline points="540.18,675.06 542.03,674.84 544.52,674.56 547.5,674.21 550.83,673.79 554.35,673.31 557.91,672.75 561.62,672.08 565.62,671.28 569.82,670.41 574.1,669.53 578.38,668.68 582.54,667.91 586.75,667.18 591.09,666.45 595.43,665.75 599.6,665.12 603.45,664.6 606.82,664.22 609.68,663.98 612.15,663.84 614.3,663.81 616.19,663.88 617.89,664.07 619.45,664.38 620.84,664.8 622,665.35 622.96,666.02 623.77,666.78 624.46,667.62 625.09,668.53 625.62,669.57 626,670.75 626.27,672.02 626.46,673.31 626.61,674.55 626.73,675.69 626.8,676.77 626.79,677.87 626.74,678.92 626.66,679.88 626.59,680.68 626.55,681.27" fill="none" stroke="#8c8c8c" stroke-width="0.7" stroke-linejoin="round" stroke-linecap="round"/>
<polyline points="534.19,669.69 535.79,669.24 537.9,668.62 540.45,667.89 543.36,667.1 546.54,666.31 549.92,665.59 553.61,664.9 557.71,664.18 562.08,663.48 566.6,662.8 571.13,662.18 575.55,661.64 580.04,661.17 584.73,660.75 589.44,660.38 593.98,660.08 598.17,659.86 601.82,659.74 604.91,659.7 607.57,659.73 609.87,659.83 611.9,660.04 613.74,660.35 615.46,660.79 617.02,661.37 618.34,662.07 619.46,662.88 620.44,663.79 621.3,664.78 622.09,665.85 622.79,667.04 623.36,668.38 623.81,669.81 624.17,671.25 624.47,672.64 624.73,673.9 624.92,675.09 625.02,676.28 625.05,677.41 625.05,678.44 625.04,679.29 625.05,679.92" fill="none" stroke="#8c8c8c" stroke-width="0.7" stroke-linejoin="round" stroke-linecap="round"/>
<polyline points="534.66,674.47 536.28,674.23 538.42,673.91 541.01,673.52 543.95,673.06 547.16,672.54 550.55,671.97 554.24,671.29 558.33,670.5 562.69,669.65 567.19,668.79 571.7,667.96 576.11,667.22 580.57,666.52 585.23,665.82 589.91,665.16 594.42,664.57 598.59,664.08 602.22,663.73 605.29,663.51 607.93,663.39 610.22,663.37 612.24,663.46 614.07,663.67 615.77,663.98 617.32,664.43 618.63,664.99 619.74,665.67 620.7,666.45 621.55,667.31 622.33,668.24 623.01,669.29 623.56,670.49 624,671.78 624.35,673.08 624.64,674.34 624.89,675.49 625.07,676.59 625.16,677.7 625.19,678.76 625.18,679.72 625.16,680.53 625.17,681.12" fill="none" stroke="#8c8c8c" stroke-width="0.7" stroke-linejoin="round" stroke-linecap="round"/>
<polyline points="538.81,672.65 540.61,672.33 543.01,671.89 545.9,671.37 549.13,670.79 552.57,670.16 556.09,669.53 559.79,668.85 563.82,668.09 568.05,667.3 572.39,666.51 576.73,665.76 580.95,665.09 585.22,664.48 589.64,663.89 594.06,663.34 598.32,662.86 602.25,662.47 605.68,662.21 608.59,662.06 611.1,661.99 613.29,662.02 615.21,662.16 616.94,662.4 618.54,662.77 619.97,663.26 621.16,663.88 622.16,664.61 623.01,665.43 623.74,666.35 624.41,667.32 624.97,668.43 625.4,669.69 625.71,671.03 625.94,672.38 626.12,673.69 626.27,674.88 626.37,676.02 626.39,677.16 626.35,678.25 626.29,679.23 626.23,680.05 626.2,680.66" fill="none" stroke="#8c8c8c" stroke-width="0.7" stroke-linejoin="round" stroke-linecap="round"/>
<polyline points="541.54,665.02 543.44,664.38 546.02,663.46 549.1,662.39 552.52,661.27 556.12,660.23 559.72,659.36 563.43,658.66 567.42,658.01 571.57,657.44 575.8,656.95 580.02,656.53 584.13,656.19 588.27,655.94 592.54,655.79 596.79,655.71 600.88,655.7 604.65,655.75 607.95,655.85 610.76,655.98 613.19,656.15 615.3,656.38 617.16,656.69 618.83,657.12 620.36,657.68 621.71,658.39 622.83,659.22 623.75,660.16 624.52,661.2 625.18,662.32 625.77,663.51 626.26,664.84 626.6,666.32 626.83,667.89 626.98,669.46 627.09,670.97 627.18,672.34 627.23,673.62 627.2,674.89 627.12,676.1 627.02,677.18 626.94,678.09 626.88,678.76" fill="none" stroke="#8c8c8c" stroke-width="0.7" stroke-linejoin="round" stroke-linecap="round"/>
<polyline points="542.76,674.97 544.71,674.75 547.37,674.46 550.54,674.1 554.04,673.68 557.7,673.19 561.34,672.63 565.06,671.95 569.02,671.16 573.14,670.3 577.33,669.42 581.5,668.57 585.55,667.8 589.63,667.08 593.83,666.35 598.01,665.66 602.02,665.04 605.72,664.52 608.96,664.14 611.73,663.9 614.12,663.77 616.21,663.74 618.04,663.82 619.67,664.01 621.17,664.31 622.49,664.74 623.57,665.3 624.46,665.96 625.2,666.73 625.82,667.57 626.38,668.49 626.83,669.53 627.14,670.71 627.33,671.98 627.45,673.27 627.52,674.52 627.59,675.66 627.61,676.74 627.56,677.84 627.46,678.9 627.35,679.85 627.25,680.65 627.19,681.24" fill="none" stroke="#8c8c8c" stroke-width="0.7" stroke-linejoin="round" stroke-linecap="round"/>
<polyline points="542.85,666.95 544.81,666.39 547.47,665.59 550.64,664.66 554.16,663.68 557.82,662.74 561.46,661.94 565.18,661.24 569.15,660.57 573.26,659.94 577.45,659.37 581.61,658.86 585.66,658.44 589.73,658.11 593.93,657.84 598.1,657.64 602.1,657.51 605.8,657.45 609.04,657.46 611.8,657.52 614.19,657.63 616.27,657.81 618.1,658.08 619.73,658.46 621.23,658.97 622.55,659.62 623.63,660.4 624.52,661.28 625.25,662.27 625.87,663.34 626.42,664.48 626.87,665.75 627.18,667.17 627.37,668.68 627.49,670.2 627.56,671.66 627.62,672.98 627.64,674.23 627.58,675.47 627.49,676.64 627.38,677.7 627.27,678.58 627.21,679.24" fill="none" stroke="#8c8c8c" stroke-width="0.7" stroke-linejoin="round" stroke-linecap="round"/>
<polyline points="532.15,671.78 533.66,671.41 535.64,670.92 538.05,670.34 540.81,669.7 543.88,669.03 547.2,668.37 550.88,667.68 555.01,666.94 559.44,666.17 564.04,665.41 568.66,664.7 573.17,664.07 577.76,663.5 582.56,662.96 587.4,662.46 592.06,662.04 596.37,661.7 600.12,661.48 603.28,661.36 606,661.32 608.36,661.38 610.44,661.53 612.32,661.8 614.1,662.18 615.71,662.7 617.09,663.34 618.27,664.1 619.3,664.95 620.22,665.88 621.07,666.89 621.83,668.02 622.45,669.3 622.97,670.67 623.39,672.05 623.74,673.38 624.05,674.59 624.28,675.74 624.41,676.9 624.48,678 624.5,679 624.51,679.83 624.54,680.44" fill="none" stroke="#8c8c8c" stroke-width="0.7" stroke-linejoin="round" stroke-linecap="round"/>
<polyline points="539.46,675.78 541.28,675.59 543.73,675.35 546.66,675.05 549.94,674.69 553.41,674.24 556.95,673.71 560.66,673.04 564.67,672.23 568.89,671.34 573.2,670.43 577.51,669.55 581.71,668.74 585.94,667.98 590.33,667.21 594.71,666.47 598.93,665.79 602.82,665.23 606.22,664.82 609.11,664.55 611.6,664.39 613.77,664.34 615.68,664.4 617.39,664.57 618.98,664.85 620.39,665.26 621.56,665.79 622.54,666.43 623.37,667.17 624.08,668 624.73,668.89 625.28,669.91 625.68,671.07 625.98,672.32 626.19,673.58 626.35,674.81 626.49,675.93 626.57,677 626.58,678.08 626.54,679.13 626.47,680.07 626.4,680.86 626.37,681.45" fill="none" stroke="#8c8c8c" stroke-width="0.7" stroke-linejoin="round" stroke-linecap="round"/>
<polyline points="537.17,667.25 538.89,666.69 541.2,665.92 543.96,665.01 547.08,664.05 550.43,663.12 553.9,662.33 557.6,661.63 561.65,660.95 565.93,660.32 570.33,659.73 574.74,659.22 579.03,658.79 583.38,658.43 587.9,658.15 592.42,657.93 596.78,657.79 600.8,657.71 604.31,657.7 607.28,657.75 609.85,657.85 612.08,658.02 614.04,658.29 615.8,658.66 617.45,659.16 618.92,659.81 620.16,660.58 621.2,661.46 622.1,662.43 622.88,663.49 623.59,664.62 624.2,665.88 624.67,667.3 625.03,668.8 625.31,670.32 625.53,671.77 625.72,673.08 625.86,674.32 625.9,675.55 625.89,676.73 625.85,677.78 625.81,678.66 625.79,679.31" fill="none" stroke="#8c8c8c" stroke-width="0.7" stroke-linejoin="round" stroke-linecap="round"/>
<polyline points="540.25,667.47 542.1,666.93 544.59,666.17 547.58,665.27 550.91,664.33 554.43,663.42 557.99,662.63 561.7,661.93 565.71,661.25 569.9,660.61 574.18,660.02 578.46,659.49 582.62,659.05 586.82,658.69 591.16,658.39 595.5,658.16 599.66,658 603.51,657.91 606.87,657.89 609.73,657.93 612.2,658.03 614.35,658.19 616.24,658.45 617.93,658.82 619.5,659.31 620.89,659.95 622.04,660.71 623,661.59 623.8,662.56 624.5,663.61 625.12,664.74 625.65,665.99 626.03,667.4 626.3,668.9 626.49,670.4 626.63,671.85 626.75,673.16 626.82,674.39 626.81,675.62 626.76,676.79 626.68,677.84 626.6,678.72 626.56,679.37" fill="none" stroke="#8c8c8c" stroke-width="0.7" stroke-linejoin="round" stroke-linecap="round"/>
<polyline points="543.82,665.78 545.82,665.16 548.54,664.3 551.78,663.28 555.36,662.21 559.08,661.21 562.75,660.37 566.48,659.67 570.42,659.01 574.51,658.42 578.66,657.89 582.78,657.44 586.79,657.07 590.81,656.79 594.95,656.59 599.07,656.46 603.01,656.41 606.65,656.41 609.85,656.48 612.57,656.58 614.93,656.73 616.99,656.94 618.79,657.23 620.41,657.64 621.88,658.18 623.17,658.87 624.22,659.68 625.08,660.6 625.79,661.62 626.38,662.72 626.91,663.89 627.33,665.19 627.6,666.65 627.77,668.2 627.86,669.75 627.9,671.24 627.94,672.59 627.94,673.86 627.87,675.12 627.76,676.31 627.64,677.38 627.52,678.28 627.45,678.94" fill="none" stroke="#8c8c8c" stroke-width="0.7" stroke-linejoin="round" stroke-linecap="round"/>
<polyline points="534.24,669.49 535.83,669.03 537.95,668.4 540.51,667.65 543.42,666.85 546.6,666.05 549.98,665.32 553.67,664.63 557.77,663.92 562.14,663.22 566.65,662.55 571.19,661.94 575.61,661.41 580.09,660.95 584.78,660.53 589.49,660.18 594.02,659.89 598.21,659.69 601.86,659.58 604.95,659.54 607.6,659.57 609.9,659.69 611.93,659.89 613.77,660.21 615.49,660.66 617.05,661.24 618.37,661.95 619.49,662.77 620.46,663.68 621.33,664.68 622.12,665.75 622.81,666.94 623.38,668.29 623.83,669.73 624.19,671.18 624.49,672.57 624.75,673.83 624.94,675.03 625.03,676.22 625.07,677.36 625.06,678.38 625.05,679.24 625.06,679.87" fill="none" stroke="#8c8c8c" stroke-width="0.7" stroke-linejoin="round" stroke-linecap="round"/>
<polyline points="540.8,672.68 544.23,671.38 549.15,669.5 554.69,667.46 560,665.69 564.96,664.25 569.98,662.94 575.02,661.74 580,660.62 585.16,659.82 590.45,659.28 595.38,658.5 599.45,657.02 602.69,654.62 605.3,651.58 607.08,648.17 607.82,644.66 607.06,640.77 605.05,636.47 602.62,632.43 600.59,629.32 599.01,627.42 597.5,626.36 596.22,625.77 595.32,625.32" fill="none" stroke="#8c8c8c" stroke-width="0.6" stroke-linejoin="round" stroke-linecap="round"/>
<polyline points="538.44,670.4 542.35,669.03 547.97,667.04 554.22,664.99 560,663.45 564.99,662.62 569.79,662.17 574.69,661.91 580,661.67 586.31,661.73 593.3,662.09 599.88,662.07 604.99,660.99 608.12,657.99 609.91,653.67 611.04,649.51 612.14,646.99 613.46,646.99 614.62,648.57 615.39,650.45 615.55,651.39 614.75,650.89 613.2,649.67 611.55,648.31 610.43,647.39" fill="none" stroke="#8c8c8c" stroke-width="0.6" stroke-linejoin="round" stroke-linecap="round"/>
<polyline points="538.54,673.14 542.43,671.98 548.02,670.31 554.24,668.52 560,667 564.86,665.86 569.45,664.89 574.31,664.01 580,663.14 587.35,662.5 595.83,662.04 603.97,661.31 610.27,659.83 614.22,656.89 616.65,652.93 618.11,649.22 619.15,647.06 619.78,647.28 619.77,649.02 619.24,651.05 618.35,652.08 616.78,651.62 614.58,650.4 612.39,649.01 610.9,648.08" fill="none" stroke="#8c8c8c" stroke-width="0.6" stroke-linejoin="round" stroke-linecap="round"/>
<polyline points="541.89,667.99 545.1,666.94 549.69,665.41 554.91,663.8 560,662.47 564.9,661.49 569.96,660.67 575.04,660.01 580,659.52 585.07,659.57 590.23,660.06 594.98,660.17 598.79,659.11 601.58,656.5 603.61,652.83 604.88,648.58 605.36,644.2 604.8,639.33 603.28,633.87 601.33,628.76 599.48,624.9 597.6,622.74 595.52,621.7 593.62,621.27 592.3,620.9" fill="none" stroke="#8c8c8c" stroke-width="0.6" stroke-linejoin="round" stroke-linecap="round"/>
<polyline points="540.96,668.44 544.36,667.62 549.23,666.42 554.73,665.2 560,664.3 564.87,663.96 569.77,663.94 574.79,663.88 580,663.44 585.82,662.59 592.07,661.5 597.96,660.09 602.71,658.3 605.89,655.54 607.98,652.03 609.59,648.93 611.3,647.36 613.48,648.23 615.73,650.73 617.54,653.44 618.39,654.95 617.77,654.68 616.07,653.43 614.15,651.94 612.86,650.95" fill="none" stroke="#8c8c8c" stroke-width="0.6" stroke-linejoin="round" stroke-linecap="round"/>
<polyline points="539.23,669.45 542.98,668.31 548.37,666.62 554.38,664.95 560,663.8 565.14,663.52 570.29,663.74 575.29,664.01 580,663.88 584.49,663.37 588.81,662.68 592.76,661.59 596.14,659.88 598.59,656.87 600.31,652.9 601.99,649.23 604.28,647.12 607.98,647.44 612.52,649.33 616.57,651.5 618.8,652.64 618.29,652.22 615.95,650.99 613.15,649.58 611.28,648.64" fill="none" stroke="#8c8c8c" stroke-width="0.6" stroke-linejoin="round" stroke-linecap="round"/>
<polyline points="539.06,671.34 542.84,670.13 548.28,668.38 554.34,666.53 560,665.01 564.79,664.01 569.31,663.26 574.18,662.57 580,661.76 587.72,660.92 596.76,660.11 605.4,659.05 611.92,657.49 615.76,654.95 617.87,651.71 618.8,648.61 619.12,646.5 618.63,645.87 617.15,646.18 615.25,646.71 613.5,646.74 611.84,645.94 610.02,644.75 608.38,643.55 607.24,642.74" fill="none" stroke="#8c8c8c" stroke-width="0.6" stroke-linejoin="round" stroke-linecap="round"/>
<polyline points="539.34,671.99 543.07,670.66 548.42,668.74 554.4,666.65 560,664.78 564.87,663.07 569.58,661.35 574.5,659.91 580,659.01 586.8,659.3 594.5,660.44 601.79,661.25 607.39,660.54 611.12,657.78 613.63,653.68 614.79,648.89 614.5,644.07 612.02,638.86 607.65,633.09 602.82,627.71 598.97,623.67 596.35,621.42 594.24,620.4 592.62,620 591.46,619.67" fill="none" stroke="#8c8c8c" stroke-width="0.6" stroke-linejoin="round" stroke-linecap="round"/>
<polyline points="541.33,671.16 544.65,669.72 549.41,667.64 554.8,665.46 560,663.75 564.64,662.62 569.22,661.8 574.18,661.2 580,660.76 587.57,660.92 596.38,661.55 604.8,661.77 611.19,660.68 615.31,657.78 617.97,653.63 619.09,648.96 618.58,644.5 615.55,640.05 610.32,635.35 604.68,631.04 600.37,627.73 597.85,625.74 596.17,624.68 595.06,624.15 594.23,623.73" fill="none" stroke="#8c8c8c" stroke-width="0.6" stroke-linejoin="round" stroke-linecap="round"/>
<polyline points="538.99,667.38 542.79,666.94 548.25,666.3 554.33,665.61 560,664.98 565.05,664.54 570.01,664.19 574.96,663.73 580,662.96 585.45,661.87 591.17,660.56 596.52,658.96 600.84,657.04 603.87,654.47 605.97,651.39 607.51,648.41 608.83,646.14 610.09,644.89 611.09,644.29 611.62,643.9 611.51,643.3 610.36,642.29 608.37,641.12 606.3,640.04 604.89,639.3" fill="none" stroke="#8c8c8c" stroke-width="0.6" stroke-linejoin="round" stroke-linecap="round"/>
<polyline points="540.77,669.52 544.2,668.74 549.13,667.64 554.69,666.39 560,665.19 564.81,663.99 569.58,662.72 574.56,661.55 580,660.65 586.53,660.43 593.83,660.69 600.72,660.65 606.01,659.55 609.36,656.81 611.42,652.97 612.45,648.91 612.73,645.52 611.94,642.99 610.06,640.87 607.82,639.05 605.93,637.46 604.43,636.08 602.99,634.96 601.76,634.09 600.9,633.46" fill="none" stroke="#8c8c8c" stroke-width="0.6" stroke-linejoin="round" stroke-linecap="round"/>
<polyline points="539.7,667.81 543.35,667.8 548.6,667.81 554.47,667.61 560,666.95 564.95,665.55 569.83,663.6 574.79,661.62 580,660.11 585.92,659.49 592.31,659.4 598.32,659.15 603.07,658.08 606.13,655.58 608.02,652.15 609.33,648.78 610.63,646.46 612.2,645.72 613.71,645.93 614.74,646.39 614.87,646.36 613.56,645.54 611.19,644.35 608.68,643.17 606.98,642.36" fill="none" stroke="#8c8c8c" stroke-width="0.6" stroke-linejoin="round" stroke-linecap="round"/>
<polyline points="538.34,669.41 542.27,668.02 547.92,665.99 554.19,663.91 560,662.34 565,661.48 569.79,661.01 574.69,660.74 580,660.48 586.34,660.55 593.37,660.94 599.96,660.93 604.99,659.8 608.15,657.04 610.03,653.14 610.91,648.9 611.08,645.17 610.24,641.98 608.36,638.96 606.12,636.27 604.18,634.08 602.55,632.49 600.95,631.38 599.55,630.63 598.58,630.08" fill="none" stroke="#8c8c8c" stroke-width="0.6" stroke-linejoin="round" stroke-linecap="round"/>
<polyline points="539.92,669.22 543.53,667.81 548.71,665.73 554.51,663.69 560,662.38 564.98,662.27 569.94,662.88 574.92,663.55 580,663.62 585.54,663.03 591.4,662.09 596.84,660.71 601.11,658.76 603.9,655.92 605.63,652.34 606.72,648.67 607.58,645.56 608.32,643.15 608.72,641.12 608.69,639.37 608.17,637.82 606.78,636.47 604.69,635.34 602.58,634.45 601.14,633.82" fill="none" stroke="#8c8c8c" stroke-width="0.6" stroke-linejoin="round" stroke-linecap="round"/>
<polyline points="539.28,668.44 543.02,668.18 548.39,667.82 554.39,667.35 560,666.78 565.11,666.05 570.22,665.17 575.21,664.26 580,663.45 584.74,663.03 589.43,662.86 593.71,662.36 597.26,660.96 599.66,657.84 601.21,653.54 602.59,649.48 604.48,647.09 607.51,647.29 611.16,649.13 614.42,651.27 616.28,652.39 616.06,651.95 614.43,650.72 612.44,649.33 611.11,648.39" fill="none" stroke="#8c8c8c" stroke-width="0.6" stroke-linejoin="round" stroke-linecap="round"/>
<polyline points="541.14,666.73 544.5,666.62 549.32,666.49 554.76,666.21 560,665.65 564.95,664.6 570.01,663.18 575.07,661.78 580,660.77 585.02,660.64 590.1,661.07 594.81,661.2 598.69,660.2 601.5,657.37 603.53,653.31 605.11,649.16 606.55,646.05 608.08,644.43 609.47,643.64 610.41,643.17 610.61,642.5 609.63,641.44 607.73,640.28 605.71,639.23 604.34,638.5" fill="none" stroke="#8c8c8c" stroke-width="0.6" stroke-linejoin="round" stroke-linecap="round"/>
<polyline points="539,673.07 542.8,672.08 548.25,670.65 554.33,669.04 560,667.48 564.85,665.9 569.48,664.24 574.37,662.68 580,661.45 587.2,660.96 595.47,660.99 603.34,660.74 609.35,659.43 613.25,656.65 615.77,652.88 616.91,648.69 616.69,644.65 614.41,640.57 610.3,636.26 605.75,632.29 602.13,629.22 599.71,627.32 597.78,626.25 596.31,625.67 595.25,625.22" fill="none" stroke="#8c8c8c" stroke-width="0.6" stroke-linejoin="round" stroke-linecap="round"/>
<polyline points="541.08,667.83 544.45,667.35 549.29,666.68 554.75,665.86 560,664.95 564.95,663.86 570.01,662.61 575.06,661.35 580,660.24 585.01,659.55 590.07,659.12 594.79,658.46 598.76,657.07 602.01,654.69 604.72,651.62 606.68,648.25 607.68,644.95 607.34,641.57 605.89,637.99 604,634.67 602.34,632.05 600.92,630.33 599.43,629.24 598.11,628.56 597.19,628.05" fill="none" stroke="#8c8c8c" stroke-width="0.6" stroke-linejoin="round" stroke-linecap="round"/>
<polyline points="540.46,692.35 542.88,692.3 546.15,692.23 550.07,692.14 554.41,692.03 558.97,691.9 563.54,691.75 568.32,691.57 573.53,691.36 578.95,691.12 584.39,690.88 589.63,690.62 594.46,690.35 598.96,690.05 603.31,689.68 607.45,689.3 611.36,688.96 614.99,688.7 618.31,688.57 621.27,688.58 623.92,688.7 626.29,688.9 628.42,689.17 630.36,689.47 632.15,689.78 633.79,690.17 635.23,690.65 636.48,691.16 637.54,691.66 638.4,692.09 639.08,692.39" fill="none" stroke="#1f77b4" stroke-width="0.75" stroke-linejoin="round" stroke-linecap="round"/>
<polyline points="545.21,686.11 547.73,685.92 551.16,685.64 555.26,685.31 559.77,684.98 564.46,684.69 569.08,684.47 573.83,684.33 578.95,684.23 584.24,684.17 589.52,684.14 594.57,684.12 599.21,684.11 603.49,684.09 607.58,684.05 611.46,684.03 615.08,684.06 618.43,684.18 621.47,684.41 624.17,684.78 626.53,685.27 628.61,685.85 630.47,686.47 632.16,687.1 633.74,687.7 635.18,688.33 636.46,689.03 637.57,689.73 638.51,690.39 639.27,690.95 639.87,691.35" fill="none" stroke="#1f77b4" stroke-width="0.75" stroke-linejoin="round" stroke-linecap="round"/>
<polyline points="540.73,695.3 543.16,695.31 546.44,695.34 550.37,695.36 554.72,695.36 559.29,695.31 563.86,695.19 568.64,694.99 573.84,694.72 579.26,694.41 584.68,694.06 589.91,693.69 594.73,693.3 599.22,692.86 603.55,692.33 607.68,691.79 611.58,691.27 615.19,690.83 618.49,690.54 621.44,690.38 624.07,690.32 626.42,690.35 628.54,690.44 630.47,690.59 632.24,690.77 633.87,691.04 635.3,691.41 636.54,691.84 637.59,692.27 638.45,692.63 639.12,692.88" fill="none" stroke="#1f77b4" stroke-width="0.75" stroke-linejoin="round" stroke-linecap="round"/>
<polyline points="550.79,687.98 553.43,687.82 557.05,687.6 561.36,687.35 566.07,687.08 570.91,686.84 575.58,686.64 580.3,686.48 585.32,686.35 590.46,686.24 595.54,686.15 600.38,686.06 604.79,685.98 608.81,685.87 612.61,685.73 616.16,685.6 619.46,685.52 622.47,685.53 625.19,685.65 627.56,685.91 629.59,686.3 631.34,686.76 632.88,687.27 634.28,687.81 635.6,688.33 636.82,688.88 637.91,689.51 638.85,690.16 639.64,690.77 640.29,691.29 640.8,691.66" fill="none" stroke="#1f77b4" stroke-width="0.75" stroke-linejoin="round" stroke-linecap="round"/>
<polyline points="541.36,689.94 543.8,689.83 547.1,689.68 551.05,689.5 555.42,689.3 560.01,689.11 564.59,688.93 569.36,688.76 574.55,688.6 579.95,688.43 585.36,688.27 590.56,688.1 595.36,687.94 599.82,687.74 604.11,687.5 608.21,687.26 612.07,687.06 615.64,686.95 618.91,686.96 621.82,687.11 624.41,687.37 626.73,687.72 628.81,688.12 630.7,688.55 632.45,688.98 634.05,689.46 635.46,690.02 636.69,690.61 637.72,691.17 638.57,691.65 639.23,691.99" fill="none" stroke="#1f77b4" stroke-width="0.75" stroke-linejoin="round" stroke-linecap="round"/>
<polyline points="541.31,690.42 543.75,690.32 547.05,690.19 550.99,690.02 555.37,689.85 559.95,689.67 564.53,689.49 569.3,689.32 574.49,689.15 579.89,688.97 585.3,688.79 590.51,688.61 595.31,688.42 599.77,688.2 604.07,687.94 608.17,687.67 612.02,687.44 615.61,687.3 618.87,687.28 621.79,687.41 624.38,687.64 626.7,687.96 628.79,688.33 630.68,688.73 632.44,689.14 634.04,689.6 635.45,690.15 636.67,690.72 637.71,691.27 638.56,691.74 639.22,692.07" fill="none" stroke="#1f77b4" stroke-width="0.75" stroke-linejoin="round" stroke-linecap="round"/>
<polyline points="545.98,695.25 548.52,695.25 551.98,695.28 556.1,695.3 560.64,695.3 565.35,695.25 569.97,695.12 574.72,694.92 579.83,694.66 585.1,694.35 590.35,694 595.37,693.63 599.98,693.25 604.22,692.81 608.28,692.29 612.11,691.74 615.69,691.23 618.99,690.79 621.98,690.5 624.63,690.35 626.95,690.29 628.99,690.32 630.81,690.42 632.45,690.56 633.99,690.75 635.41,691.02 636.66,691.4 637.74,691.83 638.66,692.25 639.41,692.62 640,692.87" fill="none" stroke="#1f77b4" stroke-width="0.75" stroke-linejoin="round" stroke-linecap="round"/>
<polyline points="547.04,694.95 549.6,694.95 553.09,694.97 557.26,694.98 561.84,694.96 566.57,694.9 571.21,694.77 575.95,694.58 581.03,694.32 586.28,694.02 591.49,693.68 596.47,693.32 601.04,692.95 605.23,692.52 609.23,692.02 613,691.49 616.52,690.99 619.75,690.58 622.69,690.3 625.28,690.16 627.53,690.13 629.51,690.17 631.26,690.29 632.86,690.45 634.35,690.65 635.72,690.93 636.94,691.32 637.99,691.76 638.88,692.19 639.61,692.57 640.17,692.82" fill="none" stroke="#1f77b4" stroke-width="0.75" stroke-linejoin="round" stroke-linecap="round"/>
<polyline points="544.61,695.88 547.12,695.9 550.53,695.94 554.6,695.99 559.09,696.01 563.76,695.97 568.37,695.85 573.13,695.65 578.26,695.38 583.57,695.05 588.86,694.68 593.94,694.28 598.61,693.88 602.91,693.4 607.04,692.85 610.95,692.27 614.61,691.72 617.99,691.25 621.07,690.92 623.8,690.73 626.2,690.64 628.32,690.63 630.21,690.69 631.93,690.8 633.54,690.96 635.01,691.2 636.31,691.56 637.43,691.97 638.38,692.38 639.16,692.74 639.77,692.98" fill="none" stroke="#1f77b4" stroke-width="0.75" stroke-linejoin="round" stroke-linecap="round"/>
<polyline points="541.56,693.17 544,693.13 547.31,693.09 551.27,693.03 555.65,692.95 560.24,692.84 564.82,692.7 569.59,692.51 574.78,692.29 580.18,692.03 585.57,691.76 590.77,691.47 595.56,691.17 600.01,690.82 604.29,690.41 608.38,689.99 612.22,689.6 615.79,689.29 619.04,689.11 621.94,689.08 624.52,689.15 626.83,689.3 628.9,689.52 630.78,689.78 632.52,690.06 634.11,690.41 635.52,690.86 636.73,691.35 637.76,691.83 638.6,692.24 639.26,692.53" fill="none" stroke="#1f77b4" stroke-width="0.75" stroke-linejoin="round" stroke-linecap="round"/>
<polyline points="546.91,692.31 549.47,692.25 552.96,692.18 557.12,692.09 561.69,691.98 566.42,691.85 571.06,691.7 575.8,691.51 580.89,691.31 586.14,691.08 591.35,690.83 596.34,690.57 600.91,690.31 605.11,690 609.11,689.64 612.89,689.26 616.42,688.92 619.66,688.67 622.61,688.54 625.2,688.56 627.46,688.68 629.44,688.88 631.21,689.15 632.81,689.45 634.3,689.77 635.68,690.16 636.9,690.64 637.96,691.15 638.85,691.66 639.58,692.08 640.15,692.39" fill="none" stroke="#1f77b4" stroke-width="0.75" stroke-linejoin="round" stroke-linecap="round"/>
<polyline points="547.68,687.43 550.26,687.27 553.78,687.03 557.97,686.75 562.57,686.47 567.32,686.21 571.97,686 576.7,685.86 581.78,685.74 587,685.64 592.19,685.56 597.15,685.49 601.68,685.43 605.85,685.35 609.81,685.24 613.55,685.15 617.02,685.1 620.22,685.13 623.12,685.29 625.67,685.58 627.89,686 629.82,686.49 631.54,687.04 633.1,687.6 634.56,688.14 635.91,688.72 637.1,689.37 638.14,690.04 639.01,690.66 639.72,691.19 640.28,691.57" fill="none" stroke="#1f77b4" stroke-width="0.75" stroke-linejoin="round" stroke-linecap="round"/>
<polyline points="542.56,695.17 545.03,695.17 548.37,695.2 552.37,695.22 556.79,695.21 561.4,695.15 565.99,695.03 570.76,694.83 575.93,694.57 581.3,694.26 586.66,693.92 591.82,693.55 596.56,693.17 600.97,692.73 605.2,692.21 609.23,691.67 613.01,691.16 616.52,690.74 619.71,690.45 622.56,690.3 625.08,690.25 627.32,690.28 629.33,690.38 631.16,690.53 632.85,690.72 634.41,691 635.78,691.38 636.96,691.81 637.97,692.24 638.79,692.61 639.43,692.86" fill="none" stroke="#1f77b4" stroke-width="0.75" stroke-linejoin="round" stroke-linecap="round"/>
<polyline points="548.76,690.2 551.36,690.09 554.91,689.95 559.14,689.78 563.78,689.6 568.57,689.41 573.22,689.23 577.95,689.06 583,688.89 588.2,688.72 593.35,688.55 598.27,688.37 602.76,688.2 606.88,687.99 610.78,687.73 614.45,687.48 617.87,687.27 621,687.14 623.84,687.13 626.33,687.27 628.48,687.52 630.35,687.85 632.01,688.23 633.51,688.65 634.92,689.07 636.23,689.54 637.38,690.09 638.38,690.67 639.23,691.23 639.92,691.7 640.46,692.03" fill="none" stroke="#1f77b4" stroke-width="0.75" stroke-linejoin="round" stroke-linecap="round"/>
<polyline points="548.38,689.37 550.97,689.25 554.51,689.08 558.73,688.87 563.35,688.66 568.13,688.45 572.78,688.26 577.51,688.1 582.57,687.95 587.78,687.8 592.94,687.65 597.87,687.51 602.38,687.37 606.52,687.2 610.44,686.99 614.13,686.78 617.57,686.62 620.73,686.54 623.59,686.58 626.1,686.76 628.27,687.06 630.16,687.44 631.84,687.88 633.37,688.34 634.79,688.79 636.12,689.29 637.28,689.87 638.3,690.48 639.15,691.06 639.85,691.55 640.4,691.89" fill="none" stroke="#1f77b4" stroke-width="0.75" stroke-linejoin="round" stroke-linecap="round"/>
<polyline points="549.46,686.56 552.08,686.38 555.66,686.11 559.91,685.8 564.58,685.49 569.38,685.2 574.04,684.99 578.76,684.85 583.81,684.74 588.99,684.67 594.11,684.62 599,684.59 603.46,684.56 607.55,684.52 611.42,684.46 615.05,684.41 618.42,684.42 621.51,684.5 624.31,684.71 626.76,685.05 628.87,685.52 630.7,686.07 632.31,686.66 633.78,687.27 635.15,687.85 636.44,688.47 637.56,689.15 638.54,689.84 639.37,690.48 640.05,691.03 640.58,691.43" fill="none" stroke="#1f77b4" stroke-width="0.75" stroke-linejoin="round" stroke-linecap="round"/>
<polyline points="546.18,685.6 548.73,685.4 552.2,685.1 556.33,684.76 560.88,684.41 565.59,684.1 570.22,683.87 574.96,683.73 580.06,683.65 585.33,683.6 590.57,683.59 595.59,683.59 600.18,683.6 604.42,683.61 608.46,683.59 612.28,683.6 615.85,683.67 619.14,683.81 622.12,684.07 624.76,684.47 627.06,684.99 629.09,685.6 630.89,686.25 632.53,686.91 634.06,687.53 635.47,688.18 636.71,688.9 637.79,689.62 638.7,690.29 639.45,690.86 640.03,691.27" fill="none" stroke="#1f77b4" stroke-width="0.75" stroke-linejoin="round" stroke-linecap="round"/>
<polyline points="541.28,692.1 543.72,692.04 547.02,691.96 550.96,691.86 555.33,691.75 559.92,691.61 564.49,691.45 569.27,691.27 574.46,691.07 579.86,690.85 585.27,690.61 590.48,690.36 595.28,690.1 599.74,689.81 604.04,689.45 608.14,689.09 612,688.76 615.59,688.52 618.85,688.4 621.77,688.43 624.37,688.56 626.69,688.78 628.77,689.06 630.67,689.37 632.43,689.7 634.03,690.1 635.44,690.58 636.67,691.11 637.7,691.61 638.55,692.05 639.21,692.35" fill="none" stroke="#1f77b4" stroke-width="0.75" stroke-linejoin="round" stroke-linecap="round"/>
<polyline points="543.97,684.51 546.47,684.29 549.86,683.95 553.91,683.56 558.38,683.17 563.03,682.84 567.63,682.6 572.39,682.47 577.54,682.4 582.87,682.39 588.18,682.41 593.28,682.46 597.97,682.51 602.31,682.57 606.47,682.61 610.41,682.68 614.11,682.81 617.54,683.02 620.65,683.34 623.41,683.81 625.85,684.39 628.01,685.06 629.94,685.78 631.69,686.49 633.32,687.17 634.82,687.86 636.14,688.61 637.29,689.37 638.25,690.07 639.05,690.66 639.66,691.09" fill="none" stroke="#1f77b4" stroke-width="0.75" stroke-linejoin="round" stroke-linecap="round"/>
<polyline points="547.37,686.94 549.94,686.76 553.44,686.51 557.62,686.21 562.21,685.91 566.96,685.63 571.6,685.42 576.33,685.28 581.41,685.17 586.65,685.08 591.85,685.02 596.82,684.98 601.37,684.94 605.55,684.87 609.53,684.79 613.28,684.73 616.78,684.71 620,684.77 622.91,684.96 625.48,685.28 627.71,685.72 629.67,686.25 631.41,686.82 632.98,687.41 634.46,687.98 635.82,688.58 637.02,689.24 638.06,689.92 638.95,690.56 639.67,691.1 640.23,691.49" fill="none" stroke="#1f77b4" stroke-width="0.75" stroke-linejoin="round" stroke-linecap="round"/>
<polyline points="549.5,691.5 552.11,691.43 555.69,691.33 559.95,691.21 564.61,691.07 569.42,690.92 574.08,690.75 578.8,690.58 583.84,690.38 589.02,690.17 594.15,689.96 599.03,689.73 603.5,689.5 607.58,689.23 611.45,688.91 615.07,688.58 618.44,688.29 621.54,688.08 624.33,688 626.78,688.06 628.88,688.23 630.71,688.49 632.33,688.8 633.79,689.14 635.17,689.5 636.44,689.92 637.57,690.43 638.55,690.97 639.38,691.49 640.06,691.94 640.58,692.25" fill="none" stroke="#1f77b4" stroke-width="0.75" stroke-linejoin="round" stroke-linecap="round"/>
<polyline points="540.2,693.77 542.62,693.75 545.88,693.72 549.78,693.69 554.12,693.63 558.67,693.54 563.24,693.4 568.02,693.21 573.23,692.98 578.66,692.71 584.11,692.41 589.36,692.1 594.2,691.77 598.71,691.4 603.07,690.96 607.23,690.5 611.16,690.07 614.81,689.73 618.13,689.52 621.12,689.45 623.78,689.48 626.16,689.6 628.31,689.78 630.26,690.01 632.07,690.26 633.71,690.59 635.16,691.02 636.42,691.49 637.49,691.95 638.36,692.35 639.03,692.63" fill="none" stroke="#1f77b4" stroke-width="0.75" stroke-linejoin="round" stroke-linecap="round"/>
<polyline points="546.29,686.77 548.84,686.59 552.31,686.34 556.45,686.03 561,685.73 565.71,685.45 570.34,685.24 575.09,685.09 580.19,684.98 585.45,684.9 590.69,684.85 595.7,684.81 600.29,684.77 604.52,684.72 608.56,684.65 612.37,684.59 615.93,684.58 619.22,684.66 622.2,684.85 624.83,685.18 627.12,685.64 629.14,686.17 630.94,686.75 632.57,687.35 634.1,687.92 635.5,688.53 636.74,689.2 637.82,689.89 638.73,690.53 639.47,691.07 640.05,691.46" fill="none" stroke="#1f77b4" stroke-width="0.75" stroke-linejoin="round" stroke-linecap="round"/>
<polyline points="547.88,690.7 550.47,690.6 553.99,690.48 558.18,690.32 562.79,690.16 567.55,689.98 572.2,689.81 576.93,689.64 582,689.46 587.22,689.28 592.4,689.09 597.35,688.89 601.88,688.7 606.04,688.46 609.99,688.18 613.71,687.9 617.18,687.66 620.37,687.5 623.26,687.46 625.8,687.57 628,687.79 629.92,688.09 631.63,688.45 633.18,688.84 634.63,689.23 635.97,689.68 637.15,690.22 638.18,690.78 639.05,691.33 639.76,691.79 640.31,692.12" fill="none" stroke="#1f77b4" stroke-width="0.75" stroke-linejoin="round" stroke-linecap="round"/>
<polyline points="547.63,693.17 550.1,693.26 553.57,693.36 557.66,693.5 561.95,693.68 566.04,693.91 569.54,694.21 572.52,694.57 575.32,694.97 577.92,695.42 580.32,695.95 582.5,696.55 584.45,697.25 586.16,698.08 587.63,699.02 588.89,700.05 589.94,701.12 590.82,702.19 591.54,703.21 592.04,704.27 592.27,705.4 592.33,706.54 592.29,707.59 592.23,708.48 592.23,709.13" fill="none" stroke="#1f77b4" stroke-width="0.6" stroke-linejoin="round" stroke-linecap="round"/>
<polyline points="547.51,692.62 549.98,692.7 553.45,692.78 557.52,692.89 561.81,693.04 565.9,693.25 569.39,693.53 572.37,693.86 575.16,694.23 577.75,694.65 580.14,695.15 582.32,695.74 584.27,696.43 585.98,697.26 587.46,698.22 588.71,699.27 589.78,700.37 590.66,701.47 591.39,702.53 591.89,703.62 592.14,704.81 592.21,706 592.18,707.11 592.13,708.04 592.14,708.72" fill="none" stroke="#1f77b4" stroke-width="0.6" stroke-linejoin="round" stroke-linecap="round"/>
<polyline points="548.5,694.88 550.99,695.02 554.5,695.19 558.62,695.4 562.95,695.66 567.09,695.97 570.63,696.35 573.65,696.79 576.49,697.28 579.14,697.83 581.58,698.43 583.79,699.1 585.75,699.82 587.45,700.63 588.9,701.53 590.12,702.48 591.13,703.46 591.96,704.43 592.63,705.35 593.05,706.28 593.21,707.26 593.18,708.22 593.06,709.11 592.93,709.86 592.88,710.41" fill="none" stroke="#1f77b4" stroke-width="0.6" stroke-linejoin="round" stroke-linecap="round"/>
<polyline points="547.75,691.15 550.21,691.19 553.69,691.22 557.78,691.26 562.08,691.34 566.18,691.48 569.68,691.69 572.67,691.95 575.47,692.24 578.08,692.59 580.48,693.02 582.67,693.55 584.62,694.23 586.33,695.07 587.79,696.07 589.04,697.18 590.1,698.36 590.97,699.54 591.68,700.69 592.17,701.9 592.39,703.22 592.44,704.56 592.38,705.8 592.32,706.85 592.31,707.61" fill="none" stroke="#1f77b4" stroke-width="0.6" stroke-linejoin="round" stroke-linecap="round"/>
<polyline points="549.18,693.74 551.68,693.84 555.22,693.97 559.37,694.13 563.73,694.33 567.9,694.59 571.47,694.92 574.52,695.3 577.4,695.73 580.09,696.22 582.56,696.77 584.79,697.4 586.76,698.1 588.46,698.92 589.89,699.85 591.08,700.86 592.06,701.9 592.85,702.93 593.47,703.92 593.85,704.93 593.94,706.02 593.85,707.1 593.66,708.1 593.47,708.94 593.38,709.55" fill="none" stroke="#1f77b4" stroke-width="0.6" stroke-linejoin="round" stroke-linecap="round"/>
<polyline points="549.98,692.43 552.51,692.5 556.07,692.57 560.26,692.68 564.66,692.82 568.87,693.01 572.47,693.28 575.56,693.61 578.49,693.97 581.22,694.38 583.73,694.87 585.99,695.45 587.97,696.14 589.65,696.97 591.06,697.94 592.22,699 593.16,700.1 593.9,701.21 594.47,702.28 594.79,703.4 594.81,704.6 594.64,705.81 594.37,706.93 594.12,707.88 593.98,708.57" fill="none" stroke="#1f77b4" stroke-width="0.6" stroke-linejoin="round" stroke-linecap="round"/>
<polyline points="546.72,693.57 549.16,693.67 552.6,693.79 556.64,693.94 560.89,694.14 564.94,694.39 568.4,694.71 571.33,695.09 574.08,695.51 576.63,695.99 578.99,696.53 581.14,697.15 583.08,697.85 584.79,698.68 586.29,699.61 587.58,700.62 588.69,701.67 589.62,702.71 590.4,703.71 590.96,704.74 591.28,705.84 591.43,706.94 591.47,707.95 591.49,708.81 591.54,709.43" fill="none" stroke="#1f77b4" stroke-width="0.6" stroke-linejoin="round" stroke-linecap="round"/>
<polyline points="549.36,694.32 551.87,694.44 555.41,694.59 559.57,694.78 563.95,695.01 568.13,695.3 571.7,695.65 574.77,696.07 577.66,696.53 580.35,697.05 582.83,697.63 585.07,698.27 587.04,698.98 588.74,699.8 590.16,700.71 591.34,701.69 592.31,702.7 593.09,703.7 593.7,704.65 594.07,705.62 594.14,706.66 594.03,707.68 593.82,708.62 593.62,709.42 593.52,709.99" fill="none" stroke="#1f77b4" stroke-width="0.6" stroke-linejoin="round" stroke-linecap="round"/>
<polyline points="547.2,692.61 549.65,692.69 553.11,692.77 557.17,692.88 561.44,693.03 565.52,693.24 569,693.52 571.96,693.85 574.73,694.22 577.31,694.64 579.69,695.14 581.85,695.73 583.8,696.42 585.51,697.25 587,698.21 588.27,699.26 589.35,700.36 590.25,701.46 591,702.52 591.52,703.61 591.8,704.8 591.9,705.99 591.9,707.1 591.87,708.03 591.9,708.71" fill="none" stroke="#1f77b4" stroke-width="0.6" stroke-linejoin="round" stroke-linecap="round"/>
<polyline points="546.34,694.61 548.77,694.74 552.19,694.9 556.22,695.1 560.45,695.34 564.48,695.65 567.92,696.01 570.84,696.44 573.57,696.92 576.1,697.45 578.43,698.04 580.57,698.7 582.51,699.41 584.23,700.22 585.73,701.13 587.04,702.1 588.17,703.09 589.12,704.08 589.92,705.01 590.51,705.96 590.86,706.97 591.05,707.96 591.13,708.87 591.18,709.65 591.25,710.21" fill="none" stroke="#1f77b4" stroke-width="0.6" stroke-linejoin="round" stroke-linecap="round"/>
<path d="M536 681 L541 679.5 L544 682 L543 687 L538 688.5 L535.5 685 Z" fill="#f7a21b" stroke="none" stroke-width="1"/>
<rect x="623" y="677.5" width="7.5" height="6.5" rx="1.5" fill="#e8222a" stroke="none" stroke-width="1"/>
<circle cx="637.5" cy="691" r="1.9" fill="#2b3a9c" stroke="none" stroke-width="1"/>
<circle cx="639.8" cy="692" r="1.9" fill="#2b3a9c" stroke="none" stroke-width="1"/>
<circle cx="641.5" cy="690.8" r="1.9" fill="#2b3a9c" stroke="none" stroke-width="1"/>
<circle cx="638.5" cy="693.5" r="1.9" fill="#2b3a9c" stroke="none" stroke-width="1"/>
<polygon points="591.2,617.5 591.65,618.58 592.82,618.67 591.93,619.44 592.2,620.58 591.2,619.97 590.2,620.58 590.47,619.44 589.58,618.67 590.75,618.58" fill="#e8222a"/>
<polygon points="593,620.3 593.45,621.38 594.62,621.47 593.73,622.24 594,623.38 593,622.76 592,623.38 592.27,622.24 591.38,621.47 592.55,621.38" fill="#e8222a"/>
<polygon points="595,623.3 595.45,624.38 596.62,624.47 595.73,625.24 596,626.38 595,625.76 594,626.38 594.27,625.24 593.38,624.47 594.55,624.38" fill="#e8222a"/>
<polygon points="597,626.3 597.45,627.38 598.62,627.47 597.73,628.24 598,629.38 597,628.76 596,629.38 596.27,628.24 595.38,627.47 596.55,627.38" fill="#e8222a"/>
<polygon points="600,628.3 600.45,629.38 601.62,629.47 600.73,630.24 601,631.38 600,630.76 599,631.38 599.27,630.24 598.38,629.47 599.55,629.38" fill="#e8222a"/>
<polygon points="603,632.3 603.45,633.38 604.62,633.47 603.73,634.24 604,635.38 603,634.76 602,635.38 602.27,634.24 601.38,633.47 602.55,633.38" fill="#e8222a"/>
<polygon points="608,639.3 608.45,640.38 609.62,640.47 608.73,641.24 609,642.38 608,641.76 607,642.38 607.27,641.24 606.38,640.47 607.55,640.38" fill="#e8222a"/>
<polygon points="613,646.3 613.45,647.38 614.62,647.47 613.73,648.24 614,649.38 613,648.76 612,649.38 612.27,648.24 611.38,647.47 612.55,647.38" fill="#e8222a"/>
<polygon points="617.4,655.6 617.85,656.68 619.02,656.77 618.13,657.54 618.4,658.68 617.4,658.06 616.4,658.68 616.67,657.54 615.78,656.77 616.95,656.68" fill="#e8222a"/>
<polygon points="590.5,708 590.98,709.14 592.21,709.24 591.27,710.05 591.56,711.26 590.5,710.61 589.44,711.26 589.73,710.05 588.79,709.24 590.02,709.14" fill="#2b3a9c"/>
<polygon points="592.5,706.2 592.98,707.34 594.21,707.44 593.27,708.25 593.56,709.46 592.5,708.81 591.44,709.46 591.73,708.25 590.79,707.44 592.02,707.34" fill="#2b3a9c"/>
<polygon points="594.5,708.2 594.98,709.34 596.21,709.44 595.27,710.25 595.56,711.46 594.5,710.81 593.44,711.46 593.73,710.25 592.79,709.44 594.02,709.34" fill="#2b3a9c"/>
<polygon points="593.5,703.2 593.98,704.34 595.21,704.44 594.27,705.25 594.56,706.46 593.5,705.81 592.44,706.46 592.73,705.25 591.79,704.44 593.02,704.34" fill="#2b3a9c"/>
<polygon points="596,701.2 596.48,702.34 597.71,702.44 596.77,703.25 597.06,704.46 596,703.81 594.94,704.46 595.23,703.25 594.29,702.44 595.52,702.34" fill="#2b3a9c"/>
</svg>
</body></html>
